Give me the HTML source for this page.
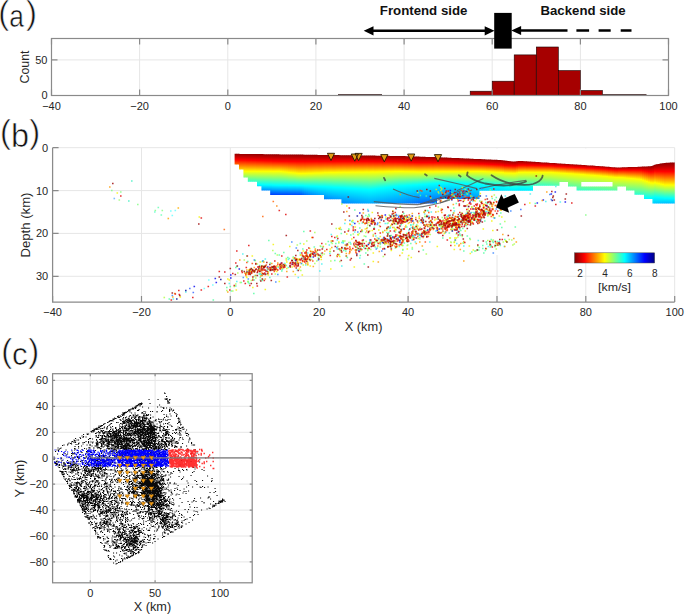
<!DOCTYPE html><html><head><meta charset="utf-8"><title>Figure</title><style>html,body{margin:0;padding:0;background:#fff;width:685px;height:614px;overflow:hidden}svg{display:block}</style></head><body><svg width="685" height="614" viewBox="0 0 685 614" font-family='"Liberation Sans", sans-serif'><defs><clipPath id="vm"><path d="M234.6 153.8L236.6 153.8L238.6 153.8L240.6 153.9L242.6 153.9L244.6 153.9L246.6 153.9L248.6 154.0L250.6 154.0L252.6 154.0L254.6 154.0L256.6 154.1L258.6 154.1L260.6 154.1L262.6 154.1L264.6 154.2L266.6 154.2L268.6 154.2L270.6 154.2L272.6 154.3L274.6 154.3L276.6 154.3L278.6 154.3L280.6 154.4L282.6 154.4L284.6 154.4L286.6 154.4L288.6 154.5L290.6 154.5L292.6 154.5L294.6 154.5L296.6 154.6L298.6 154.6L300.6 154.6L302.6 154.6L304.6 154.7L306.6 154.7L308.6 154.7L310.6 154.7L312.6 154.8L314.6 154.8L316.6 154.8L318.6 154.9L320.6 154.9L322.6 154.9L324.6 154.9L326.6 155.0L328.6 155.0L330.6 155.0L332.6 155.1L334.6 155.1L336.6 155.1L338.6 155.1L340.6 155.2L342.6 155.2L344.6 155.2L346.6 155.3L348.6 155.3L350.6 155.3L352.6 155.3L354.6 155.4L356.6 155.4L358.6 155.4L360.6 155.4L362.6 155.5L364.6 155.5L366.6 155.5L368.6 155.6L370.6 155.6L372.6 155.6L374.6 155.6L376.6 155.7L378.6 155.7L380.6 155.7L382.6 155.8L384.6 155.8L386.6 155.8L388.6 155.8L390.6 155.9L392.6 155.9L394.6 155.9L396.6 156.0L398.6 156.0L400.6 156.0L402.6 156.1L404.6 156.1L406.6 156.2L408.6 156.3L410.6 156.3L412.6 156.4L414.6 156.5L416.6 156.5L418.6 156.6L420.6 156.7L422.6 156.7L424.6 156.8L426.6 156.9L428.6 156.9L430.6 157.0L432.6 157.1L434.6 157.1L436.6 157.2L438.6 157.3L440.6 157.3L442.6 157.4L444.6 157.5L446.6 157.6L448.6 157.7L450.6 157.8L452.6 157.9L454.6 158.0L456.6 158.0L458.6 158.1L460.6 158.2L462.6 158.3L464.6 158.4L466.6 158.5L468.6 158.6L470.6 158.7L472.6 158.8L474.6 158.9L476.6 158.9L478.6 159.0L480.6 159.1L482.6 159.2L484.6 159.3L486.6 159.4L488.6 159.5L490.6 159.6L492.6 159.7L494.6 159.8L496.6 159.8L498.6 159.9L500.6 160.1L502.6 160.3L504.6 160.5L506.6 160.7L508.6 160.9L510.6 161.2L512.6 161.4L514.6 161.6L516.6 161.3L518.6 161.1L520.6 160.9L522.6 161.1L524.6 161.2L526.6 161.3L528.6 161.5L530.6 161.6L532.6 161.7L534.6 161.8L536.6 162.0L538.6 162.1L540.6 162.2L542.6 162.4L544.6 162.5L546.6 162.6L548.6 162.8L550.6 162.9L552.6 163.0L554.6 163.1L556.6 163.3L558.6 163.4L560.6 163.5L562.6 163.7L564.6 163.8L566.6 163.9L568.6 164.1L570.6 164.2L572.6 164.3L574.6 164.4L576.6 164.6L578.6 164.7L580.6 164.8L582.6 165.0L584.6 165.1L586.6 165.2L588.6 165.4L590.6 165.5L592.6 165.6L594.6 165.7L596.6 165.9L598.6 166.0L600.6 166.2L602.6 166.3L604.6 166.5L606.6 166.7L608.6 166.8L610.6 167.0L612.6 167.2L614.6 167.3L616.6 167.5L618.6 167.4L620.6 167.4L622.6 167.3L624.6 167.3L626.6 167.2L628.6 167.1L630.6 167.1L632.6 167.0L634.6 167.0L636.6 166.9L638.6 166.8L640.6 166.8L642.6 166.6L644.6 166.5L646.6 166.4L648.6 166.3L650.6 166.2L652.6 165.8L654.6 164.7L656.6 164.2L658.6 163.9L660.6 163.5L662.6 163.2L664.6 162.9L666.6 162.8L668.6 162.7L670.6 162.6L672.6 162.6L674.6 162.5L674.7 162.5L674.7 203.5L652.5 203.5L652.5 199.1L644.0 199.1L644.0 194.7L634.5 194.7L634.5 190.5L626.0 190.5L626.0 186.4L617.4 186.4L617.4 190.5L576.6 190.5L576.6 186.4L568.0 186.4L568.0 182.0L559.5 182.0L559.5 185.8L533.0 185.8L533.0 190.7L479.5 190.7L479.5 199.0L437.0 199.0L437.0 203.5L341.4 203.5L341.4 199.3L324.0 199.3L324.0 194.9L270.2 194.9L270.2 190.5L261.4 190.5L261.4 186.2L257.0 186.2L257.0 181.8L247.8 181.8L247.8 177.4L243.4 177.4L243.4 169.5L239.0 169.5L239.0 164.6L234.6 164.6ZM581.3 182H612.6V186.4H581.3Z" clip-rule="evenodd"/></clipPath><linearGradient id="v0" x2="0" y2="1"><stop offset="0.000" stop-color="#800000"/><stop offset="0.143" stop-color="#ff0000"/><stop offset="0.377" stop-color="#ffff00"/><stop offset="0.633" stop-color="#00ffff"/><stop offset="0.878" stop-color="#0000ff"/><stop offset="1.000" stop-color="#0000a0"/></linearGradient><linearGradient id="v1" x2="0" y2="1"><stop offset="0.000" stop-color="#800000"/><stop offset="0.144" stop-color="#ff0000"/><stop offset="0.376" stop-color="#ffff00"/><stop offset="0.632" stop-color="#00ffff"/><stop offset="0.878" stop-color="#0000ff"/><stop offset="1.000" stop-color="#0000a0"/></linearGradient><linearGradient id="v2" x2="0" y2="1"><stop offset="0.000" stop-color="#800000"/><stop offset="0.144" stop-color="#ff0000"/><stop offset="0.375" stop-color="#ffff00"/><stop offset="0.632" stop-color="#00ffff"/><stop offset="0.878" stop-color="#0000ff"/><stop offset="1.000" stop-color="#0000a0"/></linearGradient><linearGradient id="v3" x2="0" y2="1"><stop offset="0.000" stop-color="#800000"/><stop offset="0.145" stop-color="#ff0000"/><stop offset="0.374" stop-color="#ffff00"/><stop offset="0.632" stop-color="#00ffff"/><stop offset="0.878" stop-color="#0000ff"/><stop offset="1.000" stop-color="#0000a0"/></linearGradient><linearGradient id="v4" x2="0" y2="1"><stop offset="0.000" stop-color="#800000"/><stop offset="0.146" stop-color="#ff0000"/><stop offset="0.373" stop-color="#ffff00"/><stop offset="0.632" stop-color="#00ffff"/><stop offset="0.879" stop-color="#0000ff"/><stop offset="1.000" stop-color="#0000a0"/></linearGradient><linearGradient id="v5" x2="0" y2="1"><stop offset="0.000" stop-color="#800000"/><stop offset="0.146" stop-color="#ff0000"/><stop offset="0.371" stop-color="#ffff00"/><stop offset="0.631" stop-color="#00ffff"/><stop offset="0.879" stop-color="#0000ff"/><stop offset="1.000" stop-color="#0000a0"/></linearGradient><linearGradient id="v6" x2="0" y2="1"><stop offset="0.000" stop-color="#800000"/><stop offset="0.147" stop-color="#ff0000"/><stop offset="0.370" stop-color="#ffff00"/><stop offset="0.631" stop-color="#00ffff"/><stop offset="0.879" stop-color="#0000ff"/><stop offset="1.000" stop-color="#0000a0"/></linearGradient><linearGradient id="v7" x2="0" y2="1"><stop offset="0.000" stop-color="#800000"/><stop offset="0.148" stop-color="#ff0000"/><stop offset="0.369" stop-color="#ffff00"/><stop offset="0.631" stop-color="#00ffff"/><stop offset="0.879" stop-color="#0000ff"/><stop offset="1.000" stop-color="#0000a0"/></linearGradient><linearGradient id="v8" x2="0" y2="1"><stop offset="0.000" stop-color="#800000"/><stop offset="0.148" stop-color="#ff0000"/><stop offset="0.368" stop-color="#ffff00"/><stop offset="0.631" stop-color="#00ffff"/><stop offset="0.879" stop-color="#0000ff"/><stop offset="1.000" stop-color="#0000a0"/></linearGradient><linearGradient id="v9" x2="0" y2="1"><stop offset="0.000" stop-color="#800000"/><stop offset="0.149" stop-color="#ff0000"/><stop offset="0.367" stop-color="#ffff00"/><stop offset="0.630" stop-color="#00ffff"/><stop offset="0.880" stop-color="#0000ff"/><stop offset="1.000" stop-color="#0000a0"/></linearGradient><linearGradient id="v10" x2="0" y2="1"><stop offset="0.000" stop-color="#800000"/><stop offset="0.149" stop-color="#ff0000"/><stop offset="0.366" stop-color="#ffff00"/><stop offset="0.630" stop-color="#00ffff"/><stop offset="0.880" stop-color="#0000ff"/><stop offset="1.000" stop-color="#0000a0"/></linearGradient><linearGradient id="v11" x2="0" y2="1"><stop offset="0.000" stop-color="#800000"/><stop offset="0.150" stop-color="#ff0000"/><stop offset="0.365" stop-color="#ffff00"/><stop offset="0.630" stop-color="#00ffff"/><stop offset="0.880" stop-color="#0000ff"/><stop offset="1.000" stop-color="#0000a0"/></linearGradient><linearGradient id="v12" x2="0" y2="1"><stop offset="0.000" stop-color="#800000"/><stop offset="0.151" stop-color="#ff0000"/><stop offset="0.364" stop-color="#ffff00"/><stop offset="0.630" stop-color="#00ffff"/><stop offset="0.880" stop-color="#0000ff"/><stop offset="1.000" stop-color="#0000a0"/></linearGradient><linearGradient id="v13" x2="0" y2="1"><stop offset="0.000" stop-color="#800000"/><stop offset="0.151" stop-color="#ff0000"/><stop offset="0.363" stop-color="#ffff00"/><stop offset="0.630" stop-color="#00ffff"/><stop offset="0.880" stop-color="#0000ff"/><stop offset="1.000" stop-color="#0000a0"/></linearGradient><linearGradient id="v14" x2="0" y2="1"><stop offset="0.000" stop-color="#800000"/><stop offset="0.152" stop-color="#ff0000"/><stop offset="0.362" stop-color="#ffff00"/><stop offset="0.629" stop-color="#00ffff"/><stop offset="0.881" stop-color="#0000ff"/><stop offset="1.000" stop-color="#0000a0"/></linearGradient><linearGradient id="v15" x2="0" y2="1"><stop offset="0.000" stop-color="#800000"/><stop offset="0.152" stop-color="#ff0000"/><stop offset="0.361" stop-color="#ffff00"/><stop offset="0.629" stop-color="#00ffff"/><stop offset="0.881" stop-color="#0000ff"/><stop offset="1.000" stop-color="#0000a0"/></linearGradient><linearGradient id="v16" x2="0" y2="1"><stop offset="0.000" stop-color="#800000"/><stop offset="0.153" stop-color="#ff0000"/><stop offset="0.360" stop-color="#ffff00"/><stop offset="0.629" stop-color="#00ffff"/><stop offset="0.881" stop-color="#0000ff"/><stop offset="1.000" stop-color="#0000a0"/></linearGradient><linearGradient id="v17" x2="0" y2="1"><stop offset="0.000" stop-color="#800000"/><stop offset="0.154" stop-color="#ff0000"/><stop offset="0.359" stop-color="#ffff00"/><stop offset="0.629" stop-color="#00ffff"/><stop offset="0.881" stop-color="#0000ff"/><stop offset="1.000" stop-color="#0000a0"/></linearGradient><linearGradient id="v18" x2="0" y2="1"><stop offset="0.000" stop-color="#800000"/><stop offset="0.154" stop-color="#ff0000"/><stop offset="0.358" stop-color="#ffff00"/><stop offset="0.628" stop-color="#00ffff"/><stop offset="0.881" stop-color="#0000ff"/><stop offset="1.000" stop-color="#0000a0"/></linearGradient><linearGradient id="v19" x2="0" y2="1"><stop offset="0.000" stop-color="#800000"/><stop offset="0.155" stop-color="#ff0000"/><stop offset="0.357" stop-color="#ffff00"/><stop offset="0.628" stop-color="#00ffff"/><stop offset="0.882" stop-color="#0000ff"/><stop offset="1.000" stop-color="#0000a0"/></linearGradient><linearGradient id="v20" x2="0" y2="1"><stop offset="0.000" stop-color="#800000"/><stop offset="0.155" stop-color="#ff0000"/><stop offset="0.356" stop-color="#ffff00"/><stop offset="0.628" stop-color="#00ffff"/><stop offset="0.882" stop-color="#0000ff"/><stop offset="1.000" stop-color="#0000a0"/></linearGradient><linearGradient id="v21" x2="0" y2="1"><stop offset="0.000" stop-color="#800000"/><stop offset="0.156" stop-color="#ff0000"/><stop offset="0.354" stop-color="#ffff00"/><stop offset="0.628" stop-color="#00ffff"/><stop offset="0.882" stop-color="#0000ff"/><stop offset="1.000" stop-color="#0000a0"/></linearGradient><linearGradient id="v22" x2="0" y2="1"><stop offset="0.000" stop-color="#800000"/><stop offset="0.157" stop-color="#ff0000"/><stop offset="0.353" stop-color="#ffff00"/><stop offset="0.628" stop-color="#00ffff"/><stop offset="0.882" stop-color="#0000ff"/><stop offset="1.000" stop-color="#0000a0"/></linearGradient><linearGradient id="v23" x2="0" y2="1"><stop offset="0.000" stop-color="#800000"/><stop offset="0.157" stop-color="#ff0000"/><stop offset="0.355" stop-color="#ffff00"/><stop offset="0.627" stop-color="#00ffff"/><stop offset="0.882" stop-color="#0000ff"/><stop offset="1.000" stop-color="#0000a0"/></linearGradient><linearGradient id="v24" x2="0" y2="1"><stop offset="0.000" stop-color="#800000"/><stop offset="0.157" stop-color="#ff0000"/><stop offset="0.359" stop-color="#ffff00"/><stop offset="0.627" stop-color="#00ffff"/><stop offset="0.882" stop-color="#0000ff"/><stop offset="1.000" stop-color="#0000a0"/></linearGradient><linearGradient id="v25" x2="0" y2="1"><stop offset="0.000" stop-color="#800000"/><stop offset="0.157" stop-color="#ff0000"/><stop offset="0.363" stop-color="#ffff00"/><stop offset="0.627" stop-color="#00ffff"/><stop offset="0.882" stop-color="#0000ff"/><stop offset="1.000" stop-color="#0000a0"/></linearGradient><linearGradient id="v26" x2="0" y2="1"><stop offset="0.000" stop-color="#800000"/><stop offset="0.157" stop-color="#ff0000"/><stop offset="0.367" stop-color="#ffff00"/><stop offset="0.627" stop-color="#00ffff"/><stop offset="0.882" stop-color="#0000ff"/><stop offset="1.000" stop-color="#0000a0"/></linearGradient><linearGradient id="v27" x2="0" y2="1"><stop offset="0.000" stop-color="#800000"/><stop offset="0.157" stop-color="#ff0000"/><stop offset="0.371" stop-color="#ffff00"/><stop offset="0.627" stop-color="#00ffff"/><stop offset="0.882" stop-color="#0000ff"/><stop offset="1.000" stop-color="#0000a0"/></linearGradient><linearGradient id="v28" x2="0" y2="1"><stop offset="0.000" stop-color="#800000"/><stop offset="0.157" stop-color="#ff0000"/><stop offset="0.375" stop-color="#ffff00"/><stop offset="0.627" stop-color="#00ffff"/><stop offset="0.882" stop-color="#0000ff"/><stop offset="1.000" stop-color="#0000a0"/></linearGradient><linearGradient id="v29" x2="0" y2="1"><stop offset="0.000" stop-color="#800000"/><stop offset="0.157" stop-color="#ff0000"/><stop offset="0.378" stop-color="#ffff00"/><stop offset="0.627" stop-color="#00ffff"/><stop offset="0.882" stop-color="#0000ff"/><stop offset="1.000" stop-color="#0000a0"/></linearGradient><linearGradient id="v30" x2="0" y2="1"><stop offset="0.000" stop-color="#800000"/><stop offset="0.157" stop-color="#ff0000"/><stop offset="0.382" stop-color="#ffff00"/><stop offset="0.627" stop-color="#00ffff"/><stop offset="0.882" stop-color="#0000ff"/><stop offset="1.000" stop-color="#0000a0"/></linearGradient><linearGradient id="v31" x2="0" y2="1"><stop offset="0.000" stop-color="#800000"/><stop offset="0.157" stop-color="#ff0000"/><stop offset="0.386" stop-color="#ffff00"/><stop offset="0.627" stop-color="#00ffff"/><stop offset="0.882" stop-color="#0000ff"/><stop offset="1.000" stop-color="#0000a0"/></linearGradient><linearGradient id="v32" x2="0" y2="1"><stop offset="0.000" stop-color="#800000"/><stop offset="0.157" stop-color="#ff0000"/><stop offset="0.390" stop-color="#ffff00"/><stop offset="0.627" stop-color="#00ffff"/><stop offset="0.882" stop-color="#0000ff"/><stop offset="1.000" stop-color="#0000a0"/></linearGradient><linearGradient id="v33" x2="0" y2="1"><stop offset="0.000" stop-color="#800000"/><stop offset="0.155" stop-color="#ff0000"/><stop offset="0.387" stop-color="#ffff00"/><stop offset="0.622" stop-color="#00ffff"/><stop offset="0.884" stop-color="#0000ff"/><stop offset="1.000" stop-color="#0000a0"/></linearGradient><linearGradient id="v34" x2="0" y2="1"><stop offset="0.000" stop-color="#800000"/><stop offset="0.151" stop-color="#ff0000"/><stop offset="0.377" stop-color="#ffff00"/><stop offset="0.610" stop-color="#00ffff"/><stop offset="0.886" stop-color="#0000ff"/><stop offset="1.000" stop-color="#0000a0"/></linearGradient><linearGradient id="v35" x2="0" y2="1"><stop offset="0.000" stop-color="#800000"/><stop offset="0.148" stop-color="#ff0000"/><stop offset="0.368" stop-color="#ffff00"/><stop offset="0.599" stop-color="#00ffff"/><stop offset="0.888" stop-color="#0000ff"/><stop offset="1.000" stop-color="#0000a0"/></linearGradient><linearGradient id="v36" x2="0" y2="1"><stop offset="0.000" stop-color="#800000"/><stop offset="0.144" stop-color="#ff0000"/><stop offset="0.359" stop-color="#ffff00"/><stop offset="0.589" stop-color="#00ffff"/><stop offset="0.890" stop-color="#0000ff"/><stop offset="1.000" stop-color="#0000a0"/></linearGradient><linearGradient id="v37" x2="0" y2="1"><stop offset="0.000" stop-color="#800000"/><stop offset="0.141" stop-color="#ff0000"/><stop offset="0.350" stop-color="#ffff00"/><stop offset="0.579" stop-color="#00ffff"/><stop offset="0.892" stop-color="#0000ff"/><stop offset="1.000" stop-color="#0000a0"/></linearGradient><linearGradient id="v38" x2="0" y2="1"><stop offset="0.000" stop-color="#800000"/><stop offset="0.137" stop-color="#ff0000"/><stop offset="0.342" stop-color="#ffff00"/><stop offset="0.569" stop-color="#00ffff"/><stop offset="0.894" stop-color="#0000ff"/><stop offset="1.000" stop-color="#0000a0"/></linearGradient><linearGradient id="v39" x2="0" y2="1"><stop offset="0.000" stop-color="#800000"/><stop offset="0.134" stop-color="#ff0000"/><stop offset="0.334" stop-color="#ffff00"/><stop offset="0.560" stop-color="#00ffff"/><stop offset="0.896" stop-color="#0000ff"/><stop offset="1.000" stop-color="#0000a0"/></linearGradient><linearGradient id="v40" x2="0" y2="1"><stop offset="0.000" stop-color="#800000"/><stop offset="0.131" stop-color="#ff0000"/><stop offset="0.326" stop-color="#ffff00"/><stop offset="0.551" stop-color="#00ffff"/><stop offset="0.898" stop-color="#0000ff"/><stop offset="1.000" stop-color="#0000a0"/></linearGradient><linearGradient id="v41" x2="0" y2="1"><stop offset="0.000" stop-color="#800000"/><stop offset="0.128" stop-color="#ff0000"/><stop offset="0.319" stop-color="#ffff00"/><stop offset="0.542" stop-color="#00ffff"/><stop offset="0.900" stop-color="#0000ff"/><stop offset="1.000" stop-color="#0000a0"/></linearGradient><linearGradient id="v42" x2="0" y2="1"><stop offset="0.000" stop-color="#800000"/><stop offset="0.126" stop-color="#ff0000"/><stop offset="0.312" stop-color="#ffff00"/><stop offset="0.534" stop-color="#00ffff"/><stop offset="0.902" stop-color="#0000ff"/><stop offset="1.000" stop-color="#0000a0"/></linearGradient><linearGradient id="v43" x2="0" y2="1"><stop offset="0.000" stop-color="#800000"/><stop offset="0.123" stop-color="#ff0000"/><stop offset="0.305" stop-color="#ffff00"/><stop offset="0.526" stop-color="#00ffff"/><stop offset="0.904" stop-color="#0000ff"/><stop offset="1.000" stop-color="#0000a0"/></linearGradient><linearGradient id="v44" x2="0" y2="1"><stop offset="0.000" stop-color="#800000"/><stop offset="0.120" stop-color="#ff0000"/><stop offset="0.298" stop-color="#ffff00"/><stop offset="0.518" stop-color="#00ffff"/><stop offset="0.905" stop-color="#0000ff"/><stop offset="1.000" stop-color="#0000a0"/></linearGradient><linearGradient id="v45" x2="0" y2="1"><stop offset="0.000" stop-color="#800000"/><stop offset="0.118" stop-color="#ff0000"/><stop offset="0.291" stop-color="#ffff00"/><stop offset="0.510" stop-color="#00ffff"/><stop offset="0.907" stop-color="#0000ff"/><stop offset="1.000" stop-color="#0000a0"/></linearGradient><linearGradient id="v46" x2="0" y2="1"><stop offset="0.000" stop-color="#800000"/><stop offset="0.115" stop-color="#ff0000"/><stop offset="0.285" stop-color="#ffff00"/><stop offset="0.503" stop-color="#00ffff"/><stop offset="0.908" stop-color="#0000ff"/><stop offset="1.000" stop-color="#0000a0"/></linearGradient><linearGradient id="v47" x2="0" y2="1"><stop offset="0.000" stop-color="#800000"/><stop offset="0.113" stop-color="#ff0000"/><stop offset="0.279" stop-color="#ffff00"/><stop offset="0.496" stop-color="#00ffff"/><stop offset="0.910" stop-color="#0000ff"/><stop offset="1.000" stop-color="#0000a0"/></linearGradient><linearGradient id="v48" x2="0" y2="1"><stop offset="0.000" stop-color="#800000"/><stop offset="0.111" stop-color="#ff0000"/><stop offset="0.274" stop-color="#ffff00"/><stop offset="0.491" stop-color="#00ffff"/><stop offset="0.911" stop-color="#0000ff"/><stop offset="1.000" stop-color="#0000a0"/></linearGradient><linearGradient id="v49" x2="0" y2="1"><stop offset="0.000" stop-color="#800000"/><stop offset="0.110" stop-color="#ff0000"/><stop offset="0.270" stop-color="#ffff00"/><stop offset="0.487" stop-color="#00ffff"/><stop offset="0.912" stop-color="#0000ff"/><stop offset="1.000" stop-color="#0000a0"/></linearGradient><linearGradient id="v50" x2="0" y2="1"><stop offset="0.000" stop-color="#800000"/><stop offset="0.108" stop-color="#ff0000"/><stop offset="0.267" stop-color="#ffff00"/><stop offset="0.483" stop-color="#00ffff"/><stop offset="0.913" stop-color="#0000ff"/><stop offset="1.000" stop-color="#0000a0"/></linearGradient><linearGradient id="v51" x2="0" y2="1"><stop offset="0.000" stop-color="#800000"/><stop offset="0.106" stop-color="#ff0000"/><stop offset="0.263" stop-color="#ffff00"/><stop offset="0.479" stop-color="#00ffff"/><stop offset="0.914" stop-color="#0000ff"/><stop offset="1.000" stop-color="#0000a0"/></linearGradient><linearGradient id="v52" x2="0" y2="1"><stop offset="0.000" stop-color="#800000"/><stop offset="0.105" stop-color="#ff0000"/><stop offset="0.259" stop-color="#ffff00"/><stop offset="0.475" stop-color="#00ffff"/><stop offset="0.915" stop-color="#0000ff"/><stop offset="1.000" stop-color="#0000a0"/></linearGradient><linearGradient id="v53" x2="0" y2="1"><stop offset="0.000" stop-color="#800000"/><stop offset="0.104" stop-color="#ff0000"/><stop offset="0.256" stop-color="#ffff00"/><stop offset="0.472" stop-color="#00ffff"/><stop offset="0.916" stop-color="#0000ff"/><stop offset="1.000" stop-color="#0000a0"/></linearGradient><linearGradient id="v54" x2="0" y2="1"><stop offset="0.000" stop-color="#800000"/><stop offset="0.102" stop-color="#ff0000"/><stop offset="0.252" stop-color="#ffff00"/><stop offset="0.468" stop-color="#00ffff"/><stop offset="0.917" stop-color="#0000ff"/><stop offset="1.000" stop-color="#0000a0"/></linearGradient><linearGradient id="v55" x2="0" y2="1"><stop offset="0.000" stop-color="#800000"/><stop offset="0.101" stop-color="#ff0000"/><stop offset="0.249" stop-color="#ffff00"/><stop offset="0.465" stop-color="#00ffff"/><stop offset="0.917" stop-color="#0000ff"/><stop offset="1.000" stop-color="#0000a0"/></linearGradient><linearGradient id="v56" x2="0" y2="1"><stop offset="0.000" stop-color="#800000"/><stop offset="0.099" stop-color="#ff0000"/><stop offset="0.246" stop-color="#ffff00"/><stop offset="0.461" stop-color="#00ffff"/><stop offset="0.918" stop-color="#0000ff"/><stop offset="1.000" stop-color="#0000a0"/></linearGradient><linearGradient id="v57" x2="0" y2="1"><stop offset="0.000" stop-color="#800000"/><stop offset="0.098" stop-color="#ff0000"/><stop offset="0.243" stop-color="#ffff00"/><stop offset="0.458" stop-color="#00ffff"/><stop offset="0.919" stop-color="#0000ff"/><stop offset="1.000" stop-color="#0000a0"/></linearGradient><linearGradient id="v58" x2="0" y2="1"><stop offset="0.000" stop-color="#800000"/><stop offset="0.097" stop-color="#ff0000"/><stop offset="0.239" stop-color="#ffff00"/><stop offset="0.455" stop-color="#00ffff"/><stop offset="0.920" stop-color="#0000ff"/><stop offset="1.000" stop-color="#0000a0"/></linearGradient><linearGradient id="v59" x2="0" y2="1"><stop offset="0.000" stop-color="#800000"/><stop offset="0.095" stop-color="#ff0000"/><stop offset="0.236" stop-color="#ffff00"/><stop offset="0.452" stop-color="#00ffff"/><stop offset="0.921" stop-color="#0000ff"/><stop offset="1.000" stop-color="#0000a0"/></linearGradient><linearGradient id="v60" x2="0" y2="1"><stop offset="0.000" stop-color="#800000"/><stop offset="0.094" stop-color="#ff0000"/><stop offset="0.233" stop-color="#ffff00"/><stop offset="0.448" stop-color="#00ffff"/><stop offset="0.921" stop-color="#0000ff"/><stop offset="1.000" stop-color="#0000a0"/></linearGradient><linearGradient id="v61" x2="0" y2="1"><stop offset="0.000" stop-color="#800000"/><stop offset="0.093" stop-color="#ff0000"/><stop offset="0.230" stop-color="#ffff00"/><stop offset="0.445" stop-color="#00ffff"/><stop offset="0.922" stop-color="#0000ff"/><stop offset="1.000" stop-color="#0000a0"/></linearGradient><linearGradient id="v62" x2="0" y2="1"><stop offset="0.000" stop-color="#800000"/><stop offset="0.092" stop-color="#ff0000"/><stop offset="0.227" stop-color="#ffff00"/><stop offset="0.442" stop-color="#00ffff"/><stop offset="0.923" stop-color="#0000ff"/><stop offset="1.000" stop-color="#0000a0"/></linearGradient><linearGradient id="v63" x2="0" y2="1"><stop offset="0.000" stop-color="#800000"/><stop offset="0.090" stop-color="#ff0000"/><stop offset="0.224" stop-color="#ffff00"/><stop offset="0.439" stop-color="#00ffff"/><stop offset="0.924" stop-color="#0000ff"/><stop offset="1.000" stop-color="#0000a0"/></linearGradient><linearGradient id="v64" x2="0" y2="1"><stop offset="0.000" stop-color="#800000"/><stop offset="0.089" stop-color="#ff0000"/><stop offset="0.222" stop-color="#ffff00"/><stop offset="0.437" stop-color="#00ffff"/><stop offset="0.924" stop-color="#0000ff"/><stop offset="1.000" stop-color="#0000a0"/></linearGradient><linearGradient id="v65" x2="0" y2="1"><stop offset="0.000" stop-color="#800000"/><stop offset="0.088" stop-color="#ff0000"/><stop offset="0.219" stop-color="#ffff00"/><stop offset="0.434" stop-color="#00ffff"/><stop offset="0.925" stop-color="#0000ff"/><stop offset="1.000" stop-color="#0000a0"/></linearGradient><linearGradient id="v66" x2="0" y2="1"><stop offset="0.000" stop-color="#800000"/><stop offset="0.087" stop-color="#ff0000"/><stop offset="0.216" stop-color="#ffff00"/><stop offset="0.431" stop-color="#00ffff"/><stop offset="0.926" stop-color="#0000ff"/><stop offset="1.000" stop-color="#0000a0"/></linearGradient><linearGradient id="v67" x2="0" y2="1"><stop offset="0.000" stop-color="#800000"/><stop offset="0.086" stop-color="#ff0000"/><stop offset="0.214" stop-color="#ffff00"/><stop offset="0.428" stop-color="#00ffff"/><stop offset="0.926" stop-color="#0000ff"/><stop offset="1.000" stop-color="#0000a0"/></linearGradient><linearGradient id="v68" x2="0" y2="1"><stop offset="0.000" stop-color="#800000"/><stop offset="0.086" stop-color="#ff0000"/><stop offset="0.212" stop-color="#ffff00"/><stop offset="0.426" stop-color="#00ffff"/><stop offset="0.927" stop-color="#0000ff"/><stop offset="1.000" stop-color="#0000a0"/></linearGradient><linearGradient id="v69" x2="0" y2="1"><stop offset="0.000" stop-color="#800000"/><stop offset="0.086" stop-color="#ff0000"/><stop offset="0.212" stop-color="#ffff00"/><stop offset="0.425" stop-color="#00ffff"/><stop offset="0.926" stop-color="#0000ff"/><stop offset="1.000" stop-color="#0000a0"/></linearGradient><linearGradient id="v70" x2="0" y2="1"><stop offset="0.000" stop-color="#800000"/><stop offset="0.086" stop-color="#ff0000"/><stop offset="0.213" stop-color="#ffff00"/><stop offset="0.423" stop-color="#00ffff"/><stop offset="0.926" stop-color="#0000ff"/><stop offset="1.000" stop-color="#0000a0"/></linearGradient><linearGradient id="v71" x2="0" y2="1"><stop offset="0.000" stop-color="#800000"/><stop offset="0.087" stop-color="#ff0000"/><stop offset="0.213" stop-color="#ffff00"/><stop offset="0.421" stop-color="#00ffff"/><stop offset="0.926" stop-color="#0000ff"/><stop offset="1.000" stop-color="#0000a0"/></linearGradient><linearGradient id="v72" x2="0" y2="1"><stop offset="0.000" stop-color="#800000"/><stop offset="0.087" stop-color="#ff0000"/><stop offset="0.213" stop-color="#ffff00"/><stop offset="0.420" stop-color="#00ffff"/><stop offset="0.925" stop-color="#0000ff"/><stop offset="1.000" stop-color="#0000a0"/></linearGradient><linearGradient id="v73" x2="0" y2="1"><stop offset="0.000" stop-color="#800000"/><stop offset="0.087" stop-color="#ff0000"/><stop offset="0.213" stop-color="#ffff00"/><stop offset="0.418" stop-color="#00ffff"/><stop offset="0.925" stop-color="#0000ff"/><stop offset="1.000" stop-color="#0000a0"/></linearGradient><linearGradient id="v74" x2="0" y2="1"><stop offset="0.000" stop-color="#800000"/><stop offset="0.088" stop-color="#ff0000"/><stop offset="0.213" stop-color="#ffff00"/><stop offset="0.417" stop-color="#00ffff"/><stop offset="0.925" stop-color="#0000ff"/><stop offset="1.000" stop-color="#0000a0"/></linearGradient><linearGradient id="v75" x2="0" y2="1"><stop offset="0.000" stop-color="#800000"/><stop offset="0.088" stop-color="#ff0000"/><stop offset="0.213" stop-color="#ffff00"/><stop offset="0.415" stop-color="#00ffff"/><stop offset="0.925" stop-color="#0000ff"/><stop offset="1.000" stop-color="#0000a0"/></linearGradient><linearGradient id="v76" x2="0" y2="1"><stop offset="0.000" stop-color="#800000"/><stop offset="0.088" stop-color="#ff0000"/><stop offset="0.213" stop-color="#ffff00"/><stop offset="0.413" stop-color="#00ffff"/><stop offset="0.924" stop-color="#0000ff"/><stop offset="1.000" stop-color="#0000a0"/></linearGradient><linearGradient id="v77" x2="0" y2="1"><stop offset="0.000" stop-color="#800000"/><stop offset="0.089" stop-color="#ff0000"/><stop offset="0.213" stop-color="#ffff00"/><stop offset="0.412" stop-color="#00ffff"/><stop offset="0.924" stop-color="#0000ff"/><stop offset="1.000" stop-color="#0000a0"/></linearGradient><linearGradient id="v78" x2="0" y2="1"><stop offset="0.000" stop-color="#800000"/><stop offset="0.089" stop-color="#ff0000"/><stop offset="0.214" stop-color="#ffff00"/><stop offset="0.410" stop-color="#00ffff"/><stop offset="0.924" stop-color="#0000ff"/><stop offset="1.000" stop-color="#0000a0"/></linearGradient><linearGradient id="v79" x2="0" y2="1"><stop offset="0.000" stop-color="#800000"/><stop offset="0.090" stop-color="#ff0000"/><stop offset="0.214" stop-color="#ffff00"/><stop offset="0.409" stop-color="#00ffff"/><stop offset="0.923" stop-color="#0000ff"/><stop offset="1.000" stop-color="#0000a0"/></linearGradient><linearGradient id="v80" x2="0" y2="1"><stop offset="0.000" stop-color="#800000"/><stop offset="0.090" stop-color="#ff0000"/><stop offset="0.214" stop-color="#ffff00"/><stop offset="0.407" stop-color="#00ffff"/><stop offset="0.923" stop-color="#0000ff"/><stop offset="1.000" stop-color="#0000a0"/></linearGradient><linearGradient id="v81" x2="0" y2="1"><stop offset="0.000" stop-color="#800000"/><stop offset="0.090" stop-color="#ff0000"/><stop offset="0.214" stop-color="#ffff00"/><stop offset="0.405" stop-color="#00ffff"/><stop offset="0.923" stop-color="#0000ff"/><stop offset="1.000" stop-color="#0000a0"/></linearGradient><linearGradient id="v82" x2="0" y2="1"><stop offset="0.000" stop-color="#800000"/><stop offset="0.091" stop-color="#ff0000"/><stop offset="0.214" stop-color="#ffff00"/><stop offset="0.403" stop-color="#00ffff"/><stop offset="0.922" stop-color="#0000ff"/><stop offset="1.000" stop-color="#0000a0"/></linearGradient><linearGradient id="v83" x2="0" y2="1"><stop offset="0.000" stop-color="#800000"/><stop offset="0.092" stop-color="#ff0000"/><stop offset="0.216" stop-color="#ffff00"/><stop offset="0.404" stop-color="#00ffff"/><stop offset="0.922" stop-color="#0000ff"/><stop offset="1.000" stop-color="#0000a0"/></linearGradient><linearGradient id="v84" x2="0" y2="1"><stop offset="0.000" stop-color="#800000"/><stop offset="0.093" stop-color="#ff0000"/><stop offset="0.218" stop-color="#ffff00"/><stop offset="0.407" stop-color="#00ffff"/><stop offset="0.921" stop-color="#0000ff"/><stop offset="1.000" stop-color="#0000a0"/></linearGradient><linearGradient id="v85" x2="0" y2="1"><stop offset="0.000" stop-color="#800000"/><stop offset="0.094" stop-color="#ff0000"/><stop offset="0.221" stop-color="#ffff00"/><stop offset="0.409" stop-color="#00ffff"/><stop offset="0.919" stop-color="#0000ff"/><stop offset="1.000" stop-color="#0000a0"/></linearGradient><linearGradient id="v86" x2="0" y2="1"><stop offset="0.000" stop-color="#800000"/><stop offset="0.095" stop-color="#ff0000"/><stop offset="0.224" stop-color="#ffff00"/><stop offset="0.412" stop-color="#00ffff"/><stop offset="0.918" stop-color="#0000ff"/><stop offset="1.000" stop-color="#0000a0"/></linearGradient><linearGradient id="v87" x2="0" y2="1"><stop offset="0.000" stop-color="#800000"/><stop offset="0.097" stop-color="#ff0000"/><stop offset="0.226" stop-color="#ffff00"/><stop offset="0.415" stop-color="#00ffff"/><stop offset="0.917" stop-color="#0000ff"/><stop offset="1.000" stop-color="#0000a0"/></linearGradient><linearGradient id="v88" x2="0" y2="1"><stop offset="0.000" stop-color="#800000"/><stop offset="0.098" stop-color="#ff0000"/><stop offset="0.229" stop-color="#ffff00"/><stop offset="0.418" stop-color="#00ffff"/><stop offset="0.916" stop-color="#0000ff"/><stop offset="1.000" stop-color="#0000a0"/></linearGradient><linearGradient id="v89" x2="0" y2="1"><stop offset="0.000" stop-color="#800000"/><stop offset="0.099" stop-color="#ff0000"/><stop offset="0.232" stop-color="#ffff00"/><stop offset="0.421" stop-color="#00ffff"/><stop offset="0.915" stop-color="#0000ff"/><stop offset="1.000" stop-color="#0000a0"/></linearGradient><linearGradient id="v90" x2="0" y2="1"><stop offset="0.000" stop-color="#800000"/><stop offset="0.101" stop-color="#ff0000"/><stop offset="0.235" stop-color="#ffff00"/><stop offset="0.424" stop-color="#00ffff"/><stop offset="0.914" stop-color="#0000ff"/><stop offset="1.000" stop-color="#0000a0"/></linearGradient><linearGradient id="v91" x2="0" y2="1"><stop offset="0.000" stop-color="#800000"/><stop offset="0.102" stop-color="#ff0000"/><stop offset="0.238" stop-color="#ffff00"/><stop offset="0.428" stop-color="#00ffff"/><stop offset="0.912" stop-color="#0000ff"/><stop offset="1.000" stop-color="#0000a0"/></linearGradient><linearGradient id="v92" x2="0" y2="1"><stop offset="0.000" stop-color="#800000"/><stop offset="0.104" stop-color="#ff0000"/><stop offset="0.242" stop-color="#ffff00"/><stop offset="0.431" stop-color="#00ffff"/><stop offset="0.911" stop-color="#0000ff"/><stop offset="1.000" stop-color="#0000a0"/></linearGradient><linearGradient id="v93" x2="0" y2="1"><stop offset="0.000" stop-color="#800000"/><stop offset="0.104" stop-color="#ff0000"/><stop offset="0.243" stop-color="#ffff00"/><stop offset="0.432" stop-color="#00ffff"/><stop offset="0.910" stop-color="#0000ff"/><stop offset="1.000" stop-color="#0000a0"/></linearGradient><linearGradient id="v94" x2="0" y2="1"><stop offset="0.000" stop-color="#800000"/><stop offset="0.104" stop-color="#ff0000"/><stop offset="0.243" stop-color="#ffff00"/><stop offset="0.431" stop-color="#00ffff"/><stop offset="0.910" stop-color="#0000ff"/><stop offset="1.000" stop-color="#0000a0"/></linearGradient><linearGradient id="v95" x2="0" y2="1"><stop offset="0.000" stop-color="#800000"/><stop offset="0.103" stop-color="#ff0000"/><stop offset="0.242" stop-color="#ffff00"/><stop offset="0.430" stop-color="#00ffff"/><stop offset="0.910" stop-color="#0000ff"/><stop offset="1.000" stop-color="#0000a0"/></linearGradient><linearGradient id="v96" x2="0" y2="1"><stop offset="0.000" stop-color="#800000"/><stop offset="0.102" stop-color="#ff0000"/><stop offset="0.242" stop-color="#ffff00"/><stop offset="0.428" stop-color="#00ffff"/><stop offset="0.909" stop-color="#0000ff"/><stop offset="1.000" stop-color="#0000a0"/></linearGradient><linearGradient id="v97" x2="0" y2="1"><stop offset="0.000" stop-color="#800000"/><stop offset="0.102" stop-color="#ff0000"/><stop offset="0.242" stop-color="#ffff00"/><stop offset="0.427" stop-color="#00ffff"/><stop offset="0.909" stop-color="#0000ff"/><stop offset="1.000" stop-color="#0000a0"/></linearGradient><linearGradient id="v98" x2="0" y2="1"><stop offset="0.000" stop-color="#800000"/><stop offset="0.101" stop-color="#ff0000"/><stop offset="0.241" stop-color="#ffff00"/><stop offset="0.426" stop-color="#00ffff"/><stop offset="0.908" stop-color="#0000ff"/><stop offset="1.000" stop-color="#0000a0"/></linearGradient><linearGradient id="v99" x2="0" y2="1"><stop offset="0.000" stop-color="#800000"/><stop offset="0.101" stop-color="#ff0000"/><stop offset="0.241" stop-color="#ffff00"/><stop offset="0.424" stop-color="#00ffff"/><stop offset="0.908" stop-color="#0000ff"/><stop offset="1.000" stop-color="#0000a0"/></linearGradient><linearGradient id="v100" x2="0" y2="1"><stop offset="0.000" stop-color="#800000"/><stop offset="0.100" stop-color="#ff0000"/><stop offset="0.241" stop-color="#ffff00"/><stop offset="0.423" stop-color="#00ffff"/><stop offset="0.908" stop-color="#0000ff"/><stop offset="1.000" stop-color="#0000a0"/></linearGradient><linearGradient id="v101" x2="0" y2="1"><stop offset="0.000" stop-color="#800000"/><stop offset="0.099" stop-color="#ff0000"/><stop offset="0.240" stop-color="#ffff00"/><stop offset="0.422" stop-color="#00ffff"/><stop offset="0.907" stop-color="#0000ff"/><stop offset="1.000" stop-color="#0000a0"/></linearGradient><linearGradient id="v102" x2="0" y2="1"><stop offset="0.000" stop-color="#800000"/><stop offset="0.099" stop-color="#ff0000"/><stop offset="0.240" stop-color="#ffff00"/><stop offset="0.420" stop-color="#00ffff"/><stop offset="0.907" stop-color="#0000ff"/><stop offset="1.000" stop-color="#0000a0"/></linearGradient><linearGradient id="v103" x2="0" y2="1"><stop offset="0.000" stop-color="#800000"/><stop offset="0.098" stop-color="#ff0000"/><stop offset="0.240" stop-color="#ffff00"/><stop offset="0.419" stop-color="#00ffff"/><stop offset="0.907" stop-color="#0000ff"/><stop offset="1.000" stop-color="#0000a0"/></linearGradient><linearGradient id="v104" x2="0" y2="1"><stop offset="0.000" stop-color="#800000"/><stop offset="0.097" stop-color="#ff0000"/><stop offset="0.239" stop-color="#ffff00"/><stop offset="0.418" stop-color="#00ffff"/><stop offset="0.906" stop-color="#0000ff"/><stop offset="1.000" stop-color="#0000a0"/></linearGradient><linearGradient id="v105" x2="0" y2="1"><stop offset="0.000" stop-color="#800000"/><stop offset="0.097" stop-color="#ff0000"/><stop offset="0.239" stop-color="#ffff00"/><stop offset="0.416" stop-color="#00ffff"/><stop offset="0.906" stop-color="#0000ff"/><stop offset="1.000" stop-color="#0000a0"/></linearGradient><linearGradient id="v106" x2="0" y2="1"><stop offset="0.000" stop-color="#800000"/><stop offset="0.096" stop-color="#ff0000"/><stop offset="0.239" stop-color="#ffff00"/><stop offset="0.415" stop-color="#00ffff"/><stop offset="0.905" stop-color="#0000ff"/><stop offset="1.000" stop-color="#0000a0"/></linearGradient><linearGradient id="v107" x2="0" y2="1"><stop offset="0.000" stop-color="#800000"/><stop offset="0.096" stop-color="#ff0000"/><stop offset="0.238" stop-color="#ffff00"/><stop offset="0.413" stop-color="#00ffff"/><stop offset="0.905" stop-color="#0000ff"/><stop offset="1.000" stop-color="#0000a0"/></linearGradient><linearGradient id="v108" x2="0" y2="1"><stop offset="0.000" stop-color="#800000"/><stop offset="0.095" stop-color="#ff0000"/><stop offset="0.237" stop-color="#ffff00"/><stop offset="0.412" stop-color="#00ffff"/><stop offset="0.905" stop-color="#0000ff"/><stop offset="1.000" stop-color="#0000a0"/></linearGradient><linearGradient id="v109" x2="0" y2="1"><stop offset="0.000" stop-color="#800000"/><stop offset="0.094" stop-color="#ff0000"/><stop offset="0.234" stop-color="#ffff00"/><stop offset="0.411" stop-color="#00ffff"/><stop offset="0.905" stop-color="#0000ff"/><stop offset="1.000" stop-color="#0000a0"/></linearGradient><linearGradient id="v110" x2="0" y2="1"><stop offset="0.000" stop-color="#800000"/><stop offset="0.094" stop-color="#ff0000"/><stop offset="0.231" stop-color="#ffff00"/><stop offset="0.410" stop-color="#00ffff"/><stop offset="0.906" stop-color="#0000ff"/><stop offset="1.000" stop-color="#0000a0"/></linearGradient><linearGradient id="v111" x2="0" y2="1"><stop offset="0.000" stop-color="#800000"/><stop offset="0.093" stop-color="#ff0000"/><stop offset="0.228" stop-color="#ffff00"/><stop offset="0.408" stop-color="#00ffff"/><stop offset="0.906" stop-color="#0000ff"/><stop offset="1.000" stop-color="#0000a0"/></linearGradient><linearGradient id="v112" x2="0" y2="1"><stop offset="0.000" stop-color="#800000"/><stop offset="0.093" stop-color="#ff0000"/><stop offset="0.226" stop-color="#ffff00"/><stop offset="0.407" stop-color="#00ffff"/><stop offset="0.907" stop-color="#0000ff"/><stop offset="1.000" stop-color="#0000a0"/></linearGradient><linearGradient id="v113" x2="0" y2="1"><stop offset="0.000" stop-color="#800000"/><stop offset="0.092" stop-color="#ff0000"/><stop offset="0.223" stop-color="#ffff00"/><stop offset="0.406" stop-color="#00ffff"/><stop offset="0.907" stop-color="#0000ff"/><stop offset="1.000" stop-color="#0000a0"/></linearGradient><linearGradient id="v114" x2="0" y2="1"><stop offset="0.000" stop-color="#800000"/><stop offset="0.091" stop-color="#ff0000"/><stop offset="0.220" stop-color="#ffff00"/><stop offset="0.405" stop-color="#00ffff"/><stop offset="0.907" stop-color="#0000ff"/><stop offset="1.000" stop-color="#0000a0"/></linearGradient><linearGradient id="v115" x2="0" y2="1"><stop offset="0.000" stop-color="#800000"/><stop offset="0.091" stop-color="#ff0000"/><stop offset="0.218" stop-color="#ffff00"/><stop offset="0.404" stop-color="#00ffff"/><stop offset="0.908" stop-color="#0000ff"/><stop offset="1.000" stop-color="#0000a0"/></linearGradient><linearGradient id="v116" x2="0" y2="1"><stop offset="0.000" stop-color="#800000"/><stop offset="0.090" stop-color="#ff0000"/><stop offset="0.215" stop-color="#ffff00"/><stop offset="0.403" stop-color="#00ffff"/><stop offset="0.908" stop-color="#0000ff"/><stop offset="1.000" stop-color="#0000a0"/></linearGradient><linearGradient id="v117" x2="0" y2="1"><stop offset="0.000" stop-color="#800000"/><stop offset="0.090" stop-color="#ff0000"/><stop offset="0.212" stop-color="#ffff00"/><stop offset="0.402" stop-color="#00ffff"/><stop offset="0.908" stop-color="#0000ff"/><stop offset="1.000" stop-color="#0000a0"/></linearGradient><linearGradient id="v118" x2="0" y2="1"><stop offset="0.000" stop-color="#800000"/><stop offset="0.089" stop-color="#ff0000"/><stop offset="0.210" stop-color="#ffff00"/><stop offset="0.400" stop-color="#00ffff"/><stop offset="0.909" stop-color="#0000ff"/><stop offset="1.000" stop-color="#0000a0"/></linearGradient><linearGradient id="v119" x2="0" y2="1"><stop offset="0.000" stop-color="#800000"/><stop offset="0.088" stop-color="#ff0000"/><stop offset="0.207" stop-color="#ffff00"/><stop offset="0.399" stop-color="#00ffff"/><stop offset="0.909" stop-color="#0000ff"/><stop offset="1.000" stop-color="#0000a0"/></linearGradient><linearGradient id="v120" x2="0" y2="1"><stop offset="0.000" stop-color="#800000"/><stop offset="0.088" stop-color="#ff0000"/><stop offset="0.205" stop-color="#ffff00"/><stop offset="0.398" stop-color="#00ffff"/><stop offset="0.910" stop-color="#0000ff"/><stop offset="1.000" stop-color="#0000a0"/></linearGradient><linearGradient id="v121" x2="0" y2="1"><stop offset="0.000" stop-color="#800000"/><stop offset="0.087" stop-color="#ff0000"/><stop offset="0.202" stop-color="#ffff00"/><stop offset="0.397" stop-color="#00ffff"/><stop offset="0.910" stop-color="#0000ff"/><stop offset="1.000" stop-color="#0000a0"/></linearGradient><linearGradient id="v122" x2="0" y2="1"><stop offset="0.000" stop-color="#800000"/><stop offset="0.087" stop-color="#ff0000"/><stop offset="0.200" stop-color="#ffff00"/><stop offset="0.396" stop-color="#00ffff"/><stop offset="0.910" stop-color="#0000ff"/><stop offset="1.000" stop-color="#0000a0"/></linearGradient><linearGradient id="v123" x2="0" y2="1"><stop offset="0.000" stop-color="#800000"/><stop offset="0.087" stop-color="#ff0000"/><stop offset="0.198" stop-color="#ffff00"/><stop offset="0.396" stop-color="#00ffff"/><stop offset="0.911" stop-color="#0000ff"/><stop offset="1.000" stop-color="#0000a0"/></linearGradient><linearGradient id="v124" x2="0" y2="1"><stop offset="0.000" stop-color="#800000"/><stop offset="0.086" stop-color="#ff0000"/><stop offset="0.198" stop-color="#ffff00"/><stop offset="0.396" stop-color="#00ffff"/><stop offset="0.911" stop-color="#0000ff"/><stop offset="1.000" stop-color="#0000a0"/></linearGradient><linearGradient id="v125" x2="0" y2="1"><stop offset="0.000" stop-color="#800000"/><stop offset="0.086" stop-color="#ff0000"/><stop offset="0.197" stop-color="#ffff00"/><stop offset="0.396" stop-color="#00ffff"/><stop offset="0.911" stop-color="#0000ff"/><stop offset="1.000" stop-color="#0000a0"/></linearGradient><linearGradient id="v126" x2="0" y2="1"><stop offset="0.000" stop-color="#800000"/><stop offset="0.086" stop-color="#ff0000"/><stop offset="0.197" stop-color="#ffff00"/><stop offset="0.396" stop-color="#00ffff"/><stop offset="0.911" stop-color="#0000ff"/><stop offset="1.000" stop-color="#0000a0"/></linearGradient><linearGradient id="v127" x2="0" y2="1"><stop offset="0.000" stop-color="#800000"/><stop offset="0.086" stop-color="#ff0000"/><stop offset="0.196" stop-color="#ffff00"/><stop offset="0.397" stop-color="#00ffff"/><stop offset="0.911" stop-color="#0000ff"/><stop offset="1.000" stop-color="#0000a0"/></linearGradient><linearGradient id="v128" x2="0" y2="1"><stop offset="0.000" stop-color="#800000"/><stop offset="0.086" stop-color="#ff0000"/><stop offset="0.196" stop-color="#ffff00"/><stop offset="0.397" stop-color="#00ffff"/><stop offset="0.912" stop-color="#0000ff"/><stop offset="1.000" stop-color="#0000a0"/></linearGradient><linearGradient id="v129" x2="0" y2="1"><stop offset="0.000" stop-color="#800000"/><stop offset="0.086" stop-color="#ff0000"/><stop offset="0.195" stop-color="#ffff00"/><stop offset="0.397" stop-color="#00ffff"/><stop offset="0.912" stop-color="#0000ff"/><stop offset="1.000" stop-color="#0000a0"/></linearGradient><linearGradient id="v130" x2="0" y2="1"><stop offset="0.000" stop-color="#800000"/><stop offset="0.086" stop-color="#ff0000"/><stop offset="0.195" stop-color="#ffff00"/><stop offset="0.397" stop-color="#00ffff"/><stop offset="0.912" stop-color="#0000ff"/><stop offset="1.000" stop-color="#0000a0"/></linearGradient><linearGradient id="v131" x2="0" y2="1"><stop offset="0.000" stop-color="#800000"/><stop offset="0.086" stop-color="#ff0000"/><stop offset="0.195" stop-color="#ffff00"/><stop offset="0.398" stop-color="#00ffff"/><stop offset="0.912" stop-color="#0000ff"/><stop offset="1.000" stop-color="#0000a0"/></linearGradient><linearGradient id="v132" x2="0" y2="1"><stop offset="0.000" stop-color="#800000"/><stop offset="0.086" stop-color="#ff0000"/><stop offset="0.194" stop-color="#ffff00"/><stop offset="0.398" stop-color="#00ffff"/><stop offset="0.912" stop-color="#0000ff"/><stop offset="1.000" stop-color="#0000a0"/></linearGradient><linearGradient id="v133" x2="0" y2="1"><stop offset="0.000" stop-color="#800000"/><stop offset="0.086" stop-color="#ff0000"/><stop offset="0.194" stop-color="#ffff00"/><stop offset="0.398" stop-color="#00ffff"/><stop offset="0.913" stop-color="#0000ff"/><stop offset="1.000" stop-color="#0000a0"/></linearGradient><linearGradient id="v134" x2="0" y2="1"><stop offset="0.000" stop-color="#800000"/><stop offset="0.086" stop-color="#ff0000"/><stop offset="0.193" stop-color="#ffff00"/><stop offset="0.398" stop-color="#00ffff"/><stop offset="0.913" stop-color="#0000ff"/><stop offset="1.000" stop-color="#0000a0"/></linearGradient><linearGradient id="v135" x2="0" y2="1"><stop offset="0.000" stop-color="#800000"/><stop offset="0.086" stop-color="#ff0000"/><stop offset="0.193" stop-color="#ffff00"/><stop offset="0.399" stop-color="#00ffff"/><stop offset="0.913" stop-color="#0000ff"/><stop offset="1.000" stop-color="#0000a0"/></linearGradient><linearGradient id="v136" x2="0" y2="1"><stop offset="0.000" stop-color="#800000"/><stop offset="0.084" stop-color="#ff0000"/><stop offset="0.191" stop-color="#ffff00"/><stop offset="0.398" stop-color="#00ffff"/><stop offset="0.913" stop-color="#0000ff"/><stop offset="1.000" stop-color="#0000a0"/></linearGradient><linearGradient id="v137" x2="0" y2="1"><stop offset="0.000" stop-color="#800000"/><stop offset="0.083" stop-color="#ff0000"/><stop offset="0.188" stop-color="#ffff00"/><stop offset="0.398" stop-color="#00ffff"/><stop offset="0.913" stop-color="#0000ff"/><stop offset="1.000" stop-color="#0000a0"/></linearGradient><linearGradient id="v138" x2="0" y2="1"><stop offset="0.000" stop-color="#800000"/><stop offset="0.081" stop-color="#ff0000"/><stop offset="0.186" stop-color="#ffff00"/><stop offset="0.397" stop-color="#00ffff"/><stop offset="0.914" stop-color="#0000ff"/><stop offset="1.000" stop-color="#0000a0"/></linearGradient><linearGradient id="v139" x2="0" y2="1"><stop offset="0.000" stop-color="#800000"/><stop offset="0.080" stop-color="#ff0000"/><stop offset="0.184" stop-color="#ffff00"/><stop offset="0.397" stop-color="#00ffff"/><stop offset="0.914" stop-color="#0000ff"/><stop offset="1.000" stop-color="#0000a0"/></linearGradient><linearGradient id="v140" x2="0" y2="1"><stop offset="0.000" stop-color="#800000"/><stop offset="0.079" stop-color="#ff0000"/><stop offset="0.182" stop-color="#ffff00"/><stop offset="0.396" stop-color="#00ffff"/><stop offset="0.914" stop-color="#0000ff"/><stop offset="1.000" stop-color="#0000a0"/></linearGradient><linearGradient id="v141" x2="0" y2="1"><stop offset="0.000" stop-color="#800000"/><stop offset="0.077" stop-color="#ff0000"/><stop offset="0.180" stop-color="#ffff00"/><stop offset="0.396" stop-color="#00ffff"/><stop offset="0.914" stop-color="#0000ff"/><stop offset="1.000" stop-color="#0000a0"/></linearGradient><linearGradient id="v142" x2="0" y2="1"><stop offset="0.000" stop-color="#800000"/><stop offset="0.076" stop-color="#ff0000"/><stop offset="0.178" stop-color="#ffff00"/><stop offset="0.395" stop-color="#00ffff"/><stop offset="0.914" stop-color="#0000ff"/><stop offset="1.000" stop-color="#0000a0"/></linearGradient><linearGradient id="v143" x2="0" y2="1"><stop offset="0.000" stop-color="#800000"/><stop offset="0.075" stop-color="#ff0000"/><stop offset="0.176" stop-color="#ffff00"/><stop offset="0.395" stop-color="#00ffff"/><stop offset="0.914" stop-color="#0000ff"/><stop offset="1.000" stop-color="#0000a0"/></linearGradient><linearGradient id="v144" x2="0" y2="1"><stop offset="0.000" stop-color="#800000"/><stop offset="0.073" stop-color="#ff0000"/><stop offset="0.174" stop-color="#ffff00"/><stop offset="0.395" stop-color="#00ffff"/><stop offset="0.915" stop-color="#0000ff"/><stop offset="1.000" stop-color="#0000a0"/></linearGradient><linearGradient id="v145" x2="0" y2="1"><stop offset="0.000" stop-color="#800000"/><stop offset="0.072" stop-color="#ff0000"/><stop offset="0.171" stop-color="#ffff00"/><stop offset="0.394" stop-color="#00ffff"/><stop offset="0.915" stop-color="#0000ff"/><stop offset="1.000" stop-color="#0000a0"/></linearGradient><linearGradient id="v146" x2="0" y2="1"><stop offset="0.000" stop-color="#800000"/><stop offset="0.071" stop-color="#ff0000"/><stop offset="0.169" stop-color="#ffff00"/><stop offset="0.394" stop-color="#00ffff"/><stop offset="0.915" stop-color="#0000ff"/><stop offset="1.000" stop-color="#0000a0"/></linearGradient><linearGradient id="v147" x2="0" y2="1"><stop offset="0.000" stop-color="#800000"/><stop offset="0.069" stop-color="#ff0000"/><stop offset="0.167" stop-color="#ffff00"/><stop offset="0.393" stop-color="#00ffff"/><stop offset="0.915" stop-color="#0000ff"/><stop offset="1.000" stop-color="#0000a0"/></linearGradient><linearGradient id="v148" x2="0" y2="1"><stop offset="0.000" stop-color="#800000"/><stop offset="0.068" stop-color="#ff0000"/><stop offset="0.165" stop-color="#ffff00"/><stop offset="0.393" stop-color="#00ffff"/><stop offset="0.915" stop-color="#0000ff"/><stop offset="1.000" stop-color="#0000a0"/></linearGradient><linearGradient id="v149" x2="0" y2="1"><stop offset="0.000" stop-color="#800000"/><stop offset="0.067" stop-color="#ff0000"/><stop offset="0.163" stop-color="#ffff00"/><stop offset="0.392" stop-color="#00ffff"/><stop offset="0.915" stop-color="#0000ff"/><stop offset="1.000" stop-color="#0000a0"/></linearGradient><linearGradient id="v150" x2="0" y2="1"><stop offset="0.000" stop-color="#800000"/><stop offset="0.065" stop-color="#ff0000"/><stop offset="0.161" stop-color="#ffff00"/><stop offset="0.392" stop-color="#00ffff"/><stop offset="0.915" stop-color="#0000ff"/><stop offset="1.000" stop-color="#0000a0"/></linearGradient><linearGradient id="v151" x2="0" y2="1"><stop offset="0.000" stop-color="#800000"/><stop offset="0.064" stop-color="#ff0000"/><stop offset="0.159" stop-color="#ffff00"/><stop offset="0.392" stop-color="#00ffff"/><stop offset="0.916" stop-color="#0000ff"/><stop offset="1.000" stop-color="#0000a0"/></linearGradient><linearGradient id="v152" x2="0" y2="1"><stop offset="0.000" stop-color="#800000"/><stop offset="0.063" stop-color="#ff0000"/><stop offset="0.157" stop-color="#ffff00"/><stop offset="0.391" stop-color="#00ffff"/><stop offset="0.916" stop-color="#0000ff"/><stop offset="1.000" stop-color="#0000a0"/></linearGradient><linearGradient id="v153" x2="0" y2="1"><stop offset="0.000" stop-color="#800000"/><stop offset="0.061" stop-color="#ff0000"/><stop offset="0.155" stop-color="#ffff00"/><stop offset="0.391" stop-color="#00ffff"/><stop offset="0.916" stop-color="#0000ff"/><stop offset="1.000" stop-color="#0000a0"/></linearGradient><linearGradient id="v154" x2="0" y2="1"><stop offset="0.000" stop-color="#800000"/><stop offset="0.060" stop-color="#ff0000"/><stop offset="0.153" stop-color="#ffff00"/><stop offset="0.390" stop-color="#00ffff"/><stop offset="0.916" stop-color="#0000ff"/><stop offset="1.000" stop-color="#0000a0"/></linearGradient><linearGradient id="v155" x2="0" y2="1"><stop offset="0.000" stop-color="#800000"/><stop offset="0.059" stop-color="#ff0000"/><stop offset="0.151" stop-color="#ffff00"/><stop offset="0.390" stop-color="#00ffff"/><stop offset="0.916" stop-color="#0000ff"/><stop offset="1.000" stop-color="#0000a0"/></linearGradient><linearGradient id="v156" x2="0" y2="1"><stop offset="0.000" stop-color="#800000"/><stop offset="0.057" stop-color="#ff0000"/><stop offset="0.149" stop-color="#ffff00"/><stop offset="0.390" stop-color="#00ffff"/><stop offset="0.916" stop-color="#0000ff"/><stop offset="1.000" stop-color="#0000a0"/></linearGradient><linearGradient id="v157" x2="0" y2="1"><stop offset="0.000" stop-color="#800000"/><stop offset="0.056" stop-color="#ff0000"/><stop offset="0.147" stop-color="#ffff00"/><stop offset="0.389" stop-color="#00ffff"/><stop offset="0.917" stop-color="#0000ff"/><stop offset="1.000" stop-color="#0000a0"/></linearGradient><linearGradient id="v158" x2="0" y2="1"><stop offset="0.000" stop-color="#800000"/><stop offset="0.055" stop-color="#ff0000"/><stop offset="0.146" stop-color="#ffff00"/><stop offset="0.390" stop-color="#00ffff"/><stop offset="0.917" stop-color="#0000ff"/><stop offset="1.000" stop-color="#0000a0"/></linearGradient><linearGradient id="v159" x2="0" y2="1"><stop offset="0.000" stop-color="#800000"/><stop offset="0.055" stop-color="#ff0000"/><stop offset="0.146" stop-color="#ffff00"/><stop offset="0.393" stop-color="#00ffff"/><stop offset="0.917" stop-color="#0000ff"/><stop offset="1.000" stop-color="#0000a0"/></linearGradient><linearGradient id="v160" x2="0" y2="1"><stop offset="0.000" stop-color="#800000"/><stop offset="0.055" stop-color="#ff0000"/><stop offset="0.145" stop-color="#ffff00"/><stop offset="0.395" stop-color="#00ffff"/><stop offset="0.917" stop-color="#0000ff"/><stop offset="1.000" stop-color="#0000a0"/></linearGradient><linearGradient id="v161" x2="0" y2="1"><stop offset="0.000" stop-color="#800000"/><stop offset="0.055" stop-color="#ff0000"/><stop offset="0.145" stop-color="#ffff00"/><stop offset="0.397" stop-color="#00ffff"/><stop offset="0.917" stop-color="#0000ff"/><stop offset="1.000" stop-color="#0000a0"/></linearGradient><linearGradient id="v162" x2="0" y2="1"><stop offset="0.000" stop-color="#800000"/><stop offset="0.054" stop-color="#ff0000"/><stop offset="0.145" stop-color="#ffff00"/><stop offset="0.400" stop-color="#00ffff"/><stop offset="0.917" stop-color="#0000ff"/><stop offset="1.000" stop-color="#0000a0"/></linearGradient><linearGradient id="v163" x2="0" y2="1"><stop offset="0.000" stop-color="#800000"/><stop offset="0.054" stop-color="#ff0000"/><stop offset="0.145" stop-color="#ffff00"/><stop offset="0.402" stop-color="#00ffff"/><stop offset="0.917" stop-color="#0000ff"/><stop offset="1.000" stop-color="#0000a0"/></linearGradient><linearGradient id="v164" x2="0" y2="1"><stop offset="0.000" stop-color="#800000"/><stop offset="0.054" stop-color="#ff0000"/><stop offset="0.145" stop-color="#ffff00"/><stop offset="0.405" stop-color="#00ffff"/><stop offset="0.917" stop-color="#0000ff"/><stop offset="1.000" stop-color="#0000a0"/></linearGradient><linearGradient id="v165" x2="0" y2="1"><stop offset="0.000" stop-color="#800000"/><stop offset="0.054" stop-color="#ff0000"/><stop offset="0.145" stop-color="#ffff00"/><stop offset="0.407" stop-color="#00ffff"/><stop offset="0.917" stop-color="#0000ff"/><stop offset="1.000" stop-color="#0000a0"/></linearGradient><linearGradient id="v166" x2="0" y2="1"><stop offset="0.000" stop-color="#800000"/><stop offset="0.054" stop-color="#ff0000"/><stop offset="0.145" stop-color="#ffff00"/><stop offset="0.409" stop-color="#00ffff"/><stop offset="0.917" stop-color="#0000ff"/><stop offset="1.000" stop-color="#0000a0"/></linearGradient><linearGradient id="v167" x2="0" y2="1"><stop offset="0.000" stop-color="#800000"/><stop offset="0.053" stop-color="#ff0000"/><stop offset="0.145" stop-color="#ffff00"/><stop offset="0.412" stop-color="#00ffff"/><stop offset="0.917" stop-color="#0000ff"/><stop offset="1.000" stop-color="#0000a0"/></linearGradient><linearGradient id="v168" x2="0" y2="1"><stop offset="0.000" stop-color="#800000"/><stop offset="0.053" stop-color="#ff0000"/><stop offset="0.144" stop-color="#ffff00"/><stop offset="0.414" stop-color="#00ffff"/><stop offset="0.917" stop-color="#0000ff"/><stop offset="1.000" stop-color="#0000a0"/></linearGradient><linearGradient id="v169" x2="0" y2="1"><stop offset="0.000" stop-color="#800000"/><stop offset="0.053" stop-color="#ff0000"/><stop offset="0.144" stop-color="#ffff00"/><stop offset="0.416" stop-color="#00ffff"/><stop offset="0.918" stop-color="#0000ff"/><stop offset="1.000" stop-color="#0000a0"/></linearGradient><linearGradient id="v170" x2="0" y2="1"><stop offset="0.000" stop-color="#800000"/><stop offset="0.053" stop-color="#ff0000"/><stop offset="0.144" stop-color="#ffff00"/><stop offset="0.419" stop-color="#00ffff"/><stop offset="0.918" stop-color="#0000ff"/><stop offset="1.000" stop-color="#0000a0"/></linearGradient><linearGradient id="v171" x2="0" y2="1"><stop offset="0.000" stop-color="#800000"/><stop offset="0.052" stop-color="#ff0000"/><stop offset="0.144" stop-color="#ffff00"/><stop offset="0.421" stop-color="#00ffff"/><stop offset="0.918" stop-color="#0000ff"/><stop offset="1.000" stop-color="#0000a0"/></linearGradient><linearGradient id="v172" x2="0" y2="1"><stop offset="0.000" stop-color="#800000"/><stop offset="0.052" stop-color="#ff0000"/><stop offset="0.144" stop-color="#ffff00"/><stop offset="0.423" stop-color="#00ffff"/><stop offset="0.918" stop-color="#0000ff"/><stop offset="1.000" stop-color="#0000a0"/></linearGradient><linearGradient id="v173" x2="0" y2="1"><stop offset="0.000" stop-color="#800000"/><stop offset="0.052" stop-color="#ff0000"/><stop offset="0.144" stop-color="#ffff00"/><stop offset="0.425" stop-color="#00ffff"/><stop offset="0.918" stop-color="#0000ff"/><stop offset="1.000" stop-color="#0000a0"/></linearGradient><linearGradient id="v174" x2="0" y2="1"><stop offset="0.000" stop-color="#800000"/><stop offset="0.052" stop-color="#ff0000"/><stop offset="0.144" stop-color="#ffff00"/><stop offset="0.425" stop-color="#00ffff"/><stop offset="0.918" stop-color="#0000ff"/><stop offset="1.000" stop-color="#0000a0"/></linearGradient><linearGradient id="v175" x2="0" y2="1"><stop offset="0.000" stop-color="#800000"/><stop offset="0.052" stop-color="#ff0000"/><stop offset="0.145" stop-color="#ffff00"/><stop offset="0.425" stop-color="#00ffff"/><stop offset="0.918" stop-color="#0000ff"/><stop offset="1.000" stop-color="#0000a0"/></linearGradient><linearGradient id="v176" x2="0" y2="1"><stop offset="0.000" stop-color="#800000"/><stop offset="0.052" stop-color="#ff0000"/><stop offset="0.145" stop-color="#ffff00"/><stop offset="0.425" stop-color="#00ffff"/><stop offset="0.918" stop-color="#0000ff"/><stop offset="1.000" stop-color="#0000a0"/></linearGradient><linearGradient id="v177" x2="0" y2="1"><stop offset="0.000" stop-color="#800000"/><stop offset="0.051" stop-color="#ff0000"/><stop offset="0.145" stop-color="#ffff00"/><stop offset="0.425" stop-color="#00ffff"/><stop offset="0.918" stop-color="#0000ff"/><stop offset="1.000" stop-color="#0000a0"/></linearGradient><linearGradient id="v178" x2="0" y2="1"><stop offset="0.000" stop-color="#800000"/><stop offset="0.051" stop-color="#ff0000"/><stop offset="0.146" stop-color="#ffff00"/><stop offset="0.425" stop-color="#00ffff"/><stop offset="0.918" stop-color="#0000ff"/><stop offset="1.000" stop-color="#0000a0"/></linearGradient><linearGradient id="v179" x2="0" y2="1"><stop offset="0.000" stop-color="#800000"/><stop offset="0.051" stop-color="#ff0000"/><stop offset="0.146" stop-color="#ffff00"/><stop offset="0.425" stop-color="#00ffff"/><stop offset="0.918" stop-color="#0000ff"/><stop offset="1.000" stop-color="#0000a0"/></linearGradient><linearGradient id="v180" x2="0" y2="1"><stop offset="0.000" stop-color="#800000"/><stop offset="0.051" stop-color="#ff0000"/><stop offset="0.146" stop-color="#ffff00"/><stop offset="0.425" stop-color="#00ffff"/><stop offset="0.918" stop-color="#0000ff"/><stop offset="1.000" stop-color="#0000a0"/></linearGradient><linearGradient id="v181" x2="0" y2="1"><stop offset="0.000" stop-color="#800000"/><stop offset="0.051" stop-color="#ff0000"/><stop offset="0.147" stop-color="#ffff00"/><stop offset="0.425" stop-color="#00ffff"/><stop offset="0.918" stop-color="#0000ff"/><stop offset="1.000" stop-color="#0000a0"/></linearGradient><linearGradient id="v182" x2="0" y2="1"><stop offset="0.000" stop-color="#800000"/><stop offset="0.051" stop-color="#ff0000"/><stop offset="0.147" stop-color="#ffff00"/><stop offset="0.425" stop-color="#00ffff"/><stop offset="0.918" stop-color="#0000ff"/><stop offset="1.000" stop-color="#0000a0"/></linearGradient><linearGradient id="v183" x2="0" y2="1"><stop offset="0.000" stop-color="#800000"/><stop offset="0.051" stop-color="#ff0000"/><stop offset="0.147" stop-color="#ffff00"/><stop offset="0.425" stop-color="#00ffff"/><stop offset="0.918" stop-color="#0000ff"/><stop offset="1.000" stop-color="#0000a0"/></linearGradient><linearGradient id="v184" x2="0" y2="1"><stop offset="0.000" stop-color="#800000"/><stop offset="0.050" stop-color="#ff0000"/><stop offset="0.148" stop-color="#ffff00"/><stop offset="0.425" stop-color="#00ffff"/><stop offset="0.918" stop-color="#0000ff"/><stop offset="1.000" stop-color="#0000a0"/></linearGradient><linearGradient id="v185" x2="0" y2="1"><stop offset="0.000" stop-color="#800000"/><stop offset="0.050" stop-color="#ff0000"/><stop offset="0.148" stop-color="#ffff00"/><stop offset="0.425" stop-color="#00ffff"/><stop offset="0.918" stop-color="#0000ff"/><stop offset="1.000" stop-color="#0000a0"/></linearGradient><linearGradient id="v186" x2="0" y2="1"><stop offset="0.000" stop-color="#800000"/><stop offset="0.050" stop-color="#ff0000"/><stop offset="0.148" stop-color="#ffff00"/><stop offset="0.425" stop-color="#00ffff"/><stop offset="0.918" stop-color="#0000ff"/><stop offset="1.000" stop-color="#0000a0"/></linearGradient><linearGradient id="v187" x2="0" y2="1"><stop offset="0.000" stop-color="#800000"/><stop offset="0.050" stop-color="#ff0000"/><stop offset="0.149" stop-color="#ffff00"/><stop offset="0.425" stop-color="#00ffff"/><stop offset="0.918" stop-color="#0000ff"/><stop offset="1.000" stop-color="#0000a0"/></linearGradient><linearGradient id="v188" x2="0" y2="1"><stop offset="0.000" stop-color="#800000"/><stop offset="0.050" stop-color="#ff0000"/><stop offset="0.149" stop-color="#ffff00"/><stop offset="0.425" stop-color="#00ffff"/><stop offset="0.918" stop-color="#0000ff"/><stop offset="1.000" stop-color="#0000a0"/></linearGradient><linearGradient id="v189" x2="0" y2="1"><stop offset="0.000" stop-color="#800000"/><stop offset="0.050" stop-color="#ff0000"/><stop offset="0.149" stop-color="#ffff00"/><stop offset="0.425" stop-color="#00ffff"/><stop offset="0.918" stop-color="#0000ff"/><stop offset="1.000" stop-color="#0000a0"/></linearGradient><linearGradient id="v190" x2="0" y2="1"><stop offset="0.000" stop-color="#800000"/><stop offset="0.050" stop-color="#ff0000"/><stop offset="0.150" stop-color="#ffff00"/><stop offset="0.425" stop-color="#00ffff"/><stop offset="0.918" stop-color="#0000ff"/><stop offset="1.000" stop-color="#0000a0"/></linearGradient><linearGradient id="v191" x2="0" y2="1"><stop offset="0.000" stop-color="#800000"/><stop offset="0.050" stop-color="#ff0000"/><stop offset="0.150" stop-color="#ffff00"/><stop offset="0.425" stop-color="#00ffff"/><stop offset="0.918" stop-color="#0000ff"/><stop offset="1.000" stop-color="#0000a0"/></linearGradient><linearGradient id="v192" x2="0" y2="1"><stop offset="0.000" stop-color="#800000"/><stop offset="0.049" stop-color="#ff0000"/><stop offset="0.151" stop-color="#ffff00"/><stop offset="0.425" stop-color="#00ffff"/><stop offset="0.918" stop-color="#0000ff"/><stop offset="1.000" stop-color="#0000a0"/></linearGradient><linearGradient id="v193" x2="0" y2="1"><stop offset="0.000" stop-color="#800000"/><stop offset="0.050" stop-color="#ff0000"/><stop offset="0.153" stop-color="#ffff00"/><stop offset="0.426" stop-color="#00ffff"/><stop offset="0.918" stop-color="#0000ff"/><stop offset="1.000" stop-color="#0000a0"/></linearGradient><linearGradient id="v194" x2="0" y2="1"><stop offset="0.000" stop-color="#800000"/><stop offset="0.051" stop-color="#ff0000"/><stop offset="0.156" stop-color="#ffff00"/><stop offset="0.428" stop-color="#00ffff"/><stop offset="0.917" stop-color="#0000ff"/><stop offset="1.000" stop-color="#0000a0"/></linearGradient><linearGradient id="v195" x2="0" y2="1"><stop offset="0.000" stop-color="#800000"/><stop offset="0.053" stop-color="#ff0000"/><stop offset="0.160" stop-color="#ffff00"/><stop offset="0.431" stop-color="#00ffff"/><stop offset="0.917" stop-color="#0000ff"/><stop offset="1.000" stop-color="#0000a0"/></linearGradient><linearGradient id="v196" x2="0" y2="1"><stop offset="0.000" stop-color="#800000"/><stop offset="0.054" stop-color="#ff0000"/><stop offset="0.164" stop-color="#ffff00"/><stop offset="0.434" stop-color="#00ffff"/><stop offset="0.917" stop-color="#0000ff"/><stop offset="1.000" stop-color="#0000a0"/></linearGradient><linearGradient id="v197" x2="0" y2="1"><stop offset="0.000" stop-color="#800000"/><stop offset="0.056" stop-color="#ff0000"/><stop offset="0.168" stop-color="#ffff00"/><stop offset="0.436" stop-color="#00ffff"/><stop offset="0.917" stop-color="#0000ff"/><stop offset="1.000" stop-color="#0000a0"/></linearGradient><linearGradient id="v198" x2="0" y2="1"><stop offset="0.000" stop-color="#800000"/><stop offset="0.057" stop-color="#ff0000"/><stop offset="0.172" stop-color="#ffff00"/><stop offset="0.439" stop-color="#00ffff"/><stop offset="0.917" stop-color="#0000ff"/><stop offset="1.000" stop-color="#0000a0"/></linearGradient><linearGradient id="v199" x2="0" y2="1"><stop offset="0.000" stop-color="#800000"/><stop offset="0.058" stop-color="#ff0000"/><stop offset="0.176" stop-color="#ffff00"/><stop offset="0.441" stop-color="#00ffff"/><stop offset="0.916" stop-color="#0000ff"/><stop offset="1.000" stop-color="#0000a0"/></linearGradient><linearGradient id="v200" x2="0" y2="1"><stop offset="0.000" stop-color="#800000"/><stop offset="0.060" stop-color="#ff0000"/><stop offset="0.180" stop-color="#ffff00"/><stop offset="0.444" stop-color="#00ffff"/><stop offset="0.916" stop-color="#0000ff"/><stop offset="1.000" stop-color="#0000a0"/></linearGradient><linearGradient id="v201" x2="0" y2="1"><stop offset="0.000" stop-color="#800000"/><stop offset="0.061" stop-color="#ff0000"/><stop offset="0.184" stop-color="#ffff00"/><stop offset="0.447" stop-color="#00ffff"/><stop offset="0.916" stop-color="#0000ff"/><stop offset="1.000" stop-color="#0000a0"/></linearGradient><linearGradient id="v202" x2="0" y2="1"><stop offset="0.000" stop-color="#800000"/><stop offset="0.063" stop-color="#ff0000"/><stop offset="0.188" stop-color="#ffff00"/><stop offset="0.449" stop-color="#00ffff"/><stop offset="0.916" stop-color="#0000ff"/><stop offset="1.000" stop-color="#0000a0"/></linearGradient><linearGradient id="v203" x2="0" y2="1"><stop offset="0.000" stop-color="#800000"/><stop offset="0.066" stop-color="#ff0000"/><stop offset="0.196" stop-color="#ffff00"/><stop offset="0.453" stop-color="#00ffff"/><stop offset="0.915" stop-color="#0000ff"/><stop offset="1.000" stop-color="#0000a0"/></linearGradient><linearGradient id="v204" x2="0" y2="1"><stop offset="0.000" stop-color="#800000"/><stop offset="0.073" stop-color="#ff0000"/><stop offset="0.207" stop-color="#ffff00"/><stop offset="0.457" stop-color="#00ffff"/><stop offset="0.915" stop-color="#0000ff"/><stop offset="1.000" stop-color="#0000a0"/></linearGradient><linearGradient id="v205" x2="0" y2="1"><stop offset="0.000" stop-color="#800000"/><stop offset="0.079" stop-color="#ff0000"/><stop offset="0.219" stop-color="#ffff00"/><stop offset="0.462" stop-color="#00ffff"/><stop offset="0.914" stop-color="#0000ff"/><stop offset="1.000" stop-color="#0000a0"/></linearGradient><linearGradient id="v206" x2="0" y2="1"><stop offset="0.000" stop-color="#800000"/><stop offset="0.085" stop-color="#ff0000"/><stop offset="0.231" stop-color="#ffff00"/><stop offset="0.467" stop-color="#00ffff"/><stop offset="0.914" stop-color="#0000ff"/><stop offset="1.000" stop-color="#0000a0"/></linearGradient><linearGradient id="v207" x2="0" y2="1"><stop offset="0.000" stop-color="#800000"/><stop offset="0.092" stop-color="#ff0000"/><stop offset="0.243" stop-color="#ffff00"/><stop offset="0.471" stop-color="#00ffff"/><stop offset="0.914" stop-color="#0000ff"/><stop offset="1.000" stop-color="#0000a0"/></linearGradient><linearGradient id="v208" x2="0" y2="1"><stop offset="0.000" stop-color="#800000"/><stop offset="0.098" stop-color="#ff0000"/><stop offset="0.255" stop-color="#ffff00"/><stop offset="0.476" stop-color="#00ffff"/><stop offset="0.913" stop-color="#0000ff"/><stop offset="1.000" stop-color="#0000a0"/></linearGradient><linearGradient id="v209" x2="0" y2="1"><stop offset="0.000" stop-color="#800000"/><stop offset="0.105" stop-color="#ff0000"/><stop offset="0.269" stop-color="#ffff00"/><stop offset="0.486" stop-color="#00ffff"/><stop offset="0.912" stop-color="#0000ff"/><stop offset="1.000" stop-color="#0000a0"/></linearGradient><linearGradient id="v210" x2="0" y2="1"><stop offset="0.000" stop-color="#800000"/><stop offset="0.113" stop-color="#ff0000"/><stop offset="0.285" stop-color="#ffff00"/><stop offset="0.502" stop-color="#00ffff"/><stop offset="0.911" stop-color="#0000ff"/><stop offset="1.000" stop-color="#0000a0"/></linearGradient><linearGradient id="v211" x2="0" y2="1"><stop offset="0.000" stop-color="#800000"/><stop offset="0.122" stop-color="#ff0000"/><stop offset="0.302" stop-color="#ffff00"/><stop offset="0.518" stop-color="#00ffff"/><stop offset="0.910" stop-color="#0000ff"/><stop offset="1.000" stop-color="#0000a0"/></linearGradient><linearGradient id="v212" x2="0" y2="1"><stop offset="0.000" stop-color="#800000"/><stop offset="0.130" stop-color="#ff0000"/><stop offset="0.319" stop-color="#ffff00"/><stop offset="0.535" stop-color="#00ffff"/><stop offset="0.908" stop-color="#0000ff"/><stop offset="1.000" stop-color="#0000a0"/></linearGradient><linearGradient id="v213" x2="0" y2="1"><stop offset="0.000" stop-color="#800000"/><stop offset="0.139" stop-color="#ff0000"/><stop offset="0.337" stop-color="#ffff00"/><stop offset="0.552" stop-color="#00ffff"/><stop offset="0.906" stop-color="#0000ff"/><stop offset="1.000" stop-color="#0000a0"/></linearGradient><linearGradient id="v214" x2="0" y2="1"><stop offset="0.000" stop-color="#800000"/><stop offset="0.149" stop-color="#ff0000"/><stop offset="0.355" stop-color="#ffff00"/><stop offset="0.570" stop-color="#00ffff"/><stop offset="0.905" stop-color="#0000ff"/><stop offset="1.000" stop-color="#0000a0"/></linearGradient><linearGradient id="v215" x2="0" y2="1"><stop offset="0.000" stop-color="#800000"/><stop offset="0.158" stop-color="#ff0000"/><stop offset="0.374" stop-color="#ffff00"/><stop offset="0.589" stop-color="#00ffff"/><stop offset="0.903" stop-color="#0000ff"/><stop offset="1.000" stop-color="#0000a0"/></linearGradient><linearGradient id="v216" x2="0" y2="1"><stop offset="0.000" stop-color="#800000"/><stop offset="0.159" stop-color="#ff0000"/><stop offset="0.375" stop-color="#ffff00"/><stop offset="0.590" stop-color="#00ffff"/><stop offset="0.903" stop-color="#0000ff"/><stop offset="1.000" stop-color="#0000a0"/></linearGradient><linearGradient id="v217" x2="0" y2="1"><stop offset="0.000" stop-color="#800000"/><stop offset="0.159" stop-color="#ff0000"/><stop offset="0.376" stop-color="#ffff00"/><stop offset="0.592" stop-color="#00ffff"/><stop offset="0.903" stop-color="#0000ff"/><stop offset="1.000" stop-color="#0000a0"/></linearGradient><linearGradient id="v218" x2="0" y2="1"><stop offset="0.000" stop-color="#800000"/><stop offset="0.160" stop-color="#ff0000"/><stop offset="0.377" stop-color="#ffff00"/><stop offset="0.594" stop-color="#00ffff"/><stop offset="0.903" stop-color="#0000ff"/><stop offset="1.000" stop-color="#0000a0"/></linearGradient><linearGradient id="v219" x2="0" y2="1"><stop offset="0.000" stop-color="#800000"/><stop offset="0.161" stop-color="#ff0000"/><stop offset="0.378" stop-color="#ffff00"/><stop offset="0.595" stop-color="#00ffff"/><stop offset="0.903" stop-color="#0000ff"/><stop offset="1.000" stop-color="#0000a0"/></linearGradient><linearGradient id="v220" x2="0" y2="1"><stop offset="0.000" stop-color="#800000"/><stop offset="0.161" stop-color="#ff0000"/><stop offset="0.379" stop-color="#ffff00"/><stop offset="0.597" stop-color="#00ffff"/><stop offset="0.903" stop-color="#0000ff"/><stop offset="1.000" stop-color="#0000a0"/></linearGradient><linearGradient id="jeth" x1="0" y1="0" x2="1" y2="0"><stop offset="0" stop-color="#800000"/><stop offset="0.125" stop-color="#ff0000"/><stop offset="0.375" stop-color="#ffff00"/><stop offset="0.625" stop-color="#00ffff"/><stop offset="0.875" stop-color="#0000ff"/><stop offset="1" stop-color="#000080"/></linearGradient></defs><rect width="100%" height="100%" fill="#fff"/><path d="M139.6 38.5V95.5M227.8 38.5V95.5M315.9 38.5V95.5M404.1 38.5V95.5M492.2 38.5V95.5M580.4 38.5V95.5M51.5 59.9H668.5" stroke="#e6e6e6" stroke-width="1" fill="none"/>
<rect x="470.2" y="91.2" width="22" height="4.3" fill="#a60000" stroke="#1a0000" stroke-width="0.6"/>
<rect x="492.2" y="81.2" width="22" height="14.2" fill="#a60000" stroke="#1a0000" stroke-width="0.6"/>
<rect x="514.2" y="54.9" width="22" height="40.6" fill="#a60000" stroke="#1a0000" stroke-width="0.6"/>
<rect x="536.3" y="47" width="22" height="48.5" fill="#a60000" stroke="#1a0000" stroke-width="0.6"/>
<rect x="558.3" y="70.6" width="22" height="24.9" fill="#a60000" stroke="#1a0000" stroke-width="0.6"/>
<rect x="580.4" y="90.5" width="22" height="5" fill="#a60000" stroke="#1a0000" stroke-width="0.6"/>
<path d="M338 95.0H382M602.4 95.0H646.5" stroke="#2a0c0c" stroke-width="1.4"/>
<rect x="51.5" y="38.5" width="617.0" height="57.0" fill="none" stroke="#8a8a8a" stroke-width="1.2"/>
<path d="M51.5 95.5v-6M51.5 38.5v6M139.6 95.5v-6M139.6 38.5v6M227.8 95.5v-6M227.8 38.5v6M315.9 95.5v-6M315.9 38.5v6M404.1 95.5v-6M404.1 38.5v6M492.2 95.5v-6M492.2 38.5v6M580.4 95.5v-6M580.4 38.5v6M668.5 95.5v-6M668.5 38.5v6M51.5 95.5h6M668.5 95.5h-6M51.5 59.9h6M668.5 59.9h-6" stroke="#8a8a8a" stroke-width="1.2" fill="none"/>
<text x="51.5" y="110" font-size="11" text-anchor="middle" font-weight="normal" fill="#262626" >&#8722;40</text>
<text x="139.6" y="110" font-size="11" text-anchor="middle" font-weight="normal" fill="#262626" >&#8722;20</text>
<text x="227.8" y="110" font-size="11" text-anchor="middle" font-weight="normal" fill="#262626" >0</text>
<text x="315.9" y="110" font-size="11" text-anchor="middle" font-weight="normal" fill="#262626" >20</text>
<text x="404.1" y="110" font-size="11" text-anchor="middle" font-weight="normal" fill="#262626" >40</text>
<text x="492.2" y="110" font-size="11" text-anchor="middle" font-weight="normal" fill="#262626" >60</text>
<text x="580.4" y="110" font-size="11" text-anchor="middle" font-weight="normal" fill="#262626" >80</text>
<text x="668.5" y="110" font-size="11" text-anchor="middle" font-weight="normal" fill="#262626" >100</text>
<text x="47.5" y="63.8" font-size="11" text-anchor="end" font-weight="normal" fill="#262626" >50</text>
<text x="47.5" y="99.4" font-size="11" text-anchor="end" font-weight="normal" fill="#262626" >0</text>
<text transform="translate(29.3,67) rotate(-90)" font-size="12" text-anchor="middle" fill="#262626" textLength="33" lengthAdjust="spacingAndGlyphs">Count</text>
<rect x="494.2" y="12.9" width="17.5" height="35.7" fill="#000"/>
<path d="M372 30.8H486" stroke="#000" stroke-width="2.6"/>
<path d="M363.7 30.8L373.5 26.2L373.5 35.4Z M494.5 30.8L484.7 26.2L484.7 35.4Z" fill="#000"/>
<path d="M520 30.5H567.5" stroke="#000" stroke-width="2.6"/>
<path d="M511.3 30.5L521.1 25.9L521.1 35.1Z" fill="#000"/>
<path d="M576.4 30.5H589.1M598.6 30.5H610.7M620.7 30.5H631.5" stroke="#000" stroke-width="2.6"/>
<text x="379.8" y="15.4" font-size="13.3" font-weight="bold" fill="#111" textLength="87.6" lengthAdjust="spacingAndGlyphs">Frontend side</text>
<text x="540.5" y="15.1" font-size="13.3" font-weight="bold" fill="#111" textLength="85.1" lengthAdjust="spacingAndGlyphs">Backend side</text>
<g fill="#141414" stroke="#fff" stroke-width="0.55"><text x="-1.87" y="23.6" font-size="32.8">(</text><text x="26.1" y="23.6" font-size="32.8">)</text><text transform="translate(9.2 26.8) scale(0.83 1)" font-size="31.7">a</text></g>
<g fill="#141414" stroke="#fff" stroke-width="0.55"><text x="-0.03" y="143.4" font-size="32.8">(</text><text x="29.2" y="143.4" font-size="32.8">)</text><text transform="translate(11.1 146.6) scale(1.0 1)" font-size="32.4">b</text></g>
<g fill="#141414" stroke="#fff" stroke-width="0.55"><text x="1.37" y="362.2" font-size="32.8">(</text><text x="28.2" y="362.2" font-size="32.8">)</text><text transform="translate(12.0 365.4) scale(1.0 1)" font-size="31.2">c</text></g>
<path d="M141.5 147.7V302.0M230.3 147.7V302.0M319.2 147.7V302.0M408.1 147.7V302.0M497 147.7V302.0M585.8 147.7V302.0M674.7 147.7V302.0M52.6 147.7H674.7M52.6 190.6H674.7M52.6 233.4H674.7M52.6 276.3H674.7" stroke="#e6e6e6" stroke-width="1" fill="none"/>
<rect x="231" y="148.5" width="443" height="106.5" fill="#fff"/>
<g clip-path="url(#vm)"><rect x="234.0" y="152.8" width="2.3" height="49.0" fill="url(#v0)"/><rect x="236.0" y="152.8" width="2.3" height="49.1" fill="url(#v1)"/><rect x="238.0" y="152.9" width="2.3" height="49.2" fill="url(#v2)"/><rect x="240.0" y="152.9" width="2.3" height="49.3" fill="url(#v3)"/><rect x="242.0" y="152.9" width="2.3" height="49.4" fill="url(#v4)"/><rect x="244.0" y="152.9" width="2.3" height="49.5" fill="url(#v5)"/><rect x="246.0" y="153.0" width="2.3" height="49.6" fill="url(#v6)"/><rect x="248.0" y="153.0" width="2.3" height="49.7" fill="url(#v7)"/><rect x="250.0" y="153.0" width="2.3" height="49.7" fill="url(#v8)"/><rect x="252.0" y="153.0" width="2.3" height="49.8" fill="url(#v9)"/><rect x="254.0" y="153.0" width="2.3" height="49.9" fill="url(#v10)"/><rect x="256.0" y="153.1" width="2.3" height="50.0" fill="url(#v11)"/><rect x="258.0" y="153.1" width="2.3" height="50.1" fill="url(#v12)"/><rect x="260.0" y="153.1" width="2.3" height="50.2" fill="url(#v13)"/><rect x="262.0" y="153.1" width="2.3" height="50.3" fill="url(#v14)"/><rect x="264.0" y="153.2" width="2.3" height="50.3" fill="url(#v15)"/><rect x="266.0" y="153.2" width="2.3" height="50.4" fill="url(#v16)"/><rect x="268.0" y="153.2" width="2.3" height="50.5" fill="url(#v17)"/><rect x="270.0" y="153.2" width="2.3" height="50.6" fill="url(#v18)"/><rect x="272.0" y="153.3" width="2.3" height="50.7" fill="url(#v19)"/><rect x="274.0" y="153.3" width="2.3" height="50.8" fill="url(#v20)"/><rect x="276.0" y="153.3" width="2.3" height="50.9" fill="url(#v21)"/><rect x="278.0" y="153.3" width="2.3" height="51.0" fill="url(#v22)"/><rect x="280.0" y="153.4" width="2.3" height="51.0" fill="url(#v23)"/><rect x="282.0" y="153.4" width="2.3" height="51.0" fill="url(#v24)"/><rect x="284.0" y="153.4" width="2.3" height="51.0" fill="url(#v25)"/><rect x="286.0" y="153.4" width="2.3" height="51.0" fill="url(#v26)"/><rect x="288.0" y="153.5" width="2.3" height="51.0" fill="url(#v27)"/><rect x="290.0" y="153.5" width="2.3" height="51.0" fill="url(#v28)"/><rect x="292.0" y="153.5" width="2.3" height="51.0" fill="url(#v29)"/><rect x="294.0" y="153.5" width="2.3" height="51.0" fill="url(#v30)"/><rect x="296.0" y="153.6" width="2.3" height="51.0" fill="url(#v31)"/><rect x="298.0" y="153.6" width="2.3" height="51.0" fill="url(#v32)"/><rect x="300.0" y="153.6" width="2.3" height="51.5" fill="url(#v33)"/><rect x="302.0" y="153.6" width="2.3" height="52.6" fill="url(#v34)"/><rect x="304.0" y="153.7" width="2.3" height="53.7" fill="url(#v35)"/><rect x="306.0" y="153.7" width="2.3" height="54.7" fill="url(#v36)"/><rect x="308.0" y="153.7" width="2.3" height="55.8" fill="url(#v37)"/><rect x="310.0" y="153.8" width="2.3" height="56.9" fill="url(#v38)"/><rect x="312.0" y="153.8" width="2.3" height="57.9" fill="url(#v39)"/><rect x="314.0" y="153.8" width="2.3" height="59.0" fill="url(#v40)"/><rect x="316.0" y="153.8" width="2.3" height="60.1" fill="url(#v41)"/><rect x="318.0" y="153.9" width="2.3" height="61.1" fill="url(#v42)"/><rect x="320.0" y="153.9" width="2.3" height="62.2" fill="url(#v43)"/><rect x="322.0" y="153.9" width="2.3" height="63.3" fill="url(#v44)"/><rect x="324.0" y="153.9" width="2.3" height="64.3" fill="url(#v45)"/><rect x="326.0" y="154.0" width="2.3" height="65.4" fill="url(#v46)"/><rect x="328.0" y="154.0" width="2.3" height="66.5" fill="url(#v47)"/><rect x="330.0" y="154.0" width="2.3" height="67.4" fill="url(#v48)"/><rect x="332.0" y="154.1" width="2.3" height="68.1" fill="url(#v49)"/><rect x="334.0" y="154.1" width="2.3" height="68.9" fill="url(#v50)"/><rect x="336.0" y="154.1" width="2.3" height="69.6" fill="url(#v51)"/><rect x="338.0" y="154.1" width="2.3" height="70.4" fill="url(#v52)"/><rect x="340.0" y="154.2" width="2.3" height="71.1" fill="url(#v53)"/><rect x="342.0" y="154.2" width="2.3" height="71.9" fill="url(#v54)"/><rect x="344.0" y="154.2" width="2.3" height="72.6" fill="url(#v55)"/><rect x="346.0" y="154.3" width="2.3" height="73.4" fill="url(#v56)"/><rect x="348.0" y="154.3" width="2.3" height="74.1" fill="url(#v57)"/><rect x="350.0" y="154.3" width="2.3" height="74.9" fill="url(#v58)"/><rect x="352.0" y="154.3" width="2.3" height="75.6" fill="url(#v59)"/><rect x="354.0" y="154.4" width="2.3" height="76.4" fill="url(#v60)"/><rect x="356.0" y="154.4" width="2.3" height="77.1" fill="url(#v61)"/><rect x="358.0" y="154.4" width="2.3" height="77.9" fill="url(#v62)"/><rect x="360.0" y="154.5" width="2.3" height="78.6" fill="url(#v63)"/><rect x="362.0" y="154.5" width="2.3" height="79.4" fill="url(#v64)"/><rect x="364.0" y="154.5" width="2.3" height="80.1" fill="url(#v65)"/><rect x="366.0" y="154.5" width="2.3" height="80.9" fill="url(#v66)"/><rect x="368.0" y="154.6" width="2.3" height="81.6" fill="url(#v67)"/><rect x="370.0" y="154.6" width="2.3" height="81.8" fill="url(#v68)"/><rect x="372.0" y="154.6" width="2.3" height="81.5" fill="url(#v69)"/><rect x="374.0" y="154.7" width="2.3" height="81.2" fill="url(#v70)"/><rect x="376.0" y="154.7" width="2.3" height="80.8" fill="url(#v71)"/><rect x="378.0" y="154.7" width="2.3" height="80.5" fill="url(#v72)"/><rect x="380.0" y="154.7" width="2.3" height="80.2" fill="url(#v73)"/><rect x="382.0" y="154.8" width="2.3" height="79.8" fill="url(#v74)"/><rect x="384.0" y="154.8" width="2.3" height="79.5" fill="url(#v75)"/><rect x="386.0" y="154.8" width="2.3" height="79.2" fill="url(#v76)"/><rect x="388.0" y="154.8" width="2.3" height="78.8" fill="url(#v77)"/><rect x="390.0" y="154.9" width="2.3" height="78.5" fill="url(#v78)"/><rect x="392.0" y="154.9" width="2.3" height="78.2" fill="url(#v79)"/><rect x="394.0" y="154.9" width="2.3" height="77.8" fill="url(#v80)"/><rect x="396.0" y="155.0" width="2.3" height="77.5" fill="url(#v81)"/><rect x="398.0" y="155.0" width="2.3" height="77.2" fill="url(#v82)"/><rect x="400.0" y="155.0" width="2.3" height="76.5" fill="url(#v83)"/><rect x="402.0" y="155.1" width="2.3" height="75.5" fill="url(#v84)"/><rect x="404.0" y="155.2" width="2.3" height="74.5" fill="url(#v85)"/><rect x="406.0" y="155.2" width="2.3" height="73.5" fill="url(#v86)"/><rect x="408.0" y="155.3" width="2.3" height="72.5" fill="url(#v87)"/><rect x="410.0" y="155.4" width="2.3" height="71.5" fill="url(#v88)"/><rect x="412.0" y="155.4" width="2.3" height="70.5" fill="url(#v89)"/><rect x="414.0" y="155.5" width="2.3" height="69.5" fill="url(#v90)"/><rect x="416.0" y="155.6" width="2.3" height="68.5" fill="url(#v91)"/><rect x="418.0" y="155.6" width="2.3" height="67.5" fill="url(#v92)"/><rect x="420.0" y="155.7" width="2.3" height="66.9" fill="url(#v93)"/><rect x="422.0" y="155.7" width="2.3" height="66.6" fill="url(#v94)"/><rect x="424.0" y="155.8" width="2.3" height="66.3" fill="url(#v95)"/><rect x="426.0" y="155.9" width="2.3" height="66.1" fill="url(#v96)"/><rect x="428.0" y="155.9" width="2.3" height="65.8" fill="url(#v97)"/><rect x="430.0" y="156.0" width="2.3" height="65.5" fill="url(#v98)"/><rect x="432.0" y="156.1" width="2.3" height="65.3" fill="url(#v99)"/><rect x="434.0" y="156.1" width="2.3" height="65.0" fill="url(#v100)"/><rect x="436.0" y="156.2" width="2.3" height="64.7" fill="url(#v101)"/><rect x="438.0" y="156.3" width="2.3" height="64.5" fill="url(#v102)"/><rect x="440.0" y="156.3" width="2.3" height="64.2" fill="url(#v103)"/><rect x="442.0" y="156.4" width="2.3" height="63.9" fill="url(#v104)"/><rect x="444.0" y="156.5" width="2.3" height="63.7" fill="url(#v105)"/><rect x="446.0" y="156.6" width="2.3" height="63.4" fill="url(#v106)"/><rect x="448.0" y="156.7" width="2.3" height="63.1" fill="url(#v107)"/><rect x="450.0" y="156.8" width="2.3" height="63.1" fill="url(#v108)"/><rect x="452.0" y="156.9" width="2.3" height="63.4" fill="url(#v109)"/><rect x="454.0" y="157.0" width="2.3" height="63.7" fill="url(#v110)"/><rect x="456.0" y="157.1" width="2.3" height="63.9" fill="url(#v111)"/><rect x="458.0" y="157.2" width="2.3" height="64.2" fill="url(#v112)"/><rect x="460.0" y="157.2" width="2.3" height="64.5" fill="url(#v113)"/><rect x="462.0" y="157.3" width="2.3" height="64.7" fill="url(#v114)"/><rect x="464.0" y="157.4" width="2.3" height="65.0" fill="url(#v115)"/><rect x="466.0" y="157.5" width="2.3" height="65.3" fill="url(#v116)"/><rect x="468.0" y="157.6" width="2.3" height="65.5" fill="url(#v117)"/><rect x="470.0" y="157.7" width="2.3" height="65.8" fill="url(#v118)"/><rect x="472.0" y="157.8" width="2.3" height="66.1" fill="url(#v119)"/><rect x="474.0" y="157.9" width="2.3" height="66.3" fill="url(#v120)"/><rect x="476.0" y="158.0" width="2.3" height="66.6" fill="url(#v121)"/><rect x="478.0" y="158.1" width="2.3" height="66.9" fill="url(#v122)"/><rect x="480.0" y="158.1" width="2.3" height="67.1" fill="url(#v123)"/><rect x="482.0" y="158.2" width="2.3" height="67.2" fill="url(#v124)"/><rect x="484.0" y="158.3" width="2.3" height="67.4" fill="url(#v125)"/><rect x="486.0" y="158.4" width="2.3" height="67.6" fill="url(#v126)"/><rect x="488.0" y="158.5" width="2.3" height="67.7" fill="url(#v127)"/><rect x="490.0" y="158.6" width="2.3" height="67.9" fill="url(#v128)"/><rect x="492.0" y="158.7" width="2.3" height="68.0" fill="url(#v129)"/><rect x="494.0" y="158.8" width="2.3" height="68.2" fill="url(#v130)"/><rect x="496.0" y="158.9" width="2.3" height="68.4" fill="url(#v131)"/><rect x="498.0" y="159.0" width="2.3" height="68.5" fill="url(#v132)"/><rect x="500.0" y="159.1" width="2.3" height="68.7" fill="url(#v133)"/><rect x="502.0" y="159.3" width="2.3" height="68.8" fill="url(#v134)"/><rect x="504.0" y="159.6" width="2.3" height="69.0" fill="url(#v135)"/><rect x="506.0" y="159.8" width="2.3" height="69.1" fill="url(#v136)"/><rect x="508.0" y="160.0" width="2.3" height="69.3" fill="url(#v137)"/><rect x="510.0" y="160.2" width="2.3" height="69.4" fill="url(#v138)"/><rect x="512.0" y="160.4" width="2.3" height="69.5" fill="url(#v139)"/><rect x="514.0" y="160.5" width="2.3" height="69.7" fill="url(#v140)"/><rect x="516.0" y="160.3" width="2.3" height="69.8" fill="url(#v141)"/><rect x="518.0" y="160.0" width="2.3" height="69.9" fill="url(#v142)"/><rect x="520.0" y="160.0" width="2.3" height="70.1" fill="url(#v143)"/><rect x="522.0" y="160.1" width="2.3" height="70.2" fill="url(#v144)"/><rect x="524.0" y="160.2" width="2.3" height="70.3" fill="url(#v145)"/><rect x="526.0" y="160.4" width="2.3" height="70.5" fill="url(#v146)"/><rect x="528.0" y="160.5" width="2.3" height="70.6" fill="url(#v147)"/><rect x="530.0" y="160.6" width="2.3" height="70.7" fill="url(#v148)"/><rect x="532.0" y="160.7" width="2.3" height="70.9" fill="url(#v149)"/><rect x="534.0" y="160.9" width="2.3" height="71.0" fill="url(#v150)"/><rect x="536.0" y="161.0" width="2.3" height="71.1" fill="url(#v151)"/><rect x="538.0" y="161.1" width="2.3" height="71.3" fill="url(#v152)"/><rect x="540.0" y="161.3" width="2.3" height="71.4" fill="url(#v153)"/><rect x="542.0" y="161.4" width="2.3" height="71.5" fill="url(#v154)"/><rect x="544.0" y="161.5" width="2.3" height="71.7" fill="url(#v155)"/><rect x="546.0" y="161.7" width="2.3" height="71.8" fill="url(#v156)"/><rect x="548.0" y="161.8" width="2.3" height="71.9" fill="url(#v157)"/><rect x="550.0" y="161.9" width="2.3" height="72.0" fill="url(#v158)"/><rect x="552.0" y="162.0" width="2.3" height="72.1" fill="url(#v159)"/><rect x="554.0" y="162.2" width="2.3" height="72.2" fill="url(#v160)"/><rect x="556.0" y="162.3" width="2.3" height="72.2" fill="url(#v161)"/><rect x="558.0" y="162.4" width="2.3" height="72.3" fill="url(#v162)"/><rect x="560.0" y="162.6" width="2.3" height="72.4" fill="url(#v163)"/><rect x="562.0" y="162.7" width="2.3" height="72.4" fill="url(#v164)"/><rect x="564.0" y="162.8" width="2.3" height="72.5" fill="url(#v165)"/><rect x="566.0" y="163.0" width="2.3" height="72.6" fill="url(#v166)"/><rect x="568.0" y="163.1" width="2.3" height="72.6" fill="url(#v167)"/><rect x="570.0" y="163.2" width="2.3" height="72.7" fill="url(#v168)"/><rect x="572.0" y="163.3" width="2.3" height="72.8" fill="url(#v169)"/><rect x="574.0" y="163.5" width="2.3" height="72.8" fill="url(#v170)"/><rect x="576.0" y="163.6" width="2.3" height="72.9" fill="url(#v171)"/><rect x="578.0" y="163.7" width="2.3" height="73.0" fill="url(#v172)"/><rect x="580.0" y="163.9" width="2.3" height="73.0" fill="url(#v173)"/><rect x="582.0" y="164.0" width="2.3" height="73.0" fill="url(#v174)"/><rect x="584.0" y="164.1" width="2.3" height="73.0" fill="url(#v175)"/><rect x="586.0" y="164.3" width="2.3" height="73.0" fill="url(#v176)"/><rect x="588.0" y="164.4" width="2.3" height="73.0" fill="url(#v177)"/><rect x="590.0" y="164.5" width="2.3" height="73.0" fill="url(#v178)"/><rect x="592.0" y="164.6" width="2.3" height="73.0" fill="url(#v179)"/><rect x="594.0" y="164.8" width="2.3" height="73.0" fill="url(#v180)"/><rect x="596.0" y="164.9" width="2.3" height="73.0" fill="url(#v181)"/><rect x="598.0" y="165.0" width="2.3" height="73.0" fill="url(#v182)"/><rect x="600.0" y="165.2" width="2.3" height="73.0" fill="url(#v183)"/><rect x="602.0" y="165.4" width="2.3" height="73.0" fill="url(#v184)"/><rect x="604.0" y="165.5" width="2.3" height="73.0" fill="url(#v185)"/><rect x="606.0" y="165.7" width="2.3" height="73.0" fill="url(#v186)"/><rect x="608.0" y="165.9" width="2.3" height="73.0" fill="url(#v187)"/><rect x="610.0" y="166.0" width="2.3" height="73.0" fill="url(#v188)"/><rect x="612.0" y="166.2" width="2.3" height="73.0" fill="url(#v189)"/><rect x="614.0" y="166.4" width="2.3" height="73.0" fill="url(#v190)"/><rect x="616.0" y="166.5" width="2.3" height="73.0" fill="url(#v191)"/><rect x="618.0" y="166.4" width="2.3" height="73.0" fill="url(#v192)"/><rect x="620.0" y="166.4" width="2.3" height="72.9" fill="url(#v193)"/><rect x="622.0" y="166.3" width="2.3" height="72.7" fill="url(#v194)"/><rect x="624.0" y="166.2" width="2.3" height="72.5" fill="url(#v195)"/><rect x="626.0" y="166.2" width="2.3" height="72.3" fill="url(#v196)"/><rect x="628.0" y="166.1" width="2.3" height="72.1" fill="url(#v197)"/><rect x="630.0" y="166.1" width="2.3" height="71.9" fill="url(#v198)"/><rect x="632.0" y="166.0" width="2.3" height="71.7" fill="url(#v199)"/><rect x="634.0" y="165.9" width="2.3" height="71.5" fill="url(#v200)"/><rect x="636.0" y="165.9" width="2.3" height="71.3" fill="url(#v201)"/><rect x="638.0" y="165.8" width="2.3" height="71.1" fill="url(#v202)"/><rect x="640.0" y="165.7" width="2.3" height="70.8" fill="url(#v203)"/><rect x="642.0" y="165.6" width="2.3" height="70.5" fill="url(#v204)"/><rect x="644.0" y="165.5" width="2.3" height="70.2" fill="url(#v205)"/><rect x="646.0" y="165.4" width="2.3" height="69.8" fill="url(#v206)"/><rect x="648.0" y="165.3" width="2.3" height="69.5" fill="url(#v207)"/><rect x="650.0" y="165.2" width="2.3" height="69.2" fill="url(#v208)"/><rect x="652.0" y="164.6" width="2.3" height="68.5" fill="url(#v209)"/><rect x="654.0" y="163.5" width="2.3" height="67.4" fill="url(#v210)"/><rect x="656.0" y="163.2" width="2.3" height="66.3" fill="url(#v211)"/><rect x="658.0" y="162.8" width="2.3" height="65.2" fill="url(#v212)"/><rect x="660.0" y="162.5" width="2.3" height="64.2" fill="url(#v213)"/><rect x="662.0" y="162.1" width="2.3" height="63.1" fill="url(#v214)"/><rect x="664.0" y="161.8" width="2.3" height="62.0" fill="url(#v215)"/><rect x="666.0" y="161.7" width="2.3" height="62.0" fill="url(#v216)"/><rect x="668.0" y="161.7" width="2.3" height="62.0" fill="url(#v217)"/><rect x="670.0" y="161.6" width="2.3" height="62.0" fill="url(#v218)"/><rect x="672.0" y="161.6" width="2.3" height="62.0" fill="url(#v219)"/><rect x="674.0" y="161.5" width="2.3" height="62.0" fill="url(#v220)"/></g>
<g fill="none" stroke="#555" stroke-width="1.1" stroke-opacity="0.8"><path d="M434.3 178.4Q450 182 461 184.5L477 188.6"/><path d="M483.4 178.4Q470 185 456.8 190.7"/><path d="M479.3 188.6Q505 183 526.3 180.4"/><path d="M420 204Q440 198 461 190.7"/><path d="M393 189Q404 194 413 196.2L419.4 197.6"/><path d="M373.8 201.6Q400 204.6 417.6 204.6Q435 202 450 195.5"/><path d="M375.5 205.7Q400 208 414 207.8Q432 206 450 200"/><path d="M440 203Q455 197 472 190"/></g>
<g fill="none" stroke="#3a3a3a" stroke-width="1.8" stroke-opacity="0.75" stroke-linecap="round"><path d="M467.6 172.3l-0.6 3Q472 180 485 183.5Q500 186.5 512 185Q522 183.5 526 181.5"/><path d="M491.5 175.3Q500 181 510 183.5Q525 186 533 184Q540 182 542.2 177.4l0.4 -1.8"/><path d="M425 174.3l1.8 1.2M458.8 175.3l1.8 1.2M384 177.9l1.2 2.4"/></g>
<g><path d="M131 180.5h1.6m-4.6 20h1.6" stroke="#40f0c0" stroke-width="1.6" fill="none" stroke-opacity="0.8" transform="translate(0 0.5)"/><path d="M111 190h1.6m7.4 1.5h1.6m15.4 12.5h1.6m15.9 6h1.6m5.4 0h1.6m421.9 4.5h1.6" stroke="#80ff80" stroke-width="1.6" fill="none" stroke-opacity="0.8" transform="translate(0 0.5)"/><path d="M113.5 198h1.6" stroke="#60b0ff" stroke-width="1.6" fill="none" stroke-opacity="0.8" transform="translate(0 0.5)"/><path d="M118.5 199.5h1.6" stroke="#a0ff80" stroke-width="1.6" fill="none" stroke-opacity="0.8" transform="translate(0 0.5)"/><path d="M157.5 207h1.6m1.4 7.5h1.6" stroke="#60ffb0" stroke-width="1.6" fill="none" stroke-opacity="0.8" transform="translate(0 0.5)"/><path d="M154 211.5h1.6" stroke="#60ffd0" stroke-width="1.6" fill="none" stroke-opacity="0.8" transform="translate(0 0.5)"/><path d="M174.5 210h1.6m-6.1 0.5h1.6m-0.1 4.5h1.6m34.9 64.5h1.6m2.4 5h1.6m-10.1 3.5h1.6" stroke="#60ffff" stroke-width="1.6" fill="none" stroke-opacity="0.8" transform="translate(0 0.5)"/><path d="M177.5 207.5h1.6" stroke="#ffb000" stroke-width="1.6" fill="none" stroke-opacity="0.8" transform="translate(0 0.5)"/><path d="M167.5 218h1.6" stroke="#ffa000" stroke-width="1.6" fill="none" stroke-opacity="0.8" transform="translate(0 0.5)"/><path d="M272.5 201h1.6m-12.1 15h1.6m-40.1 13h1.6" stroke="#ff6000" stroke-width="1.6" fill="none" stroke-opacity="0.8" transform="translate(0 0.5)"/><path d="M163.5 297h1.6" stroke="#b0ff40" stroke-width="1.6" fill="none" stroke-opacity="0.8" transform="translate(0 0.5)"/><path d="M520 209h1.6m-332.6 79h1.6m1.9 4h1.6" stroke="#3060ff" stroke-width="1.6" fill="none" stroke-opacity="0.8" transform="translate(0 0.5)"/><path d="M276 205.5h1.6" stroke="#ff8000" stroke-width="1.6" fill="none" stroke-opacity="0.8" transform="translate(0 0.5)"/><path d="M451 192h1.6m7.4 0h1.6m3.9 0h1.6m-29.1 0.5h1.6m-1.6 0.5h1.6m-20.1 2h1.6m4.4 0.5h1.6m25.9 0h1.6m16.9 0.5h1.6m22.4 1h1.6m-53.1 0.5h1.6m45.9 0.5h1.6m-45.1 1h1.6m44.4 0.5h1.6m-16.6 1h1.6m4.4 1.5h1.6m-52.1 0.5h1.6m19.4 0.5h1.6m29.4 0h1.6m46.4 0h1.6m-38.6 2.5h1.6m-28.1 1h1.6m14.4 0h1.6m0.4 0.5h1.6m-37.6 0.5h1.6m17.9 0.5h1.6m10.9 1h1.6m-132.6 0.5h1.6m70.9 0.5h1.6m60.4 1.5h1.6m-19.1 0.5h1.6m3.4 0h1.6m4.4 0h1.6m-31.1 0.5h1.6m45.9 0h1.6m-98.6 0.5h1.6m60.9 0h1.6m8.9 0h1.6m-4.1 0.5h1.6m1.4 0h1.6m-1.1 0h1.6m8.4 0h1.6m-120.6 0.5h1.6m108.4 0h1.6m-31.6 0.5h1.6m19.4 0h1.6m3.4 0h1.6m-110.6 0.5h1.6m27.9 0h1.6m-1.1 0h1.6m-1.1 0h1.6m79.4 0h1.6m-109.6 0.5h1.6m48.4 0h1.6m38.9 0h1.6m1.4 0h1.6m12.9 0h1.6m8.9 0h1.6m-64.1 0.5h1.6m52.9 0h1.6m-118.1 0.5h1.6m14.9 0h1.6m22.9 0h1.6m59.9 0h1.6m1.4 0h1.6m4.9 0h1.6m-72.1 0.5h1.6m2.4 0h1.6m18.9 0h1.6m33.4 0h1.6m-0.6 0h1.6m7.4 0h1.6m-3.1 0.5h1.6m20.4 0h1.6m-31.1 0.5h1.6m-0.1 0.5h1.6m-11.1 0.5h1.6m-51.1 0.5h1.6m36.9 0h1.6m-55.6 0.5h1.6m1.9 0h1.6m64.9 0h1.6m6.9 0h1.6m12.4 0.5h1.6m-61.1 0.5h1.6m-54.6 0.5h1.6m66.9 0h1.6m3.9 0h1.6m15.4 0h1.6m-21.1 0.5h1.6m15.4 0h1.6m-16.6 0.5h1.6m11.4 0h1.6m4.9 0h1.6m0.9 0h1.6m-39.1 0.5h1.6m19.9 0h1.6m-56.6 0.5h1.6m45.9 0h1.6m7.4 0h1.6m45.4 0h1.6m-100.6 0.5h1.6m10.4 0h1.6m33.4 0h1.6m-39.1 0.5h1.6m4.4 0h1.6m33.9 0h1.6m3.9 0h1.6m-0.1 0h1.6m-22.1 0.5h1.6m15.9 0h1.6m8.4 0h1.6m-98.1 0.5h1.6m55.9 0h1.6m18.9 0h1.6m3.9 0h1.6m-13.6 0.5h1.6m-52.6 0.5h1.6m14.9 0h1.6m106.9 0h1.6m-142.6 0.5h1.6m38.9 0h1.6m29.9 0h1.6m53.9 0h1.6m-143.6 0.5h1.6m79.9 0h1.6m-53.6 0.5h1.6m71.9 0h1.6m-115.6 0.5h1.6m63.9 0h1.6m1.9 0h1.6m21.9 0h1.6m2.9 0h1.6m12.4 0h1.6m-120.1 0.5h1.6m108.9 0h1.6m-27.1 1h1.6m32.9 0h1.6m-158.6 1h1.6m56.9 0h1.6m79.4 0h1.6m-49.6 0.5h1.6m1.9 0h1.6m23.4 0h1.6m-38.6 0.5h1.6m0.4 0h1.6m68.4 0h1.6m-36.6 0.5h1.6m23.9 0h1.6m-109.6 0.5h1.6m44.9 0h1.6m17.4 0h1.6m11.4 0.5h1.6m38.4 0h1.6m-110.6 1h1.6m35.4 0h1.6m29.4 0h1.6m-29.1 0.5h1.6m67.4 0h1.6m-63.1 0.5h1.6m66.9 0h1.6m-103.1 0.5h1.6m45.9 0h1.6m-78.1 0.5h1.6m61.9 0h1.6m-1.1 0h1.6m6.4 0h1.6m-0.6 0h1.6m0.9 0h1.6m-30.1 1h1.6m7.4 0h1.6m48.4 0h1.6m25.4 0.5h1.6m-87.1 1h1.6m-1.1 0h1.6m16.4 0h1.6m86.9 0h1.6m11.9 0h1.6m-125.1 0.5h1.6m1.9 0h1.6m-117.6 0.5h1.6m115.9 0h1.6m14.9 0h1.6m-61.6 0.5h1.6m36.9 0h1.6m122.9 0h1.6m-179.1 0.5h1.6m39.9 0h1.6m4.9 0h1.6m119.4 0h1.6m-155.6 0.5h1.6m25.9 0h1.6m34.9 0h1.6m77.4 0h1.6m-156.6 0.5h1.6m24.4 0h1.6m23.4 0h1.6m1.9 0h1.6m105.9 0h1.6m-156.1 0.5h1.6m59.9 0h1.6m2.4 0h1.6m57.4 0h1.6m-164.6 0.5h1.6m33.9 0h1.6m22.9 0h1.6m34.4 0h1.6m12.9 0h1.6m77.4 0h1.6m-140.6 0.5h1.6m134.4 0h1.6m-108.1 0.5h1.6m114.9 0.5h1.6m-152.6 0.5h1.6m10.4 0h1.6m43.4 0h1.6m78.4 0h1.6m6.4 0h1.6m7.9 0h1.6m-137.6 0.5h1.6m125.4 0h1.6m-172.1 0.5h1.6m76.9 0h1.6m-86.6 0.5h1.6m59.4 0h1.6m113.4 0h1.6m-169.1 0.5h1.6m32.9 0h1.6m4.9 0h1.6m113.9 0h1.6m-103.6 0.5h1.6m12.4 0h1.6m2.4 0h1.6m-35.6 0.5h1.6m119.9 0h1.6m-181.6 0.5h1.6m33.9 0h1.6m19.9 0h1.6m6.4 0h1.6m42.9 0h1.6m-54.6 0.5h1.6m-3.6 0.5h1.6m43.9 0h1.6m18.9 0h1.6m52.4 0h1.6m-0.1 0h1.6m-136.6 0.5h1.6m139.9 0h1.6m-141.1 0.5h1.6m116.4 0h1.6m9.4 0h1.6m-146.1 0.5h1.6m139.9 0.5h1.6m-189.6 0.5h1.6m80.4 0.5h1.6m116.4 0h1.6m-210.1 0.5h1.6m35.4 0h1.6m0.4 0h1.6m5.4 0h1.6m-43.6 1.5h1.6m38.4 0.5h1.6m39.4 0h1.6m-115.1 0.5h1.6m97.9 0h1.6m-54.6 1h1.6m7.4 0h1.6m6.9 0h1.6m-24.6 0.5h1.6m57.9 0h1.6m-30.6 0.5h1.6m-30.6 0.5h1.6m12.9 0.5h1.6m-6.6 0.5h1.6m5.9 0h1.6m1.4 0h1.6m-16.1 0.5h1.6m-41.1 0.5h1.6m34.9 0h1.6m41.4 0h1.6m-73.1 0.5h1.6m-17.1 0.5h1.6m12.9 0h1.6m6.4 1.5h1.6m92.4 1h1.6m-106.1 1.5h1.6m24.9 0h1.6m-51.1 1h1.6m35.4 0.5h1.6m-39.6 0.5h1.6m38.4 0h1.6m10.9 0h1.6m-17.1 0.5h1.6m-0.6 0.5h1.6m-23.6 0.5h1.6m14.4 0h1.6m-27.1 1.5h1.6m37.9 0.5h1.6m-31.6 1h1.6m-7.6 1h1.6m12.9 0.5h1.6m-2.6 0.5h1.6m0.9 1h1.6m-7.6 0.5h1.6m-3.6 1h1.6m4.9 1h1.6m7.9 0h1.6m-8.6 2h1.6m-10.1 0.5h1.6m4.4 0h1.6m0.4 0.5h1.6m-15.6 1h1.6m-8.6 1h1.6m5.4 0h1.6m-0.6 1h1.6m-15.1 2.5h1.6m-7.1 0.5h1.6m-5.1 1h1.6m2.9 3.5h1.6m20.9 2.5h1.6m-86.1 5.5h1.6m42.4 1h1.6" stroke="#50ffa0" stroke-width="1.6" fill="none" stroke-opacity="0.8" transform="translate(0 0.5)"/><path d="M555 186h1.6m-27.1 7.5h1.6m-26.6 2h1.6m-40.1 1.5h1.6m4.4 3.5h1.6m71.4 0.5h1.6m12.9 0.5h1.6m-97.1 4.5h1.6m-70.1 2.5h1.6m-30.1 0.5h1.6m130.4 0.5h1.6m-73.1 1h1.6m24.4 0h1.6m26.4 0.5h1.6m1.4 0h1.6m-0.1 0h1.6m-57.1 0.5h1.6m40.9 0.5h1.6m-50.6 1.5h1.6m-34.1 0.5h1.6m83.9 0h1.6m-29.1 0.5h1.6m13.4 0h1.6m-68.1 0.5h1.6m77.9 0h1.6m-51.1 0.5h1.6m-49.1 0.5h1.6m63.9 0.5h1.6m-19.6 0.5h1.6m22.9 0h1.6m-51.1 0.5h1.6m74.9 0h1.6m-96.1 1h1.6m12.9 0h1.6m20.9 0h1.6m13.9 0h1.6m41.4 0h1.6m-92.6 1h1.6m18.4 0h1.6m45.4 0h1.6m2.4 0h1.6m-62.6 0.5h1.6m19.4 0h1.6m35.9 0h1.6m7.4 0h1.6m6.4 0h1.6m-125.6 1h1.6m113.4 0h1.6m-37.1 0.5h1.6m-79.6 0.5h1.6m19.9 0h1.6m103.4 0h1.6m-119.1 0.5h1.6m-19.1 0.5h1.6m38.9 0h1.6m0.4 0h1.6m21.9 1.5h1.6m12.9 0h1.6m13.9 0h1.6m-90.6 0.5h1.6m77.9 0h1.6m11.4 1.5h1.6m-34.6 0.5h1.6m-22.6 0.5h1.6m-4.6 0.5h1.6m13.4 0.5h1.6m4.9 1h1.6m46.9 0.5h1.6m-23.1 0.5h1.6m-82.6 1h1.6m88.9 1h1.6m-8.1 0.5h1.6m-109.1 1h1.6m42.9 1.5h1.6m36.4 0h1.6m-8.6 0.5h1.6m4.9 0.5h1.6m4.9 0.5h1.6m-24.1 1.5h1.6m-61.6 1h1.6m60.9 0h1.6m76.9 0.5h1.6m12.9 1h1.6m4.9 0h1.6m-111.6 0.5h1.6m24.4 0h1.6m12.9 0h1.6m-89.6 0.5h1.6m6.9 0h1.6m-8.6 0.5h1.6m25.4 0h1.6m84.9 0.5h1.6m40.9 0h1.6m-1.1 1h1.6m-172.1 0.5h1.6m159.4 0h1.6m-28.1 1h1.6m-77.6 0.5h1.6m98.9 0h1.6m4.9 0h1.6m7.9 0h1.6m-163.1 2h1.6m22.4 0h1.6m-31.1 0.5h1.6m21.4 1.5h1.6m-61.6 2.5h1.6m5.9 0h1.6m1.4 0.5h1.6m17.4 0h1.6m-88.6 0.5h1.6m71.9 0.5h1.6m21.4 0h1.6m-31.1 0.5h1.6m48.4 3h1.6m-96.1 1h1.6m26.9 0h1.6m-7.1 0.5h1.6m6.4 2.5h1.6m-3.6 1h1.6m-11.1 0.5h1.6m10.9 0h1.6m22.9 0.5h1.6m-17.6 1h1.6m-27.1 0.5h1.6m59.9 0.5h1.6m-81.1 0.5h1.6m14.4 1h1.6m-12.6 0.5h1.6m1.4 0.5h1.6m10.4 1h1.6m-16.6 0.5h1.6m28.4 0h1.6m-37.6 0.5h1.6m8.4 0h1.6m-6.6 0.5h1.6m51.9 0h1.6m-73.6 0.5h1.6m-1.1 2h1.6m10.4 1h1.6m36.4 3h1.6m-63.1 4h1.6m-9.1 2h1.6m-45.1 8.5h1.6m-14.1 7h1.6" stroke="#40f0f0" stroke-width="1.6" fill="none" stroke-opacity="0.8" transform="translate(0 0.5)"/><path d="M464.5 189h1.6m23.4 0.5h1.6m-23.1 1.5h1.6m-52.6 1h1.6m47.9 1.5h1.6m-7.1 0.5h1.6m30.9 0.5h1.6m-19.6 4h1.6m21.9 0.5h1.6m-159.6 4.5h1.6m146.4 0.5h1.6m-91.1 2h1.6m81.9 0h1.6m-47.1 0.5h1.6m35.4 2h1.6m2.9 0.5h1.6m6.4 0h1.6m-9.6 0.5h1.6m7.9 1h1.6m-23.6 0.5h1.6m-45.1 0.5h1.6m36.4 1h1.6m15.4 0.5h1.6m8.9 0h1.6m-16.1 0.5h1.6m14.4 0.5h1.6m-103.1 0.5h1.6m11.4 0h1.6m60.4 0.5h1.6m-65.6 0.5h1.6m97.4 0h1.6m-133.1 0.5h1.6m21.4 0h1.6m32.4 0h1.6m56.9 0h1.6m-80.6 0.5h1.6m40.9 0h1.6m8.9 0h1.6m6.4 0h1.6m2.9 0h1.6m-29.1 0.5h1.6m7.9 0h1.6m8.4 0h1.6m11.4 0h1.6m-1.1 0h1.6m6.9 0h1.6m-12.6 0.5h1.6m-0.1 0.5h1.6m-72.6 0.5h1.6m7.4 0h1.6m-14.6 0.5h1.6m42.4 0h1.6m6.9 0h1.6m13.4 0h1.6m-61.6 0.5h1.6m68.4 0h1.6m-79.6 0.5h1.6m3.9 0h1.6m-0.6 0h1.6m39.9 0h1.6m31.4 0h1.6m-62.1 0.5h1.6m37.9 0h1.6m5.4 0h1.6m-115.6 0.5h1.6m43.9 0h1.6m50.4 0h1.6m17.4 0h1.6m1.9 0h1.6m31.4 0h1.6m-67.6 0.5h1.6m12.9 0h1.6m-7.6 0.5h1.6m5.4 0h1.6m2.4 0h1.6m-71.6 0.5h1.6m-30.6 0.5h1.6m94.4 0h1.6m-61.6 0.5h1.6m68.4 0h1.6m3.9 0.5h1.6m-104.6 0.5h1.6m60.9 0h1.6m10.4 0h1.6m-64.6 0.5h1.6m59.4 0h1.6m-7.6 0.5h1.6m3.9 0h1.6m12.9 0h1.6m-0.1 0h1.6m-57.6 0.5h1.6m27.9 0h1.6m0.4 0.5h1.6m-65.6 0.5h1.6m25.4 0h1.6m24.4 0h1.6m9.4 0h1.6m18.9 0.5h1.6m-117.1 0.5h1.6m98.9 0h1.6m-25.6 0.5h1.6m38.4 0h1.6m2.4 0h1.6m-62.6 0.5h1.6m59.4 0h1.6m-109.6 0.5h1.6m101.9 0h1.6m-91.6 0.5h1.6m18.9 1h1.6m30.4 0h1.6m-101.6 1h1.6m49.4 0h1.6m57.4 0h1.6m-67.1 1h1.6m-7.6 0.5h1.6m67.9 0h1.6m31.9 0h1.6m-84.6 0.5h1.6m43.4 0h1.6m0.9 0h1.6m7.9 0h1.6m-73.6 0.5h1.6m45.4 0h1.6m13.9 0.5h1.6m-58.1 0.5h1.6m24.4 0h1.6m-1.6 0.5h1.6m8.4 0h1.6m10.9 0h1.6m47.9 0h1.6m-6.1 0.5h1.6m-82.1 1h1.6m33.4 0h1.6m36.4 0h1.6m-50.6 0.5h1.6m3.4 0h1.6m10.4 0h1.6m-0.1 0.5h1.6m-42.6 0.5h1.6m23.9 0h1.6m64.4 0h1.6m37.4 0h1.6m-103.1 0.5h1.6m83.9 0h1.6m16.9 0h1.6m-58.1 0.5h1.6m30.9 0h1.6m-182.6 0.5h1.6m23.9 0h1.6m9.4 0h1.6m-0.1 0h1.6m48.9 0h1.6m95.4 0h1.6m11.9 0h1.6m-141.1 0.5h1.6m-5.1 0.5h1.6m10.4 0h1.6m14.9 0h1.6m0.9 0h1.6m55.4 0h1.6m1.9 0h1.6m47.4 0h1.6m2.4 0h1.6m-160.1 0.5h1.6m27.4 0h1.6m71.9 0h1.6m-67.6 0.5h1.6m76.4 0h1.6m-132.6 0.5h1.6m25.4 0h1.6m13.4 0h1.6m-50.1 0.5h1.6m186.9 0h1.6m-147.1 0.5h1.6m14.4 0h1.6m-89.1 0.5h1.6m57.4 0h1.6m3.9 0h1.6m28.4 0h1.6m14.4 0h1.6m89.4 0h1.6m12.4 0h1.6m-112.1 0.5h1.6m3.4 0h1.6m87.4 0h1.6m-177.6 0.5h1.6m74.9 0h1.6m79.4 0h1.6m-141.6 0.5h1.6m15.4 0h1.6m138.4 0h1.6m-116.1 0.5h1.6m-24.6 0.5h1.6m53.4 0h1.6m72.4 1.5h1.6m8.4 0h1.6m-127.1 0.5h1.6m30.4 0h1.6m-48.6 0.5h1.6m-84.6 0.5h1.6m65.4 0h1.6m19.4 0h1.6m5.4 0h1.6m106.4 0.5h1.6m-172.1 1h1.6m9.9 0h1.6m22.9 0h1.6m-36.6 0.5h1.6m16.4 1.5h1.6m100.4 0h1.6m-150.6 1h1.6m21.4 0h1.6m20.4 0h1.6m-16.6 0.5h1.6m27.9 0h1.6m44.9 1h1.6m-64.1 0.5h1.6m-36.1 1.5h1.6m119.9 0.5h1.6m-97.6 0.5h1.6m-69.1 0.5h1.6m8.9 0.5h1.6m60.4 0.5h1.6m12.4 0h1.6m7.4 0.5h1.6m-39.6 2h1.6m11.4 0h1.6m-59.1 0.5h1.6m25.9 0.5h1.6m-5.1 0.5h1.6m20.4 0h1.6m-41.6 1h1.6m0.4 0h1.6m6.9 0.5h1.6m2.9 0h1.6m-18.6 0.5h1.6m21.4 0h1.6m-14.6 1h1.6m9.9 0.5h1.6m-33.1 0.5h1.6m6.9 0h1.6m-3.6 1h1.6m2.9 0h1.6m-13.6 0.5h1.6m48.9 0h1.6m-34.1 1h1.6m-21.1 1h1.6m-12.6 0.5h1.6m10.4 0h1.6m15.9 1h1.6m6.4 0h1.6m-15.1 1h1.6m-7.6 3h1.6m-4.6 0.5h1.6m-3.1 2h1.6m-5.1 1h1.6m-9.1 1h1.6m-6.1 1.5h1.6m-3.1 2.5h1.6m-9.1 4h1.6m4.4 0.5h1.6" stroke="#aaff50" stroke-width="1.6" fill="none" stroke-opacity="0.8" transform="translate(0 0.5)"/><path d="M440 187h1.6m19.9 0h1.6m-22.1 1.5h1.6m-7.1 0.5h1.6m2.9 1h1.6m-4.1 1.5h1.6m-322.6 1h1.6m361.4 0.5h1.6m-30.1 1.5h1.6m17.4 1h1.6m-18.1 0.5h1.6m-25.1 1.5h1.6m23.4 0h1.6m6.9 2.5h1.6m9.4 0.5h1.6m4.4 1h1.6m10.4 1h1.6m34.9 0h1.6m-64.1 2h1.6m14.4 0.5h1.6m-138.1 0.5h1.6m123.4 1h1.6m6.4 0h1.6m-5.6 1h1.6m0.4 0h1.6m13.9 0.5h1.6m-53.6 0.5h1.6m25.4 0h1.6m8.9 0h1.6m-4.6 1h1.6m6.9 0h1.6m14.9 0h1.6m-109.6 1h1.6m30.9 0h1.6m11.4 0.5h1.6m50.9 0h1.6m-9.6 0.5h1.6m-112.1 0.5h1.6m101.9 0h1.6m5.4 0h1.6m-90.6 1h1.6m72.4 0h1.6m4.9 0h1.6m0.9 0h1.6m3.4 0.5h1.6m-20.1 1h1.6m10.9 0h1.6m10.4 0h1.6m-25.1 0.5h1.6m12.4 0h1.6m-100.1 0.5h1.6m11.9 0h1.6m70.4 0h1.6m0.9 0h1.6m-68.1 0.5h1.6m2.9 0h1.6m2.9 0h1.6m43.9 0h1.6m8.4 0h1.6m-268.1 0.5h1.6m184.9 0h1.6m6.4 0h1.6m23.9 0h1.6m72.4 0h1.6m6.9 0h1.6m-55.6 1h1.6m-42.6 0.5h1.6m42.4 0h1.6m19.9 0h1.6m-62.6 0.5h1.6m23.4 0h1.6m15.4 0h1.6m3.9 0h1.6m10.4 0h1.6m-0.6 0h1.6m-1.1 0h1.6m-72.1 0.5h1.6m44.9 0h1.6m17.4 0h1.6m1.4 0h1.6m-100.6 0.5h1.6m26.9 0h1.6m3.4 0h1.6m28.4 0h1.6m-83.6 0.5h1.6m5.9 0h1.6m68.4 0h1.6m32.4 0h1.6m12.4 0h1.6m-48.6 0.5h1.6m20.4 0h1.6m36.9 0h1.6m-87.1 0.5h1.6m13.9 0h1.6m22.4 0h1.6m11.4 0h1.6m-67.6 0.5h1.6m63.4 0h1.6m11.4 0h1.6m-109.1 0.5h1.6m3.9 0h1.6m1.9 0h1.6m49.4 0h1.6m14.9 0h1.6m3.9 0h1.6m-3.1 0.5h1.6m7.9 0h1.6m-46.6 0.5h1.6m48.9 0h1.6m-110.6 0.5h1.6m80.9 0h1.6m14.4 0h1.6m2.4 0h1.6m2.9 0h1.6m7.9 0h1.6m-24.1 1h1.6m6.9 0h1.6m-63.1 0.5h1.6m13.4 0h1.6m17.9 0h1.6m32.9 0h1.6m-43.6 0.5h1.6m13.4 0h1.6m25.4 0h1.6m-45.6 0.5h1.6m24.4 0h1.6m-0.1 0h1.6m-89.6 0.5h1.6m-16.6 0.5h1.6m56.9 0h1.6m35.9 0h1.6m-99.1 1h1.6m24.9 0.5h1.6m27.9 0h1.6m58.9 0h1.6m26.4 0h1.6m-46.6 0.5h1.6m-61.1 0.5h1.6m6.4 0h1.6m7.4 0h1.6m-25.1 0.5h1.6m118.9 0h1.6m-124.6 0.5h1.6m93.9 0h1.6m-54.1 0.5h1.6m-1.1 0h1.6m23.9 0h1.6m-40.1 1h1.6m9.9 1h1.6m3.9 0h1.6m25.4 0h1.6m-99.1 0.5h1.6m9.4 0.5h1.6m44.9 0h1.6m-7.6 1h1.6m-62.6 0.5h1.6m84.9 0h1.6m-45.1 0.5h1.6m28.9 0.5h1.6m-21.6 0.5h1.6m14.9 0.5h1.6m40.9 0h1.6m3.4 0h1.6m-0.1 0h1.6m-106.1 1h1.6m22.4 1h1.6m77.9 0h1.6m-74.1 1h1.6m17.9 0h1.6m2.9 0h1.6m97.4 0h1.6m-127.1 0.5h1.6m-43.1 0.5h1.6m43.4 0.5h1.6m6.9 0h1.6m60.4 0h1.6m-70.1 0.5h1.6m-83.6 1h1.6m82.9 0h1.6m-116.6 0.5h1.6m72.9 0.5h1.6m52.4 0h1.6m51.4 0.5h1.6m12.9 0.5h1.6m-181.1 0.5h1.6m145.9 0h1.6m-51.1 0.5h1.6m6.9 0.5h1.6m-52.1 0.5h1.6m-37.6 0.5h1.6m55.9 0h1.6m-38.6 0.5h1.6m8.9 0h1.6m2.9 0h1.6m60.4 0h1.6m45.4 0.5h1.6m17.4 0.5h1.6m-157.6 0.5h1.6m72.4 0h1.6m-89.6 0.5h1.6m5.4 0h1.6m0.4 0.5h1.6m15.9 0h1.6m41.9 1.5h1.6m27.4 0h1.6m66.4 0.5h1.6m-160.6 0.5h1.6m-2.1 0.5h1.6m-11.6 0.5h1.6m7.4 0h1.6m27.4 0h1.6m-22.6 0.5h1.6m89.4 0h1.6m-158.1 0.5h1.6m52.4 0.5h1.6m31.9 0h1.6m-20.6 0.5h1.6m-13.6 0.5h1.6m100.9 0h1.6m-119.6 0.5h1.6m1.4 0.5h1.6m1.4 0.5h1.6m-5.6 0.5h1.6m24.4 0h1.6m-36.6 0.5h1.6m10.4 0h1.6m6.4 0h1.6m65.4 1.5h1.6m-114.6 0.5h1.6m24.9 0h1.6m9.4 0.5h1.6m8.4 0h1.6m-19.6 0.5h1.6m16.4 2h1.6m-27.6 0.5h1.6m-2.1 0.5h1.6m27.4 0h1.6m-19.6 1h1.6m60.4 0h1.6m-74.6 1.5h1.6m3.9 0h1.6m10.9 0.5h1.6m29.9 0h1.6m-73.1 0.5h1.6m-12.1 0.5h1.6m9.4 0h1.6m-8.1 0.5h1.6m-1.1 1h1.6m21.4 0h1.6m-27.1 0.5h1.6m15.4 0.5h1.6m-23.1 0.5h1.6m2.4 0.5h1.6m10.4 0.5h1.6m1.4 0.5h1.6m27.9 0h1.6m-28.6 0.5h1.6m32.4 0h1.6m-57.6 1.5h1.6m-1.1 1h1.6m-20.6 1.5h1.6m-0.1 1h1.6m48.4 1.5h1.6m-28.1 6h1.6m10.9 2h1.6m-30.6 0.5h1.6m-57.6 7h1.6" stroke="#f2f200" stroke-width="1.6" fill="none" stroke-opacity="0.8" transform="translate(0 0.5)"/><path d="M481 188h1.6m-18.1 2.5h1.6m82.9 3.5h1.6m-132.6 1.5h1.6m65.9 0h1.6m-15.1 3h1.6m76.9 0.5h1.6m-101.1 0.5h1.6m45.4 1h1.6m-30.1 1h1.6m-3.6 4.5h1.6m3.9 2.5h1.6m20.9 0h1.6m-129.6 2h1.6m140.9 0h1.6m-41.6 2h1.6m2.9 0h1.6m2.9 0h1.6m-14.1 0.5h1.6m-72.6 1h1.6m-1.1 1h1.6m-7.1 0.5h1.6m55.4 0h1.6m34.4 1.5h1.6m8.4 0.5h1.6m-31.6 1h1.6m-116.1 1.5h1.6m117.4 0h1.6m-47.1 0.5h1.6m55.9 0h1.6m-75.6 0.5h1.6m12.9 1h1.6m-45.1 0.5h1.6m-8.1 1h1.6m84.9 0h1.6m-82.1 0.5h1.6m21.4 1.5h1.6m-44.1 6h1.6m86.4 0h1.6m-30.1 2.5h1.6m0.9 0.5h1.6m-8.6 0.5h1.6m-30.6 2h1.6m12.9 0h1.6m14.9 0h1.6m-37.6 1h1.6m2.9 0h1.6m2.4 0.5h1.6m0.4 0.5h1.6m-21.1 0.5h1.6m40.9 0h1.6m41.4 0h1.6m-62.6 1h1.6m-104.1 1h1.6m86.9 1h1.6m-35.6 1.5h1.6m-11.1 3h1.6m-42.1 0.5h1.6m78.4 1h1.6m6.9 0h1.6m-4.6 2h1.6m109.9 2h1.6m-180.1 0.5h1.6m-62.1 6.5h1.6m62.4 0h1.6m-57.1 1h1.6m16.9 2h1.6m18.4 0.5h1.6m-20.1 3h1.6m-20.1 1h1.6m4.4 1.5h1.6m-21.6 4h1.6m13.9 1h1.6m10.4 0.5h1.6m-17.6 0.5h1.6m-20.1 2.5h1.6m3.4 1.5h1.6m25.9 3h1.6m-105.1 13.5h1.6" stroke="#3080ff" stroke-width="1.6" fill="none" stroke-opacity="0.8" transform="translate(0 0.5)"/><path d="M449.5 190h1.6m103.4 1.5h1.6m-106.6 1h1.6m99.4 1h1.6m-9.6 6h1.6m-85.6 0.5h1.6m104.4 1.5h1.6m-76.6 0.5h1.6m10.4 0.5h1.6m33.4 0h1.6m-52.1 3h1.6m-128.6 7h1.6m23.9 2h1.6m40.4 1.5h1.6m36.4 0h1.6m-68.1 0.5h1.6m-20.1 0.5h1.6m89.9 0.5h1.6m-62.6 0.5h1.6m-38.1 2h1.6m93.4 0h1.6m-75.1 0.5h1.6m-42.6 2.5h1.6m73.4 5h1.6m7.9 0.5h1.6m14.9 1h1.6m-20.1 0.5h1.6m-23.1 1h1.6m40.9 0.5h1.6m-38.1 2h1.6m-0.6 2.5h1.6m-1.1 0h1.6m-32.1 0.5h1.6m5.4 5h1.6m-18.6 0.5h1.6m-16.1 2h1.6m-11.1 6.5h1.6m-47.1 6h1.6m-19.1 3.5h1.6m-5.1 3.5h1.6m-0.6 0h1.6m-27.1 3h1.6m-30.1 2h1.6m29.9 1h1.6m-0.6 0h1.6m-42.6 5h1.6m-1.6 3h1.6m-17.1 0.5h1.6m-0.6 4h1.6m-23.6 4h1.6" stroke="#0000f0" stroke-width="1.6" fill="none" stroke-opacity="0.8" transform="translate(0 0.5)"/><path d="M479.5 195.5h1.6m-36.6 1.5h1.6m105.4 3h1.6m-65.1 12h1.6m-6.1 1h1.6m-9.6 2h1.6m-120.6 0.5h1.6m34.9 0h1.6m16.9 0h1.6m61.9 0h1.6m-70.1 1h1.6m-6.6 1.5h1.6m-35.6 1h1.6m29.4 0h1.6m-19.6 0.5h1.6m85.4 0.5h1.6m-57.1 0.5h1.6m44.4 6.5h1.6m-32.6 2.5h1.6m22.9 1h1.6m-37.1 2.5h1.6m6.4 0h1.6m-1.1 0.5h1.6m-37.1 2h1.6m-0.6 2.5h1.6m7.4 2h1.6m-42.6 4h1.6m-47.6 9.5h1.6m42.4 0h1.6m-85.6 13h1.6m-15.6 1.5h1.6m-39.6 11h1.6m-36.6 11h1.6m-10.6 8.5h1.6" stroke="#000090" stroke-width="1.6" fill="none" stroke-opacity="0.8" transform="translate(0 0.5)"/><path d="M109 186.5h1.6m336.9 4.5h1.6m96.9 0.5h1.6m-106.6 0.5h1.6m1.9 0.5h1.6m-4.6 0.5h1.6m0.9 0.5h1.6m6.4 0h1.6m-54.1 0.5h1.6m58.4 2h1.6m3.4 0h1.6m11.9 0h1.6m11.4 0h1.6m-21.6 2h1.6m-15.6 1h1.6m51.4 1h1.6m29.9 0h1.6m-102.6 0.5h1.6m38.9 0.5h1.6m12.9 0h1.6m-7.1 1.5h1.6m-39.1 1.5h1.6m28.9 0h1.6m-0.6 0h1.6m6.4 0h1.6m1.9 1h1.6m-6.1 0.5h1.6m6.4 0h1.6m-9.1 0.5h1.6m-5.1 1h1.6m-14.6 0.5h1.6m6.4 0.5h1.6m-6.6 0.5h1.6m20.9 1h1.6m-21.1 0.5h1.6m4.9 0h1.6m-143.1 1h1.6m87.4 0.5h1.6m-13.1 0.5h1.6m15.9 0h1.6m25.4 0h1.6m19.9 0h1.6m-128.6 0.5h1.6m88.9 0h1.6m-43.1 0.5h1.6m64.9 0h1.6m3.9 0h1.6m3.4 1h1.6m-24.1 0.5h1.6m9.9 0h1.6m0.4 0h1.6m11.4 0h1.6m-113.1 0.5h1.6m43.4 0h1.6m38.9 0h1.6m1.9 0h1.6m-5.6 0.5h1.6m1.4 0.5h1.6m4.9 0h1.6m1.9 0h1.6m-12.6 0.5h1.6m-54.6 0.5h1.6m20.4 0h1.6m10.4 0h1.6m12.4 0h1.6m2.9 0h1.6m-88.6 0.5h1.6m25.9 0h1.6m44.4 0h1.6m11.4 0h1.6m11.9 0h1.6m-111.6 0.5h1.6m19.4 0h1.6m9.9 0h1.6m13.9 0h1.6m-20.1 0.5h1.6m9.4 0h1.6m51.9 0h1.6m-1.1 0h1.6m8.4 0h1.6m-116.1 0.5h1.6m3.4 0h1.6m36.4 0h1.6m0.4 0h1.6m37.9 0h1.6m26.4 0h1.6m-130.1 0.5h1.6m16.9 0h1.6m90.9 0h1.6m-88.6 0.5h1.6m22.4 0h1.6m1.4 0h1.6m3.9 0h1.6m36.4 0h1.6m2.9 0h1.6m16.4 0h1.6m-11.6 0.5h1.6m4.9 0h1.6m-0.1 0h1.6m-68.1 0.5h1.6m59.9 0h1.6m-53.1 0.5h1.6m49.9 0h1.6m13.4 0h1.6m-98.6 0.5h1.6m4.9 0h1.6m12.4 0h1.6m13.9 0h1.6m6.9 0h1.6m12.9 0h1.6m3.9 0h1.6m4.9 0h1.6m3.4 0h1.6m7.9 0h1.6m3.4 0h1.6m6.9 0h1.6m-108.1 0.5h1.6m35.4 0h1.6m9.4 0h1.6m22.9 0h1.6m6.9 0h1.6m5.4 0h1.6m23.9 0h1.6m-116.1 0.5h1.6m77.4 0h1.6m-0.1 0h1.6m3.4 0h1.6m-60.1 0.5h1.6m-43.1 0.5h1.6m76.9 0h1.6m12.9 0h1.6m-20.1 0.5h1.6m0.4 0h1.6m29.9 0h1.6m-15.1 0.5h1.6m1.9 0h1.6m6.4 0h1.6m-13.6 0.5h1.6m6.4 0h1.6m5.4 0h1.6m-48.1 0.5h1.6m35.4 0h1.6m-46.1 0.5h1.6m49.9 0h1.6m-71.1 0.5h1.6m3.9 0h1.6m22.9 0.5h1.6m11.4 0h1.6m-65.1 0.5h1.6m-28.6 0.5h1.6m89.9 0h1.6m23.9 0h1.6m-57.6 0.5h1.6m13.4 0h1.6m0.9 0h1.6m13.4 0h1.6m15.9 0h1.6m-90.6 0.5h1.6m21.4 0.5h1.6m37.4 0h1.6m4.4 0h1.6m-64.6 0.5h1.6m32.9 0.5h1.6m19.4 0.5h1.6m1.9 0h1.6m17.9 0h1.6m-64.1 0.5h1.6m56.9 0h1.6m-1.1 0h1.6m-19.1 0.5h1.6m-18.1 0.5h1.6m1.9 0h1.6m2.9 0h1.6m8.9 0.5h1.6m-0.6 0h1.6m-0.1 0h1.6m-16.1 0.5h1.6m86.9 0h1.6m-131.1 1.5h1.6m12.9 0h1.6m10.4 0h1.6m-6.1 0.5h1.6m10.4 0.5h1.6m-97.1 0.5h1.6m89.4 0h1.6m18.9 0h1.6m-23.6 0.5h1.6m3.9 0h1.6m5.4 0h1.6m-13.6 0.5h1.6m110.4 0h1.6m-130.6 0.5h1.6m-4.6 0.5h1.6m-1.1 0h1.6m29.4 0h1.6m-24.1 0.5h1.6m-16.6 0.5h1.6m5.9 0h1.6m3.9 0h1.6m-59.1 0.5h1.6m56.4 0h1.6m3.9 0h1.6m6.9 0h1.6m58.9 0.5h1.6m24.4 0h1.6m-132.1 0.5h1.6m58.9 0h1.6m94.9 0h1.6m-163.6 0.5h1.6m23.9 0.5h1.6m114.4 0h1.6m-136.6 0.5h1.6m23.9 0h1.6m28.4 0h1.6m42.9 0h1.6m34.9 0h1.6m-127.1 0.5h1.6m-0.6 0h1.6m16.4 0.5h1.6m0.4 0h1.6m-49.1 0.5h1.6m112.4 0h1.6m28.9 0h1.6m-128.6 1h1.6m2.4 0h1.6m9.4 0h1.6m10.9 0h1.6m2.9 0h1.6m25.9 0h1.6m34.9 0h1.6m-137.1 0.5h1.6m34.9 0h1.6m143.4 0h1.6m-174.6 1h1.6m16.9 1h1.6m-36.6 0.5h1.6m143.4 0.5h1.6m-110.6 0.5h1.6m2.4 0h1.6m-32.1 1h1.6m52.9 0.5h1.6m-31.1 1h1.6m-45.6 0.5h1.6m38.9 0.5h1.6m1.4 0h1.6m-34.6 0.5h1.6m-7.1 1.5h1.6m87.4 0h1.6m-97.6 0.5h1.6m-0.1 0.5h1.6m0.9 0.5h1.6m11.9 0h1.6m-25.6 2h1.6m8.9 0.5h1.6m-69.6 0.5h1.6m61.9 1h1.6m158.9 0h1.6m-168.1 0.5h1.6m-35.1 0.5h1.6m112.9 0h1.6m-82.1 0.5h1.6m0.9 0h1.6m-24.1 0.5h1.6m17.9 0h1.6m-27.1 0.5h1.6m20.4 0h1.6m2.9 0h1.6m5.9 0h1.6m0.4 0.5h1.6m-24.6 1h1.6m7.9 0h1.6m-10.6 0.5h1.6m-10.1 0.5h1.6m-16.1 0.5h1.6m7.9 0h1.6m9.4 0h1.6m28.9 0h1.6m-14.6 0.5h1.6m-47.6 0.5h1.6m7.4 0h1.6m-5.6 0.5h1.6m9.9 0.5h1.6m-22.6 1h1.6m24.4 0h1.6m-0.6 0h1.6m-31.6 0.5h1.6m23.4 0h1.6m1.4 0.5h1.6m-26.1 1h1.6m2.9 0h1.6m30.4 0h1.6m4.9 0h1.6m-50.1 1.5h1.6m15.4 0h1.6m-17.6 1h1.6m0.9 0.5h1.6m5.4 1h1.6m5.4 0h1.6m-3.1 0.5h1.6m2.9 3h1.6m-39.1 13h1.6m-54.6 1.5h1.6m-3.6 3.5h1.6" stroke="#ff9a00" stroke-width="1.6" fill="none" stroke-opacity="0.8" transform="translate(0 0.5)"/><path d="M419.5 190h1.6m39.9 0h1.6m5.9 0h1.6m-49.1 0.5h1.6m28.9 6.5h1.6m22.9 0.5h1.6m-29.6 0.5h1.6m34.9 1h1.6m-13.1 1h1.6m14.4 1h1.6m-11.6 3.5h1.6m17.9 0h1.6m-21.1 0.5h1.6m13.9 0h1.6m-13.6 2h1.6m-9.1 0.5h1.6m-2.1 1h1.6m3.9 1h1.6m-41.1 0.5h1.6m34.4 0.5h1.6m16.4 0h1.6m-16.1 0.5h1.6m1.4 0h1.6m-56.6 1h1.6m51.4 0.5h1.6m7.4 0h1.6m-12.1 0.5h1.6m2.4 0h1.6m-5.6 0.5h1.6m-5.6 0.5h1.6m0.9 0h1.6m1.9 0h1.6m8.9 0h1.6m-85.1 0.5h1.6m56.9 0h1.6m15.9 0h1.6m-91.6 0.5h1.6m9.9 0h1.6m41.4 0h1.6m-51.6 0.5h1.6m-0.6 0h1.6m67.9 0h1.6m-16.6 0.5h1.6m10.9 0h1.6m4.4 0h1.6m5.4 0h1.6m8.9 0h1.6m-91.6 0.5h1.6m54.4 0h1.6m5.4 0h1.6m12.4 0h1.6m-14.1 0.5h1.6m-72.1 0.5h1.6m-2.6 0.5h1.6m8.4 0h1.6m22.9 0h1.6m17.9 0h1.6m1.4 0h1.6m11.9 0h1.6m-103.6 0.5h1.6m90.4 0h1.6m7.4 0h1.6m0.9 0h1.6m-58.1 0.5h1.6m41.9 0h1.6m14.4 0h1.6m6.9 0h1.6m-110.1 0.5h1.6m75.4 0h1.6m16.9 0h1.6m3.9 0h1.6m-71.6 0.5h1.6m38.4 0h1.6m-1.1 0.5h1.6m7.4 0h1.6m-93.6 0.5h1.6m14.4 0h1.6m27.4 0h1.6m17.9 0h1.6m-23.1 0.5h1.6m8.9 0h1.6m51.4 0h1.6m-68.1 0.5h1.6m38.9 0h1.6m39.4 0h1.6m-8.1 0.5h1.6m-109.1 0.5h1.6m86.9 0h1.6m-83.1 0.5h1.6m23.9 0h1.6m27.4 0.5h1.6m27.9 0h1.6m-27.6 0.5h1.6m7.9 0h1.6m13.9 0h1.6m0.4 0h1.6m-0.6 0h1.6m-12.6 0.5h1.6m-49.1 0.5h1.6m26.4 0.5h1.6m18.9 0h1.6m-0.1 0h1.6m-4.1 0.5h1.6m8.4 0.5h1.6m-34.1 1h1.6m14.9 0h1.6m-89.6 0.5h1.6m49.4 0h1.6m36.9 0h1.6m0.9 0h1.6m0.4 0h1.6m5.4 0.5h1.6m-25.6 0.5h1.6m14.4 0.5h1.6m-0.6 0h1.6m-6.1 0.5h1.6m-28.6 1h1.6m6.9 0.5h1.6m-7.6 1h1.6m4.9 1h1.6m-8.6 2h1.6m8.9 0h1.6m-26.1 0.5h1.6m1.9 1h1.6m-22.1 1.5h1.6m19.9 0h1.6m-47.6 1h1.6m23.9 0h1.6m-33.1 0.5h1.6m23.9 0h1.6m19.4 1h1.6m20.9 0h1.6m-68.1 1.5h1.6m-0.6 0h1.6m34.9 0.5h1.6m-1.1 0.5h1.6m0.9 0.5h1.6m-54.1 0.5h1.6m5.9 0h1.6m40.9 1h1.6m-48.6 0.5h1.6m-9.6 1h1.6m6.4 1.5h1.6m10.4 0h1.6m-48.1 1h1.6m-6.1 1h1.6m37.4 0h1.6m-35.6 0.5h1.6m38.4 0h1.6m-1.1 1h1.6m-51.6 0.5h1.6m-1.1 1h1.6m-6.1 0.5h1.6m5.9 0h1.6m-5.6 0.5h1.6m6.4 0.5h1.6m30.9 0h1.6m-10.6 0.5h1.6m-31.1 1.5h1.6m-9.6 1.5h1.6m-4.6 0.5h1.6m7.9 0h1.6m2.4 0.5h1.6m-7.1 0.5h1.6m6.4 0h1.6m-11.6 0.5h1.6m-57.6 1h1.6m44.9 0h1.6m-42.6 1h1.6m1.9 0h1.6m20.4 1h1.6m0.4 0h1.6m-15.1 0.5h1.6m13.9 0.5h1.6m-9.1 0.5h1.6m3.9 0h1.6m12.9 0h1.6m-1.1 0.5h1.6m-32.1 1h1.6m1.4 0h1.6m12.9 0h1.6m-3.6 0.5h1.6m-13.1 1h1.6m0.4 0h1.6m4.4 0h1.6m-14.1 1h1.6m-3.1 0.5h1.6m-4.1 0.5h1.6m-0.6 0h1.6m11.9 0.5h1.6m-27.6 1h1.6m1.9 0.5h1.6m-7.6 1h1.6m1.4 0h1.6m-4.6 1h1.6" stroke="#ff4000" stroke-width="1.6" fill="none" stroke-opacity="0.8" transform="translate(0 0.5)"/><path d="M438.5 185h1.6m3.9 3h1.6m47.4 0.5h1.6m-49.1 2h1.6m0.4 0h1.6m13.9 0h1.6m-2.6 1h1.6m-18.6 0.5h1.6m7.4 0h1.6m3.4 0.5h1.6m8.9 0.5h1.6m-14.1 1h1.6m-3.6 1h1.6m5.4 0h1.6m-343.6 0.5h1.6m328.4 0h1.6m4.9 0.5h1.6m1.4 0h1.6m-21.1 1h1.6m10.9 0h1.6m11.4 0h1.6m-0.1 0h1.6m-0.1 0h1.6m-22.6 0.5h1.6m13.4 0.5h1.6m-13.1 1h1.6m14.9 0.5h1.6m-9.1 0.5h1.6m-4.1 0.5h1.6m36.9 1h1.6m-28.6 0.5h1.6m16.4 0h1.6m4.4 0h1.6m76.4 0.5h1.6m-104.1 0.5h1.6m10.9 0h1.6m-1.1 0h1.6m-24.6 0.5h1.6m9.9 0h1.6m4.9 0h1.6m-3.1 0.5h1.6m47.4 0h1.6m29.4 0h1.6m-98.1 1h1.6m15.9 0h1.6m7.9 0h1.6m-1.1 0h1.6m-52.6 0.5h1.6m26.4 0h1.6m0.4 0h1.6m6.9 0h1.6m59.4 0h1.6m-107.1 1.5h1.6m16.9 0h1.6m33.9 0h1.6m-136.1 0.5h1.6m44.9 0.5h1.6m80.9 0h1.6m6.4 0h1.6m-17.1 0.5h1.6m0.4 0h1.6m12.4 0h1.6m1.4 0h1.6m0.9 0h1.6m6.9 0h1.6m-60.1 0.5h1.6m22.9 0h1.6m11.4 0h1.6m0.4 0h1.6m6.4 0h1.6m0.9 0h1.6m-1.1 0h1.6m-215.1 1h1.6m169.9 0h1.6m29.9 0h1.6m5.9 0h1.6m-7.6 0.5h1.6m5.4 0h1.6m-1.1 0h1.6m4.9 0h1.6m-22.6 1h1.6m-83.1 0.5h1.6m62.9 0h1.6m15.4 0h1.6m7.4 0.5h1.6m-94.1 0.5h1.6m23.9 0h1.6m41.9 0h1.6m25.9 0h1.6m-99.1 0.5h1.6m76.4 0h1.6m13.4 0h1.6m-201.1 0.5h1.6m181.9 0h1.6m5.9 0h1.6m-33.1 0.5h1.6m18.9 0h1.6m7.9 0h1.6m2.9 0h1.6m11.4 0h1.6m-116.1 0.5h1.6m64.4 0h1.6m20.4 0h1.6m0.4 0h1.6m3.9 0h1.6m7.4 0h1.6m-102.1 0.5h1.6m6.4 0h1.6m9.4 0h1.6m60.4 0h1.6m-0.1 0h1.6m1.4 0h1.6m-66.6 0.5h1.6m56.9 0h1.6m3.9 0h1.6m4.4 0h1.6m1.9 0h1.6m0.9 0h1.6m-1.1 0h1.6m-118.6 0.5h1.6m67.9 0h1.6m-0.6 0h1.6m29.4 0h1.6m2.4 0h1.6m10.4 0h1.6m2.4 0h1.6m-84.6 0.5h1.6m0.9 0h1.6m24.4 0h1.6m3.9 0h1.6m15.9 0h1.6m7.9 0h1.6m5.4 0h1.6m0.9 0h1.6m-0.1 0h1.6m7.4 0h1.6m0.9 0h1.6m-284.6 0.5h1.6m159.4 0h1.6m25.4 0h1.6m53.9 0h1.6m3.4 0h1.6m11.4 0h1.6m4.9 0h1.6m-103.6 0.5h1.6m42.9 0h1.6m60.9 0h1.6m-88.6 0.5h1.6m7.4 0h1.6m0.9 0h1.6m46.9 0h1.6m5.4 0h1.6m3.4 0h1.6m3.4 0h1.6m-101.6 0.5h1.6m27.9 0h1.6m68.4 0h1.6m12.4 0h1.6m0.9 0h1.6m-110.1 0.5h1.6m14.4 0h1.6m11.4 0h1.6m-1.1 0h1.6m4.9 0h1.6m-1.1 0h1.6m11.4 0h1.6m31.4 0h1.6m1.9 0h1.6m6.9 0h1.6m6.4 0h1.6m2.9 0h1.6m-119.6 0.5h1.6m4.4 0h1.6m26.9 0h1.6m4.9 0h1.6m7.9 0h1.6m44.9 0h1.6m10.9 0h1.6m-105.1 0.5h1.6m20.9 0h1.6m10.9 0h1.6m3.9 0h1.6m21.9 0h1.6m8.4 0h1.6m0.4 0h1.6m6.4 0h1.6m1.4 0h1.6m12.9 0h1.6m8.4 0h1.6m-108.6 0.5h1.6m23.4 0h1.6m3.9 0h1.6m-0.1 0h1.6m20.9 0h1.6m11.9 0h1.6m7.9 0h1.6m10.9 0h1.6m4.4 0h1.6m0.9 0h1.6m-108.1 0.5h1.6m39.9 0h1.6m-1.1 0h1.6m34.4 0h1.6m4.9 0h1.6m18.9 0h1.6m-38.1 0.5h1.6m4.4 0h1.6m-0.6 0h1.6m6.4 0h1.6m-0.1 0h1.6m-75.1 0.5h1.6m46.4 0h1.6m12.9 0h1.6m8.9 0h1.6m5.4 0h1.6m-0.1 0h1.6m7.9 0h1.6m-96.1 0.5h1.6m2.4 0h1.6m23.4 0h1.6m42.4 0h1.6m0.4 0h1.6m2.4 0h1.6m3.4 0h1.6m-10.1 0.5h1.6m6.4 0h1.6m16.9 0h1.6m-25.6 0.5h1.6m2.9 0h1.6m-0.6 0h1.6m0.4 0h1.6m0.4 0h1.6m-0.6 0h1.6m0.9 0h1.6m3.9 0h1.6m-35.6 0.5h1.6m17.9 0h1.6m-0.6 0h1.6m8.9 0h1.6m-30.1 0.5h1.6m7.4 0h1.6m8.4 0h1.6m-8.6 0.5h1.6m-69.6 0.5h1.6m43.4 0h1.6m34.9 0h1.6m-110.1 0.5h1.6m90.4 0h1.6m0.9 0h1.6m-0.6 0h1.6m-52.6 0.5h1.6m37.9 0h1.6m16.9 0h1.6m-12.6 0.5h1.6m-0.1 0h1.6m-48.6 0.5h1.6m-26.6 0.5h1.6m27.9 0h1.6m14.4 0h1.6m15.9 0h1.6m6.4 0h1.6m10.4 0h1.6m-44.6 0.5h1.6m4.9 0h1.6m7.4 0h1.6m-12.6 0.5h1.6m34.4 0h1.6m0.4 0h1.6m-105.1 0.5h1.6m-44.6 0.5h1.6m36.4 0h1.6m40.4 0h1.6m2.4 0h1.6m16.9 0h1.6m9.4 0h1.6m-25.1 0.5h1.6m13.9 0h1.6m10.9 0h1.6m28.9 0h1.6m-48.6 0.5h1.6m15.9 0h1.6m-62.6 0.5h1.6m56.9 0h1.6m-0.1 0h1.6m8.9 0h1.6m-60.1 0.5h1.6m30.9 0h1.6m8.4 0h1.6m1.9 0h1.6m11.4 0h1.6m-0.1 0h1.6m14.4 0h1.6m-83.1 0.5h1.6m23.4 0h1.6m6.9 0h1.6m11.4 0h1.6m-35.6 0.5h1.6m13.9 0.5h1.6m6.9 0h1.6m-17.6 0.5h1.6m-0.6 0h1.6m8.4 0h1.6m0.9 0h1.6m4.4 0h1.6m41.4 0h1.6m-50.6 0.5h1.6m10.4 0h1.6m-12.6 0.5h1.6m-0.6 0h1.6m-81.1 0.5h1.6m67.4 0h1.6m19.4 0h1.6m-29.1 0.5h1.6m3.9 0h1.6m25.4 0h1.6m-115.6 0.5h1.6m20.4 0h1.6m17.4 0h1.6m28.9 0h1.6m20.4 0h1.6m-17.1 0.5h1.6m17.9 0h1.6m-74.1 0.5h1.6m61.4 0h1.6m-27.6 0.5h1.6m8.9 0h1.6m10.4 0h1.6m-1.1 0h1.6m1.9 0h1.6m-11.6 0.5h1.6m5.4 0h1.6m7.4 0h1.6m4.9 0h1.6m86.9 0h1.6m-122.6 0.5h1.6m-1.1 0h1.6m4.4 0h1.6m13.4 0h1.6m42.9 0h1.6m-71.6 0.5h1.6m14.9 0h1.6m2.9 0h1.6m-67.1 0.5h1.6m50.4 0h1.6m0.9 0h1.6m4.4 0h1.6m2.4 0h1.6m7.9 0h1.6m0.4 0h1.6m-20.1 0.5h1.6m-0.1 0h1.6m-37.1 0.5h1.6m27.9 0h1.6m-28.6 0.5h1.6m-1.1 0h1.6m11.4 0h1.6m-0.1 0h1.6m12.9 0h1.6m11.9 0h1.6m61.4 0h1.6m-97.1 0.5h1.6m30.9 0h1.6m94.9 0h1.6m-178.1 0.5h1.6m36.9 0h1.6m2.4 0h1.6m12.4 0h1.6m-24.1 0.5h1.6m38.9 0h1.6m-40.6 0.5h1.6m41.9 0h1.6m87.9 0h1.6m-133.6 0.5h1.6m137.9 0h1.6m-250.6 0.5h1.6m141.9 0h1.6m56.9 0h1.6m-90.1 0.5h1.6m2.9 0h1.6m3.9 0h1.6m-0.1 0h1.6m-15.6 0.5h1.6m29.4 0h1.6m-36.6 0.5h1.6m30.4 0h1.6m6.4 0h1.6m94.9 0h1.6m-185.1 1h1.6m58.4 0h1.6m-22.6 0.5h1.6m3.4 0h1.6m14.9 0h1.6m114.9 0h1.6m-148.1 0.5h1.6m4.4 0h1.6m-0.6 0h1.6m12.4 0h1.6m20.9 0h1.6m6.9 0h1.6m-66.1 0.5h1.6m-21.6 0.5h1.6m11.4 0h1.6m34.9 0h1.6m-121.1 1h1.6m120.9 0.5h1.6m-54.6 0.5h1.6m5.4 0h1.6m26.9 0h1.6m-29.1 0.5h1.6m-14.1 0.5h1.6m1.4 0h1.6m15.9 0h1.6m-11.6 0.5h1.6m3.9 0.5h1.6m-9.1 0.5h1.6m1.4 0h1.6m22.9 0h1.6m-24.1 0.5h1.6m3.4 0.5h1.6m8.4 0h1.6m-84.6 0.5h1.6m32.9 0h1.6m19.4 0h1.6m5.4 0h1.6m-3.6 0.5h1.6m-4.1 1h1.6m-12.1 0.5h1.6m9.4 1h1.6m-0.1 0h1.6m-12.6 0.5h1.6m2.4 0.5h1.6m48.4 0h1.6m-60.1 0.5h1.6m8.9 0h1.6m-29.1 0.5h1.6m28.4 1h1.6m-15.6 0.5h1.6m2.9 0h1.6m-61.1 0.5h1.6m44.4 0h1.6m-2.1 0.5h1.6m7.4 0h1.6m2.9 0h1.6m-4.1 1h1.6m1.9 0.5h1.6m-0.6 1h1.6m-0.6 0h1.6m-35.1 0.5h1.6m9.4 0h1.6m7.4 0h1.6m-28.1 0.5h1.6m-0.6 0h1.6m0.9 0h1.6m11.4 0h1.6m8.9 0h1.6m-40.1 0.5h1.6m21.9 0h1.6m-0.6 0h1.6m11.4 0h1.6m-24.1 0.5h1.6m10.9 0h1.6m-0.6 0h1.6m-0.6 0h1.6m-21.1 1h1.6m16.4 0h1.6m4.4 0h1.6m-20.6 0.5h1.6m9.4 0h1.6m-21.1 0.5h1.6m3.9 0h1.6m4.9 0h1.6m-1.1 0h1.6m10.9 0h1.6m-9.1 0.5h1.6m-30.1 0.5h1.6m22.4 0h1.6m-48.1 0.5h1.6m30.9 0h1.6m4.4 0h1.6m7.9 0h1.6m-44.1 0.5h1.6m15.9 0.5h1.6m5.4 0h1.6m0.4 0.5h1.6m11.9 0h1.6m-33.6 0.5h1.6m28.4 0h1.6m3.4 0h1.6m-20.1 0.5h1.6m20.9 0h1.6m-8.1 0.5h1.6m-14.1 2.5h1.6m32.9 0h1.6m-36.1 3h1.6m9.9 0.5h1.6m-22.1 0.5h1.6m-0.1 2.5h1.6m-12.6 2h1.6m13.9 0h1.6m5.9 0.5h1.6m-50.6 0.5h1.6m-8.6 3.5h1.6m26.9 0h1.6m-52.6 0.5h1.6m-5.1 3.5h1.6m2.4 0.5h1.6m11.9 3h1.6m-23.1 2.5h1.6" stroke="#e00000" stroke-width="1.6" fill="none" stroke-opacity="0.8" transform="translate(0 0.5)"/><path d="M535.5 175.5h1.6m-425.1 7.5h1.6m353.9 5.5h1.6m-43.1 0.5h1.6m26.9 0h1.6m19.9 0h1.6m-61.1 1.5h1.6m11.4 0h1.6m34.4 0.5h1.6m83.9 0h1.6m-95.6 2.5h1.6m106.9 0h1.6m-125.1 0.5h1.6m108.9 1.5h1.6m-124.6 0.5h1.6m16.9 0h1.6m8.9 0h1.6m-112.6 0.5h1.6m99.4 0h1.6m22.4 0.5h1.6m-1.1 0h1.6m77.4 0h1.6m-106.6 0.5h1.6m15.4 0.5h1.6m2.4 0h1.6m16.9 0.5h1.6m76.4 0h1.6m-93.6 0.5h1.6m-3.6 0.5h1.6m81.4 0h1.6m-115.6 1h1.6m21.4 0.5h1.6m23.4 0.5h1.6m-8.6 0.5h1.6m7.9 0h1.6m-1.1 1.5h1.6m-7.1 1.5h1.6m-22.6 0.5h1.6m2.4 0.5h1.6m9.4 0h1.6m-33.6 0.5h1.6m38.9 0h1.6m-11.1 1h1.6m-2.1 0.5h1.6m-1.1 0.5h1.6m-117.1 0.5h1.6m111.4 0h1.6m3.9 0h1.6m-58.1 1h1.6m42.4 0.5h1.6m12.4 0h1.6m-92.1 0.5h1.6m89.4 0h1.6m-141.6 0.5h1.6m57.4 0h1.6m71.4 0h1.6m-99.6 1h1.6m88.4 0h1.6m14.4 0h1.6m-1.1 0h1.6m2.4 0h1.6m-12.1 0.5h1.6m-1.1 0h1.6m16.9 0h1.6m-29.1 0.5h1.6m4.9 0h1.6m-19.1 0.5h1.6m0.9 0h1.6m-1.1 0h1.6m20.4 0h1.6m-32.1 0.5h1.6m18.4 0h1.6m4.4 0h1.6m4.4 0h1.6m-124.6 0.5h1.6m38.4 0h1.6m41.4 0h1.6m-97.1 0.5h1.6m53.9 0h1.6m54.9 0h1.6m1.4 0h1.6m55.4 0h1.6m-122.1 0.5h1.6m24.4 0h1.6m-48.6 0.5h1.6m9.4 0h1.6m45.4 0h1.6m18.9 0h1.6m5.4 0h1.6m8.9 0h1.6m-95.1 0.5h1.6m3.9 0.5h1.6m32.9 0h1.6m38.9 0h1.6m-0.6 0h1.6m2.4 0h1.6m-1.1 0h1.6m-101.6 0.5h1.6m4.9 0h1.6m2.4 0h1.6m14.9 0h1.6m0.4 0h1.6m4.9 0h1.6m-10.1 0.5h1.6m3.4 0h1.6m1.9 0h1.6m26.9 0h1.6m4.4 0h1.6m14.9 0h1.6m2.4 0h1.6m-1.1 0h1.6m1.9 0h1.6m7.4 0h1.6m-112.1 0.5h1.6m3.4 0h1.6m47.9 0h1.6m48.4 0h1.6m-98.6 0.5h1.6m50.9 0h1.6m0.4 0h1.6m14.9 0h1.6m10.9 0h1.6m8.4 0h1.6m2.4 0h1.6m6.4 0h1.6m-109.1 0.5h1.6m4.9 0h1.6m15.9 0h1.6m14.9 0h1.6m42.9 0h1.6m-0.1 0h1.6m-1.1 0h1.6m7.9 0h1.6m-81.1 0.5h1.6m7.9 0h1.6m0.4 0h1.6m2.4 0h1.6m16.4 0h1.6m29.4 0h1.6m-0.1 0h1.6m28.9 0h1.6m-109.6 0.5h1.6m22.4 0h1.6m5.4 0h1.6m42.4 0h1.6m-50.1 0.5h1.6m-1.1 0h1.6m28.4 0h1.6m29.9 0h1.6m6.4 0h1.6m-0.6 0h1.6m5.4 0h1.6m3.9 0h1.6m-60.6 0.5h1.6m-58.1 0.5h1.6m29.4 0h1.6m-1.1 0h1.6m1.9 0h1.6m38.4 0h1.6m0.4 0h1.6m0.9 0h1.6m8.4 0h1.6m4.4 0h1.6m-69.6 0.5h1.6m56.9 0h1.6m16.4 0h1.6m5.4 0h1.6m-280.6 0.5h1.6m131.4 0h1.6m102.9 0h1.6m2.9 0h1.6m-1.1 0h1.6m12.4 0h1.6m-82.1 0.5h1.6m15.9 0h1.6m45.4 0h1.6m0.9 0h1.6m5.9 0h1.6m5.4 0h1.6m-34.1 0.5h1.6m5.4 0h1.6m2.4 0h1.6m7.4 0h1.6m-0.1 0h1.6m2.9 0h1.6m0.9 0h1.6m-0.1 0h1.6m14.9 0h1.6m-102.1 0.5h1.6m79.9 0h1.6m-36.6 1h1.6m30.4 0h1.6m2.4 0h1.6m4.9 0h1.6m3.9 0h1.6m-77.6 0.5h1.6m52.9 0h1.6m2.9 0h1.6m2.9 0h1.6m-56.1 0.5h1.6m33.4 0h1.6m25.9 0h1.6m-48.6 0.5h1.6m9.9 0h1.6m6.9 0h1.6m-47.6 0.5h1.6m45.4 0h1.6m31.9 0h1.6m-95.1 0.5h1.6m34.4 0h1.6m10.4 0h1.6m-68.1 1h1.6m44.4 0h1.6m94.4 0h1.6m-138.1 1.5h1.6m6.4 0h1.6m54.4 0h1.6m-81.6 0.5h1.6m52.9 0.5h1.6m7.9 0h1.6m13.9 0h1.6m11.9 0h1.6m-35.6 2.5h1.6m-0.1 0h1.6m55.4 0h1.6m-177.6 0.5h1.6m117.9 0h1.6m35.4 0h1.6m63.9 0h1.6m-122.6 0.5h1.6m11.4 0h1.6m-6.1 0.5h1.6m4.4 0h1.6m-0.6 0h1.6m4.9 0h1.6m15.9 0h1.6m-21.6 1h1.6m1.4 0h1.6m-21.1 0.5h1.6m2.4 0h1.6m20.4 0h1.6m-32.6 0.5h1.6m18.9 0h1.6m-11.1 0.5h1.6m65.4 0h1.6m-80.6 0.5h1.6m113.9 0h1.6m-138.1 0.5h1.6m5.9 0h1.6m10.9 0h1.6m-29.1 0.5h1.6m19.4 0h1.6m10.4 0h1.6m-1.1 0.5h1.6m92.4 0h1.6m-94.1 0.5h1.6m0.4 0h1.6m13.4 0h1.6m80.4 0h1.6m3.9 0h1.6m9.9 0.5h1.6m-150.6 0.5h1.6m31.4 0h1.6m-8.6 0.5h1.6m8.4 0h1.6m103.9 0h1.6m-139.1 0.5h1.6m26.9 0h1.6m3.4 0h1.6m-49.6 0.5h1.6m4.9 0h1.6m3.9 0h1.6m-1.1 0h1.6m0.9 0h1.6m7.9 0h1.6m126.4 0h1.6m-111.1 0.5h1.6m-17.6 0.5h1.6m101.9 0h1.6m-113.1 0.5h1.6m5.4 0h1.6m120.4 0h1.6m-161.6 1h1.6m34.4 0h1.6m15.4 0h1.6m0.4 0h1.6m-50.1 1h1.6m1.4 0.5h1.6m11.9 0.5h1.6m5.4 0h1.6m17.4 0h1.6m-63.6 0.5h1.6m-6.1 1h1.6m157.9 0h1.6m-181.1 0.5h1.6m41.9 0h1.6m-9.1 0.5h1.6m83.4 0.5h1.6m-35.6 3h1.6m-67.6 0.5h1.6m47.4 0h1.6m-73.6 0.5h1.6m59.4 0h1.6m-51.6 0.5h1.6m6.9 0h1.6m-6.6 0.5h1.6m-8.1 0.5h1.6m-3.6 1.5h1.6m47.9 0h1.6m-51.6 0.5h1.6m1.4 0h1.6m12.9 0h1.6m-24.1 0.5h1.6m7.4 0h1.6m2.9 0h1.6m-19.1 1h1.6m47.4 0h1.6m-36.1 1h1.6m-41.6 1h1.6m24.4 0h1.6m-38.6 1.5h1.6m38.4 0h1.6m0.9 0h1.6m-30.1 0.5h1.6m8.9 0h1.6m1.4 0h1.6m13.4 0.5h1.6m-15.6 0.5h1.6m4.4 0h1.6m6.4 0h1.6m-62.6 0.5h1.6m22.9 0h1.6m1.9 0h1.6m22.9 0h1.6m-32.1 0.5h1.6m4.4 0h1.6m6.9 0h1.6m-11.6 0.5h1.6m-1.1 0h1.6m6.4 0h1.6m6.9 0h1.6m7.9 0h1.6m76.4 0h1.6m-106.1 0.5h1.6m30.9 0.5h1.6m-67.6 0.5h1.6m19.4 0h1.6m9.9 0.5h1.6m-14.1 0.5h1.6m3.9 0h1.6m17.4 0h1.6m-1.1 0h1.6m-24.6 0.5h1.6m16.4 0h1.6m1.4 0h1.6m-20.1 0.5h1.6m41.9 0h1.6m-50.6 0.5h1.6m2.4 0h1.6m-10.6 0.5h1.6m13.9 0h1.6m-14.6 0.5h1.6m5.9 0h1.6m1.4 0.5h1.6m4.9 1.5h1.6m-30.1 0.5h1.6m13.4 0h1.6m5.4 1h1.6m-39.6 1.5h1.6m41.4 2h1.6m7.4 1.5h1.6m-12.1 0.5h1.6m-37.6 2.5h1.6m24.9 0h1.6m3.9 0h1.6m-86.1 9.5h1.6m5.9 2.5h1.6" stroke="#9a0000" stroke-width="1.6" fill="none" stroke-opacity="0.8" transform="translate(0 0.5)"/></g>
<path d="M327.4 153.3h7.2l-3.6 7.2zM351.2 154.0h7.2l-3.6 7.2zM355.0 153.4h7.2l-3.6 7.2zM380.7 154.6h7.2l-3.6 7.2zM407.6 154.0h7.2l-3.6 7.2zM434.4 154.6h7.2l-3.6 7.2z" fill="#e39b14" stroke="#2a1a00" stroke-width="0.9" stroke-linejoin="round"/>
<path d="M496 207.5L501.3 194.3L503.6 198.8L514.7 193.9L518.9 202.6L507.6 207.8L509.2 212.7Z" fill="#000"/>
<rect x="574.5" y="252.8" width="80.2" height="10.2" fill="url(#jeth)" stroke="#555" stroke-width="0.5"/>
<text x="580" y="276.6" font-size="10" text-anchor="middle" font-weight="normal" fill="#262626" >2</text>
<text x="605" y="276.6" font-size="10" text-anchor="middle" font-weight="normal" fill="#262626" >4</text>
<text x="629.9" y="276.6" font-size="10" text-anchor="middle" font-weight="normal" fill="#262626" >6</text>
<text x="654.7" y="276.6" font-size="10" text-anchor="middle" font-weight="normal" fill="#262626" >8</text>
<text x="614.5" y="290.5" font-size="10.5" text-anchor="middle" fill="#262626" textLength="33" lengthAdjust="spacingAndGlyphs">[km/s]</text>
<path d="M52.6 147.7V302.0H674.7" stroke="#8a8a8a" stroke-width="1.25" fill="none"/>
<path d="M52.6 302.0v-6M141.5 302.0v-6M230.3 302.0v-6M319.2 302.0v-6M408.1 302.0v-6M497 302.0v-6M585.8 302.0v-6M674.7 302.0v-6M52.6 147.7h6M52.6 190.6h6M52.6 233.4h6M52.6 276.3h6" stroke="#8a8a8a" stroke-width="1.2" fill="none"/>
<text x="52.6" y="316.3" font-size="11" text-anchor="middle" font-weight="normal" fill="#262626" >&#8722;40</text>
<text x="141.5" y="316.3" font-size="11" text-anchor="middle" font-weight="normal" fill="#262626" >&#8722;20</text>
<text x="230.3" y="316.3" font-size="11" text-anchor="middle" font-weight="normal" fill="#262626" >0</text>
<text x="319.2" y="316.3" font-size="11" text-anchor="middle" font-weight="normal" fill="#262626" >20</text>
<text x="408.1" y="316.3" font-size="11" text-anchor="middle" font-weight="normal" fill="#262626" >40</text>
<text x="497" y="316.3" font-size="11" text-anchor="middle" font-weight="normal" fill="#262626" >60</text>
<text x="585.8" y="316.3" font-size="11" text-anchor="middle" font-weight="normal" fill="#262626" >80</text>
<text x="674.7" y="316.3" font-size="11" text-anchor="middle" font-weight="normal" fill="#262626" >100</text>
<text x="48.2" y="151.6" font-size="11" text-anchor="end" font-weight="normal" fill="#262626" >0</text>
<text x="48.2" y="194.5" font-size="11" text-anchor="end" font-weight="normal" fill="#262626" >10</text>
<text x="48.2" y="237.3" font-size="11" text-anchor="end" font-weight="normal" fill="#262626" >20</text>
<text x="48.2" y="280.2" font-size="11" text-anchor="end" font-weight="normal" fill="#262626" >30</text>
<text transform="translate(29.8,225) rotate(-90)" font-size="12" text-anchor="middle" fill="#262626" textLength="65" lengthAdjust="spacingAndGlyphs">Depth (km)</text>
<text x="363.6" y="330.6" font-size="12" text-anchor="middle" fill="#262626" textLength="37.7" lengthAdjust="spacingAndGlyphs">X (km)</text>
<path d="M90.3 373.7V582.8M155.1 373.7V582.8M220 373.7V582.8M52.6 561.9H252.2M52.6 536H252.2M52.6 510.1H252.2M52.6 484.1H252.2M52.6 458.2H252.2M52.6 432.3H252.2M52.6 406.3H252.2M52.6 380.4H252.2" stroke="#e6e6e6" stroke-width="1" fill="none"/>
<path d="M164 392.5h1.1m-0.6 0.5h1.1m0.4 3h1.1m-0.6 2h1.1m-3.1 0.5h1.1m-0.1 0h1.1m-18.1 0.5h1.1m7.9 0h1.1m6.9 0h1.1m-0.6 0h1.1m1.9 0h1.1m-0.6 0h1.1m-3.6 0.5h1.1m0.9 0h1.1m-2.6 1h1.1m-1.6 1h1.1m-0.1 0h1.1m-0.6 0.5h1.1m-28.6 0.5h1.1m26.9 0h1.1m-30.6 0.5h1.1m-0.6 0h1.1m-0.6 0h1.1m-0.1 0h1.1m6.9 0h1.1m16.9 0h1.1m-30.1 0.5h1.1m0.9 0h1.1m-3.6 0.5h1.1m0.4 0h1.1m0.4 0h1.1m-4.6 0.5h1.1m-0.6 0h1.1m0.4 0h1.1m18.4 0h1.1m-23.6 0.5h1.1m-0.6 0h1.1m-2.6 0.5h1.1m-0.1 0h1.1m1.9 0h1.1m-6.1 1h1.1m-0.6 0h1.1m-0.6 0h1.1m5.4 0h1.1m13.9 0h1.1m2.4 0h1.1m-27.1 0.5h1.1m-0.1 0h1.1m25.9 0h1.1m-31.6 0.5h1.1m0.4 0h1.1m13.4 0h1.1m14.4 0h1.1m1.4 0h1.1m2.4 0h1.1m-37.6 0.5h1.1m0.9 0h1.1m26.9 0h1.1m-33.6 0.5h1.1m-0.1 0h1.1m-0.1 0h1.1m-0.6 0h1.1m36.9 0h1.1m-43.6 0.5h1.1m8.9 0h1.1m29.4 0h1.1m-41.6 0.5h1.1m-0.6 0h1.1m-0.6 0h1.1m-0.6 0h1.1m39.4 0h1.1m1.4 0h1.1m-46.1 0.5h1.1m7.9 0h1.1m-0.1 0h1.1m22.9 0h1.1m5.9 0h1.1m2.9 0h1.1m-45.6 0.5h1.1m42.4 0h1.1m-46.1 0.5h1.1m15.4 0h1.1m5.4 0h1.1m0.9 0h1.1m3.4 0h1.1m3.4 0h1.1m6.9 0h1.1m-44.6 0.5h1.1m2.9 0h1.1m14.4 0h1.1m10.4 0h1.1m-35.1 0.5h1.1m0.4 0h1.1m-0.1 0h1.1m-0.1 0h1.1m14.9 0h1.1m30.9 0h1.1m-50.6 0.5h1.1m5.4 0h1.1m2.4 0h1.1m5.4 0h1.1m-19.6 0.5h1.1m-0.1 0h1.1m-0.6 0h1.1m17.4 0h1.1m0.9 0h1.1m29.9 0h1.1m-53.6 0.5h1.1m45.4 0h1.1m-49.1 0.5h1.1m0.9 0h1.1m21.4 0h1.1m0.9 0h1.1m14.4 0h1.1m11.9 0h1.1m-55.1 0.5h1.1m-0.1 0h1.1m7.9 0h1.1m-0.1 0h1.1m0.4 0h1.1m0.9 0h1.1m-0.6 0h1.1m4.4 0h1.1m-0.6 0h1.1m-0.6 0h1.1m1.4 0h1.1m2.4 0h1.1m14.9 0h1.1m-45.1 0.5h1.1m6.9 0h1.1m4.9 0h1.1m5.9 0h1.1m-0.6 0h1.1m0.9 0h1.1m-0.1 0h1.1m-0.1 0h1.1m27.4 0h1.1m-59.1 0.5h1.1m0.4 0h1.1m-0.6 0h1.1m7.9 0h1.1m2.9 0h1.1m2.4 0h1.1m32.9 0h1.1m-54.6 0.5h1.1m2.4 0h1.1m12.9 0h1.1m3.4 0h1.1m3.4 0h1.1m21.4 0h1.1m8.9 0h1.1m-60.1 0.5h1.1m-0.6 0h1.1m7.4 0h1.1m1.4 0h1.1m1.9 0h1.1m2.4 0h1.1m-0.6 0h1.1m1.4 0h1.1m-0.1 0h1.1m-0.6 0h1.1m-0.6 0h1.1m0.4 0h1.1m-0.1 0h1.1m1.9 0h1.1m5.9 0h1.1m13.9 0h1.1m-50.6 0.5h1.1m-0.1 0h1.1m2.9 0h1.1m0.9 0h1.1m5.4 0h1.1m0.9 0h1.1m3.4 0h1.1m2.4 0h1.1m0.9 0h1.1m0.9 0h1.1m3.4 0h1.1m12.9 0h1.1m-51.1 0.5h1.1m15.9 0h1.1m2.9 0h1.1m2.4 0h1.1m2.4 0h1.1m0.4 0h1.1m-0.6 0h1.1m1.4 0h1.1m30.4 0h1.1m-64.6 0.5h1.1m-0.6 0h1.1m-0.6 0h1.1m11.4 0h1.1m1.9 0h1.1m1.9 0h1.1m8.9 0h1.1m-0.6 0h1.1m-0.1 0h1.1m-0.1 0h1.1m2.4 0h1.1m26.4 0h1.1m-0.6 0h1.1m-66.6 0.5h1.1m-0.6 0h1.1m7.9 0h1.1m-0.1 0h1.1m0.9 0h1.1m1.4 0h1.1m0.4 0h1.1m7.9 0h1.1m0.4 0h1.1m1.4 0h1.1m-0.6 0h1.1m2.4 0h1.1m1.4 0h1.1m8.4 0h1.1m3.9 0h1.1m14.9 0h1.1m-67.6 0.5h1.1m-0.1 0h1.1m4.9 0h1.1m5.4 0h1.1m-0.6 0h1.1m0.9 0h1.1m-0.6 0h1.1m2.4 0h1.1m1.4 0h1.1m-0.6 0h1.1m-0.6 0h1.1m-0.6 0h1.1m4.4 0h1.1m12.4 0h1.1m1.9 0h1.1m0.9 0h1.1m5.9 0h1.1m0.9 0h1.1m-50.6 0.5h1.1m4.9 0h1.1m-0.6 0h1.1m2.4 0h1.1m4.9 0h1.1m0.9 0h1.1m-0.1 0h1.1m3.4 0h1.1m-0.6 0h1.1m-0.6 0h1.1m-0.1 0h1.1m1.4 0h1.1m13.4 0h1.1m1.4 0h1.1m11.9 0h1.1m-69.1 0.5h1.1m-0.6 0h1.1m-0.1 0h1.1m7.9 0h1.1m3.4 0h1.1m1.4 0h1.1m-0.6 0h1.1m-0.6 0h1.1m-0.1 0h1.1m-0.6 0h1.1m0.4 0h1.1m-0.1 0h1.1m4.4 0h1.1m0.9 0h1.1m-0.6 0h1.1m-0.1 0h1.1m-0.1 0h1.1m-0.6 0h1.1m-0.1 0h1.1m3.9 0h1.1m4.9 0h1.1m10.4 0h1.1m-58.6 0.5h1.1m0.4 0h1.1m0.9 0h1.1m9.4 0h1.1m-0.1 0h1.1m-0.1 0h1.1m0.9 0h1.1m-0.6 0h1.1m0.4 0h1.1m-0.1 0h1.1m-0.6 0h1.1m-0.6 0h1.1m0.9 0h1.1m-0.6 0h1.1m-0.6 0h1.1m0.9 0h1.1m3.9 0h1.1m2.9 0h1.1m2.9 0h1.1m-0.6 0h1.1m2.9 0h1.1m0.9 0h1.1m22.9 0h1.1m-71.6 0.5h1.1m11.9 0h1.1m2.9 0h1.1m1.9 0h1.1m-0.1 0h1.1m-0.6 0h1.1m-0.6 0h1.1m6.4 0h1.1m0.4 0h1.1m-0.1 0h1.1m-0.1 0h1.1m1.4 0h1.1m2.9 0h1.1m0.9 0h1.1m6.9 0h1.1m1.4 0h1.1m16.4 0h1.1m-71.6 0.5h1.1m13.4 0h1.1m-0.6 0h1.1m-0.1 0h1.1m1.4 0h1.1m0.4 0h1.1m1.9 0h1.1m1.9 0h1.1m-0.6 0h1.1m-0.6 0h1.1m-0.1 0h1.1m-0.6 0h1.1m4.4 0h1.1m-0.6 0h1.1m-0.1 0h1.1m-0.1 0h1.1m0.9 0h1.1m-0.6 0h1.1m-0.1 0h1.1m-0.1 0h1.1m1.9 0h1.1m5.9 0h1.1m0.4 0h1.1m17.4 0h1.1m-73.1 0.5h1.1m7.9 0h1.1m0.4 0h1.1m3.9 0h1.1m-0.1 0h1.1m-0.1 0h1.1m0.9 0h1.1m-0.6 0h1.1m0.4 0h1.1m0.9 0h1.1m3.9 0h1.1m-0.6 0h1.1m-0.1 0h1.1m-0.1 0h1.1m-0.6 0h1.1m0.4 0h1.1m1.4 0h1.1m6.9 0h1.1m16.9 0h1.1m8.4 0h1.1m-0.6 0h1.1m-54.6 0.5h1.1m1.4 0h1.1m-0.1 0h1.1m0.4 0h1.1m-0.1 0h1.1m-0.1 0h1.1m0.9 0h1.1m-0.6 0h1.1m-0.1 0h1.1m-0.6 0h1.1m0.4 0h1.1m-0.6 0h1.1m0.4 0h1.1m0.9 0h1.1m-0.6 0h1.1m3.4 0h1.1m1.4 0h1.1m-0.1 0h1.1m-0.1 0h1.1m-0.6 0h1.1m0.4 0h1.1m5.4 0h1.1m19.4 0h1.1m-76.6 0.5h1.1m4.9 0h1.1m-0.6 0h1.1m7.9 0h1.1m0.4 0h1.1m0.4 0h1.1m-0.1 0h1.1m3.4 0h1.1m3.9 0h1.1m-0.6 0h1.1m-0.6 0h1.1m-0.6 0h1.1m0.4 0h1.1m-0.6 0h1.1m0.4 0h1.1m-0.6 0h1.1m2.4 0h1.1m-0.6 0h1.1m2.4 0h1.1m-0.1 0h1.1m-0.1 0h1.1m0.4 0h1.1m13.9 0h1.1m0.9 0h1.1m8.9 0h1.1m-74.6 0.5h1.1m16.9 0h1.1m3.4 0h1.1m1.9 0h1.1m-0.1 0h1.1m-0.6 0h1.1m0.4 0h1.1m-0.1 0h1.1m0.9 0h1.1m-0.1 0h1.1m0.4 0h1.1m0.9 0h1.1m-0.6 0h1.1m-0.1 0h1.1m-0.6 0h1.1m0.4 0h1.1m-0.1 0h1.1m2.4 0h1.1m-0.6 0h1.1m7.4 0h1.1m5.4 0h1.1m3.4 0h1.1m-65.6 0.5h1.1m5.4 0h1.1m17.9 0h1.1m1.4 0h1.1m1.9 0h1.1m0.9 0h1.1m-0.6 0h1.1m-0.1 0h1.1m0.9 0h1.1m0.9 0h1.1m0.4 0h1.1m-0.6 0h1.1m0.9 0h1.1m0.4 0h1.1m-0.1 0h1.1m0.9 0h1.1m-0.6 0h1.1m28.9 0h1.1m-62.6 0.5h1.1m1.9 0h1.1m2.4 0h1.1m0.9 0h1.1m4.9 0h1.1m-0.6 0h1.1m0.4 0h1.1m-0.6 0h1.1m-0.1 0h1.1m0.9 0h1.1m-0.1 0h1.1m3.4 0h1.1m2.9 0h1.1m-0.6 0h1.1m-0.1 0h1.1m-0.6 0h1.1m-0.6 0h1.1m0.4 0h1.1m-0.6 0h1.1m-0.6 0h1.1m5.4 0h1.1m8.4 0h1.1m9.4 0h1.1m-80.6 0.5h1.1m-0.1 0h1.1m-0.6 0h1.1m5.4 0h1.1m16.4 0h1.1m1.4 0h1.1m-0.6 0h1.1m0.9 0h1.1m-0.6 0h1.1m-0.1 0h1.1m-0.6 0h1.1m-0.6 0h1.1m-0.1 0h1.1m-0.6 0h1.1m-0.6 0h1.1m-0.6 0h1.1m-0.1 0h1.1m0.9 0h1.1m-0.1 0h1.1m0.4 0h1.1m0.9 0h1.1m4.9 0h1.1m0.4 0h1.1m1.4 0h1.1m-56.1 0.5h1.1m0.9 0h1.1m-0.6 0h1.1m21.9 0h1.1m-0.1 0h1.1m3.4 0h1.1m1.9 0h1.1m-0.6 0h1.1m-0.1 0h1.1m1.4 0h1.1m-0.6 0h1.1m-0.6 0h1.1m-0.6 0h1.1m2.4 0h1.1m-0.6 0h1.1m0.9 0h1.1m3.4 0h1.1m-0.6 0h1.1m-0.6 0h1.1m-0.1 0h1.1m2.9 0h1.1m3.9 0h1.1m10.4 0h1.1m-72.1 0.5h1.1m5.9 0h1.1m3.9 0h1.1m6.4 0h1.1m0.9 0h1.1m-0.1 0h1.1m1.4 0h1.1m1.4 0h1.1m-0.6 0h1.1m-0.1 0h1.1m0.4 0h1.1m0.9 0h1.1m-0.6 0h1.1m-0.1 0h1.1m-0.6 0h1.1m-0.6 0h1.1m-0.6 0h1.1m0.9 0h1.1m-0.1 0h1.1m-0.6 0h1.1m-0.6 0h1.1m-0.1 0h1.1m1.4 0h1.1m-0.1 0h1.1m-0.6 0h1.1m-0.1 0h1.1m-0.6 0h1.1m-0.6 0h1.1m1.4 0h1.1m-0.6 0h1.1m-0.6 0h1.1m-0.6 0h1.1m-0.1 0h1.1m-0.6 0h1.1m0.4 0h1.1m-0.1 0h1.1m-0.1 0h1.1m3.9 0h1.1m-0.6 0h1.1m1.9 0h1.1m1.9 0h1.1m3.4 0h1.1m-74.1 0.5h1.1m4.4 0h1.1m4.9 0h1.1m13.9 0h1.1m2.9 0h1.1m0.4 0h1.1m-0.1 0h1.1m-0.1 0h1.1m-0.6 0h1.1m0.4 0h1.1m-0.6 0h1.1m-0.1 0h1.1m-0.1 0h1.1m5.4 0h1.1m1.9 0h1.1m-0.1 0h1.1m-0.6 0h1.1m-0.1 0h1.1m-0.1 0h1.1m0.9 0h1.1m-0.6 0h1.1m3.4 0h1.1m4.4 0h1.1m13.9 0h1.1m3.9 0h1.1m-85.6 0.5h1.1m-0.6 0h1.1m-0.6 0h1.1m6.4 0h1.1m7.4 0h1.1m4.9 0h1.1m-0.6 0h1.1m1.4 0h1.1m3.9 0h1.1m-0.1 0h1.1m1.9 0h1.1m0.4 0h1.1m-0.6 0h1.1m3.9 0h1.1m-0.1 0h1.1m0.4 0h1.1m3.4 0h1.1m-0.6 0h1.1m1.9 0h1.1m-0.6 0h1.1m-0.6 0h1.1m-0.6 0h1.1m-0.6 0h1.1m-0.1 0h1.1m3.9 0h1.1m-0.1 0h1.1m6.4 0h1.1m10.9 0h1.1m1.4 0h1.1m-0.1 0h1.1m-87.1 0.5h1.1m5.9 0h1.1m5.9 0h1.1m3.9 0h1.1m2.4 0h1.1m2.4 0h1.1m1.9 0h1.1m-0.1 0h1.1m0.4 0h1.1m0.9 0h1.1m1.4 0h1.1m1.4 0h1.1m-0.6 0h1.1m4.9 0h1.1m-0.6 0h1.1m0.4 0h1.1m-0.6 0h1.1m2.4 0h1.1m-0.6 0h1.1m0.9 0h1.1m-0.6 0h1.1m-0.6 0h1.1m-0.6 0h1.1m0.4 0h1.1m1.9 0h1.1m-0.6 0h1.1m5.4 0h1.1m17.4 0h1.1m-87.1 0.5h1.1m-0.6 0h1.1m-0.6 0h1.1m2.9 0h1.1m0.4 0h1.1m3.4 0h1.1m7.4 0h1.1m3.4 0h1.1m-0.6 0h1.1m0.9 0h1.1m0.9 0h1.1m-0.6 0h1.1m0.4 0h1.1m0.9 0h1.1m-0.1 0h1.1m0.4 0h1.1m-0.1 0h1.1m-0.6 0h1.1m-0.6 0h1.1m3.4 0h1.1m1.4 0h1.1m1.9 0h1.1m1.9 0h1.1m0.4 0h1.1m-0.1 0h1.1m-0.1 0h1.1m-0.6 0h1.1m0.4 0h1.1m-0.6 0h1.1m-0.6 0h1.1m-0.6 0h1.1m-0.1 0h1.1m-0.6 0h1.1m4.4 0h1.1m2.4 0h1.1m-0.6 0h1.1m13.9 0h1.1m0.4 0h1.1m-87.6 0.5h1.1m0.4 0h1.1m0.9 0h1.1m-0.6 0h1.1m0.9 0h1.1m5.4 0h1.1m-0.6 0h1.1m4.9 0h1.1m5.4 0h1.1m4.4 0h1.1m-0.6 0h1.1m0.4 0h1.1m-0.1 0h1.1m2.4 0h1.1m2.4 0h1.1m1.4 0h1.1m-0.6 0h1.1m-0.1 0h1.1m1.9 0h1.1m0.4 0h1.1m-0.1 0h1.1m-0.1 0h1.1m-0.1 0h1.1m-0.6 0h1.1m-0.6 0h1.1m-0.1 0h1.1m0.4 0h1.1m-0.6 0h1.1m1.4 0h1.1m0.4 0h1.1m-0.6 0h1.1m-0.6 0h1.1m20.4 0h1.1m5.9 0h1.1m-90.1 0.5h1.1m0.4 0h1.1m0.4 0h1.1m11.4 0h1.1m4.9 0h1.1m0.9 0h1.1m6.9 0h1.1m1.4 0h1.1m3.9 0h1.1m0.4 0h1.1m0.4 0h1.1m-0.6 0h1.1m0.4 0h1.1m-0.6 0h1.1m-0.6 0h1.1m-0.1 0h1.1m-0.1 0h1.1m-0.1 0h1.1m-0.1 0h1.1m-0.6 0h1.1m1.9 0h1.1m-0.1 0h1.1m-0.1 0h1.1m-0.6 0h1.1m-0.1 0h1.1m-0.1 0h1.1m-0.1 0h1.1m-0.1 0h1.1m-0.1 0h1.1m-0.6 0h1.1m-0.1 0h1.1m7.4 0h1.1m0.4 0h1.1m1.4 0h1.1m5.4 0h1.1m-0.1 0h1.1m5.4 0h1.1m-90.1 0.5h1.1m17.4 0h1.1m3.4 0h1.1m2.4 0h1.1m0.9 0h1.1m-0.1 0h1.1m1.9 0h1.1m0.4 0h1.1m6.4 0h1.1m0.4 0h1.1m-0.6 0h1.1m-0.1 0h1.1m-0.6 0h1.1m-0.1 0h1.1m1.4 0h1.1m-0.1 0h1.1m0.9 0h1.1m1.9 0h1.1m-0.6 0h1.1m2.4 0h1.1m-0.6 0h1.1m0.4 0h1.1m-0.6 0h1.1m0.4 0h1.1m1.9 0h1.1m-0.6 0h1.1m-0.6 0h1.1m0.9 0h1.1m-0.1 0h1.1m0.9 0h1.1m-0.6 0h1.1m0.4 0h1.1m10.4 0h1.1m6.4 0h1.1m-95.1 0.5h1.1m-0.6 0h1.1m7.4 0h1.1m0.9 0h1.1m4.9 0h1.1m2.4 0h1.1m1.9 0h1.1m-0.6 0h1.1m0.4 0h1.1m0.9 0h1.1m-0.1 0h1.1m1.4 0h1.1m-0.6 0h1.1m0.4 0h1.1m0.4 0h1.1m2.4 0h1.1m-0.6 0h1.1m-0.1 0h1.1m-0.6 0h1.1m1.9 0h1.1m0.4 0h1.1m0.4 0h1.1m-0.6 0h1.1m-0.6 0h1.1m-0.1 0h1.1m-0.6 0h1.1m0.4 0h1.1m0.9 0h1.1m0.4 0h1.1m-0.1 0h1.1m-0.6 0h1.1m-0.6 0h1.1m-0.6 0h1.1m0.4 0h1.1m-0.1 0h1.1m-0.6 0h1.1m0.4 0h1.1m-0.6 0h1.1m-0.1 0h1.1m4.9 0h1.1m1.4 0h1.1m-0.1 0h1.1m-0.1 0h1.1m-0.6 0h1.1m6.4 0h1.1m1.9 0h1.1m2.9 0h1.1m-89.1 0.5h1.1m0.4 0h1.1m-0.6 0h1.1m-0.6 0h1.1m4.9 0h1.1m-0.1 0h1.1m-0.1 0h1.1m14.9 0h1.1m-0.6 0h1.1m-0.1 0h1.1m-0.6 0h1.1m3.4 0h1.1m0.4 0h1.1m0.4 0h1.1m-0.1 0h1.1m-0.1 0h1.1m2.4 0h1.1m-0.6 0h1.1m0.4 0h1.1m0.4 0h1.1m-0.6 0h1.1m-0.1 0h1.1m0.9 0h1.1m0.4 0h1.1m-0.1 0h1.1m1.9 0h1.1m0.9 0h1.1m1.9 0h1.1m0.4 0h1.1m-0.1 0h1.1m-0.6 0h1.1m4.9 0h1.1m19.9 0h1.1m-91.1 0.5h1.1m6.4 0h1.1m2.4 0h1.1m-0.6 0h1.1m1.4 0h1.1m0.9 0h1.1m0.4 0h1.1m-0.1 0h1.1m-0.1 0h1.1m-0.6 0h1.1m-0.6 0h1.1m0.9 0h1.1m-0.1 0h1.1m-0.1 0h1.1m-0.1 0h1.1m1.4 0h1.1m-0.1 0h1.1m-0.6 0h1.1m1.9 0h1.1m0.4 0h1.1m3.9 0h1.1m0.9 0h1.1m1.9 0h1.1m-0.1 0h1.1m-0.6 0h1.1m-0.6 0h1.1m0.4 0h1.1m-0.6 0h1.1m0.4 0h1.1m-0.6 0h1.1m-0.1 0h1.1m-0.6 0h1.1m1.9 0h1.1m-0.6 0h1.1m-0.6 0h1.1m-0.1 0h1.1m1.4 0h1.1m-0.6 0h1.1m-0.6 0h1.1m-0.6 0h1.1m-0.6 0h1.1m-0.6 0h1.1m12.9 0h1.1m-0.1 0h1.1m-0.6 0h1.1m-77.6 0.5h1.1m0.4 0h1.1m11.9 0h1.1m-0.1 0h1.1m0.9 0h1.1m-0.6 0h1.1m2.4 0h1.1m-0.6 0h1.1m1.9 0h1.1m0.4 0h1.1m-0.6 0h1.1m-0.1 0h1.1m-0.1 0h1.1m3.9 0h1.1m5.9 0h1.1m0.9 0h1.1m1.4 0h1.1m-0.1 0h1.1m-0.1 0h1.1m1.9 0h1.1m-0.1 0h1.1m-0.6 0h1.1m-0.1 0h1.1m-0.1 0h1.1m-0.6 0h1.1m-0.1 0h1.1m-0.6 0h1.1m0.4 0h1.1m-0.6 0h1.1m-0.6 0h1.1m-0.6 0h1.1m-0.1 0h1.1m-0.6 0h1.1m-0.6 0h1.1m0.9 0h1.1m5.9 0h1.1m2.9 0h1.1m0.4 0h1.1m11.4 0h1.1m4.9 0h1.1m-89.6 0.5h1.1m0.9 0h1.1m-0.6 0h1.1m-0.6 0h1.1m1.9 0h1.1m0.4 0h1.1m6.9 0h1.1m-0.6 0h1.1m-0.1 0h1.1m-0.1 0h1.1m0.9 0h1.1m0.4 0h1.1m1.4 0h1.1m-0.1 0h1.1m0.4 0h1.1m0.9 0h1.1m-0.1 0h1.1m4.4 0h1.1m0.9 0h1.1m-0.1 0h1.1m-0.6 0h1.1m1.4 0h1.1m-0.6 0h1.1m-0.1 0h1.1m-0.6 0h1.1m-0.1 0h1.1m-0.1 0h1.1m-0.1 0h1.1m0.4 0h1.1m-0.6 0h1.1m1.9 0h1.1m-0.6 0h1.1m-0.6 0h1.1m-0.6 0h1.1m-0.6 0h1.1m-0.1 0h1.1m-0.6 0h1.1m-0.6 0h1.1m-0.6 0h1.1m-0.6 0h1.1m-0.6 0h1.1m-0.6 0h1.1m-0.6 0h1.1m-0.1 0h1.1m8.9 0h1.1m-0.1 0h1.1m1.4 0h1.1m4.4 0h1.1m0.9 0h1.1m1.9 0h1.1m-81.6 0.5h1.1m-0.1 0h1.1m1.4 0h1.1m-0.6 0h1.1m-0.6 0h1.1m0.4 0h1.1m1.9 0h1.1m-0.6 0h1.1m-0.6 0h1.1m2.4 0h1.1m0.4 0h1.1m-0.6 0h1.1m-0.6 0h1.1m3.4 0h1.1m2.9 0h1.1m3.9 0h1.1m-0.6 0h1.1m-0.1 0h1.1m-0.6 0h1.1m1.9 0h1.1m-0.1 0h1.1m0.9 0h1.1m-0.6 0h1.1m-0.1 0h1.1m-0.1 0h1.1m-0.1 0h1.1m1.4 0h1.1m0.4 0h1.1m-0.6 0h1.1m-0.6 0h1.1m-0.6 0h1.1m0.4 0h1.1m-0.1 0h1.1m-0.6 0h1.1m-0.6 0h1.1m-0.1 0h1.1m-0.1 0h1.1m-0.1 0h1.1m0.4 0h1.1m-0.6 0h1.1m-0.1 0h1.1m0.4 0h1.1m0.9 0h1.1m5.9 0h1.1m0.9 0h1.1m-73.1 0.5h1.1m-0.6 0h1.1m6.9 0h1.1m4.4 0h1.1m-0.1 0h1.1m0.4 0h1.1m2.9 0h1.1m-0.6 0h1.1m-0.6 0h1.1m0.4 0h1.1m3.4 0h1.1m-0.6 0h1.1m0.9 0h1.1m0.4 0h1.1m-0.6 0h1.1m-0.6 0h1.1m1.9 0h1.1m-0.1 0h1.1m0.4 0h1.1m-0.6 0h1.1m-0.6 0h1.1m-0.6 0h1.1m-0.1 0h1.1m-0.6 0h1.1m0.4 0h1.1m-0.6 0h1.1m-0.1 0h1.1m1.4 0h1.1m0.4 0h1.1m2.4 0h1.1m-0.6 0h1.1m-0.6 0h1.1m-0.1 0h1.1m-0.6 0h1.1m-0.6 0h1.1m-0.1 0h1.1m0.9 0h1.1m3.4 0h1.1m-0.1 0h1.1m3.9 0h1.1m1.4 0h1.1m-0.1 0h1.1m4.4 0h1.1m1.9 0h1.1m3.4 0h1.1m4.9 0h1.1m-0.6 0h1.1m-0.1 0h1.1m-101.6 0.5h1.1m-0.6 0h1.1m-0.1 0h1.1m13.9 0h1.1m1.9 0h1.1m-0.1 0h1.1m-0.6 0h1.1m4.4 0h1.1m-0.1 0h1.1m-0.1 0h1.1m-0.6 0h1.1m-0.1 0h1.1m-0.6 0h1.1m-0.1 0h1.1m0.9 0h1.1m6.9 0h1.1m-0.1 0h1.1m1.4 0h1.1m0.4 0h1.1m0.4 0h1.1m0.4 0h1.1m0.9 0h1.1m-0.6 0h1.1m-0.6 0h1.1m-0.6 0h1.1m-0.6 0h1.1m1.4 0h1.1m0.9 0h1.1m-0.6 0h1.1m-0.6 0h1.1m-0.6 0h1.1m0.4 0h1.1m-0.1 0h1.1m-0.1 0h1.1m0.4 0h1.1m0.9 0h1.1m-0.6 0h1.1m-0.6 0h1.1m12.4 0h1.1m-0.6 0h1.1m8.4 0h1.1m-95.6 0.5h1.1m2.9 0h1.1m18.9 0h1.1m1.4 0h1.1m-0.6 0h1.1m-0.6 0h1.1m1.4 0h1.1m-0.6 0h1.1m0.4 0h1.1m-0.1 0h1.1m0.9 0h1.1m3.9 0h1.1m-0.1 0h1.1m-0.6 0h1.1m0.9 0h1.1m-0.1 0h1.1m1.4 0h1.1m5.9 0h1.1m-0.6 0h1.1m1.9 0h1.1m-0.6 0h1.1m-0.1 0h1.1m0.9 0h1.1m-0.6 0h1.1m-0.1 0h1.1m-0.6 0h1.1m-0.1 0h1.1m-0.6 0h1.1m1.9 0h1.1m0.4 0h1.1m11.4 0h1.1m-0.1 0h1.1m-0.6 0h1.1m1.4 0h1.1m18.4 0h1.1m-90.6 0.5h1.1m10.4 0h1.1m-0.6 0h1.1m0.4 0h1.1m-0.1 0h1.1m-0.6 0h1.1m1.9 0h1.1m2.4 0h1.1m3.9 0h1.1m0.9 0h1.1m0.9 0h1.1m-0.1 0h1.1m-0.6 0h1.1m0.4 0h1.1m0.4 0h1.1m-0.6 0h1.1m1.4 0h1.1m1.9 0h1.1m-0.1 0h1.1m-0.6 0h1.1m-0.6 0h1.1m-0.1 0h1.1m1.4 0h1.1m-0.6 0h1.1m1.4 0h1.1m0.9 0h1.1m0.9 0h1.1m-0.1 0h1.1m-0.6 0h1.1m-0.6 0h1.1m-0.6 0h1.1m-0.1 0h1.1m-0.6 0h1.1m5.9 0h1.1m1.9 0h1.1m0.9 0h1.1m9.9 0h1.1m-0.1 0h1.1m-0.6 0h1.1m-86.1 0.5h1.1m1.4 0h1.1m0.9 0h1.1m-0.6 0h1.1m0.4 0h1.1m0.4 0h1.1m-0.6 0h1.1m1.9 0h1.1m-0.6 0h1.1m-0.6 0h1.1m1.4 0h1.1m0.4 0h1.1m-0.1 0h1.1m0.4 0h1.1m-0.1 0h1.1m-0.6 0h1.1m-0.1 0h1.1m-0.1 0h1.1m-0.6 0h1.1m-0.1 0h1.1m-0.1 0h1.1m0.9 0h1.1m1.4 0h1.1m-0.1 0h1.1m0.9 0h1.1m-0.6 0h1.1m1.4 0h1.1m2.9 0h1.1m1.4 0h1.1m-0.6 0h1.1m0.9 0h1.1m-0.1 0h1.1m-0.6 0h1.1m0.9 0h1.1m0.4 0h1.1m1.9 0h1.1m0.4 0h1.1m0.9 0h1.1m2.9 0h1.1m1.4 0h1.1m-0.6 0h1.1m2.4 0h1.1m1.9 0h1.1m1.9 0h1.1m0.9 0h1.1m14.9 0h1.1m-105.6 0.5h1.1m13.4 0h1.1m4.9 0h1.1m0.9 0h1.1m0.9 0h1.1m0.4 0h1.1m1.4 0h1.1m0.4 0h1.1m0.9 0h1.1m-0.1 0h1.1m1.9 0h1.1m-0.6 0h1.1m-0.1 0h1.1m0.4 0h1.1m1.4 0h1.1m-0.1 0h1.1m-0.6 0h1.1m1.9 0h1.1m1.4 0h1.1m-0.1 0h1.1m1.4 0h1.1m0.4 0h1.1m2.4 0h1.1m0.4 0h1.1m-0.6 0h1.1m1.4 0h1.1m-0.1 0h1.1m-0.1 0h1.1m-0.6 0h1.1m1.4 0h1.1m-0.6 0h1.1m-0.6 0h1.1m-0.1 0h1.1m-0.6 0h1.1m-0.6 0h1.1m-0.6 0h1.1m1.9 0h1.1m8.4 0h1.1m22.4 0h1.1m-105.6 0.5h1.1m17.4 0h1.1m1.4 0h1.1m-0.1 0h1.1m1.4 0h1.1m-0.1 0h1.1m-0.1 0h1.1m0.4 0h1.1m1.4 0h1.1m-0.6 0h1.1m-0.1 0h1.1m-0.1 0h1.1m3.4 0h1.1m-0.6 0h1.1m0.9 0h1.1m-0.6 0h1.1m13.4 0h1.1m-0.6 0h1.1m-0.6 0h1.1m-0.1 0h1.1m2.4 0h1.1m1.4 0h1.1m-0.1 0h1.1m-0.6 0h1.1m-0.6 0h1.1m-0.6 0h1.1m-0.6 0h1.1m-0.6 0h1.1m-0.6 0h1.1m0.9 0h1.1m-0.1 0h1.1m-0.1 0h1.1m3.4 0h1.1m2.9 0h1.1m7.4 0h1.1m-86.6 0.5h1.1m8.9 0h1.1m1.4 0h1.1m2.9 0h1.1m2.4 0h1.1m0.9 0h1.1m-0.6 0h1.1m0.9 0h1.1m-0.1 0h1.1m-0.6 0h1.1m-0.1 0h1.1m-0.6 0h1.1m-0.6 0h1.1m-0.1 0h1.1m-0.6 0h1.1m-0.1 0h1.1m-0.6 0h1.1m-0.6 0h1.1m0.4 0h1.1m3.9 0h1.1m1.4 0h1.1m9.9 0h1.1m-0.6 0h1.1m1.4 0h1.1m0.4 0h1.1m0.4 0h1.1m2.4 0h1.1m1.9 0h1.1m-0.6 0h1.1m0.9 0h1.1m-0.6 0h1.1m-0.6 0h1.1m1.9 0h1.1m0.4 0h1.1m0.9 0h1.1m-81.1 0.5h1.1m1.9 0h1.1m13.4 0h1.1m-0.1 0h1.1m2.4 0h1.1m4.9 0h1.1m0.9 0h1.1m3.4 0h1.1m-0.1 0h1.1m-0.6 0h1.1m-0.6 0h1.1m-0.1 0h1.1m0.9 0h1.1m-0.6 0h1.1m-0.6 0h1.1m0.4 0h1.1m1.9 0h1.1m0.4 0h1.1m2.4 0h1.1m-0.6 0h1.1m1.9 0h1.1m2.4 0h1.1m0.4 0h1.1m0.4 0h1.1m3.9 0h1.1m-0.6 0h1.1m-0.6 0h1.1m0.9 0h1.1m-0.6 0h1.1m0.4 0h1.1m0.4 0h1.1m-0.1 0h1.1m-0.6 0h1.1m0.4 0h1.1m-0.1 0h1.1m-0.6 0h1.1m-0.6 0h1.1m2.9 0h1.1m-0.1 0h1.1m2.9 0h1.1m-0.1 0h1.1m4.9 0h1.1m6.9 0h1.1m-79.1 0.5h1.1m2.4 0h1.1m4.9 0h1.1m0.9 0h1.1m-0.6 0h1.1m-0.6 0h1.1m-0.6 0h1.1m0.9 0h1.1m0.4 0h1.1m0.4 0h1.1m-0.1 0h1.1m-0.6 0h1.1m0.4 0h1.1m-0.1 0h1.1m-0.1 0h1.1m0.4 0h1.1m-0.1 0h1.1m-0.6 0h1.1m3.4 0h1.1m1.4 0h1.1m3.4 0h1.1m-0.6 0h1.1m-0.6 0h1.1m-0.1 0h1.1m0.4 0h1.1m0.9 0h1.1m-0.6 0h1.1m1.9 0h1.1m-0.6 0h1.1m-0.6 0h1.1m-0.6 0h1.1m0.9 0h1.1m1.4 0h1.1m-0.1 0h1.1m0.4 0h1.1m4.9 0h1.1m3.4 0h1.1m-0.6 0h1.1m-0.1 0h1.1m8.9 0h1.1m1.9 0h1.1m5.9 0h1.1m-115.1 0.5h1.1m3.9 0h1.1m7.9 0h1.1m-0.1 0h1.1m9.4 0h1.1m-0.6 0h1.1m-0.6 0h1.1m0.9 0h1.1m-0.6 0h1.1m6.9 0h1.1m-0.6 0h1.1m2.4 0h1.1m1.9 0h1.1m-0.6 0h1.1m-0.6 0h1.1m-0.1 0h1.1m0.9 0h1.1m-0.6 0h1.1m-0.6 0h1.1m0.4 0h1.1m-0.6 0h1.1m-0.6 0h1.1m-0.1 0h1.1m0.4 0h1.1m0.4 0h1.1m-0.6 0h1.1m1.9 0h1.1m3.4 0h1.1m-0.6 0h1.1m-0.6 0h1.1m-0.1 0h1.1m0.4 0h1.1m-0.6 0h1.1m0.4 0h1.1m-0.6 0h1.1m-0.1 0h1.1m0.4 0h1.1m0.4 0h1.1m-0.1 0h1.1m1.9 0h1.1m-0.1 0h1.1m10.9 0h1.1m5.4 0h1.1m0.9 0h1.1m-83.1 0.5h1.1m7.9 0h1.1m0.4 0h1.1m0.9 0h1.1m-0.6 0h1.1m0.4 0h1.1m0.4 0h1.1m0.9 0h1.1m-0.1 0h1.1m1.9 0h1.1m0.9 0h1.1m0.9 0h1.1m-0.6 0h1.1m-0.6 0h1.1m1.4 0h1.1m-0.6 0h1.1m0.9 0h1.1m-0.6 0h1.1m-0.6 0h1.1m-0.6 0h1.1m-0.1 0h1.1m0.9 0h1.1m0.4 0h1.1m-0.1 0h1.1m5.9 0h1.1m-0.6 0h1.1m-0.6 0h1.1m-0.1 0h1.1m1.9 0h1.1m0.4 0h1.1m1.4 0h1.1m0.9 0h1.1m-0.6 0h1.1m-0.6 0h1.1m-0.6 0h1.1m0.4 0h1.1m0.4 0h1.1m0.4 0h1.1m5.4 0h1.1m2.9 0h1.1m4.9 0h1.1m16.9 0h1.1m-102.6 0.5h1.1m6.9 0h1.1m1.9 0h1.1m-0.1 0h1.1m-0.1 0h1.1m0.4 0h1.1m2.9 0h1.1m0.4 0h1.1m3.4 0h1.1m3.4 0h1.1m-0.6 0h1.1m0.4 0h1.1m-0.6 0h1.1m0.9 0h1.1m-0.6 0h1.1m-0.1 0h1.1m-0.6 0h1.1m-0.1 0h1.1m0.4 0h1.1m-0.6 0h1.1m-0.1 0h1.1m-0.6 0h1.1m-0.6 0h1.1m2.4 0h1.1m-0.6 0h1.1m-0.1 0h1.1m0.4 0h1.1m-0.6 0h1.1m3.9 0h1.1m5.9 0h1.1m-0.6 0h1.1m-0.1 0h1.1m0.9 0h1.1m-0.6 0h1.1m2.9 0h1.1m1.9 0h1.1m2.9 0h1.1m1.4 0h1.1m4.4 0h1.1m1.9 0h1.1m7.9 0h1.1m-110.1 0.5h1.1m1.9 0h1.1m0.4 0h1.1m16.9 0h1.1m2.9 0h1.1m-0.1 0h1.1m2.4 0h1.1m-0.1 0h1.1m0.9 0h1.1m-0.1 0h1.1m0.9 0h1.1m-0.1 0h1.1m2.4 0h1.1m-0.1 0h1.1m0.9 0h1.1m0.4 0h1.1m-0.6 0h1.1m1.4 0h1.1m-0.1 0h1.1m0.9 0h1.1m2.4 0h1.1m0.9 0h1.1m-0.6 0h1.1m4.9 0h1.1m0.4 0h1.1m-0.6 0h1.1m3.9 0h1.1m-0.6 0h1.1m-0.1 0h1.1m-0.6 0h1.1m-0.1 0h1.1m0.4 0h1.1m0.9 0h1.1m-0.6 0h1.1m-0.6 0h1.1m1.9 0h1.1m4.9 0h1.1m-0.6 0h1.1m15.9 0h1.1m8.9 0h1.1m-115.6 0.5h1.1m26.4 0h1.1m1.9 0h1.1m0.9 0h1.1m2.4 0h1.1m0.4 0h1.1m-0.6 0h1.1m-0.1 0h1.1m-0.6 0h1.1m0.9 0h1.1m-0.1 0h1.1m-0.1 0h1.1m-0.6 0h1.1m-0.1 0h1.1m-0.6 0h1.1m-0.6 0h1.1m-0.1 0h1.1m0.4 0h1.1m0.4 0h1.1m1.4 0h1.1m-0.1 0h1.1m-0.6 0h1.1m-0.1 0h1.1m-0.1 0h1.1m0.9 0h1.1m-0.6 0h1.1m-0.6 0h1.1m-0.1 0h1.1m2.4 0h1.1m-0.6 0h1.1m-0.6 0h1.1m0.4 0h1.1m1.9 0h1.1m-0.1 0h1.1m-0.6 0h1.1m1.9 0h1.1m-0.1 0h1.1m0.4 0h1.1m-0.6 0h1.1m-0.6 0h1.1m0.9 0h1.1m-0.6 0h1.1m-0.6 0h1.1m-0.6 0h1.1m-0.6 0h1.1m1.4 0h1.1m2.4 0h1.1m-0.6 0h1.1m-0.6 0h1.1m2.9 0h1.1m-0.6 0h1.1m2.9 0h1.1m0.9 0h1.1m-99.1 0.5h1.1m-0.6 0h1.1m20.4 0h1.1m4.9 0h1.1m-0.6 0h1.1m0.4 0h1.1m0.4 0h1.1m0.9 0h1.1m1.4 0h1.1m-0.1 0h1.1m0.9 0h1.1m1.4 0h1.1m-0.6 0h1.1m-0.1 0h1.1m-0.1 0h1.1m-0.1 0h1.1m-0.1 0h1.1m-0.6 0h1.1m1.4 0h1.1m-0.6 0h1.1m-0.6 0h1.1m-0.6 0h1.1m-0.6 0h1.1m0.9 0h1.1m0.9 0h1.1m-0.1 0h1.1m-0.1 0h1.1m3.4 0h1.1m1.9 0h1.1m0.9 0h1.1m0.4 0h1.1m1.4 0h1.1m0.4 0h1.1m0.9 0h1.1m1.9 0h1.1m1.4 0h1.1m-0.6 0h1.1m-0.6 0h1.1m-0.6 0h1.1m0.9 0h1.1m2.4 0h1.1m-0.1 0h1.1m-0.6 0h1.1m3.9 0h1.1m0.4 0h1.1m0.9 0h1.1m-0.1 0h1.1m0.4 0h1.1m-102.6 0.5h1.1m12.4 0h1.1m1.4 0h1.1m7.9 0h1.1m2.4 0h1.1m1.4 0h1.1m1.4 0h1.1m-0.1 0h1.1m1.4 0h1.1m1.4 0h1.1m1.4 0h1.1m0.4 0h1.1m-0.6 0h1.1m1.4 0h1.1m0.4 0h1.1m-0.6 0h1.1m-0.6 0h1.1m-0.1 0h1.1m-0.6 0h1.1m-0.1 0h1.1m-0.1 0h1.1m0.9 0h1.1m0.9 0h1.1m0.4 0h1.1m5.4 0h1.1m2.4 0h1.1m-0.6 0h1.1m1.4 0h1.1m-0.1 0h1.1m0.4 0h1.1m-0.6 0h1.1m0.9 0h1.1m-0.1 0h1.1m0.9 0h1.1m-0.6 0h1.1m0.4 0h1.1m0.9 0h1.1m2.9 0h1.1m1.9 0h1.1m0.4 0h1.1m-0.6 0h1.1m0.9 0h1.1m-0.6 0h1.1m0.4 0h1.1m0.9 0h1.1m-0.1 0h1.1m3.9 0h1.1m-0.6 0h1.1m-106.6 0.5h1.1m1.4 0h1.1m13.4 0h1.1m1.4 0h1.1m0.9 0h1.1m5.9 0h1.1m0.9 0h1.1m-0.6 0h1.1m0.4 0h1.1m1.9 0h1.1m-0.1 0h1.1m-0.1 0h1.1m-0.1 0h1.1m0.9 0h1.1m-0.1 0h1.1m0.4 0h1.1m-0.6 0h1.1m-0.6 0h1.1m0.4 0h1.1m-0.1 0h1.1m-0.1 0h1.1m0.4 0h1.1m0.4 0h1.1m1.4 0h1.1m0.9 0h1.1m1.9 0h1.1m1.9 0h1.1m-0.6 0h1.1m-0.6 0h1.1m-0.6 0h1.1m2.9 0h1.1m1.4 0h1.1m0.4 0h1.1m-0.1 0h1.1m0.4 0h1.1m0.4 0h1.1m-0.1 0h1.1m1.9 0h1.1m-0.6 0h1.1m-0.1 0h1.1m-0.6 0h1.1m1.4 0h1.1m-0.1 0h1.1m2.4 0h1.1m0.9 0h1.1m0.9 0h1.1m0.4 0h1.1m-0.6 0h1.1m-0.6 0h1.1m1.4 0h1.1m0.9 0h1.1m0.4 0h1.1m2.9 0h1.1m-0.6 0h1.1m11.4 0h1.1m-115.6 0.5h1.1m0.4 0h1.1m6.4 0h1.1m0.4 0h1.1m11.4 0h1.1m0.9 0h1.1m-0.6 0h1.1m2.4 0h1.1m0.4 0h1.1m2.4 0h1.1m-0.1 0h1.1m-0.6 0h1.1m0.4 0h1.1m0.9 0h1.1m0.9 0h1.1m0.9 0h1.1m-0.6 0h1.1m-0.6 0h1.1m-0.6 0h1.1m0.4 0h1.1m-0.6 0h1.1m-0.6 0h1.1m8.4 0h1.1m1.4 0h1.1m0.4 0h1.1m0.4 0h1.1m-0.6 0h1.1m0.9 0h1.1m-0.6 0h1.1m1.4 0h1.1m0.4 0h1.1m0.4 0h1.1m-0.6 0h1.1m-0.1 0h1.1m-0.6 0h1.1m0.4 0h1.1m-0.1 0h1.1m-0.1 0h1.1m-0.6 0h1.1m-0.6 0h1.1m2.4 0h1.1m2.9 0h1.1m4.9 0h1.1m-0.1 0h1.1m2.4 0h1.1m5.9 0h1.1m0.9 0h1.1m12.4 0h1.1m-123.6 0.5h1.1m8.9 0h1.1m8.4 0h1.1m2.9 0h1.1m2.4 0h1.1m-0.1 0h1.1m-0.6 0h1.1m1.9 0h1.1m1.4 0h1.1m-0.1 0h1.1m9.4 0h1.1m-0.1 0h1.1m1.4 0h1.1m2.9 0h1.1m0.4 0h1.1m0.4 0h1.1m0.4 0h1.1m-0.1 0h1.1m-0.1 0h1.1m-0.6 0h1.1m0.9 0h1.1m0.4 0h1.1m0.9 0h1.1m0.9 0h1.1m-0.6 0h1.1m-0.6 0h1.1m0.4 0h1.1m1.4 0h1.1m0.4 0h1.1m-0.6 0h1.1m1.4 0h1.1m-0.1 0h1.1m0.9 0h1.1m-0.6 0h1.1m1.4 0h1.1m-0.6 0h1.1m4.9 0h1.1m4.9 0h1.1m6.4 0h1.1m0.9 0h1.1m-104.6 0.5h1.1m-0.6 0h1.1m6.4 0h1.1m17.9 0h1.1m2.9 0h1.1m0.4 0h1.1m3.4 0h1.1m-0.6 0h1.1m-0.1 0h1.1m5.4 0h1.1m0.4 0h1.1m0.9 0h1.1m-0.6 0h1.1m0.4 0h1.1m-0.1 0h1.1m1.9 0h1.1m1.4 0h1.1m-0.6 0h1.1m-0.6 0h1.1m-0.6 0h1.1m3.4 0h1.1m-0.1 0h1.1m2.9 0h1.1m2.4 0h1.1m-0.6 0h1.1m-0.6 0h1.1m-0.6 0h1.1m-0.1 0h1.1m2.4 0h1.1m-0.6 0h1.1m-0.6 0h1.1m0.4 0h1.1m-0.1 0h1.1m-0.1 0h1.1m-0.6 0h1.1m0.4 0h1.1m0.4 0h1.1m-0.6 0h1.1m0.4 0h1.1m2.4 0h1.1m2.4 0h1.1m-0.1 0h1.1m1.9 0h1.1m-0.6 0h1.1m5.4 0h1.1m0.4 0h1.1m-0.6 0h1.1m3.4 0h1.1m7.9 0h1.1m-124.6 0.5h1.1m2.4 0h1.1m10.4 0h1.1m12.4 0h1.1m-0.1 0h1.1m-0.1 0h1.1m3.9 0h1.1m1.9 0h1.1m1.4 0h1.1m-0.1 0h1.1m0.4 0h1.1m1.9 0h1.1m-0.1 0h1.1m-0.1 0h1.1m-0.1 0h1.1m2.4 0h1.1m-0.6 0h1.1m-0.1 0h1.1m2.4 0h1.1m-0.1 0h1.1m6.4 0h1.1m-0.6 0h1.1m1.4 0h1.1m0.4 0h1.1m1.9 0h1.1m0.4 0h1.1m1.4 0h1.1m-0.6 0h1.1m-0.6 0h1.1m-0.1 0h1.1m-0.6 0h1.1m-0.1 0h1.1m2.4 0h1.1m-0.6 0h1.1m-0.1 0h1.1m-0.6 0h1.1m2.4 0h1.1m-0.6 0h1.1m-0.6 0h1.1m-0.1 0h1.1m-0.1 0h1.1m-0.1 0h1.1m1.4 0h1.1m-0.6 0h1.1m-0.6 0h1.1m-0.6 0h1.1m1.4 0h1.1m1.9 0h1.1m-97.1 0.5h1.1m0.9 0h1.1m10.9 0h1.1m10.4 0h1.1m0.4 0h1.1m0.9 0h1.1m2.4 0h1.1m-0.6 0h1.1m-0.6 0h1.1m-0.6 0h1.1m0.4 0h1.1m0.4 0h1.1m1.9 0h1.1m0.4 0h1.1m-0.6 0h1.1m-0.1 0h1.1m-0.6 0h1.1m-0.6 0h1.1m-0.6 0h1.1m0.4 0h1.1m-0.6 0h1.1m1.4 0h1.1m-0.6 0h1.1m0.4 0h1.1m-0.6 0h1.1m-0.1 0h1.1m-0.6 0h1.1m2.4 0h1.1m2.9 0h1.1m4.9 0h1.1m-0.1 0h1.1m-0.6 0h1.1m-0.1 0h1.1m0.4 0h1.1m1.4 0h1.1m0.4 0h1.1m1.4 0h1.1m-0.1 0h1.1m-0.1 0h1.1m-0.6 0h1.1m0.9 0h1.1m-0.6 0h1.1m0.9 0h1.1m0.9 0h1.1m0.4 0h1.1m1.9 0h1.1m0.9 0h1.1m1.9 0h1.1m-108.6 0.5h1.1m2.4 0h1.1m18.4 0h1.1m8.4 0h1.1m-0.1 0h1.1m2.9 0h1.1m4.9 0h1.1m-0.1 0h1.1m2.9 0h1.1m-0.1 0h1.1m2.9 0h1.1m1.9 0h1.1m-0.6 0h1.1m-0.6 0h1.1m-0.6 0h1.1m1.4 0h1.1m1.4 0h1.1m-0.1 0h1.1m0.9 0h1.1m0.9 0h1.1m3.4 0h1.1m-0.6 0h1.1m0.9 0h1.1m-0.1 0h1.1m1.4 0h1.1m-0.6 0h1.1m-0.1 0h1.1m-0.6 0h1.1m0.9 0h1.1m-0.6 0h1.1m0.4 0h1.1m-0.6 0h1.1m3.4 0h1.1m-0.1 0h1.1m-0.6 0h1.1m-0.6 0h1.1m7.4 0h1.1m0.4 0h1.1m-0.6 0h1.1m1.4 0h1.1m-0.6 0h1.1m1.4 0h1.1m19.4 0h1.1m0.4 0h1.1m-0.1 0h1.1m-133.1 0.5h1.1m26.4 0h1.1m10.9 0h1.1m2.9 0h1.1m4.9 0h1.1m0.4 0h1.1m-0.6 0h1.1m2.4 0h1.1m-0.6 0h1.1m-0.6 0h1.1m2.4 0h1.1m0.4 0h1.1m0.4 0h1.1m-0.6 0h1.1m-0.1 0h1.1m0.4 0h1.1m-0.1 0h1.1m-0.1 0h1.1m0.4 0h1.1m1.4 0h1.1m-0.1 0h1.1m-0.1 0h1.1m3.9 0h1.1m1.9 0h1.1m-0.1 0h1.1m-0.6 0h1.1m1.4 0h1.1m-0.6 0h1.1m-0.1 0h1.1m-0.1 0h1.1m-0.6 0h1.1m-0.6 0h1.1m-0.6 0h1.1m1.9 0h1.1m3.4 0h1.1m0.9 0h1.1m3.9 0h1.1m1.4 0h1.1m2.4 0h1.1m1.4 0h1.1m-94.6 0.5h1.1m9.4 0h1.1m1.9 0h1.1m-0.1 0h1.1m0.9 0h1.1m2.4 0h1.1m-0.6 0h1.1m1.4 0h1.1m0.9 0h1.1m-0.1 0h1.1m0.4 0h1.1m1.4 0h1.1m-0.6 0h1.1m-0.1 0h1.1m1.4 0h1.1m-0.6 0h1.1m-0.6 0h1.1m5.4 0h1.1m-0.1 0h1.1m0.4 0h1.1m0.9 0h1.1m1.4 0h1.1m-0.6 0h1.1m0.4 0h1.1m2.4 0h1.1m1.9 0h1.1m1.4 0h1.1m1.4 0h1.1m-0.1 0h1.1m1.4 0h1.1m-0.6 0h1.1m0.9 0h1.1m1.9 0h1.1m-0.6 0h1.1m0.4 0h1.1m1.4 0h1.1m0.4 0h1.1m1.4 0h1.1m-0.1 0h1.1m1.4 0h1.1m9.4 0h1.1m10.4 0h1.1m-112.6 0.5h1.1m2.4 0h1.1m21.4 0h1.1m-0.6 0h1.1m4.9 0h1.1m-0.6 0h1.1m-0.1 0h1.1m4.9 0h1.1m-0.6 0h1.1m-0.6 0h1.1m-0.1 0h1.1m0.4 0h1.1m-0.6 0h1.1m0.4 0h1.1m-0.6 0h1.1m-0.6 0h1.1m-0.6 0h1.1m1.4 0h1.1m0.4 0h1.1m-0.6 0h1.1m0.4 0h1.1m0.4 0h1.1m-0.1 0h1.1m0.9 0h1.1m-0.1 0h1.1m0.4 0h1.1m1.4 0h1.1m1.9 0h1.1m0.4 0h1.1m0.9 0h1.1m-0.6 0h1.1m-0.6 0h1.1m-0.1 0h1.1m-0.6 0h1.1m-0.6 0h1.1m1.4 0h1.1m-0.6 0h1.1m2.4 0h1.1m-0.6 0h1.1m0.4 0h1.1m-0.1 0h1.1m-0.6 0h1.1m1.9 0h1.1m2.9 0h1.1m1.4 0h1.1m-0.6 0h1.1m3.9 0h1.1m1.9 0h1.1m-0.6 0h1.1m-0.1 0h1.1m3.4 0h1.1m-85.1 0.5h1.1m3.9 0h1.1m0.4 0h1.1m2.9 0h1.1m5.4 0h1.1m0.4 0h1.1m-0.1 0h1.1m-0.6 0h1.1m-0.1 0h1.1m-0.6 0h1.1m0.9 0h1.1m-0.6 0h1.1m1.4 0h1.1m-0.6 0h1.1m0.4 0h1.1m-0.6 0h1.1m0.9 0h1.1m10.4 0h1.1m1.4 0h1.1m2.9 0h1.1m-0.1 0h1.1m1.4 0h1.1m-0.6 0h1.1m-0.6 0h1.1m0.9 0h1.1m-0.1 0h1.1m-0.6 0h1.1m0.4 0h1.1m-0.6 0h1.1m-0.6 0h1.1m0.9 0h1.1m2.9 0h1.1m1.4 0h1.1m1.4 0h1.1m6.4 0h1.1m0.4 0h1.1m-0.6 0h1.1m-89.1 0.5h1.1m8.4 0h1.1m-0.1 0h1.1m14.9 0h1.1m4.9 0h1.1m-0.6 0h1.1m-0.6 0h1.1m0.4 0h1.1m0.4 0h1.1m-0.6 0h1.1m-0.6 0h1.1m4.9 0h1.1m5.9 0h1.1m0.4 0h1.1m5.4 0h1.1m-0.6 0h1.1m0.4 0h1.1m0.9 0h1.1m3.4 0h1.1m-0.6 0h1.1m0.4 0h1.1m-0.1 0h1.1m0.9 0h1.1m0.4 0h1.1m1.4 0h1.1m8.4 0h1.1m5.4 0h1.1m-124.1 0.5h1.1m1.9 0h1.1m16.4 0h1.1m10.4 0h1.1m2.4 0h1.1m-0.6 0h1.1m2.4 0h1.1m-0.6 0h1.1m8.9 0h1.1m0.9 0h1.1m-0.6 0h1.1m-0.1 0h1.1m-0.1 0h1.1m0.4 0h1.1m2.4 0h1.1m-0.6 0h1.1m-0.6 0h1.1m2.4 0h1.1m0.4 0h1.1m-0.1 0h1.1m1.4 0h1.1m-0.6 0h1.1m-0.1 0h1.1m-0.6 0h1.1m-0.6 0h1.1m-0.1 0h1.1m-0.6 0h1.1m0.4 0h1.1m3.9 0h1.1m0.9 0h1.1m4.4 0h1.1m-0.6 0h1.1m-0.1 0h1.1m0.9 0h1.1m0.9 0h1.1m2.4 0h1.1m-0.1 0h1.1m-0.6 0h1.1m-0.6 0h1.1m2.9 0h1.1m3.9 0h1.1m-106.1 0.5h1.1m13.4 0h1.1m8.9 0h1.1m14.4 0h1.1m-0.1 0h1.1m4.9 0h1.1m0.9 0h1.1m1.4 0h1.1m3.4 0h1.1m2.9 0h1.1m-0.1 0h1.1m-0.6 0h1.1m-0.6 0h1.1m0.9 0h1.1m-0.6 0h1.1m-0.6 0h1.1m-0.6 0h1.1m-0.1 0h1.1m0.9 0h1.1m0.9 0h1.1m3.9 0h1.1m-0.6 0h1.1m-0.1 0h1.1m4.9 0h1.1m1.4 0h1.1m-0.6 0h1.1m-0.1 0h1.1m3.4 0h1.1m0.9 0h1.1m-0.1 0h1.1m0.9 0h1.1m0.4 0h1.1m-0.6 0h1.1m-0.1 0h1.1m3.9 0h1.1m3.4 0h1.1m-94.6 0.5h1.1m9.9 0h1.1m1.4 0h1.1m18.4 0h1.1m-0.6 0h1.1m-0.6 0h1.1m2.4 0h1.1m0.4 0h1.1m2.4 0h1.1m3.9 0h1.1m1.4 0h1.1m1.4 0h1.1m-0.1 0h1.1m-0.1 0h1.1m-0.1 0h1.1m1.4 0h1.1m0.9 0h1.1m5.4 0h1.1m1.4 0h1.1m0.4 0h1.1m1.4 0h1.1m2.4 0h1.1m-0.1 0h1.1m1.4 0h1.1m1.9 0h1.1m1.4 0h1.1m-0.6 0h1.1m17.4 0h1.1m6.4 0h1.1m-129.6 0.5h1.1m21.9 0h1.1m29.9 0h1.1m1.9 0h1.1m6.9 0h1.1m-0.1 0h1.1m0.4 0h1.1m0.4 0h1.1m2.4 0h1.1m4.4 0h1.1m-0.6 0h1.1m0.9 0h1.1m1.9 0h1.1m-0.6 0h1.1m-0.6 0h1.1m1.9 0h1.1m6.4 0h1.1m-0.6 0h1.1m1.4 0h1.1m3.4 0h1.1m0.4 0h1.1m1.4 0h1.1m-0.1 0h1.1m27.4 0h1.1m-139.1 0.5h1.1m7.9 0h1.1m7.4 0h1.1m24.9 0h1.1m2.4 0h1.1m-0.1 0h1.1m4.9 0h1.1m1.9 0h1.1m-0.6 0h1.1m-0.6 0h1.1m3.9 0h1.1m4.4 0h1.1m-0.1 0h1.1m-0.1 0h1.1m4.4 0h1.1m2.9 0h1.1m4.9 0h1.1m0.9 0h1.1m2.4 0h1.1m-0.1 0h1.1m-0.6 0h1.1m7.4 0h1.1m4.4 0h1.1m-0.6 0h1.1m22.9 0h1.1m-131.1 0.5h1.1m28.4 0h1.1m6.4 0h1.1m5.9 0h1.1m9.4 0h1.1m-0.6 0h1.1m1.9 0h1.1m9.4 0h1.1m0.4 0h1.1m1.4 0h1.1m-0.1 0h1.1m10.4 0h1.1m-0.6 0h1.1m3.9 0h1.1m0.9 0h1.1m1.9 0h1.1m4.9 0h1.1m-89.1 0.5h1.1m20.9 0h1.1m17.4 0h1.1m-0.1 0h1.1m1.9 0h1.1m5.9 0h1.1m0.4 0h1.1m-0.6 0h1.1m-0.1 0h1.1m2.4 0h1.1m8.9 0h1.1m3.9 0h1.1m-0.6 0h1.1m1.4 0h1.1m0.4 0h1.1m5.4 0h1.1m-0.6 0h1.1m0.9 0h1.1m26.9 0h1.1m-132.1 0.5h1.1m29.9 0h1.1m16.4 0h1.1m6.4 0h1.1m-0.1 0h1.1m4.4 0h1.1m8.4 0h1.1m6.9 0h1.1m2.4 0h1.1m3.9 0h1.1m3.9 0h1.1m1.4 0h1.1m0.4 0h1.1m3.9 0h1.1m16.9 0h1.1m-96.1 0.5h1.1m12.4 0h1.1m6.4 0h1.1m6.4 0h1.1m3.9 0h1.1m3.4 0h1.1m7.4 0h1.1m0.4 0h1.1m2.4 0h1.1m0.9 0h1.1m1.4 0h1.1m-0.1 0h1.1m3.4 0h1.1m0.9 0h1.1m3.4 0h1.1m0.4 0h1.1m3.4 0h1.1m2.9 0h1.1m1.9 0h1.1m-85.6 0.5h1.1m3.4 0h1.1m3.9 0h1.1m3.4 0h1.1m23.9 0h1.1m0.4 0h1.1m-0.6 0h1.1m-0.1 0h1.1m0.9 0h1.1m-0.1 0h1.1m-0.6 0h1.1m0.4 0h1.1m0.4 0h1.1m0.4 0h1.1m2.4 0h1.1m9.9 0h1.1m0.4 0h1.1m2.9 0h1.1m1.9 0h1.1m2.4 0h1.1m3.9 0h1.1m-85.6 0.5h1.1m31.4 0h1.1m3.9 0h1.1m0.9 0h1.1m15.9 0h1.1m8.9 0h1.1m2.4 0h1.1m-0.6 0h1.1m-0.6 0h1.1m1.9 0h1.1m0.9 0h1.1m0.9 0h1.1m3.4 0h1.1m0.9 0h1.1m5.4 0h1.1m30.4 0h1.1m-133.1 0.5h1.1m5.4 0h1.1m0.4 0h1.1m27.4 0h1.1m16.9 0h1.1m4.9 0h1.1m-0.1 0h1.1m-0.6 0h1.1m3.9 0h1.1m1.9 0h1.1m0.4 0h1.1m5.9 0h1.1m2.9 0h1.1m1.4 0h1.1m8.4 0h1.1m4.4 0h1.1m24.9 0h1.1m-134.6 0.5h1.1m8.9 0h1.1m3.9 0h1.1m0.4 0h1.1m33.9 0h1.1m-0.1 0h1.1m7.9 0h1.1m1.9 0h1.1m-0.1 0h1.1m0.4 0h1.1m0.9 0h1.1m12.4 0h1.1m-0.1 0h1.1m4.4 0h1.1m0.4 0h1.1m-0.1 0h1.1m-0.1 0h1.1m0.4 0h1.1m1.9 0h1.1m-93.1 0.5h1.1m21.9 0h1.1m6.9 0h1.1m2.4 0h1.1m26.4 0h1.1m5.9 0h1.1m1.4 0h1.1m4.4 0h1.1m4.4 0h1.1m12.4 0h1.1m0.9 0h1.1m-0.6 0h1.1m-96.1 0.5h1.1m15.9 0h1.1m28.9 0h1.1m0.4 0h1.1m1.9 0h1.1m1.4 0h1.1m-0.1 0h1.1m-0.1 0h1.1m13.4 0h1.1m3.9 0h1.1m2.9 0h1.1m0.4 0h1.1m2.4 0h1.1m1.4 0h1.1m0.4 0h1.1m39.4 0h1.1m-124.6 0.5h1.1m19.4 0h1.1m5.4 0h1.1m0.4 0h1.1m1.9 0h1.1m-0.1 0h1.1m15.9 0h1.1m0.4 0h1.1m1.9 0h1.1m16.4 0h1.1m1.4 0h1.1m0.9 0h1.1m-0.6 0h1.1m2.4 0h1.1m8.4 0h1.1m-76.1 0.5h1.1m2.9 0h1.1m0.9 0h1.1m12.9 0h1.1m7.4 0h1.1m0.4 0h1.1m-0.6 0h1.1m-0.6 0h1.1m4.4 0h1.1m1.4 0h1.1m1.4 0h1.1m1.9 0h1.1m4.4 0h1.1m3.4 0h1.1m-0.1 0h1.1m1.9 0h1.1m4.4 0h1.1m27.4 0h1.1m-102.1 0.5h1.1m2.4 0h1.1m17.4 0h1.1m2.9 0h1.1m-0.1 0h1.1m3.9 0h1.1m9.4 0h1.1m0.9 0h1.1m5.9 0h1.1m3.9 0h1.1m12.9 0h1.1m-0.1 0h1.1m-0.1 0h1.1m7.4 0h1.1m5.9 0h1.1m-112.6 0.5h1.1m19.4 0h1.1m2.4 0h1.1m7.4 0h1.1m2.4 0h1.1m9.4 0h1.1m1.4 0h1.1m4.9 0h1.1m16.9 0h1.1m6.4 0h1.1m-0.1 0h1.1m2.4 0h1.1m2.4 0h1.1m4.9 0h1.1m1.4 0h1.1m-79.1 0.5h1.1m3.4 0h1.1m-0.6 0h1.1m4.9 0h1.1m9.9 0h1.1m10.4 0h1.1m-0.1 0h1.1m11.4 0h1.1m-0.1 0h1.1m1.9 0h1.1m3.4 0h1.1m0.4 0h1.1m-0.6 0h1.1m1.9 0h1.1m1.9 0h1.1m2.9 0h1.1m5.4 0h1.1m-0.6 0h1.1m3.4 0h1.1m0.4 0h1.1m15.9 0h1.1m3.4 0h1.1m-114.6 0.5h1.1m22.9 0h1.1m4.4 0h1.1m0.4 0h1.1m3.9 0h1.1m13.9 0h1.1m0.4 0h1.1m-0.6 0h1.1m7.4 0h1.1m1.9 0h1.1m0.9 0h1.1m1.9 0h1.1m9.9 0h1.1m2.4 0h1.1m0.4 0h1.1m1.4 0h1.1m11.9 0h1.1m-109.1 0.5h1.1m17.4 0h1.1m4.9 0h1.1m4.4 0h1.1m2.4 0h1.1m6.9 0h1.1m1.9 0h1.1m-0.6 0h1.1m31.4 0h1.1m1.9 0h1.1m-0.1 0h1.1m6.4 0h1.1m-0.1 0h1.1m5.4 0h1.1m-98.1 0.5h1.1m5.9 0h1.1m16.4 0h1.1m10.4 0h1.1m2.9 0h1.1m0.9 0h1.1m0.9 0h1.1m0.4 0h1.1m5.9 0h1.1m1.4 0h1.1m12.4 0h1.1m2.9 0h1.1m12.4 0h1.1m-0.6 0h1.1m5.9 0h1.1m-0.6 0h1.1m-0.6 0h1.1m-0.6 0h1.1m-0.6 0h1.1m1.4 0h1.1m-0.6 0h1.1m7.9 0h1.1m8.4 0h1.1m-118.1 0.5h1.1m42.9 0h1.1m1.9 0h1.1m8.9 0h1.1m-0.6 0h1.1m9.9 0h1.1m3.4 0h1.1m12.4 0h1.1m-0.6 0h1.1m-0.6 0h1.1m1.4 0h1.1m0.9 0h1.1m0.4 0h1.1m2.4 0h1.1m2.4 0h1.1m0.4 0h1.1m-0.1 0h1.1m3.9 0h1.1m-65.1 0.5h1.1m7.9 0h1.1m5.9 0h1.1m-0.6 0h1.1m19.9 0h1.1m-0.1 0h1.1m-0.6 0h1.1m1.4 0h1.1m0.9 0h1.1m-0.6 0h1.1m1.9 0h1.1m2.9 0h1.1m3.4 0h1.1m-0.6 0h1.1m6.9 0h1.1m-101.1 0.5h1.1m4.4 0h1.1m13.4 0h1.1m-0.6 0h1.1m-0.6 0h1.1m7.4 0h1.1m-0.1 0h1.1m0.4 0h1.1m0.9 0h1.1m-0.6 0h1.1m-0.6 0h1.1m-0.6 0h1.1m1.9 0h1.1m-0.1 0h1.1m3.4 0h1.1m1.4 0h1.1m8.4 0h1.1m-0.6 0h1.1m13.9 0h1.1m4.4 0h1.1m4.9 0h1.1m-0.1 0h1.1m0.4 0h1.1m0.4 0h1.1m-0.1 0h1.1m12.9 0h1.1m16.4 0h1.1m-125.6 0.5h1.1m23.9 0h1.1m5.9 0h1.1m5.9 0h1.1m4.4 0h1.1m-0.1 0h1.1m24.9 0h1.1m1.4 0h1.1m0.9 0h1.1m-0.1 0h1.1m1.9 0h1.1m1.9 0h1.1m1.9 0h1.1m0.4 0h1.1m0.4 0h1.1m1.4 0h1.1m-0.6 0h1.1m0.9 0h1.1m-0.1 0h1.1m3.4 0h1.1m0.4 0h1.1m27.9 0h1.1m-131.6 0.5h1.1m15.9 0h1.1m1.9 0h1.1m0.4 0h1.1m1.4 0h1.1m13.9 0h1.1m1.9 0h1.1m4.9 0h1.1m-0.1 0h1.1m33.4 0h1.1m3.4 0h1.1m3.9 0h1.1m0.9 0h1.1m3.9 0h1.1m-0.1 0h1.1m32.4 0h1.1m-137.1 0.5h1.1m0.9 0h1.1m0.4 0h1.1m1.9 0h1.1m6.4 0h1.1m0.4 0h1.1m2.9 0h1.1m10.9 0h1.1m19.4 0h1.1m13.9 0h1.1m-0.1 0h1.1m16.9 0h1.1m5.9 0h1.1m-0.6 0h1.1m-0.1 0h1.1m5.4 0h1.1m0.4 0h1.1m1.9 0h1.1m37.9 0h1.1m-145.1 0.5h1.1m7.4 0h1.1m2.9 0h1.1m3.9 0h1.1m8.4 0h1.1m-0.6 0h1.1m2.9 0h1.1m12.4 0h1.1m0.4 0h1.1m1.4 0h1.1m6.9 0h1.1m20.9 0h1.1m3.9 0h1.1m-0.6 0h1.1m-0.6 0h1.1m-0.6 0h1.1m-0.6 0h1.1m-0.1 0h1.1m5.4 0h1.1m1.4 0h1.1m0.4 0h1.1m1.9 0h1.1m-102.6 0.5h1.1m7.9 0h1.1m3.9 0h1.1m24.9 0h1.1m-0.6 0h1.1m1.9 0h1.1m0.9 0h1.1m7.4 0h1.1m5.4 0h1.1m-0.1 0h1.1m4.4 0h1.1m-0.1 0h1.1m2.9 0h1.1m1.4 0h1.1m5.9 0h1.1m7.4 0h1.1m1.4 0h1.1m-0.1 0h1.1m-0.1 0h1.1m-0.6 0h1.1m1.9 0h1.1m2.9 0h1.1m1.9 0h1.1m5.9 0h1.1m-112.1 0.5h1.1m-0.1 0h1.1m-0.6 0h1.1m5.9 0h1.1m2.4 0h1.1m-0.6 0h1.1m-0.6 0h1.1m-0.6 0h1.1m0.4 0h1.1m3.4 0h1.1m9.4 0h1.1m8.4 0h1.1m11.9 0h1.1m1.9 0h1.1m18.4 0h1.1m9.4 0h1.1m1.4 0h1.1m-0.1 0h1.1m0.9 0h1.1m0.9 0h1.1m6.4 0h1.1m1.4 0h1.1m-98.1 0.5h1.1m1.9 0h1.1m-0.1 0h1.1m5.4 0h1.1m0.4 0h1.1m2.4 0h1.1m8.9 0h1.1m-0.1 0h1.1m4.9 0h1.1m-0.6 0h1.1m0.9 0h1.1m2.9 0h1.1m6.9 0h1.1m-0.6 0h1.1m24.4 0h1.1m-0.1 0h1.1m6.9 0h1.1m-0.1 0h1.1m-0.1 0h1.1m2.9 0h1.1m-0.6 0h1.1m0.4 0h1.1m-96.1 0.5h1.1m-0.1 0h1.1m0.9 0h1.1m10.4 0h1.1m2.4 0h1.1m11.9 0h1.1m-0.6 0h1.1m-0.6 0h1.1m0.4 0h1.1m0.4 0h1.1m3.9 0h1.1m0.4 0h1.1m-0.6 0h1.1m2.9 0h1.1m1.9 0h1.1m2.9 0h1.1m0.4 0h1.1m33.9 0h1.1m0.9 0h1.1m12.4 0h1.1m0.4 0h1.1m-108.1 0.5h1.1m1.9 0h1.1m3.4 0h1.1m0.4 0h1.1m4.4 0h1.1m0.9 0h1.1m-0.1 0h1.1m0.9 0h1.1m-0.1 0h1.1m12.4 0h1.1m4.9 0h1.1m-0.6 0h1.1m0.9 0h1.1m-0.1 0h1.1m-0.6 0h1.1m-0.6 0h1.1m-0.6 0h1.1m0.4 0h1.1m6.4 0h1.1m1.9 0h1.1m4.9 0h1.1m-0.6 0h1.1m-0.1 0h1.1m8.9 0h1.1m7.4 0h1.1m-0.6 0h1.1m0.4 0h1.1m-0.1 0h1.1m5.4 0h1.1m2.9 0h1.1m6.9 0h1.1m5.4 0h1.1m11.9 0h1.1m-121.6 0.5h1.1m1.4 0h1.1m1.9 0h1.1m2.9 0h1.1m0.9 0h1.1m0.4 0h1.1m3.9 0h1.1m-0.6 0h1.1m5.4 0h1.1m9.9 0h1.1m1.9 0h1.1m0.4 0h1.1m-0.1 0h1.1m12.9 0h1.1m19.4 0h1.1m3.4 0h1.1m-0.6 0h1.1m2.4 0h1.1m0.9 0h1.1m-0.1 0h1.1m-0.1 0h1.1m0.9 0h1.1m-0.6 0h1.1m-0.6 0h1.1m2.4 0h1.1m-0.1 0h1.1m1.4 0h1.1m-101.1 0.5h1.1m7.9 0h1.1m0.4 0h1.1m1.4 0h1.1m0.9 0h1.1m0.9 0h1.1m13.4 0h1.1m5.9 0h1.1m2.4 0h1.1m5.4 0h1.1m35.4 0h1.1m-0.1 0h1.1m-0.6 0h1.1m-0.1 0h1.1m-0.1 0h1.1m8.9 0h1.1m-94.6 0.5h1.1m-0.6 0h1.1m0.4 0h1.1m2.9 0h1.1m5.9 0h1.1m4.4 0h1.1m1.9 0h1.1m0.9 0h1.1m-0.1 0h1.1m4.9 0h1.1m9.4 0h1.1m-0.1 0h1.1m10.9 0h1.1m2.4 0h1.1m5.4 0h1.1m-0.1 0h1.1m1.9 0h1.1m-0.6 0h1.1m1.9 0h1.1m18.9 0h1.1m-0.1 0h1.1m-85.1 0.5h1.1m5.4 0h1.1m4.4 0h1.1m1.4 0h1.1m6.9 0h1.1m-0.1 0h1.1m4.9 0h1.1m0.9 0h1.1m3.9 0h1.1m10.9 0h1.1m16.4 0h1.1m0.9 0h1.1m0.4 0h1.1m9.9 0h1.1m-0.1 0h1.1m2.4 0h1.1m34.9 0h1.1m1.4 0h1.1m-137.1 0.5h1.1m-0.6 0h1.1m7.9 0h1.1m0.4 0h1.1m0.9 0h1.1m2.4 0h1.1m1.9 0h1.1m7.4 0h1.1m4.4 0h1.1m0.9 0h1.1m-0.1 0h1.1m1.4 0h1.1m-0.6 0h1.1m0.9 0h1.1m0.9 0h1.1m13.9 0h1.1m19.9 0h1.1m2.9 0h1.1m-0.1 0h1.1m-0.6 0h1.1m4.9 0h1.1m3.9 0h1.1m0.4 0h1.1m-0.6 0h1.1m2.4 0h1.1m4.4 0h1.1m26.4 0h1.1m-132.1 0.5h1.1m4.4 0h1.1m1.9 0h1.1m1.4 0h1.1m-0.6 0h1.1m8.4 0h1.1m0.9 0h1.1m4.9 0h1.1m4.4 0h1.1m1.4 0h1.1m4.9 0h1.1m7.9 0h1.1m10.4 0h1.1m5.9 0h1.1m9.9 0h1.1m-0.1 0h1.1m0.9 0h1.1m-0.6 0h1.1m0.9 0h1.1m-0.6 0h1.1m-0.6 0h1.1m1.4 0h1.1m-89.1 0.5h1.1m10.4 0h1.1m0.4 0h1.1m8.9 0h1.1m6.4 0h1.1m-0.6 0h1.1m0.9 0h1.1m-0.1 0h1.1m-0.1 0h1.1m-0.1 0h1.1m-0.6 0h1.1m14.4 0h1.1m2.9 0h1.1m13.4 0h1.1m-0.1 0h1.1m-0.1 0h1.1m5.4 0h1.1m1.4 0h1.1m1.9 0h1.1m-0.1 0h1.1m1.9 0h1.1m6.9 0h1.1m2.4 0h1.1m8.9 0h1.1m-111.6 0.5h1.1m0.4 0h1.1m0.9 0h1.1m-0.6 0h1.1m4.4 0h1.1m1.4 0h1.1m0.9 0h1.1m2.4 0h1.1m1.4 0h1.1m0.4 0h1.1m-0.1 0h1.1m0.9 0h1.1m2.4 0h1.1m-0.6 0h1.1m0.4 0h1.1m1.4 0h1.1m0.4 0h1.1m2.4 0h1.1m2.4 0h1.1m19.4 0h1.1m6.4 0h1.1m6.9 0h1.1m-0.6 0h1.1m4.4 0h1.1m0.9 0h1.1m-0.6 0h1.1m1.9 0h1.1m-0.6 0h1.1m5.9 0h1.1m1.9 0h1.1m13.9 0h1.1m15.4 0h1.1m-132.6 0.5h1.1m0.9 0h1.1m3.9 0h1.1m0.4 0h1.1m-0.6 0h1.1m-0.6 0h1.1m-0.1 0h1.1m4.9 0h1.1m10.9 0h1.1m0.4 0h1.1m-0.6 0h1.1m-0.1 0h1.1m4.4 0h1.1m1.9 0h1.1m-0.6 0h1.1m1.4 0h1.1m3.4 0h1.1m31.9 0h1.1m3.4 0h1.1m-0.6 0h1.1m6.9 0h1.1m3.9 0h1.1m19.4 0h1.1m2.9 0h1.1m14.4 0h1.1m-128.6 0.5h1.1m0.4 0h1.1m0.9 0h1.1m-0.1 0h1.1m4.4 0h1.1m0.4 0h1.1m1.4 0h1.1m0.4 0h1.1m-0.1 0h1.1m1.4 0h1.1m0.4 0h1.1m-0.6 0h1.1m-0.1 0h1.1m-0.6 0h1.1m0.4 0h1.1m1.9 0h1.1m1.4 0h1.1m-0.1 0h1.1m1.9 0h1.1m0.9 0h1.1m-0.1 0h1.1m-0.1 0h1.1m0.9 0h1.1m-0.1 0h1.1m5.4 0h1.1m0.4 0h1.1m3.4 0h1.1m5.9 0h1.1m-0.6 0h1.1m3.9 0h1.1m3.9 0h1.1m-0.6 0h1.1m-0.1 0h1.1m6.4 0h1.1m31.9 0h1.1m-116.1 0.5h1.1m-0.1 0h1.1m-0.1 0h1.1m-0.6 0h1.1m1.4 0h1.1m5.9 0h1.1m-0.6 0h1.1m-0.1 0h1.1m-0.1 0h1.1m0.9 0h1.1m1.9 0h1.1m0.9 0h1.1m7.4 0h1.1m1.9 0h1.1m11.4 0h1.1m2.4 0h1.1m0.4 0h1.1m2.9 0h1.1m6.9 0h1.1m3.4 0h1.1m4.9 0h1.1m0.9 0h1.1m-0.6 0h1.1m0.4 0h1.1m-0.1 0h1.1m1.4 0h1.1m4.4 0h1.1m19.4 0h1.1m-0.1 0h1.1m2.9 0h1.1m19.4 0h1.1m-145.1 0.5h1.1m9.9 0h1.1m3.4 0h1.1m5.9 0h1.1m3.4 0h1.1m0.9 0h1.1m-0.1 0h1.1m0.9 0h1.1m4.9 0h1.1m-0.1 0h1.1m15.4 0h1.1m2.9 0h1.1m1.4 0h1.1m3.4 0h1.1m12.4 0h1.1m4.4 0h1.1m-0.6 0h1.1m4.9 0h1.1m0.9 0h1.1m1.4 0h1.1m0.4 0h1.1m-0.6 0h1.1m2.4 0h1.1m-103.1 0.5h1.1m-0.1 0h1.1m-0.1 0h1.1m-0.1 0h1.1m0.9 0h1.1m-0.1 0h1.1m4.9 0h1.1m12.9 0h1.1m-0.1 0h1.1m-0.1 0h1.1m1.4 0h1.1m-0.6 0h1.1m1.4 0h1.1m-0.6 0h1.1m2.4 0h1.1m2.4 0h1.1m18.4 0h1.1m17.4 0h1.1m5.9 0h1.1m-0.1 0h1.1m0.4 0h1.1m-0.6 0h1.1m0.9 0h1.1m-0.6 0h1.1m-0.1 0h1.1m0.9 0h1.1m1.4 0h1.1m-0.6 0h1.1m0.9 0h1.1m2.9 0h1.1m-0.6 0h1.1m2.4 0h1.1m4.9 0h1.1m19.4 0h1.1m-133.6 0.5h1.1m-0.6 0h1.1m5.9 0h1.1m2.9 0h1.1m-0.6 0h1.1m2.9 0h1.1m5.9 0h1.1m-0.1 0h1.1m1.4 0h1.1m0.4 0h1.1m6.9 0h1.1m1.4 0h1.1m1.4 0h1.1m0.4 0h1.1m9.9 0h1.1m0.4 0h1.1m3.9 0h1.1m8.4 0h1.1m11.9 0h1.1m-0.1 0h1.1m0.4 0h1.1m-0.6 0h1.1m-0.6 0h1.1m0.9 0h1.1m-0.6 0h1.1m-0.1 0h1.1m-0.1 0h1.1m5.4 0h1.1m4.4 0h1.1m14.9 0h1.1m-118.6 0.5h1.1m-0.6 0h1.1m6.4 0h1.1m6.4 0h1.1m-0.6 0h1.1m9.4 0h1.1m-0.1 0h1.1m13.4 0h1.1m23.9 0h1.1m5.4 0h1.1m0.4 0h1.1m6.9 0h1.1m-0.1 0h1.1m0.4 0h1.1m-0.6 0h1.1m0.4 0h1.1m0.9 0h1.1m3.9 0h1.1m9.9 0h1.1m1.9 0h1.1m20.4 0h1.1m-131.6 0.5h1.1m3.4 0h1.1m3.9 0h1.1m-0.6 0h1.1m7.9 0h1.1m2.9 0h1.1m3.4 0h1.1m2.9 0h1.1m4.9 0h1.1m3.9 0h1.1m-0.1 0h1.1m14.4 0h1.1m1.4 0h1.1m1.9 0h1.1m4.4 0h1.1m3.4 0h1.1m2.9 0h1.1m0.4 0h1.1m0.4 0h1.1m4.4 0h1.1m0.4 0h1.1m-0.6 0h1.1m4.9 0h1.1m-0.6 0h1.1m-0.6 0h1.1m1.4 0h1.1m-97.6 0.5h1.1m20.4 0h1.1m0.9 0h1.1m3.4 0h1.1m13.4 0h1.1m5.4 0h1.1m4.9 0h1.1m20.9 0h1.1m0.9 0h1.1m6.4 0h1.1m-0.6 0h1.1m-0.1 0h1.1m0.4 0h1.1m-0.1 0h1.1m0.9 0h1.1m14.4 0h1.1m-111.1 0.5h1.1m12.4 0h1.1m0.4 0h1.1m-0.1 0h1.1m2.4 0h1.1m5.9 0h1.1m0.9 0h1.1m0.4 0h1.1m-0.6 0h1.1m-0.1 0h1.1m0.9 0h1.1m3.9 0h1.1m0.4 0h1.1m0.9 0h1.1m-0.1 0h1.1m0.4 0h1.1m-0.1 0h1.1m1.9 0h1.1m7.4 0h1.1m14.4 0h1.1m1.9 0h1.1m2.9 0h1.1m-0.1 0h1.1m0.4 0h1.1m-0.1 0h1.1m0.4 0h1.1m-0.1 0h1.1m-0.1 0h1.1m-0.6 0h1.1m-0.6 0h1.1m-0.6 0h1.1m0.4 0h1.1m0.4 0h1.1m-0.6 0h1.1m-0.1 0h1.1m-0.6 0h1.1m14.4 0h1.1m-109.1 0.5h1.1m-0.1 0h1.1m-0.6 0h1.1m2.4 0h1.1m14.9 0h1.1m2.4 0h1.1m0.9 0h1.1m1.4 0h1.1m2.9 0h1.1m18.9 0h1.1m5.4 0h1.1m8.9 0h1.1m8.4 0h1.1m0.4 0h1.1m-0.6 0h1.1m0.4 0h1.1m-0.6 0h1.1m-0.1 0h1.1m0.9 0h1.1m-0.6 0h1.1m5.4 0h1.1m0.4 0h1.1m-0.1 0h1.1m2.9 0h1.1m-100.1 0.5h1.1m20.4 0h1.1m0.9 0h1.1m1.4 0h1.1m6.9 0h1.1m0.4 0h1.1m2.9 0h1.1m11.4 0h1.1m3.4 0h1.1m13.4 0h1.1m4.9 0h1.1m0.9 0h1.1m-0.6 0h1.1m-0.1 0h1.1m0.4 0h1.1m-0.1 0h1.1m0.4 0h1.1m0.4 0h1.1m0.9 0h1.1m-0.1 0h1.1m-0.6 0h1.1m-0.6 0h1.1m0.4 0h1.1m1.9 0h1.1m-0.6 0h1.1m-0.1 0h1.1m1.4 0h1.1m2.9 0h1.1m-0.6 0h1.1m1.9 0h1.1m-96.1 0.5h1.1m3.4 0h1.1m3.9 0h1.1m0.4 0h1.1m0.9 0h1.1m-0.6 0h1.1m1.4 0h1.1m0.4 0h1.1m0.4 0h1.1m7.9 0h1.1m0.9 0h1.1m14.4 0h1.1m0.9 0h1.1m3.9 0h1.1m2.4 0h1.1m2.4 0h1.1m-0.6 0h1.1m1.9 0h1.1m-0.6 0h1.1m-0.6 0h1.1m-0.1 0h1.1m0.4 0h1.1m-0.1 0h1.1m-0.1 0h1.1m-0.1 0h1.1m0.4 0h1.1m-0.1 0h1.1m-0.6 0h1.1m1.4 0h1.1m-0.6 0h1.1m1.9 0h1.1m-0.6 0h1.1m-0.6 0h1.1m-0.6 0h1.1m-0.6 0h1.1m-0.6 0h1.1m8.9 0h1.1m24.9 0h1.1m-123.1 0.5h1.1m14.9 0h1.1m9.4 0h1.1m-0.1 0h1.1m1.4 0h1.1m1.4 0h1.1m1.9 0h1.1m1.4 0h1.1m0.9 0h1.1m3.9 0h1.1m12.4 0h1.1m0.9 0h1.1m4.4 0h1.1m0.4 0h1.1m-0.1 0h1.1m3.9 0h1.1m-0.1 0h1.1m-0.6 0h1.1m-0.1 0h1.1m-0.6 0h1.1m4.9 0h1.1m2.4 0h1.1m-0.6 0h1.1m-0.6 0h1.1m-0.1 0h1.1m2.4 0h1.1m1.9 0h1.1m0.4 0h1.1m41.4 0h1.1m-145.1 0.5h1.1m-0.6 0h1.1m4.9 0h1.1m1.4 0h1.1m6.9 0h1.1m8.9 0h1.1m-0.1 0h1.1m1.4 0h1.1m1.9 0h1.1m-0.6 0h1.1m4.4 0h1.1m6.9 0h1.1m8.9 0h1.1m1.4 0h1.1m4.4 0h1.1m11.9 0h1.1m0.4 0h1.1m-0.6 0h1.1m-0.1 0h1.1m-0.1 0h1.1m-0.1 0h1.1m-0.6 0h1.1m1.9 0h1.1m-0.6 0h1.1m-0.6 0h1.1m-0.6 0h1.1m-0.6 0h1.1m1.9 0h1.1m5.4 0h1.1m-0.1 0h1.1m14.9 0h1.1m-97.1 0.5h1.1m0.9 0h1.1m12.4 0h1.1m7.4 0h1.1m5.4 0h1.1m9.9 0h1.1m9.4 0h1.1m-0.6 0h1.1m0.9 0h1.1m-0.1 0h1.1m2.4 0h1.1m-0.1 0h1.1m1.4 0h1.1m2.4 0h1.1m0.9 0h1.1m-0.6 0h1.1m-0.6 0h1.1m-0.1 0h1.1m0.4 0h1.1m2.9 0h1.1m1.4 0h1.1m-0.6 0h1.1m7.9 0h1.1m11.9 0h1.1m-110.6 0.5h1.1m4.9 0h1.1m1.4 0h1.1m1.4 0h1.1m-0.1 0h1.1m-0.6 0h1.1m-0.6 0h1.1m9.9 0h1.1m-0.1 0h1.1m-0.6 0h1.1m6.4 0h1.1m18.4 0h1.1m7.4 0h1.1m0.4 0h1.1m0.9 0h1.1m2.4 0h1.1m-0.1 0h1.1m-0.6 0h1.1m-0.6 0h1.1m-0.6 0h1.1m1.9 0h1.1m0.4 0h1.1m-0.6 0h1.1m0.4 0h1.1m-0.1 0h1.1m-0.6 0h1.1m-0.6 0h1.1m2.9 0h1.1m0.4 0h1.1m-0.1 0h1.1m1.4 0h1.1m-99.1 0.5h1.1m11.9 0h1.1m16.4 0h1.1m2.9 0h1.1m0.4 0h1.1m0.9 0h1.1m3.4 0h1.1m10.4 0h1.1m-0.1 0h1.1m5.4 0h1.1m2.9 0h1.1m1.9 0h1.1m-0.6 0h1.1m2.9 0h1.1m1.4 0h1.1m-0.1 0h1.1m3.4 0h1.1m0.9 0h1.1m-0.1 0h1.1m-0.1 0h1.1m-0.1 0h1.1m-0.6 0h1.1m-0.1 0h1.1m0.4 0h1.1m-0.6 0h1.1m-0.6 0h1.1m-0.6 0h1.1m0.9 0h1.1m1.9 0h1.1m-94.6 0.5h1.1m1.9 0h1.1m8.9 0h1.1m-0.6 0h1.1m-0.1 0h1.1m8.9 0h1.1m2.9 0h1.1m-0.1 0h1.1m22.4 0h1.1m9.4 0h1.1m3.9 0h1.1m-0.6 0h1.1m-0.6 0h1.1m-0.1 0h1.1m1.9 0h1.1m1.9 0h1.1m0.4 0h1.1m-0.1 0h1.1m-0.6 0h1.1m-0.1 0h1.1m-0.6 0h1.1m-0.1 0h1.1m-0.1 0h1.1m-0.1 0h1.1m-0.1 0h1.1m-0.1 0h1.1m-0.6 0h1.1m-0.6 0h1.1m1.9 0h1.1m0.4 0h1.1m2.9 0h1.1m0.9 0h1.1m17.9 0h1.1m28.4 0h1.1m-144.6 0.5h1.1m1.9 0h1.1m5.4 0h1.1m2.4 0h1.1m2.4 0h1.1m19.4 0h1.1m5.4 0h1.1m3.9 0h1.1m0.9 0h1.1m13.4 0h1.1m0.4 0h1.1m0.9 0h1.1m3.9 0h1.1m-0.6 0h1.1m-0.6 0h1.1m0.9 0h1.1m2.4 0h1.1m-0.6 0h1.1m-0.1 0h1.1m-0.1 0h1.1m-0.6 0h1.1m-0.6 0h1.1m-0.6 0h1.1m-0.6 0h1.1m-0.6 0h1.1m0.9 0h1.1m1.4 0h1.1m1.9 0h1.1m-0.1 0h1.1m-0.1 0h1.1m4.4 0h1.1m-104.6 0.5h1.1m1.9 0h1.1m3.9 0h1.1m0.4 0h1.1m-0.1 0h1.1m0.9 0h1.1m0.9 0h1.1m5.4 0h1.1m7.4 0h1.1m-0.6 0h1.1m13.4 0h1.1m3.9 0h1.1m0.9 0h1.1m6.4 0h1.1m-0.6 0h1.1m4.4 0h1.1m4.4 0h1.1m-0.1 0h1.1m4.4 0h1.1m-0.1 0h1.1m0.4 0h1.1m-0.1 0h1.1m0.4 0h1.1m-0.6 0h1.1m-0.6 0h1.1m-0.1 0h1.1m-0.6 0h1.1m-0.6 0h1.1m-0.6 0h1.1m-0.1 0h1.1m-0.1 0h1.1m-0.6 0h1.1m-0.6 0h1.1m-0.6 0h1.1m-0.1 0h1.1m6.4 0h1.1m-0.1 0h1.1m3.9 0h1.1m11.9 0h1.1m-117.1 0.5h1.1m2.9 0h1.1m16.4 0h1.1m6.9 0h1.1m9.9 0h1.1m3.9 0h1.1m-0.1 0h1.1m1.9 0h1.1m2.4 0h1.1m6.9 0h1.1m5.4 0h1.1m-0.1 0h1.1m0.9 0h1.1m3.9 0h1.1m-0.1 0h1.1m-0.6 0h1.1m0.4 0h1.1m-0.6 0h1.1m0.4 0h1.1m-0.6 0h1.1m-0.1 0h1.1m-0.6 0h1.1m-0.6 0h1.1m-0.6 0h1.1m-0.6 0h1.1m-0.1 0h1.1m-0.6 0h1.1m-0.6 0h1.1m-0.6 0h1.1m-0.6 0h1.1m-0.1 0h1.1m-0.6 0h1.1m-0.6 0h1.1m-0.6 0h1.1m0.9 0h1.1m1.9 0h1.1m-0.6 0h1.1m0.4 0h1.1m3.9 0h1.1m-98.1 0.5h1.1m11.9 0h1.1m-0.1 0h1.1m7.9 0h1.1m2.4 0h1.1m0.4 0h1.1m2.9 0h1.1m-0.1 0h1.1m7.4 0h1.1m4.9 0h1.1m8.4 0h1.1m5.4 0h1.1m6.9 0h1.1m1.4 0h1.1m0.4 0h1.1m-0.1 0h1.1m-0.6 0h1.1m1.4 0h1.1m-0.6 0h1.1m-0.6 0h1.1m0.9 0h1.1m-0.6 0h1.1m0.9 0h1.1m0.9 0h1.1m4.4 0h1.1m-0.1 0h1.1m3.4 0h1.1m25.9 0h1.1m6.4 0h1.1m8.4 0h1.1m-145.6 0.5h1.1m1.4 0h1.1m10.4 0h1.1m-0.1 0h1.1m0.4 0h1.1m6.9 0h1.1m3.9 0h1.1m6.4 0h1.1m9.9 0h1.1m11.9 0h1.1m1.9 0h1.1m1.9 0h1.1m-0.1 0h1.1m0.9 0h1.1m2.9 0h1.1m0.9 0h1.1m-0.6 0h1.1m-0.6 0h1.1m-0.6 0h1.1m0.4 0h1.1m-0.6 0h1.1m-0.6 0h1.1m-0.6 0h1.1m-0.1 0h1.1m-0.6 0h1.1m-0.6 0h1.1m-0.6 0h1.1m-0.6 0h1.1m-0.6 0h1.1m-0.6 0h1.1m3.4 0h1.1m0.9 0h1.1m0.4 0h1.1m-0.6 0h1.1m-0.6 0h1.1m-0.6 0h1.1m0.9 0h1.1m-0.6 0h1.1m21.9 0h1.1m-121.6 0.5h1.1m14.4 0h1.1m2.4 0h1.1m3.4 0h1.1m0.9 0h1.1m-0.6 0h1.1m-0.6 0h1.1m2.9 0h1.1m12.4 0h1.1m8.4 0h1.1m4.4 0h1.1m2.9 0h1.1m-0.1 0h1.1m-0.1 0h1.1m1.4 0h1.1m-0.1 0h1.1m2.9 0h1.1m0.9 0h1.1m0.4 0h1.1m-0.6 0h1.1m-0.6 0h1.1m1.4 0h1.1m-0.1 0h1.1m0.4 0h1.1m0.4 0h1.1m-0.1 0h1.1m-0.6 0h1.1m-0.1 0h1.1m-0.1 0h1.1m-0.6 0h1.1m2.9 0h1.1m0.4 0h1.1m35.9 0h1.1m13.9 0h1.1m-145.1 0.5h1.1m8.9 0h1.1m2.4 0h1.1m10.4 0h1.1m1.4 0h1.1m-0.1 0h1.1m0.4 0h1.1m-0.6 0h1.1m-0.6 0h1.1m5.9 0h1.1m5.9 0h1.1m-0.6 0h1.1m2.9 0h1.1m-0.1 0h1.1m14.9 0h1.1m6.4 0h1.1m-0.1 0h1.1m0.4 0h1.1m-0.1 0h1.1m-0.6 0h1.1m-0.6 0h1.1m-0.1 0h1.1m-0.6 0h1.1m0.9 0h1.1m-0.6 0h1.1m-0.6 0h1.1m-0.1 0h1.1m2.4 0h1.1m-0.6 0h1.1m0.4 0h1.1m-86.1 0.5h1.1m1.9 0h1.1m0.4 0h1.1m0.4 0h1.1m-0.1 0h1.1m2.9 0h1.1m2.9 0h1.1m1.4 0h1.1m4.9 0h1.1m15.4 0h1.1m3.9 0h1.1m5.4 0h1.1m4.9 0h1.1m1.9 0h1.1m3.4 0h1.1m1.4 0h1.1m-0.1 0h1.1m0.9 0h1.1m-0.6 0h1.1m0.9 0h1.1m-0.6 0h1.1m-0.6 0h1.1m-0.6 0h1.1m-0.1 0h1.1m-0.6 0h1.1m-0.6 0h1.1m0.4 0h1.1m-0.6 0h1.1m-0.1 0h1.1m-0.6 0h1.1m-0.6 0h1.1m-0.1 0h1.1m0.4 0h1.1m-0.1 0h1.1m0.9 0h1.1m-0.1 0h1.1m-0.1 0h1.1m8.9 0h1.1m-94.1 0.5h1.1m-0.6 0h1.1m-0.1 0h1.1m2.4 0h1.1m2.4 0h1.1m12.9 0h1.1m4.9 0h1.1m0.4 0h1.1m-0.6 0h1.1m1.9 0h1.1m9.9 0h1.1m3.4 0h1.1m1.4 0h1.1m2.9 0h1.1m2.4 0h1.1m1.9 0h1.1m-0.6 0h1.1m2.4 0h1.1m-0.1 0h1.1m-0.6 0h1.1m-0.6 0h1.1m-0.6 0h1.1m-0.6 0h1.1m-0.6 0h1.1m1.4 0h1.1m-0.6 0h1.1m-0.6 0h1.1m-0.6 0h1.1m-0.6 0h1.1m-0.6 0h1.1m3.4 0h1.1m-0.6 0h1.1m-0.1 0h1.1m3.9 0h1.1m0.4 0h1.1m2.4 0h1.1m5.9 0h1.1m12.4 0h1.1m-121.6 0.5h1.1m7.4 0h1.1m2.4 0h1.1m0.9 0h1.1m3.9 0h1.1m1.4 0h1.1m8.4 0h1.1m4.9 0h1.1m0.4 0h1.1m24.4 0h1.1m5.4 0h1.1m1.4 0h1.1m-0.1 0h1.1m-0.6 0h1.1m0.4 0h1.1m-0.6 0h1.1m1.4 0h1.1m-0.6 0h1.1m-0.6 0h1.1m-0.1 0h1.1m0.9 0h1.1m-0.1 0h1.1m-0.6 0h1.1m-0.1 0h1.1m-0.1 0h1.1m-0.6 0h1.1m-0.6 0h1.1m-0.1 0h1.1m-0.6 0h1.1m1.4 0h1.1m-0.1 0h1.1m-0.6 0h1.1m0.9 0h1.1m0.9 0h1.1m4.4 0h1.1m-101.1 0.5h1.1m-0.1 0h1.1m1.9 0h1.1m0.9 0h1.1m-0.1 0h1.1m1.9 0h1.1m7.9 0h1.1m4.4 0h1.1m9.9 0h1.1m-0.1 0h1.1m21.4 0h1.1m1.9 0h1.1m-0.1 0h1.1m4.9 0h1.1m-0.6 0h1.1m1.4 0h1.1m-0.6 0h1.1m-0.6 0h1.1m-0.6 0h1.1m-0.6 0h1.1m-0.1 0h1.1m-0.6 0h1.1m0.9 0h1.1m-0.6 0h1.1m-0.6 0h1.1m-0.6 0h1.1m-0.6 0h1.1m-0.6 0h1.1m0.4 0h1.1m0.4 0h1.1m-0.1 0h1.1m-0.6 0h1.1m-0.1 0h1.1m-0.1 0h1.1m-0.6 0h1.1m1.4 0h1.1m-0.1 0h1.1m-0.1 0h1.1m1.4 0h1.1m8.9 0h1.1m0.9 0h1.1m-103.1 0.5h1.1m5.9 0h1.1m4.9 0h1.1m-0.1 0h1.1m2.4 0h1.1m5.9 0h1.1m4.4 0h1.1m4.9 0h1.1m3.4 0h1.1m7.9 0h1.1m5.4 0h1.1m0.4 0h1.1m1.4 0h1.1m-0.6 0h1.1m5.4 0h1.1m-0.1 0h1.1m-0.1 0h1.1m-0.6 0h1.1m0.9 0h1.1m-0.1 0h1.1m-0.6 0h1.1m1.4 0h1.1m-0.1 0h1.1m-0.6 0h1.1m-0.6 0h1.1m-0.6 0h1.1m-0.1 0h1.1m-0.1 0h1.1m-0.6 0h1.1m1.4 0h1.1m3.4 0h1.1m0.4 0h1.1m1.4 0h1.1m30.4 0h1.1m-126.6 0.5h1.1m4.4 0h1.1m1.4 0h1.1m-0.6 0h1.1m4.9 0h1.1m3.4 0h1.1m3.9 0h1.1m0.4 0h1.1m3.4 0h1.1m1.9 0h1.1m2.4 0h1.1m1.4 0h1.1m17.4 0h1.1m5.4 0h1.1m-0.6 0h1.1m-0.6 0h1.1m3.9 0h1.1m0.4 0h1.1m-0.6 0h1.1m-0.6 0h1.1m-0.1 0h1.1m0.4 0h1.1m-0.1 0h1.1m-0.1 0h1.1m0.4 0h1.1m-0.1 0h1.1m-0.6 0h1.1m-0.1 0h1.1m-0.6 0h1.1m-0.6 0h1.1m-0.6 0h1.1m-0.1 0h1.1m-0.1 0h1.1m-0.6 0h1.1m-0.6 0h1.1m-0.6 0h1.1m1.4 0h1.1m-0.6 0h1.1m6.9 0h1.1m-100.6 0.5h1.1m-0.1 0h1.1m0.4 0h1.1m0.4 0h1.1m0.9 0h1.1m0.9 0h1.1m2.9 0h1.1m5.9 0h1.1m1.4 0h1.1m2.9 0h1.1m-0.6 0h1.1m36.4 0h1.1m3.9 0h1.1m1.4 0h1.1m-0.1 0h1.1m-0.1 0h1.1m-0.1 0h1.1m-0.1 0h1.1m0.9 0h1.1m1.4 0h1.1m-0.6 0h1.1m-0.6 0h1.1m-0.1 0h1.1m-0.6 0h1.1m-0.6 0h1.1m0.9 0h1.1m-0.1 0h1.1m-0.6 0h1.1m0.4 0h1.1m-0.6 0h1.1m-0.1 0h1.1m2.9 0h1.1m14.9 0h1.1m9.4 0h1.1m-113.1 0.5h1.1m2.9 0h1.1m12.9 0h1.1m-0.1 0h1.1m2.9 0h1.1m5.9 0h1.1m1.9 0h1.1m16.9 0h1.1m4.9 0h1.1m0.4 0h1.1m-0.1 0h1.1m-0.1 0h1.1m-0.6 0h1.1m0.4 0h1.1m1.4 0h1.1m4.4 0h1.1m-0.6 0h1.1m1.4 0h1.1m-0.6 0h1.1m-0.6 0h1.1m-0.6 0h1.1m-0.6 0h1.1m-0.6 0h1.1m-0.6 0h1.1m-0.6 0h1.1m-0.6 0h1.1m-0.1 0h1.1m-0.6 0h1.1m0.9 0h1.1m-89.1 0.5h1.1m-0.1 0h1.1m5.9 0h1.1m2.9 0h1.1m1.9 0h1.1m0.4 0h1.1m1.4 0h1.1m0.9 0h1.1m2.4 0h1.1m2.4 0h1.1m0.4 0h1.1m1.4 0h1.1m3.4 0h1.1m-0.1 0h1.1m-0.6 0h1.1m1.9 0h1.1m7.4 0h1.1m4.4 0h1.1m2.4 0h1.1m1.9 0h1.1m0.9 0h1.1m4.9 0h1.1m0.9 0h1.1m-0.6 0h1.1m-0.6 0h1.1m1.9 0h1.1m0.9 0h1.1m-0.1 0h1.1m-0.6 0h1.1m-0.6 0h1.1m-0.1 0h1.1m-0.6 0h1.1m-0.1 0h1.1m0.4 0h1.1m0.4 0h1.1m-0.1 0h1.1m-0.1 0h1.1m-0.6 0h1.1m-0.6 0h1.1m-0.1 0h1.1m1.9 0h1.1m0.9 0h1.1m37.9 0h1.1m-133.6 0.5h1.1m-0.1 0h1.1m3.9 0h1.1m6.9 0h1.1m4.4 0h1.1m-0.6 0h1.1m-0.6 0h1.1m1.4 0h1.1m10.9 0h1.1m5.4 0h1.1m2.4 0h1.1m10.9 0h1.1m-0.6 0h1.1m1.4 0h1.1m4.4 0h1.1m2.4 0h1.1m-0.1 0h1.1m4.4 0h1.1m0.4 0h1.1m-0.6 0h1.1m-0.6 0h1.1m0.4 0h1.1m-0.1 0h1.1m-0.6 0h1.1m-0.6 0h1.1m-0.1 0h1.1m-0.6 0h1.1m0.9 0h1.1m-0.1 0h1.1m-0.6 0h1.1m-0.6 0h1.1m-0.6 0h1.1m-0.1 0h1.1m-0.6 0h1.1m2.9 0h1.1m3.9 0h1.1m17.4 0h1.1m4.9 0h1.1m6.4 0h1.1m6.9 0h1.1m-137.6 0.5h1.1m1.9 0h1.1m0.9 0h1.1m0.9 0h1.1m6.9 0h1.1m4.9 0h1.1m10.4 0h1.1m21.9 0h1.1m1.9 0h1.1m1.4 0h1.1m1.9 0h1.1m0.4 0h1.1m-0.6 0h1.1m-0.1 0h1.1m-0.6 0h1.1m0.4 0h1.1m0.4 0h1.1m-0.1 0h1.1m2.4 0h1.1m-0.6 0h1.1m0.4 0h1.1m-0.6 0h1.1m-0.6 0h1.1m-0.1 0h1.1m1.9 0h1.1m-0.6 0h1.1m-0.1 0h1.1m-0.1 0h1.1m0.4 0h1.1m-0.6 0h1.1m-0.1 0h1.1m0.4 0h1.1m0.4 0h1.1m-0.1 0h1.1m36.9 0h1.1m2.4 0h1.1m-130.6 0.5h1.1m-0.6 0h1.1m1.9 0h1.1m-0.1 0h1.1m4.4 0h1.1m3.9 0h1.1m3.4 0h1.1m10.9 0h1.1m0.4 0h1.1m-0.1 0h1.1m8.9 0h1.1m0.9 0h1.1m6.9 0h1.1m4.4 0h1.1m3.9 0h1.1m-0.1 0h1.1m3.4 0h1.1m0.9 0h1.1m0.9 0h1.1m-0.6 0h1.1m-0.6 0h1.1m-0.6 0h1.1m-0.6 0h1.1m-0.1 0h1.1m-0.6 0h1.1m-0.1 0h1.1m-0.1 0h1.1m1.9 0h1.1m-0.6 0h1.1m-0.6 0h1.1m-0.1 0h1.1m-0.6 0h1.1m2.9 0h1.1m0.9 0h1.1m9.9 0h1.1m-108.6 0.5h1.1m5.9 0h1.1m5.9 0h1.1m-0.6 0h1.1m6.4 0h1.1m9.9 0h1.1m9.4 0h1.1m6.9 0h1.1m6.4 0h1.1m-0.6 0h1.1m1.9 0h1.1m0.4 0h1.1m-0.6 0h1.1m-0.6 0h1.1m-0.1 0h1.1m0.4 0h1.1m2.4 0h1.1m0.4 0h1.1m-0.6 0h1.1m-0.1 0h1.1m1.4 0h1.1m0.4 0h1.1m0.4 0h1.1m-0.6 0h1.1m-0.6 0h1.1m-0.6 0h1.1m-0.6 0h1.1m0.9 0h1.1m-0.1 0h1.1m-0.6 0h1.1m0.4 0h1.1m-0.1 0h1.1m-0.1 0h1.1m-0.6 0h1.1m0.4 0h1.1m-0.1 0h1.1m-0.1 0h1.1m11.9 0h1.1m38.9 0h1.1m-143.1 0.5h1.1m1.9 0h1.1m1.4 0h1.1m0.9 0h1.1m3.4 0h1.1m-0.6 0h1.1m-0.6 0h1.1m-0.1 0h1.1m-0.6 0h1.1m-0.6 0h1.1m4.9 0h1.1m3.9 0h1.1m5.9 0h1.1m-0.6 0h1.1m10.9 0h1.1m0.9 0h1.1m6.9 0h1.1m2.9 0h1.1m2.4 0h1.1m2.9 0h1.1m1.4 0h1.1m-0.6 0h1.1m-0.6 0h1.1m0.4 0h1.1m0.9 0h1.1m0.9 0h1.1m1.4 0h1.1m-0.6 0h1.1m-0.6 0h1.1m-0.6 0h1.1m0.4 0h1.1m-0.6 0h1.1m-0.1 0h1.1m-0.6 0h1.1m0.9 0h1.1m-0.1 0h1.1m0.9 0h1.1m3.9 0h1.1m16.4 0h1.1m-111.1 0.5h1.1m-0.6 0h1.1m1.9 0h1.1m12.9 0h1.1m-0.6 0h1.1m8.4 0h1.1m6.9 0h1.1m0.9 0h1.1m9.4 0h1.1m2.4 0h1.1m-0.1 0h1.1m1.9 0h1.1m1.4 0h1.1m-0.6 0h1.1m3.4 0h1.1m-0.1 0h1.1m4.4 0h1.1m-0.6 0h1.1m-0.6 0h1.1m-0.6 0h1.1m-0.6 0h1.1m-0.6 0h1.1m-0.6 0h1.1m-0.6 0h1.1m0.9 0h1.1m0.9 0h1.1m-0.6 0h1.1m-0.6 0h1.1m2.4 0h1.1m-0.6 0h1.1m0.9 0h1.1m-0.6 0h1.1m-0.1 0h1.1m1.4 0h1.1m1.9 0h1.1m1.9 0h1.1m8.4 0h1.1m-107.1 0.5h1.1m0.4 0h1.1m-0.1 0h1.1m-0.1 0h1.1m2.4 0h1.1m1.4 0h1.1m9.4 0h1.1m7.4 0h1.1m0.9 0h1.1m3.9 0h1.1m18.9 0h1.1m-0.6 0h1.1m4.4 0h1.1m-0.1 0h1.1m-0.1 0h1.1m6.4 0h1.1m-0.6 0h1.1m2.9 0h1.1m-0.6 0h1.1m0.4 0h1.1m0.4 0h1.1m-0.6 0h1.1m-0.1 0h1.1m-0.6 0h1.1m-0.1 0h1.1m-0.6 0h1.1m0.4 0h1.1m-0.6 0h1.1m-0.1 0h1.1m0.4 0h1.1m-0.6 0h1.1m-0.1 0h1.1m1.9 0h1.1m6.9 0h1.1m-100.1 0.5h1.1m0.9 0h1.1m-0.1 0h1.1m1.4 0h1.1m0.4 0h1.1m5.4 0h1.1m5.9 0h1.1m-0.1 0h1.1m-0.1 0h1.1m1.4 0h1.1m5.4 0h1.1m2.4 0h1.1m3.4 0h1.1m4.9 0h1.1m0.4 0h1.1m21.9 0h1.1m0.9 0h1.1m0.4 0h1.1m-0.6 0h1.1m-0.6 0h1.1m0.4 0h1.1m-0.6 0h1.1m-0.6 0h1.1m-0.1 0h1.1m1.4 0h1.1m0.9 0h1.1m0.4 0h1.1m-0.6 0h1.1m0.4 0h1.1m0.4 0h1.1m-0.1 0h1.1m-0.1 0h1.1m6.4 0h1.1m4.4 0h1.1m4.4 0h1.1m-105.6 0.5h1.1m-0.1 0h1.1m6.9 0h1.1m2.4 0h1.1m1.9 0h1.1m0.9 0h1.1m-0.6 0h1.1m9.4 0h1.1m1.9 0h1.1m2.9 0h1.1m1.4 0h1.1m0.4 0h1.1m-0.6 0h1.1m2.4 0h1.1m7.4 0h1.1m0.4 0h1.1m0.4 0h1.1m1.9 0h1.1m0.9 0h1.1m6.4 0h1.1m-0.6 0h1.1m0.9 0h1.1m-0.1 0h1.1m-0.6 0h1.1m-0.1 0h1.1m-0.6 0h1.1m0.4 0h1.1m-0.6 0h1.1m-0.6 0h1.1m-0.6 0h1.1m-0.6 0h1.1m-0.6 0h1.1m-0.1 0h1.1m-0.1 0h1.1m-0.6 0h1.1m-0.6 0h1.1m-0.6 0h1.1m0.4 0h1.1m1.9 0h1.1m7.4 0h1.1m18.4 0h1.1m-116.1 0.5h1.1m-0.6 0h1.1m1.4 0h1.1m-0.6 0h1.1m1.9 0h1.1m-0.1 0h1.1m-0.6 0h1.1m-0.6 0h1.1m0.4 0h1.1m2.9 0h1.1m-0.1 0h1.1m-0.1 0h1.1m2.9 0h1.1m-0.6 0h1.1m2.9 0h1.1m0.4 0h1.1m2.9 0h1.1m2.9 0h1.1m4.9 0h1.1m-0.1 0h1.1m14.9 0h1.1m0.9 0h1.1m-0.1 0h1.1m-0.1 0h1.1m-0.6 0h1.1m-0.6 0h1.1m-0.6 0h1.1m7.4 0h1.1m-0.6 0h1.1m-0.1 0h1.1m-0.1 0h1.1m0.9 0h1.1m-0.6 0h1.1m-0.6 0h1.1m1.4 0h1.1m0.4 0h1.1m-0.1 0h1.1m-0.1 0h1.1m-0.1 0h1.1m0.4 0h1.1m-0.1 0h1.1m-0.6 0h1.1m22.9 0h1.1m0.9 0h1.1m28.4 0h1.1m-142.6 0.5h1.1m1.9 0h1.1m0.4 0h1.1m0.4 0h1.1m-0.1 0h1.1m-0.6 0h1.1m4.9 0h1.1m-0.6 0h1.1m0.4 0h1.1m-0.6 0h1.1m-0.6 0h1.1m0.4 0h1.1m-0.1 0h1.1m-0.6 0h1.1m13.9 0h1.1m0.4 0h1.1m4.4 0h1.1m4.4 0h1.1m-0.1 0h1.1m6.4 0h1.1m0.9 0h1.1m3.4 0h1.1m-0.1 0h1.1m-0.1 0h1.1m2.9 0h1.1m-0.1 0h1.1m-0.6 0h1.1m-0.6 0h1.1m-0.6 0h1.1m-0.1 0h1.1m-0.1 0h1.1m0.4 0h1.1m-0.1 0h1.1m-0.6 0h1.1m0.4 0h1.1m0.4 0h1.1m-0.6 0h1.1m-0.6 0h1.1m-0.1 0h1.1m-0.6 0h1.1m-0.6 0h1.1m-0.6 0h1.1m-0.1 0h1.1m-0.6 0h1.1m-0.6 0h1.1m-0.6 0h1.1m0.4 0h1.1m-0.6 0h1.1m-0.1 0h1.1m8.4 0h1.1m-0.6 0h1.1m-95.6 0.5h1.1m0.4 0h1.1m0.4 0h1.1m2.9 0h1.1m2.4 0h1.1m-0.1 0h1.1m0.9 0h1.1m0.4 0h1.1m5.4 0h1.1m2.9 0h1.1m3.9 0h1.1m10.9 0h1.1m7.9 0h1.1m-0.6 0h1.1m2.4 0h1.1m-0.6 0h1.1m-0.6 0h1.1m-0.6 0h1.1m-0.6 0h1.1m4.4 0h1.1m-0.1 0h1.1m2.9 0h1.1m1.4 0h1.1m-0.6 0h1.1m-0.1 0h1.1m-0.6 0h1.1m-0.6 0h1.1m-0.6 0h1.1m-0.6 0h1.1m-0.6 0h1.1m1.4 0h1.1m-0.6 0h1.1m-0.1 0h1.1m1.9 0h1.1m0.9 0h1.1m2.4 0h1.1m44.9 0h1.1m2.9 0h1.1m-141.6 0.5h1.1m4.4 0h1.1m2.9 0h1.1m-0.1 0h1.1m1.4 0h1.1m3.9 0h1.1m2.4 0h1.1m-0.6 0h1.1m-0.1 0h1.1m0.4 0h1.1m1.4 0h1.1m1.9 0h1.1m11.4 0h1.1m2.9 0h1.1m1.9 0h1.1m3.9 0h1.1m2.4 0h1.1m4.4 0h1.1m3.4 0h1.1m0.4 0h1.1m-0.1 0h1.1m-0.6 0h1.1m1.4 0h1.1m0.9 0h1.1m-0.1 0h1.1m0.4 0h1.1m-0.6 0h1.1m-0.1 0h1.1m-0.6 0h1.1m-0.1 0h1.1m0.4 0h1.1m0.4 0h1.1m-0.6 0h1.1m-0.6 0h1.1m-0.6 0h1.1m0.9 0h1.1m0.9 0h1.1m0.9 0h1.1m-0.6 0h1.1m-0.6 0h1.1m4.4 0h1.1m10.4 0h1.1m-109.6 0.5h1.1m2.9 0h1.1m2.4 0h1.1m1.4 0h1.1m0.4 0h1.1m-0.1 0h1.1m0.9 0h1.1m13.4 0h1.1m3.4 0h1.1m2.9 0h1.1m1.4 0h1.1m3.4 0h1.1m2.4 0h1.1m5.9 0h1.1m2.4 0h1.1m-0.1 0h1.1m6.4 0h1.1m-0.1 0h1.1m0.4 0h1.1m-0.1 0h1.1m-0.1 0h1.1m0.4 0h1.1m-0.6 0h1.1m0.9 0h1.1m-0.6 0h1.1m0.9 0h1.1m-0.1 0h1.1m-0.1 0h1.1m-0.1 0h1.1m-0.6 0h1.1m-0.1 0h1.1m-0.6 0h1.1m-0.6 0h1.1m-0.6 0h1.1m0.9 0h1.1m24.4 0h1.1m-113.1 0.5h1.1m-0.6 0h1.1m0.9 0h1.1m-0.1 0h1.1m-0.1 0h1.1m4.4 0h1.1m1.9 0h1.1m1.9 0h1.1m0.4 0h1.1m1.9 0h1.1m-0.1 0h1.1m3.9 0h1.1m8.9 0h1.1m1.9 0h1.1m2.9 0h1.1m9.9 0h1.1m4.9 0h1.1m-0.6 0h1.1m-0.1 0h1.1m0.4 0h1.1m4.4 0h1.1m0.4 0h1.1m0.4 0h1.1m0.9 0h1.1m0.4 0h1.1m-0.1 0h1.1m-0.6 0h1.1m0.9 0h1.1m-0.1 0h1.1m-0.6 0h1.1m0.9 0h1.1m-0.6 0h1.1m-0.6 0h1.1m1.4 0h1.1m0.4 0h1.1m-0.6 0h1.1m9.4 0h1.1m3.4 0h1.1m-99.1 0.5h1.1m-0.6 0h1.1m0.4 0h1.1m0.4 0h1.1m-0.6 0h1.1m2.9 0h1.1m-0.1 0h1.1m-0.6 0h1.1m2.9 0h1.1m2.4 0h1.1m-0.1 0h1.1m-0.1 0h1.1m1.4 0h1.1m2.9 0h1.1m-0.1 0h1.1m6.9 0h1.1m21.4 0h1.1m-0.1 0h1.1m0.9 0h1.1m1.9 0h1.1m1.4 0h1.1m-0.6 0h1.1m0.4 0h1.1m-0.6 0h1.1m2.9 0h1.1m-0.6 0h1.1m1.4 0h1.1m-0.6 0h1.1m1.4 0h1.1m-0.6 0h1.1m-0.1 0h1.1m-0.6 0h1.1m4.9 0h1.1m12.9 0h1.1m-99.1 0.5h1.1m-0.1 0h1.1m-0.1 0h1.1m-0.6 0h1.1m-0.1 0h1.1m-0.1 0h1.1m0.9 0h1.1m-0.6 0h1.1m2.4 0h1.1m0.4 0h1.1m-0.6 0h1.1m1.9 0h1.1m1.4 0h1.1m0.9 0h1.1m4.4 0h1.1m0.9 0h1.1m0.9 0h1.1m1.9 0h1.1m-0.6 0h1.1m-0.6 0h1.1m3.4 0h1.1m-0.1 0h1.1m0.4 0h1.1m0.9 0h1.1m8.9 0h1.1m3.9 0h1.1m1.9 0h1.1m3.9 0h1.1m0.9 0h1.1m-0.6 0h1.1m2.9 0h1.1m-0.6 0h1.1m-0.6 0h1.1m-0.1 0h1.1m-0.1 0h1.1m-0.6 0h1.1m-0.1 0h1.1m-0.1 0h1.1m-0.6 0h1.1m-0.1 0h1.1m-0.6 0h1.1m9.4 0h1.1m3.9 0h1.1m-101.6 0.5h1.1m0.9 0h1.1m1.9 0h1.1m1.4 0h1.1m-0.6 0h1.1m1.9 0h1.1m3.9 0h1.1m-0.1 0h1.1m-0.6 0h1.1m1.9 0h1.1m-0.1 0h1.1m1.4 0h1.1m2.9 0h1.1m31.4 0h1.1m0.4 0h1.1m1.4 0h1.1m-0.6 0h1.1m3.4 0h1.1m-0.6 0h1.1m0.4 0h1.1m-0.1 0h1.1m1.9 0h1.1m-0.1 0h1.1m-0.6 0h1.1m0.4 0h1.1m-0.6 0h1.1m-0.1 0h1.1m-0.6 0h1.1m-0.1 0h1.1m-0.6 0h1.1m-0.6 0h1.1m-0.1 0h1.1m-0.6 0h1.1m0.9 0h1.1m-0.6 0h1.1m-0.1 0h1.1m-0.6 0h1.1m52.4 0h1.1m-143.1 0.5h1.1m-0.6 0h1.1m-0.6 0h1.1m2.4 0h1.1m0.9 0h1.1m-0.1 0h1.1m0.9 0h1.1m-0.1 0h1.1m0.4 0h1.1m1.9 0h1.1m2.4 0h1.1m-0.1 0h1.1m-0.6 0h1.1m0.4 0h1.1m0.9 0h1.1m1.9 0h1.1m1.4 0h1.1m-0.1 0h1.1m3.4 0h1.1m-0.6 0h1.1m3.9 0h1.1m0.9 0h1.1m4.9 0h1.1m9.9 0h1.1m-0.6 0h1.1m0.4 0h1.1m1.4 0h1.1m-0.6 0h1.1m3.9 0h1.1m-0.6 0h1.1m0.9 0h1.1m-0.1 0h1.1m-0.6 0h1.1m-0.1 0h1.1m1.4 0h1.1m-0.6 0h1.1m-0.6 0h1.1m-0.1 0h1.1m-0.1 0h1.1m-0.1 0h1.1m-0.6 0h1.1m-0.1 0h1.1m-0.6 0h1.1m-0.6 0h1.1m-0.6 0h1.1m0.4 0h1.1m-0.1 0h1.1m1.4 0h1.1m-0.6 0h1.1m-89.6 0.5h1.1m-0.1 0h1.1m-0.1 0h1.1m2.9 0h1.1m-0.6 0h1.1m-0.6 0h1.1m-0.6 0h1.1m-0.1 0h1.1m0.9 0h1.1m0.9 0h1.1m2.4 0h1.1m0.4 0h1.1m1.4 0h1.1m-0.6 0h1.1m2.9 0h1.1m0.4 0h1.1m6.9 0h1.1m1.9 0h1.1m12.4 0h1.1m-0.1 0h1.1m15.9 0h1.1m-0.1 0h1.1m-0.6 0h1.1m0.9 0h1.1m-0.1 0h1.1m1.4 0h1.1m-0.6 0h1.1m1.9 0h1.1m-0.6 0h1.1m-0.1 0h1.1m-0.6 0h1.1m0.4 0h1.1m-0.6 0h1.1m-0.1 0h1.1m-0.1 0h1.1m0.4 0h1.1m2.4 0h1.1m2.4 0h1.1m-95.1 0.5h1.1m-0.6 0h1.1m-0.6 0h1.1m-0.6 0h1.1m-0.1 0h1.1m0.9 0h1.1m1.4 0h1.1m-0.6 0h1.1m-0.6 0h1.1m2.9 0h1.1m-0.6 0h1.1m-0.6 0h1.1m2.9 0h1.1m-0.1 0h1.1m-0.1 0h1.1m0.4 0h1.1m-0.6 0h1.1m-0.1 0h1.1m-0.6 0h1.1m-0.6 0h1.1m1.4 0h1.1m-0.6 0h1.1m1.4 0h1.1m0.4 0h1.1m10.4 0h1.1m2.9 0h1.1m11.9 0h1.1m-0.6 0h1.1m1.4 0h1.1m8.9 0h1.1m-0.1 0h1.1m-0.6 0h1.1m-0.6 0h1.1m0.9 0h1.1m-0.1 0h1.1m-0.1 0h1.1m-0.6 0h1.1m-0.1 0h1.1m-0.6 0h1.1m-0.6 0h1.1m-0.6 0h1.1m1.4 0h1.1m9.4 0h1.1m38.9 0h1.1m-0.1 0h1.1m-134.1 0.5h1.1m5.4 0h1.1m-0.1 0h1.1m-0.1 0h1.1m-0.1 0h1.1m-0.1 0h1.1m2.4 0h1.1m-0.6 0h1.1m-0.1 0h1.1m0.4 0h1.1m-0.1 0h1.1m2.9 0h1.1m4.4 0h1.1m0.9 0h1.1m2.4 0h1.1m0.9 0h1.1m2.4 0h1.1m-0.6 0h1.1m28.4 0h1.1m0.4 0h1.1m1.4 0h1.1m1.9 0h1.1m-0.1 0h1.1m1.9 0h1.1m-0.6 0h1.1m1.9 0h1.1m-0.6 0h1.1m-0.1 0h1.1m-0.6 0h1.1m0.9 0h1.1m-0.6 0h1.1m-0.6 0h1.1m2.9 0h1.1m-90.6 0.5h1.1m-0.6 0h1.1m-0.6 0h1.1m-0.6 0h1.1m-0.1 0h1.1m3.9 0h1.1m-0.6 0h1.1m-0.1 0h1.1m-0.6 0h1.1m0.4 0h1.1m-0.6 0h1.1m0.4 0h1.1m3.4 0h1.1m-0.1 0h1.1m1.4 0h1.1m-0.6 0h1.1m6.9 0h1.1m2.4 0h1.1m-0.6 0h1.1m2.9 0h1.1m1.9 0h1.1m8.9 0h1.1m0.4 0h1.1m4.4 0h1.1m2.4 0h1.1m0.4 0h1.1m2.4 0h1.1m-0.1 0h1.1m-0.6 0h1.1m-0.1 0h1.1m4.4 0h1.1m-0.1 0h1.1m0.9 0h1.1m-0.6 0h1.1m-0.6 0h1.1m1.4 0h1.1m3.9 0h1.1m34.9 0h1.1m6.4 0h1.1m-129.1 0.5h1.1m-0.6 0h1.1m-0.6 0h1.1m-0.6 0h1.1m0.9 0h1.1m-0.1 0h1.1m2.4 0h1.1m0.9 0h1.1m0.4 0h1.1m-0.1 0h1.1m2.4 0h1.1m-0.6 0h1.1m-0.6 0h1.1m3.4 0h1.1m-0.6 0h1.1m0.4 0h1.1m2.4 0h1.1m0.4 0h1.1m-0.6 0h1.1m0.9 0h1.1m2.4 0h1.1m1.4 0h1.1m3.4 0h1.1m-0.1 0h1.1m-0.1 0h1.1m-0.1 0h1.1m6.4 0h1.1m13.4 0h1.1m-0.1 0h1.1m-0.6 0h1.1m-0.6 0h1.1m-0.1 0h1.1m1.9 0h1.1m-0.6 0h1.1m-0.6 0h1.1m-0.6 0h1.1m-0.1 0h1.1m-0.6 0h1.1m0.4 0h1.1m5.4 0h1.1m-0.6 0h1.1m-0.6 0h1.1m6.9 0h1.1m6.4 0h1.1m13.4 0h1.1m-117.1 0.5h1.1m0.4 0h1.1m2.4 0h1.1m1.4 0h1.1m-0.1 0h1.1m-0.6 0h1.1m0.9 0h1.1m-0.1 0h1.1m-0.6 0h1.1m3.4 0h1.1m1.4 0h1.1m1.4 0h1.1m2.4 0h1.1m1.4 0h1.1m0.9 0h1.1m-0.1 0h1.1m4.4 0h1.1m9.4 0h1.1m6.4 0h1.1m4.9 0h1.1m5.9 0h1.1m0.9 0h1.1m0.4 0h1.1m-0.1 0h1.1m-0.1 0h1.1m-0.1 0h1.1m-0.1 0h1.1m-0.6 0h1.1m-0.1 0h1.1m0.4 0h1.1m0.4 0h1.1m0.9 0h1.1m-0.6 0h1.1m-0.6 0h1.1m0.9 0h1.1m0.9 0h1.1m1.4 0h1.1m1.4 0h1.1m39.4 0h1.1m10.9 0h1.1m-146.1 0.5h1.1m-0.1 0h1.1m-0.1 0h1.1m-0.6 0h1.1m2.4 0h1.1m2.4 0h1.1m-0.6 0h1.1m2.9 0h1.1m2.4 0h1.1m-0.6 0h1.1m-0.6 0h1.1m-0.1 0h1.1m-0.1 0h1.1m0.4 0h1.1m1.9 0h1.1m2.9 0h1.1m21.9 0h1.1m11.4 0h1.1m0.9 0h1.1m-0.6 0h1.1m0.4 0h1.1m-0.6 0h1.1m-0.6 0h1.1m-0.6 0h1.1m-0.1 0h1.1m0.4 0h1.1m0.4 0h1.1m0.9 0h1.1m-0.6 0h1.1m1.4 0h1.1m-0.6 0h1.1m-0.6 0h1.1m1.9 0h1.1m0.4 0h1.1m-0.1 0h1.1m58.4 0h1.1m-145.6 0.5h1.1m-0.1 0h1.1m-0.6 0h1.1m0.4 0h1.1m4.4 0h1.1m0.4 0h1.1m-0.1 0h1.1m-0.1 0h1.1m0.4 0h1.1m-0.6 0h1.1m0.4 0h1.1m-0.1 0h1.1m-0.6 0h1.1m-0.6 0h1.1m0.9 0h1.1m1.4 0h1.1m3.9 0h1.1m10.9 0h1.1m1.4 0h1.1m1.9 0h1.1m1.9 0h1.1m11.9 0h1.1m4.9 0h1.1m0.4 0h1.1m-0.1 0h1.1m-0.1 0h1.1m-0.1 0h1.1m2.4 0h1.1m0.4 0h1.1m-0.1 0h1.1m1.4 0h1.1m-0.6 0h1.1m0.9 0h1.1m-0.6 0h1.1m-0.6 0h1.1m1.9 0h1.1m0.4 0h1.1m-0.1 0h1.1m1.9 0h1.1m2.9 0h1.1m47.9 0h1.1m-0.6 0h1.1m-0.1 0h1.1m-147.6 0.5h1.1m0.4 0h1.1m-0.1 0h1.1m2.4 0h1.1m-0.1 0h1.1m-0.1 0h1.1m-0.6 0h1.1m-0.1 0h1.1m-0.1 0h1.1m0.9 0h1.1m0.4 0h1.1m0.9 0h1.1m0.4 0h1.1m3.9 0h1.1m-0.6 0h1.1m0.9 0h1.1m-0.6 0h1.1m7.9 0h1.1m-0.1 0h1.1m0.4 0h1.1m4.9 0h1.1m23.9 0h1.1m-0.6 0h1.1m0.4 0h1.1m-0.1 0h1.1m-0.1 0h1.1m-0.6 0h1.1m1.4 0h1.1m-0.6 0h1.1m-0.1 0h1.1m0.9 0h1.1m1.9 0h1.1m-0.1 0h1.1m-0.1 0h1.1m-0.6 0h1.1m1.4 0h1.1m-0.6 0h1.1m1.9 0h1.1m25.4 0h1.1m25.9 0h1.1m0.4 0h1.1m0.4 0h1.1m-147.1 0.5h1.1m0.9 0h1.1m-0.1 0h1.1m-0.1 0h1.1m0.4 0h1.1m-0.6 0h1.1m-0.1 0h1.1m0.9 0h1.1m-0.6 0h1.1m4.9 0h1.1m0.9 0h1.1m-0.6 0h1.1m2.4 0h1.1m0.4 0h1.1m-0.6 0h1.1m0.9 0h1.1m3.4 0h1.1m6.4 0h1.1m-0.6 0h1.1m15.4 0h1.1m12.9 0h1.1m0.4 0h1.1m-0.6 0h1.1m-0.1 0h1.1m0.9 0h1.1m0.4 0h1.1m-0.1 0h1.1m9.4 0h1.1m-0.6 0h1.1m-0.1 0h1.1m26.4 0h1.1m24.4 0h1.1m1.9 0h1.1m-0.6 0h1.1m-144.1 0.5h1.1m0.4 0h1.1m0.4 0h1.1m0.4 0h1.1m0.4 0h1.1m0.9 0h1.1m0.9 0h1.1m3.4 0h1.1m0.4 0h1.1m-0.6 0h1.1m1.4 0h1.1m4.4 0h1.1m-0.1 0h1.1m0.4 0h1.1m-0.6 0h1.1m1.9 0h1.1m-0.6 0h1.1m-0.1 0h1.1m3.4 0h1.1m4.9 0h1.1m7.4 0h1.1m1.9 0h1.1m4.9 0h1.1m2.4 0h1.1m1.9 0h1.1m0.9 0h1.1m0.9 0h1.1m-0.6 0h1.1m-0.6 0h1.1m0.4 0h1.1m-0.6 0h1.1m-0.1 0h1.1m0.9 0h1.1m-0.6 0h1.1m1.4 0h1.1m1.4 0h1.1m-0.6 0h1.1m1.9 0h1.1m0.4 0h1.1m0.9 0h1.1m-0.6 0h1.1m17.9 0h1.1m6.9 0h1.1m4.9 0h1.1m10.4 0h1.1m5.4 0h1.1m-0.6 0h1.1m-0.1 0h1.1m-0.6 0h1.1m-0.6 0h1.1m1.4 0h1.1m-148.6 0.5h1.1m-0.1 0h1.1m2.9 0h1.1m3.9 0h1.1m1.4 0h1.1m0.9 0h1.1m-0.1 0h1.1m-0.6 0h1.1m2.9 0h1.1m0.9 0h1.1m2.9 0h1.1m10.4 0h1.1m0.4 0h1.1m0.4 0h1.1m7.9 0h1.1m11.9 0h1.1m5.9 0h1.1m1.9 0h1.1m0.9 0h1.1m1.9 0h1.1m3.4 0h1.1m1.4 0h1.1m-0.6 0h1.1m-0.1 0h1.1m-0.6 0h1.1m0.4 0h1.1m4.4 0h1.1m19.9 0h1.1m25.9 0h1.1m2.4 0h1.1m-144.1 0.5h1.1m4.4 0h1.1m-0.6 0h1.1m-0.6 0h1.1m-0.6 0h1.1m-0.1 0h1.1m-0.6 0h1.1m-0.1 0h1.1m-0.1 0h1.1m-0.6 0h1.1m3.9 0h1.1m-0.6 0h1.1m1.9 0h1.1m0.4 0h1.1m0.9 0h1.1m-0.6 0h1.1m7.4 0h1.1m-0.6 0h1.1m3.4 0h1.1m3.9 0h1.1m-0.6 0h1.1m3.4 0h1.1m3.9 0h1.1m-0.1 0h1.1m0.9 0h1.1m2.4 0h1.1m-0.6 0h1.1m4.4 0h1.1m1.9 0h1.1m0.4 0h1.1m-0.6 0h1.1m-0.1 0h1.1m-0.1 0h1.1m-0.6 0h1.1m0.9 0h1.1m-0.6 0h1.1m-0.1 0h1.1m1.4 0h1.1m0.4 0h1.1m-0.1 0h1.1m-0.6 0h1.1m0.4 0h1.1m6.4 0h1.1m2.4 0h1.1m7.9 0h1.1m20.9 0h1.1m13.9 0h1.1m0.4 0h1.1m-0.6 0h1.1m-142.6 0.5h1.1m0.4 0h1.1m-0.6 0h1.1m0.9 0h1.1m0.4 0h1.1m-0.6 0h1.1m4.9 0h1.1m6.9 0h1.1m8.4 0h1.1m0.9 0h1.1m5.4 0h1.1m0.4 0h1.1m2.9 0h1.1m1.9 0h1.1m4.4 0h1.1m-0.1 0h1.1m7.4 0h1.1m1.4 0h1.1m3.4 0h1.1m-0.1 0h1.1m-0.6 0h1.1m0.9 0h1.1m1.4 0h1.1m1.4 0h1.1m1.9 0h1.1m-0.1 0h1.1m-0.6 0h1.1m1.9 0h1.1m38.9 0h1.1m13.4 0h1.1m-137.6 0.5h1.1m2.4 0h1.1m1.4 0h1.1m-0.6 0h1.1m0.9 0h1.1m-0.1 0h1.1m-0.1 0h1.1m0.4 0h1.1m-0.1 0h1.1m1.4 0h1.1m-0.6 0h1.1m3.4 0h1.1m-0.1 0h1.1m3.4 0h1.1m1.9 0h1.1m2.9 0h1.1m2.9 0h1.1m6.9 0h1.1m10.9 0h1.1m4.4 0h1.1m4.9 0h1.1m2.4 0h1.1m-0.1 0h1.1m0.4 0h1.1m-0.1 0h1.1m-0.1 0h1.1m0.4 0h1.1m1.9 0h1.1m2.9 0h1.1m1.4 0h1.1m0.4 0h1.1m43.4 0h1.1m0.4 0h1.1m0.4 0h1.1m-0.6 0h1.1m-137.6 0.5h1.1m0.9 0h1.1m8.9 0h1.1m-0.1 0h1.1m1.9 0h1.1m2.4 0h1.1m-0.1 0h1.1m-0.6 0h1.1m-0.6 0h1.1m-0.1 0h1.1m8.4 0h1.1m5.9 0h1.1m2.9 0h1.1m4.9 0h1.1m8.4 0h1.1m-0.6 0h1.1m0.9 0h1.1m3.9 0h1.1m0.4 0h1.1m-0.6 0h1.1m-0.6 0h1.1m0.4 0h1.1m-0.6 0h1.1m-0.6 0h1.1m2.9 0h1.1m-0.6 0h1.1m0.9 0h1.1m-0.6 0h1.1m0.4 0h1.1m0.4 0h1.1m-0.6 0h1.1m8.9 0h1.1m35.4 0h1.1m-128.1 0.5h1.1m0.4 0h1.1m0.9 0h1.1m-0.6 0h1.1m5.9 0h1.1m0.4 0h1.1m-0.6 0h1.1m-0.6 0h1.1m12.9 0h1.1m0.4 0h1.1m0.9 0h1.1m2.4 0h1.1m10.9 0h1.1m6.4 0h1.1m1.4 0h1.1m1.9 0h1.1m4.9 0h1.1m-0.6 0h1.1m2.9 0h1.1m-0.6 0h1.1m-0.6 0h1.1m0.4 0h1.1m-0.6 0h1.1m-0.6 0h1.1m-0.6 0h1.1m-0.1 0h1.1m-0.1 0h1.1m-0.6 0h1.1m-0.6 0h1.1m-0.6 0h1.1m-0.1 0h1.1m-0.6 0h1.1m-0.6 0h1.1m-0.6 0h1.1m0.9 0h1.1m-0.1 0h1.1m4.4 0h1.1m-0.6 0h1.1m15.9 0h1.1m-110.6 0.5h1.1m-0.6 0h1.1m0.4 0h1.1m-0.6 0h1.1m-0.6 0h1.1m0.9 0h1.1m0.9 0h1.1m0.4 0h1.1m-0.6 0h1.1m-0.6 0h1.1m2.4 0h1.1m0.4 0h1.1m-0.6 0h1.1m0.9 0h1.1m-0.1 0h1.1m0.4 0h1.1m0.4 0h1.1m3.4 0h1.1m2.9 0h1.1m20.9 0h1.1m-0.1 0h1.1m-0.1 0h1.1m-0.6 0h1.1m1.4 0h1.1m-0.6 0h1.1m1.4 0h1.1m10.9 0h1.1m-0.1 0h1.1m-0.1 0h1.1m-0.6 0h1.1m1.9 0h1.1m0.4 0h1.1m0.9 0h1.1m0.4 0h1.1m-0.1 0h1.1m1.9 0h1.1m0.4 0h1.1m-0.1 0h1.1m3.9 0h1.1m38.4 0h1.1m0.9 0h1.1m-0.1 0h1.1m-135.1 0.5h1.1m4.4 0h1.1m2.9 0h1.1m-0.6 0h1.1m0.4 0h1.1m-0.6 0h1.1m-0.6 0h1.1m-0.1 0h1.1m0.9 0h1.1m-0.6 0h1.1m-0.1 0h1.1m3.4 0h1.1m1.9 0h1.1m-0.6 0h1.1m1.9 0h1.1m6.4 0h1.1m-0.6 0h1.1m11.9 0h1.1m1.9 0h1.1m3.4 0h1.1m-0.6 0h1.1m2.9 0h1.1m1.4 0h1.1m0.9 0h1.1m-0.1 0h1.1m1.4 0h1.1m0.9 0h1.1m-0.1 0h1.1m0.4 0h1.1m-0.6 0h1.1m0.4 0h1.1m-0.6 0h1.1m0.4 0h1.1m0.9 0h1.1m0.4 0h1.1m-0.1 0h1.1m-0.6 0h1.1m2.4 0h1.1m-0.1 0h1.1m44.4 0h1.1m-135.1 0.5h1.1m1.4 0h1.1m1.4 0h1.1m-0.6 0h1.1m5.9 0h1.1m0.9 0h1.1m-0.6 0h1.1m1.9 0h1.1m5.4 0h1.1m6.4 0h1.1m2.9 0h1.1m17.9 0h1.1m0.9 0h1.1m4.9 0h1.1m0.4 0h1.1m0.4 0h1.1m3.9 0h1.1m5.4 0h1.1m-0.1 0h1.1m1.4 0h1.1m2.4 0h1.1m-0.1 0h1.1m-0.1 0h1.1m-0.6 0h1.1m0.4 0h1.1m8.9 0h1.1m32.9 0h1.1m-0.1 0h1.1m-0.6 0h1.1m-133.6 0.5h1.1m-0.6 0h1.1m-0.1 0h1.1m0.4 0h1.1m-0.6 0h1.1m1.4 0h1.1m5.4 0h1.1m2.9 0h1.1m-0.1 0h1.1m1.9 0h1.1m3.4 0h1.1m0.4 0h1.1m2.4 0h1.1m3.9 0h1.1m2.9 0h1.1m4.9 0h1.1m9.9 0h1.1m-0.1 0h1.1m7.4 0h1.1m-0.1 0h1.1m-0.1 0h1.1m2.4 0h1.1m0.4 0h1.1m0.9 0h1.1m2.9 0h1.1m-0.1 0h1.1m51.4 0h1.1m-133.6 0.5h1.1m0.4 0h1.1m10.4 0h1.1m-0.6 0h1.1m1.4 0h1.1m9.4 0h1.1m-0.1 0h1.1m1.9 0h1.1m0.4 0h1.1m-0.1 0h1.1m-0.6 0h1.1m1.4 0h1.1m17.4 0h1.1m3.4 0h1.1m2.9 0h1.1m2.9 0h1.1m1.4 0h1.1m-0.1 0h1.1m0.4 0h1.1m-0.1 0h1.1m3.4 0h1.1m-0.6 0h1.1m2.4 0h1.1m2.4 0h1.1m1.4 0h1.1m19.9 0h1.1m21.4 0h1.1m-132.1 0.5h1.1m1.4 0h1.1m1.4 0h1.1m5.9 0h1.1m-0.1 0h1.1m2.9 0h1.1m-0.6 0h1.1m-0.6 0h1.1m-0.6 0h1.1m1.9 0h1.1m1.9 0h1.1m1.4 0h1.1m-0.6 0h1.1m9.4 0h1.1m15.4 0h1.1m3.4 0h1.1m0.9 0h1.1m6.4 0h1.1m0.4 0h1.1m-0.1 0h1.1m-0.1 0h1.1m-0.6 0h1.1m-0.6 0h1.1m-0.1 0h1.1m-0.6 0h1.1m1.4 0h1.1m-0.6 0h1.1m-0.1 0h1.1m33.4 0h1.1m1.4 0h1.1m-113.1 0.5h1.1m-0.1 0h1.1m0.9 0h1.1m-0.6 0h1.1m2.4 0h1.1m-0.1 0h1.1m8.9 0h1.1m6.4 0h1.1m5.4 0h1.1m-0.6 0h1.1m29.9 0h1.1m1.9 0h1.1m4.4 0h1.1m-0.6 0h1.1m0.9 0h1.1m-0.1 0h1.1m0.4 0h1.1m0.9 0h1.1m1.9 0h1.1m40.9 0h1.1m-127.6 0.5h1.1m0.4 0h1.1m0.9 0h1.1m-0.1 0h1.1m6.4 0h1.1m3.4 0h1.1m5.4 0h1.1m3.4 0h1.1m1.4 0h1.1m-0.6 0h1.1m1.4 0h1.1m-0.6 0h1.1m0.9 0h1.1m0.4 0h1.1m1.4 0h1.1m21.4 0h1.1m3.4 0h1.1m-0.6 0h1.1m4.9 0h1.1m-0.1 0h1.1m-0.6 0h1.1m1.4 0h1.1m-0.6 0h1.1m-0.6 0h1.1m-0.1 0h1.1m0.4 0h1.1m-0.1 0h1.1m6.4 0h1.1m37.4 0h1.1m-129.1 0.5h1.1m-0.1 0h1.1m1.9 0h1.1m-0.1 0h1.1m2.9 0h1.1m-0.6 0h1.1m5.4 0h1.1m6.9 0h1.1m1.9 0h1.1m-0.6 0h1.1m-0.6 0h1.1m-0.6 0h1.1m-0.6 0h1.1m1.9 0h1.1m4.9 0h1.1m3.4 0h1.1m0.9 0h1.1m8.9 0h1.1m10.4 0h1.1m0.4 0h1.1m4.9 0h1.1m-0.6 0h1.1m3.4 0h1.1m6.9 0h1.1m0.4 0h1.1m35.9 0h1.1m-124.1 0.5h1.1m-0.1 0h1.1m-0.1 0h1.1m-0.6 0h1.1m0.9 0h1.1m0.9 0h1.1m1.4 0h1.1m0.9 0h1.1m-0.6 0h1.1m3.9 0h1.1m-0.1 0h1.1m5.4 0h1.1m5.9 0h1.1m-0.6 0h1.1m9.4 0h1.1m1.9 0h1.1m1.4 0h1.1m3.9 0h1.1m3.9 0h1.1m1.4 0h1.1m3.4 0h1.1m1.4 0h1.1m-0.6 0h1.1m-0.1 0h1.1m2.9 0h1.1m3.4 0h1.1m-0.6 0h1.1m2.9 0h1.1m1.4 0h1.1m15.9 0h1.1m2.4 0h1.1m-107.1 0.5h1.1m11.9 0h1.1m1.9 0h1.1m3.9 0h1.1m1.9 0h1.1m0.4 0h1.1m-0.6 0h1.1m-0.6 0h1.1m0.9 0h1.1m3.4 0h1.1m0.4 0h1.1m17.4 0h1.1m0.9 0h1.1m-0.6 0h1.1m-0.6 0h1.1m10.4 0h1.1m1.4 0h1.1m3.9 0h1.1m0.9 0h1.1m2.4 0h1.1m5.9 0h1.1m30.4 0h1.1m-118.6 0.5h1.1m2.4 0h1.1m4.9 0h1.1m-0.6 0h1.1m-0.1 0h1.1m-0.6 0h1.1m0.9 0h1.1m6.4 0h1.1m0.4 0h1.1m0.4 0h1.1m0.9 0h1.1m-0.6 0h1.1m5.4 0h1.1m-0.1 0h1.1m14.9 0h1.1m13.4 0h1.1m8.9 0h1.1m-0.1 0h1.1m10.4 0h1.1m-89.1 0.5h1.1m-0.6 0h1.1m0.4 0h1.1m3.9 0h1.1m9.4 0h1.1m0.4 0h1.1m3.4 0h1.1m-0.1 0h1.1m0.4 0h1.1m3.4 0h1.1m0.9 0h1.1m2.4 0h1.1m-0.6 0h1.1m-0.1 0h1.1m0.4 0h1.1m3.9 0h1.1m8.4 0h1.1m10.4 0h1.1m0.4 0h1.1m1.4 0h1.1m3.4 0h1.1m-0.6 0h1.1m0.4 0h1.1m-0.1 0h1.1m-0.1 0h1.1m0.4 0h1.1m9.4 0h1.1m2.9 0h1.1m16.4 0h1.1m-110.6 0.5h1.1m-0.1 0h1.1m1.9 0h1.1m3.9 0h1.1m2.9 0h1.1m1.4 0h1.1m0.9 0h1.1m-0.1 0h1.1m1.4 0h1.1m-0.1 0h1.1m2.4 0h1.1m10.9 0h1.1m-0.1 0h1.1m3.4 0h1.1m4.4 0h1.1m0.9 0h1.1m4.4 0h1.1m-0.6 0h1.1m1.9 0h1.1m0.4 0h1.1m0.4 0h1.1m-0.1 0h1.1m3.9 0h1.1m-0.6 0h1.1m0.4 0h1.1m3.4 0h1.1m1.4 0h1.1m15.4 0h1.1m16.4 0h1.1m-111.1 0.5h1.1m3.9 0h1.1m-0.6 0h1.1m-0.6 0h1.1m4.4 0h1.1m3.4 0h1.1m0.4 0h1.1m-0.6 0h1.1m-0.1 0h1.1m0.9 0h1.1m0.4 0h1.1m4.9 0h1.1m2.4 0h1.1m6.9 0h1.1m12.9 0h1.1m1.4 0h1.1m2.4 0h1.1m9.9 0h1.1m0.4 0h1.1m-0.6 0h1.1m-0.1 0h1.1m0.4 0h1.1m-0.1 0h1.1m11.4 0h1.1m11.4 0h1.1m8.9 0h1.1m-116.1 0.5h1.1m1.9 0h1.1m14.4 0h1.1m0.4 0h1.1m0.9 0h1.1m0.9 0h1.1m0.4 0h1.1m1.4 0h1.1m-0.6 0h1.1m-0.1 0h1.1m-0.1 0h1.1m1.9 0h1.1m-0.6 0h1.1m4.9 0h1.1m0.9 0h1.1m0.4 0h1.1m13.4 0h1.1m1.4 0h1.1m2.9 0h1.1m0.9 0h1.1m0.4 0h1.1m0.4 0h1.1m8.4 0h1.1m1.9 0h1.1m4.4 0h1.1m-70.6 0.5h1.1m0.4 0h1.1m1.4 0h1.1m7.9 0h1.1m-0.6 0h1.1m-0.6 0h1.1m2.4 0h1.1m7.9 0h1.1m1.4 0h1.1m6.4 0h1.1m-0.1 0h1.1m-0.1 0h1.1m-0.6 0h1.1m-0.6 0h1.1m8.4 0h1.1m0.4 0h1.1m-0.6 0h1.1m0.9 0h1.1m0.4 0h1.1m1.4 0h1.1m-0.6 0h1.1m0.4 0h1.1m3.4 0h1.1m-0.1 0h1.1m0.4 0h1.1m4.4 0h1.1m-88.6 0.5h1.1m0.4 0h1.1m0.9 0h1.1m0.9 0h1.1m9.4 0h1.1m-0.1 0h1.1m1.4 0h1.1m1.4 0h1.1m22.4 0h1.1m6.4 0h1.1m7.4 0h1.1m1.4 0h1.1m0.4 0h1.1m1.9 0h1.1m0.4 0h1.1m0.4 0h1.1m-0.6 0h1.1m1.4 0h1.1m-0.6 0h1.1m-0.1 0h1.1m-0.1 0h1.1m4.9 0h1.1m-0.1 0h1.1m9.9 0h1.1m-96.1 0.5h1.1m0.4 0h1.1m11.4 0h1.1m-0.1 0h1.1m1.9 0h1.1m2.4 0h1.1m2.9 0h1.1m0.4 0h1.1m-0.6 0h1.1m2.4 0h1.1m-0.6 0h1.1m4.4 0h1.1m0.4 0h1.1m0.4 0h1.1m0.4 0h1.1m-0.1 0h1.1m17.4 0h1.1m1.9 0h1.1m1.4 0h1.1m-0.6 0h1.1m0.9 0h1.1m3.9 0h1.1m-0.1 0h1.1m0.4 0h1.1m2.9 0h1.1m-0.1 0h1.1m1.4 0h1.1m-0.1 0h1.1m1.9 0h1.1m0.4 0h1.1m-62.6 0.5h1.1m1.4 0h1.1m2.4 0h1.1m1.4 0h1.1m-0.1 0h1.1m-0.6 0h1.1m1.9 0h1.1m0.9 0h1.1m4.9 0h1.1m10.9 0h1.1m1.9 0h1.1m0.4 0h1.1m0.4 0h1.1m1.9 0h1.1m2.9 0h1.1m-0.6 0h1.1m-0.6 0h1.1m-0.6 0h1.1m-0.6 0h1.1m-0.6 0h1.1m0.9 0h1.1m3.9 0h1.1m-0.6 0h1.1m11.9 0h1.1m11.9 0h1.1m2.4 0h1.1m-106.1 0.5h1.1m5.4 0h1.1m-0.1 0h1.1m5.9 0h1.1m4.9 0h1.1m0.4 0h1.1m9.4 0h1.1m11.4 0h1.1m9.4 0h1.1m0.9 0h1.1m-0.6 0h1.1m5.9 0h1.1m4.4 0h1.1m-0.6 0h1.1m1.4 0h1.1m6.4 0h1.1m-0.6 0h1.1m-88.6 0.5h1.1m-0.1 0h1.1m14.9 0h1.1m1.4 0h1.1m-0.6 0h1.1m10.4 0h1.1m1.9 0h1.1m0.9 0h1.1m14.4 0h1.1m14.4 0h1.1m1.9 0h1.1m-0.6 0h1.1m2.4 0h1.1m-0.1 0h1.1m0.4 0h1.1m-0.6 0h1.1m-0.6 0h1.1m1.4 0h1.1m4.4 0h1.1m4.9 0h1.1m1.9 0h1.1m10.4 0h1.1m-107.6 0.5h1.1m5.4 0h1.1m1.9 0h1.1m7.9 0h1.1m-0.6 0h1.1m0.9 0h1.1m1.4 0h1.1m-0.6 0h1.1m0.9 0h1.1m-0.6 0h1.1m1.4 0h1.1m0.4 0h1.1m2.9 0h1.1m-0.6 0h1.1m16.4 0h1.1m0.9 0h1.1m9.9 0h1.1m-0.6 0h1.1m0.4 0h1.1m0.4 0h1.1m-0.1 0h1.1m0.9 0h1.1m6.4 0h1.1m-0.6 0h1.1m-0.6 0h1.1m-0.6 0h1.1m3.4 0h1.1m-0.6 0h1.1m0.9 0h1.1m-91.1 0.5h1.1m0.9 0h1.1m2.9 0h1.1m-0.1 0h1.1m6.9 0h1.1m4.9 0h1.1m-0.1 0h1.1m14.4 0h1.1m-0.1 0h1.1m13.9 0h1.1m3.9 0h1.1m0.9 0h1.1m2.4 0h1.1m5.4 0h1.1m-0.1 0h1.1m0.9 0h1.1m-0.6 0h1.1m-0.6 0h1.1m2.9 0h1.1m1.4 0h1.1m-0.6 0h1.1m1.4 0h1.1m2.4 0h1.1m1.9 0h1.1m-91.1 0.5h1.1m-0.6 0h1.1m-0.1 0h1.1m0.9 0h1.1m0.4 0h1.1m2.9 0h1.1m17.9 0h1.1m-0.6 0h1.1m1.4 0h1.1m34.4 0h1.1m1.4 0h1.1m2.4 0h1.1m0.4 0h1.1m0.4 0h1.1m0.9 0h1.1m2.9 0h1.1m-0.6 0h1.1m1.9 0h1.1m-0.6 0h1.1m-0.1 0h1.1m10.9 0h1.1m-98.1 0.5h1.1m-0.6 0h1.1m27.9 0h1.1m2.9 0h1.1m3.9 0h1.1m0.9 0h1.1m11.4 0h1.1m8.4 0h1.1m-0.6 0h1.1m-0.1 0h1.1m2.4 0h1.1m6.9 0h1.1m0.4 0h1.1m-0.6 0h1.1m-0.6 0h1.1m-0.6 0h1.1m-0.6 0h1.1m-0.6 0h1.1m-0.6 0h1.1m-0.1 0h1.1m1.9 0h1.1m9.4 0h1.1m7.4 0h1.1m-103.1 0.5h1.1m-0.6 0h1.1m-0.1 0h1.1m0.9 0h1.1m1.4 0h1.1m9.9 0h1.1m-0.6 0h1.1m2.4 0h1.1m1.4 0h1.1m-0.6 0h1.1m-0.6 0h1.1m3.4 0h1.1m0.4 0h1.1m0.9 0h1.1m1.9 0h1.1m9.9 0h1.1m8.4 0h1.1m2.4 0h1.1m2.4 0h1.1m0.9 0h1.1m2.4 0h1.1m4.9 0h1.1m0.9 0h1.1m-0.1 0h1.1m1.4 0h1.1m0.9 0h1.1m1.4 0h1.1m4.4 0h1.1m-83.6 0.5h1.1m7.4 0h1.1m-0.6 0h1.1m5.9 0h1.1m13.4 0h1.1m5.9 0h1.1m7.9 0h1.1m-0.1 0h1.1m-0.6 0h1.1m4.9 0h1.1m9.4 0h1.1m1.4 0h1.1m0.4 0h1.1m-0.1 0h1.1m-0.1 0h1.1m-79.1 0.5h1.1m0.4 0h1.1m1.9 0h1.1m2.9 0h1.1m3.4 0h1.1m0.9 0h1.1m3.4 0h1.1m0.9 0h1.1m-0.1 0h1.1m4.9 0h1.1m9.9 0h1.1m10.4 0h1.1m2.4 0h1.1m5.9 0h1.1m-0.1 0h1.1m0.4 0h1.1m-0.6 0h1.1m0.4 0h1.1m5.9 0h1.1m0.4 0h1.1m-0.6 0h1.1m1.4 0h1.1m-0.6 0h1.1m4.9 0h1.1m13.9 0h1.1m-99.1 0.5h1.1m10.9 0h1.1m3.4 0h1.1m-0.6 0h1.1m1.4 0h1.1m-0.6 0h1.1m9.9 0h1.1m0.9 0h1.1m2.4 0h1.1m1.4 0h1.1m31.4 0h1.1m-0.1 0h1.1m-0.1 0h1.1m-0.1 0h1.1m0.4 0h1.1m0.4 0h1.1m-0.6 0h1.1m-0.1 0h1.1m0.4 0h1.1m4.9 0h1.1m8.4 0h1.1m-0.6 0h1.1m-69.1 0.5h1.1m0.9 0h1.1m-0.1 0h1.1m6.4 0h1.1m2.4 0h1.1m16.9 0h1.1m2.4 0h1.1m3.4 0h1.1m2.4 0h1.1m0.9 0h1.1m-0.6 0h1.1m3.4 0h1.1m1.4 0h1.1m2.4 0h1.1m-0.1 0h1.1m1.4 0h1.1m13.9 0h1.1m-91.6 0.5h1.1m0.9 0h1.1m5.4 0h1.1m-0.6 0h1.1m4.4 0h1.1m4.9 0h1.1m2.4 0h1.1m20.9 0h1.1m1.9 0h1.1m9.9 0h1.1m-0.1 0h1.1m-0.6 0h1.1m-0.6 0h1.1m0.4 0h1.1m-0.6 0h1.1m9.9 0h1.1m5.9 0h1.1m-80.6 0.5h1.1m0.9 0h1.1m-0.1 0h1.1m-0.6 0h1.1m0.9 0h1.1m-0.1 0h1.1m17.9 0h1.1m12.4 0h1.1m6.4 0h1.1m0.4 0h1.1m11.4 0h1.1m10.4 0h1.1m4.4 0h1.1m-92.6 0.5h1.1m12.4 0h1.1m1.9 0h1.1m9.4 0h1.1m2.4 0h1.1m3.4 0h1.1m0.9 0h1.1m17.4 0h1.1m6.4 0h1.1m5.9 0h1.1m0.9 0h1.1m-0.6 0h1.1m-0.6 0h1.1m0.4 0h1.1m0.9 0h1.1m0.4 0h1.1m8.4 0h1.1m-84.6 0.5h1.1m4.9 0h1.1m-0.6 0h1.1m1.9 0h1.1m-0.1 0h1.1m-0.1 0h1.1m0.4 0h1.1m6.9 0h1.1m4.4 0h1.1m28.9 0h1.1m2.4 0h1.1m7.9 0h1.1m-0.1 0h1.1m-0.6 0h1.1m-0.6 0h1.1m1.9 0h1.1m-0.6 0h1.1m2.4 0h1.1m-84.6 0.5h1.1m1.4 0h1.1m-0.6 0h1.1m9.9 0h1.1m-0.1 0h1.1m-0.6 0h1.1m0.9 0h1.1m0.4 0h1.1m0.9 0h1.1m14.4 0h1.1m25.4 0h1.1m4.4 0h1.1m2.4 0h1.1m-0.6 0h1.1m4.4 0h1.1m0.9 0h1.1m2.4 0h1.1m3.4 0h1.1m-0.1 0h1.1m2.4 0h1.1m6.4 0h1.1m-93.1 0.5h1.1m1.4 0h1.1m-0.1 0h1.1m8.4 0h1.1m1.9 0h1.1m6.9 0h1.1m21.4 0h1.1m15.4 0h1.1m-0.1 0h1.1m1.9 0h1.1m-0.1 0h1.1m3.4 0h1.1m-0.6 0h1.1m0.9 0h1.1m1.9 0h1.1m1.9 0h1.1m3.4 0h1.1m-94.6 0.5h1.1m5.4 0h1.1m-0.1 0h1.1m6.4 0h1.1m-0.1 0h1.1m-0.6 0h1.1m-0.1 0h1.1m2.4 0h1.1m8.9 0h1.1m0.4 0h1.1m-0.1 0h1.1m9.4 0h1.1m4.4 0h1.1m0.9 0h1.1m7.9 0h1.1m5.9 0h1.1m2.4 0h1.1m0.4 0h1.1m3.9 0h1.1m-0.6 0h1.1m8.4 0h1.1m-86.1 0.5h1.1m2.9 0h1.1m4.4 0h1.1m0.9 0h1.1m-0.6 0h1.1m0.9 0h1.1m0.4 0h1.1m-0.6 0h1.1m-0.6 0h1.1m0.4 0h1.1m12.4 0h1.1m3.9 0h1.1m4.4 0h1.1m22.9 0h1.1m2.4 0h1.1m0.4 0h1.1m0.9 0h1.1m-0.1 0h1.1m8.9 0h1.1m0.9 0h1.1m7.4 0h1.1m-94.6 0.5h1.1m6.4 0h1.1m1.4 0h1.1m2.4 0h1.1m2.4 0h1.1m0.4 0h1.1m1.9 0h1.1m5.9 0h1.1m0.4 0h1.1m4.9 0h1.1m7.4 0h1.1m3.4 0h1.1m0.9 0h1.1m10.9 0h1.1m12.4 0h1.1m-0.6 0h1.1m1.4 0h1.1m0.9 0h1.1m0.9 0h1.1m-0.6 0h1.1m-0.6 0h1.1m0.4 0h1.1m-89.1 0.5h1.1m4.9 0h1.1m10.4 0h1.1m1.4 0h1.1m1.9 0h1.1m9.9 0h1.1m-0.1 0h1.1m1.9 0h1.1m1.4 0h1.1m18.9 0h1.1m11.4 0h1.1m-0.1 0h1.1m-0.1 0h1.1m-0.1 0h1.1m1.9 0h1.1m0.9 0h1.1m-0.6 0h1.1m6.4 0h1.1m-82.1 0.5h1.1m1.9 0h1.1m1.9 0h1.1m7.9 0h1.1m-0.6 0h1.1m4.4 0h1.1m8.4 0h1.1m1.4 0h1.1m6.4 0h1.1m7.4 0h1.1m15.4 0h1.1m2.4 0h1.1m4.4 0h1.1m2.9 0h1.1m-82.6 0.5h1.1m3.9 0h1.1m5.4 0h1.1m-0.6 0h1.1m-0.6 0h1.1m2.9 0h1.1m-0.1 0h1.1m7.9 0h1.1m-0.1 0h1.1m-0.1 0h1.1m6.4 0h1.1m3.4 0h1.1m16.4 0h1.1m3.9 0h1.1m-0.6 0h1.1m1.4 0h1.1m5.4 0h1.1m2.9 0h1.1m5.9 0h1.1m1.4 0h1.1m-0.1 0h1.1m-87.6 0.5h1.1m4.9 0h1.1m0.9 0h1.1m8.9 0h1.1m1.4 0h1.1m4.4 0h1.1m-0.6 0h1.1m2.9 0h1.1m5.9 0h1.1m-0.6 0h1.1m1.4 0h1.1m-0.1 0h1.1m13.4 0h1.1m-0.1 0h1.1m8.9 0h1.1m-0.6 0h1.1m0.9 0h1.1m0.9 0h1.1m-0.6 0h1.1m0.4 0h1.1m-0.1 0h1.1m0.9 0h1.1m0.9 0h1.1m-0.1 0h1.1m-0.6 0h1.1m1.4 0h1.1m-85.1 0.5h1.1m1.4 0h1.1m5.9 0h1.1m3.4 0h1.1m5.9 0h1.1m-0.6 0h1.1m0.4 0h1.1m7.9 0h1.1m7.4 0h1.1m18.9 0h1.1m2.9 0h1.1m1.9 0h1.1m-0.6 0h1.1m2.4 0h1.1m1.4 0h1.1m0.9 0h1.1m-0.6 0h1.1m8.9 0h1.1m-88.6 0.5h1.1m3.4 0h1.1m0.4 0h1.1m0.4 0h1.1m2.9 0h1.1m17.4 0h1.1m-0.1 0h1.1m-0.1 0h1.1m2.9 0h1.1m-0.6 0h1.1m-0.1 0h1.1m-0.1 0h1.1m0.9 0h1.1m-0.6 0h1.1m0.4 0h1.1m6.9 0h1.1m22.4 0h1.1m1.9 0h1.1m0.4 0h1.1m-0.6 0h1.1m7.9 0h1.1m-90.1 0.5h1.1m3.4 0h1.1m-0.6 0h1.1m4.4 0h1.1m12.9 0h1.1m1.9 0h1.1m-0.6 0h1.1m-0.6 0h1.1m15.4 0h1.1m0.4 0h1.1m9.9 0h1.1m7.4 0h1.1m2.9 0h1.1m-0.1 0h1.1m9.4 0h1.1m2.9 0h1.1m0.4 0h1.1m-85.6 0.5h1.1m-0.6 0h1.1m2.9 0h1.1m-0.1 0h1.1m-0.6 0h1.1m10.9 0h1.1m2.9 0h1.1m0.9 0h1.1m2.9 0h1.1m9.4 0h1.1m-0.1 0h1.1m-0.1 0h1.1m2.4 0h1.1m-0.6 0h1.1m25.4 0h1.1m1.9 0h1.1m-75.1 0.5h1.1m3.4 0h1.1m3.9 0h1.1m1.4 0h1.1m0.9 0h1.1m5.4 0h1.1m9.4 0h1.1m0.9 0h1.1m1.9 0h1.1m9.9 0h1.1m3.4 0h1.1m9.4 0h1.1m8.4 0h1.1m-0.6 0h1.1m-57.6 0.5h1.1m-0.6 0h1.1m5.4 0h1.1m0.4 0h1.1m-0.1 0h1.1m1.9 0h1.1m-0.6 0h1.1m3.4 0h1.1m4.9 0h1.1m2.9 0h1.1m-0.6 0h1.1m24.9 0h1.1m9.4 0h1.1m-0.1 0h1.1m-73.1 0.5h1.1m2.4 0h1.1m0.4 0h1.1m7.9 0h1.1m-0.1 0h1.1m11.9 0h1.1m-0.6 0h1.1m15.4 0h1.1m7.4 0h1.1m7.9 0h1.1m-0.1 0h1.1m-0.6 0h1.1m-0.6 0h1.1m5.4 0h1.1m-81.6 0.5h1.1m-0.1 0h1.1m16.9 0h1.1m8.9 0h1.1m0.4 0h1.1m4.9 0h1.1m-0.1 0h1.1m0.4 0h1.1m3.4 0h1.1m-0.1 0h1.1m-0.1 0h1.1m2.4 0h1.1m3.4 0h1.1m-0.6 0h1.1m-0.1 0h1.1m14.4 0h1.1m2.9 0h1.1m-74.6 0.5h1.1m4.9 0h1.1m5.4 0h1.1m10.4 0h1.1m3.9 0h1.1m3.9 0h1.1m2.4 0h1.1m6.9 0h1.1m12.4 0h1.1m0.9 0h1.1m11.9 0h1.1m-69.6 0.5h1.1m5.4 0h1.1m4.4 0h1.1m-0.6 0h1.1m-0.1 0h1.1m2.9 0h1.1m0.4 0h1.1m4.9 0h1.1m1.9 0h1.1m-0.6 0h1.1m1.9 0h1.1m0.9 0h1.1m-0.1 0h1.1m-0.6 0h1.1m-0.6 0h1.1m0.4 0h1.1m-0.6 0h1.1m31.4 0h1.1m-76.6 0.5h1.1m3.9 0h1.1m7.9 0h1.1m4.9 0h1.1m1.9 0h1.1m2.9 0h1.1m0.9 0h1.1m5.4 0h1.1m0.4 0h1.1m0.9 0h1.1m-0.6 0h1.1m-0.6 0h1.1m1.9 0h1.1m-0.1 0h1.1m0.4 0h1.1m21.9 0h1.1m-0.6 0h1.1m5.4 0h1.1m-0.6 0h1.1m-0.1 0h1.1m-0.6 0h1.1m-71.6 0.5h1.1m14.4 0h1.1m-0.1 0h1.1m0.4 0h1.1m0.9 0h1.1m-0.1 0h1.1m5.4 0h1.1m-0.1 0h1.1m2.4 0h1.1m-0.1 0h1.1m-0.6 0h1.1m3.4 0h1.1m-0.1 0h1.1m27.9 0h1.1m-74.6 0.5h1.1m15.9 0h1.1m0.4 0h1.1m1.4 0h1.1m-0.6 0h1.1m1.4 0h1.1m2.9 0h1.1m-0.6 0h1.1m4.9 0h1.1m0.9 0h1.1m4.9 0h1.1m2.4 0h1.1m18.4 0h1.1m0.9 0h1.1m-0.1 0h1.1m-44.6 0.5h1.1m2.9 0h1.1m2.9 0h1.1m7.9 0h1.1m2.4 0h1.1m24.4 0h1.1m-73.6 0.5h1.1m17.9 0h1.1m1.4 0h1.1m0.9 0h1.1m2.4 0h1.1m0.9 0h1.1m0.9 0h1.1m1.4 0h1.1m-0.6 0h1.1m-0.6 0h1.1m2.4 0h1.1m1.4 0h1.1m1.4 0h1.1m4.9 0h1.1m-47.6 0.5h1.1m5.4 0h1.1m15.9 0h1.1m1.4 0h1.1m-0.6 0h1.1m-0.6 0h1.1m11.4 0h1.1m-0.1 0h1.1m-0.6 0h1.1m4.9 0h1.1m7.9 0h1.1m12.9 0h1.1m-50.1 0.5h1.1m-0.6 0h1.1m-0.6 0h1.1m0.9 0h1.1m4.4 0h1.1m3.9 0h1.1m-0.6 0h1.1m0.4 0h1.1m0.9 0h1.1m9.9 0h1.1m1.9 0h1.1m10.9 0h1.1m-47.1 0.5h1.1m-0.1 0h1.1m0.4 0h1.1m-0.1 0h1.1m-0.1 0h1.1m0.4 0h1.1m2.9 0h1.1m2.9 0h1.1m2.4 0h1.1m-0.1 0h1.1m12.4 0h1.1m0.4 0h1.1m-38.6 0.5h1.1m2.9 0h1.1m0.9 0h1.1m-0.1 0h1.1m1.9 0h1.1m3.4 0h1.1m-0.1 0h1.1m0.4 0h1.1m-0.6 0h1.1m0.4 0h1.1m0.9 0h1.1m0.4 0h1.1m3.4 0h1.1m-43.1 0.5h1.1m-0.1 0h1.1m3.4 0h1.1m15.9 0h1.1m-0.6 0h1.1m8.4 0h1.1m2.4 0h1.1m0.9 0h1.1m-0.1 0h1.1m-0.6 0h1.1m0.9 0h1.1m8.4 0h1.1m5.4 0h1.1m7.4 0h1.1m-0.1 0h1.1m-67.6 0.5h1.1m-0.1 0h1.1m6.9 0h1.1m5.9 0h1.1m-0.1 0h1.1m-0.1 0h1.1m1.4 0h1.1m1.4 0h1.1m-0.1 0h1.1m-0.1 0h1.1m0.9 0h1.1m3.9 0h1.1m-0.6 0h1.1m4.4 0h1.1m-0.6 0h1.1m-0.6 0h1.1m5.9 0h1.1m3.4 0h1.1m-51.6 0.5h1.1m0.9 0h1.1m-0.6 0h1.1m18.9 0h1.1m-0.1 0h1.1m0.4 0h1.1m-0.6 0h1.1m2.4 0h1.1m0.4 0h1.1m1.9 0h1.1m1.9 0h1.1m-0.6 0h1.1m9.4 0h1.1m15.9 0h1.1m-66.1 0.5h1.1m8.9 0h1.1m3.4 0h1.1m7.9 0h1.1m3.4 0h1.1m0.9 0h1.1m0.9 0h1.1m1.9 0h1.1m-0.6 0h1.1m1.9 0h1.1m-0.6 0h1.1m-0.6 0h1.1m-0.6 0h1.1m11.9 0h1.1m-51.6 0.5h1.1m2.4 0h1.1m3.9 0h1.1m10.4 0h1.1m-0.1 0h1.1m1.9 0h1.1m-0.6 0h1.1m-0.1 0h1.1m2.9 0h1.1m-0.6 0h1.1m0.4 0h1.1m0.9 0h1.1m-0.6 0h1.1m-0.1 0h1.1m1.4 0h1.1m-0.6 0h1.1m14.4 0h1.1m-0.1 0h1.1m-50.6 0.5h1.1m14.4 0h1.1m3.4 0h1.1m3.9 0h1.1m-0.6 0h1.1m-0.6 0h1.1m-0.6 0h1.1m-0.6 0h1.1m0.4 0h1.1m1.4 0h1.1m0.9 0h1.1m14.4 0h1.1m3.4 0h1.1m-44.6 0.5h1.1m-0.6 0h1.1m1.4 0h1.1m5.4 0h1.1m-0.1 0h1.1m-0.6 0h1.1m-0.1 0h1.1m-0.6 0h1.1m-0.6 0h1.1m-0.1 0h1.1m4.9 0h1.1m2.9 0h1.1m4.9 0h1.1m1.9 0h1.1m-45.1 0.5h1.1m7.4 0h1.1m2.9 0h1.1m1.9 0h1.1m-0.1 0h1.1m-0.6 0h1.1m1.9 0h1.1m0.4 0h1.1m2.4 0h1.1m-0.1 0h1.1m-0.6 0h1.1m0.9 0h1.1m-0.6 0h1.1m-0.6 0h1.1m0.9 0h1.1m-0.6 0h1.1m0.4 0h1.1m4.4 0h1.1m-0.1 0h1.1m5.4 0h1.1m-34.1 0.5h1.1m4.9 0h1.1m2.4 0h1.1m0.4 0h1.1m2.4 0h1.1m-0.1 0h1.1m-0.6 0h1.1m0.4 0h1.1m-0.6 0h1.1m-0.1 0h1.1m4.9 0h1.1m5.9 0h1.1m-42.1 0.5h1.1m-0.6 0h1.1m3.4 0h1.1m11.9 0h1.1m0.9 0h1.1m-0.6 0h1.1m0.4 0h1.1m0.9 0h1.1m-0.6 0h1.1m-0.1 0h1.1m0.4 0h1.1m-0.6 0h1.1m-0.1 0h1.1m-0.6 0h1.1m-0.1 0h1.1m0.9 0h1.1m-34.1 0.5h1.1m-0.1 0h1.1m3.9 0h1.1m9.9 0h1.1m0.9 0h1.1m-0.6 0h1.1m2.4 0h1.1m-0.1 0h1.1m-0.6 0h1.1m-0.6 0h1.1m-0.1 0h1.1m-0.6 0h1.1m-0.1 0h1.1m-0.6 0h1.1m-0.6 0h1.1m-0.6 0h1.1m-0.6 0h1.1m2.4 0h1.1m-0.6 0h1.1m-0.1 0h1.1m0.9 0h1.1m10.4 0h1.1m-48.6 0.5h1.1m3.4 0h1.1m0.4 0h1.1m-0.1 0h1.1m0.4 0h1.1m-0.1 0h1.1m2.9 0h1.1m5.4 0h1.1m-0.6 0h1.1m1.4 0h1.1m0.4 0h1.1m-0.6 0h1.1m-0.6 0h1.1m0.4 0h1.1m-0.6 0h1.1m1.4 0h1.1m5.9 0h1.1m-45.1 0.5h1.1m-0.6 0h1.1m23.4 0h1.1m-0.1 0h1.1m2.4 0h1.1m0.9 0h1.1m0.4 0h1.1m-0.1 0h1.1m-0.6 0h1.1m-0.6 0h1.1m-0.6 0h1.1m2.4 0h1.1m2.4 0h1.1m3.9 0h1.1m-0.6 0h1.1m0.4 0h1.1m-46.1 0.5h1.1m-0.6 0h1.1m-0.1 0h1.1m6.4 0h1.1m-0.1 0h1.1m12.4 0h1.1m-0.6 0h1.1m-0.6 0h1.1m4.9 0h1.1m3.9 0h1.1m-0.6 0h1.1m3.9 0h1.1m5.4 0h1.1m-51.6 0.5h1.1m15.9 0h1.1m0.4 0h1.1m-0.1 0h1.1m1.9 0h1.1m1.4 0h1.1m1.4 0h1.1m-0.6 0h1.1m-0.6 0h1.1m-0.6 0h1.1m-0.1 0h1.1m1.9 0h1.1m0.4 0h1.1m2.9 0h1.1m-33.6 0.5h1.1m3.4 0h1.1m2.4 0h1.1m-0.6 0h1.1m6.4 0h1.1m1.9 0h1.1m-0.1 0h1.1m0.4 0h1.1m-0.1 0h1.1m-0.6 0h1.1m0.9 0h1.1m-0.1 0h1.1m1.4 0h1.1m-0.6 0h1.1m-0.6 0h1.1m0.4 0h1.1m-16.6 0.5h1.1m-0.6 0h1.1m1.4 0h1.1m-0.6 0h1.1m-0.1 0h1.1m0.4 0h1.1m0.4 0h1.1m-0.6 0h1.1m4.9 0h1.1m1.9 0h1.1m2.4 0h1.1m-31.6 0.5h1.1m1.4 0h1.1m-0.6 0h1.1m5.4 0h1.1m3.4 0h1.1m1.9 0h1.1m-0.1 0h1.1m-0.1 0h1.1m-0.6 0h1.1m-0.1 0h1.1m7.4 0h1.1m0.4 0h1.1m-41.1 0.5h1.1m-0.6 0h1.1m3.9 0h1.1m2.4 0h1.1m4.4 0h1.1m2.4 0h1.1m3.4 0h1.1m1.9 0h1.1m1.9 0h1.1m-0.6 0h1.1m0.4 0h1.1m-0.6 0h1.1m3.4 0h1.1m5.4 0h1.1m-36.1 0.5h1.1m3.9 0h1.1m0.4 0h1.1m8.4 0h1.1m0.4 0h1.1m7.4 0h1.1m3.9 0h1.1m-38.6 0.5h1.1m10.9 0h1.1m-0.1 0h1.1m-0.1 0h1.1m-0.1 0h1.1m2.4 0h1.1m-0.6 0h1.1m0.9 0h1.1m4.4 0h1.1m0.9 0h1.1m1.4 0h1.1m-0.6 0h1.1m-27.1 0.5h1.1m7.9 0h1.1m1.4 0h1.1m1.9 0h1.1m3.4 0h1.1m3.4 0h1.1m-0.1 0h1.1m-0.6 0h1.1m-0.6 0h1.1m-0.6 0h1.1m5.4 0h1.1m-39.6 0.5h1.1m4.9 0h1.1m4.4 0h1.1m0.9 0h1.1m3.4 0h1.1m-0.6 0h1.1m0.9 0h1.1m-0.6 0h1.1m2.4 0h1.1m5.9 0h1.1m0.9 0h1.1m-0.1 0h1.1m1.9 0h1.1m-28.1 0.5h1.1m0.9 0h1.1m1.4 0h1.1m0.9 0h1.1m2.9 0h1.1m-0.6 0h1.1m6.4 0h1.1m-0.1 0h1.1m-0.6 0h1.1m-21.6 0.5h1.1m0.4 0h1.1m0.4 0h1.1m6.4 0h1.1m-4.1 0.5h1.1m6.9 0h1.1m2.9 0h1.1m1.4 0h1.1m0.4 0h1.1m-34.6 0.5h1.1m17.9 0h1.1m1.9 0h1.1m-0.1 0h1.1m-0.1 0h1.1m2.9 0h1.1m0.4 0h1.1m1.9 0h1.1m0.9 0h1.1m1.9 0h1.1m-37.1 0.5h1.1m-0.6 0h1.1m18.9 0h1.1m1.9 0h1.1m-0.6 0h1.1m0.4 0h1.1m-0.1 0h1.1m2.4 0h1.1m-0.1 0h1.1m1.9 0h1.1m-0.1 0h1.1m-36.6 0.5h1.1m0.4 0h1.1m0.9 0h1.1m12.9 0h1.1m1.4 0h1.1m0.4 0h1.1m7.4 0h1.1m-29.1 0.5h1.1m14.9 0h1.1m-0.1 0h1.1m2.4 0h1.1m1.4 0h1.1m-0.6 0h1.1m-0.6 0h1.1m-23.1 0.5h1.1m10.4 0h1.1m6.9 0h1.1m0.4 0h1.1m0.9 0h1.1m-0.1 0h1.1m4.4 0h1.1m-6.1 0.5h1.1m4.4 0h1.1m-9.1 0.5h1.1m0.9 0h1.1m0.4 0h1.1m2.4 0h1.1m-0.1 0h1.1m-26.6 0.5h1.1m1.9 0h1.1m7.4 0h1.1m0.4 0h1.1m3.4 0h1.1m6.4 0h1.1m-15.6 0.5h1.1m5.4 0h1.1m1.9 0h1.1m0.9 0h1.1m-0.1 0h1.1m-12.6 0.5h1.1m5.9 0h1.1m2.4 0h1.1m-3.1 0.5h1.1m-15.1 0.5h1.1m5.9 0h1.1m-19.1 0.5h1.1m22.4 0h1.1m-0.1 0h1.1m-26.1 0.5h1.1m4.4 0h1.1m7.4 0h1.1m4.9 0h1.1m1.9 0h1.1m-0.1 0h1.1m-2.6 0.5h1.1m-17.1 0.5h1.1m12.4 0h1.1m-0.1 0h1.1m-0.1 0h1.1m-22.6 0.5h1.1m16.9 0h1.1m0.4 0h1.1m0.4 0h1.1m-6.1 0.5h1.1m1.9 0h1.1m-18.1 0.5h1.1m9.9 0h1.1m4.4 0h1.1m-18.6 0.5h1.1m12.4 0h1.1m0.9 0h1.1m-15.6 0.5h1.1m-0.6 0h1.1m1.4 0h1.1m2.4 0.5h1.1m4.4 0h1.1m-8.1 1h1.1m5.9 0h1.1m-3.1 0.5h1.1m-3.1 1h1.1m0.4 0h1.1m-7.6 0.5h1.1m2.4 0.5h1.1m-2.1 0.5h1.1" stroke="#0a0a0a" stroke-width="1.1" fill="none" transform="translate(0 0.5)"/>
<path d="M54.5 449.5h1.2m15.3 0h1.2m4.3 0h1.2m4.3 0h1.2m4.8 0h1.2m0.3 0h1.2m-0.7 0h1.2m-0.7 0h1.2m1.3 0h1.2m11.8 0h1.2m3.8 0h1.2m6.3 0h1.2m2.8 0h1.2m-0.7 0h1.2m0.8 0h1.2m0.8 0h1.2m-0.2 0h1.2m0.3 0h1.2m3.3 0h1.2m-0.7 0h1.2m-0.7 0h1.2m0.8 0h1.2m-0.2 0h1.2m-0.7 0h1.2m0.8 0h1.2m-0.2 0h1.2m1.3 0h1.2m-0.7 0h1.2m-0.7 0h1.2m2.8 0h1.2m-0.2 0h1.2m0.8 0h1.2m3.3 0h1.2m0.8 0h1.2m-0.2 0h1.2m1.3 0h1.2m-0.7 0h1.2m3.3 0h1.2m-91.7 0.5h1.2m-0.2 0h1.2m3.8 0h1.2m3.3 0h1.2m0.3 0h1.2m2.8 0h1.2m-0.7 0h1.2m5.8 0h1.2m0.8 0h1.2m9.8 0h1.2m6.3 0h1.2m0.3 0h1.2m1.3 0h1.2m-0.7 0h1.2m-0.7 0h1.2m-0.7 0h1.2m1.3 0h1.2m-0.2 0h1.2m-0.2 0h1.2m-0.7 0h1.2m-0.7 0h1.2m-0.7 0h1.2m-0.2 0h1.2m2.3 0h1.2m0.3 0h1.2m-0.7 0h1.2m-0.7 0h1.2m-0.7 0h1.2m-0.7 0h1.2m-0.2 0h1.2m1.3 0h1.2m-0.7 0h1.2m-0.7 0h1.2m-0.2 0h1.2m-0.2 0h1.2m-0.7 0h1.2m-0.2 0h1.2m-0.7 0h1.2m1.8 0h1.2m-0.7 0h1.2m4.3 0h1.2m-0.2 0h1.2m5.8 0h1.2m-0.2 0h1.2m-87.7 0.5h1.2m9.3 0h1.2m1.8 0h1.2m6.8 0h1.2m2.8 0h1.2m-0.7 0h1.2m2.8 0h1.2m3.8 0h1.2m2.3 0h1.2m-0.2 0h1.2m-0.7 0h1.2m0.8 0h1.2m2.3 0h1.2m-0.7 0h1.2m0.8 0h1.2m-0.2 0h1.2m-0.2 0h1.2m-0.2 0h1.2m-0.7 0h1.2m-0.7 0h1.2m-0.7 0h1.2m-0.7 0h1.2m-0.7 0h1.2m-0.7 0h1.2m-0.7 0h1.2m2.3 0h1.2m-0.2 0h1.2m-0.2 0h1.2m-0.7 0h1.2m1.8 0h1.2m-0.7 0h1.2m0.3 0h1.2m-0.2 0h1.2m0.8 0h1.2m-0.7 0h1.2m-0.2 0h1.2m-0.7 0h1.2m4.8 0h1.2m0.3 0h1.2m1.3 0h1.2m1.3 0h1.2m-0.7 0h1.2m-0.7 0h1.2m-0.2 0h1.2m-0.2 0h1.2m-109.2 0.5h1.2m1.8 0h1.2m2.3 0h1.2m14.8 0h1.2m5.3 0h1.2m-0.2 0h1.2m-0.2 0h1.2m-0.7 0h1.2m9.3 0h1.2m4.8 0h1.2m2.8 0h1.2m9.3 0h1.2m1.8 0h1.2m-0.2 0h1.2m-0.7 0h1.2m0.8 0h1.2m0.3 0h1.2m-0.2 0h1.2m1.3 0h1.2m0.3 0h1.2m1.3 0h1.2m-0.7 0h1.2m0.3 0h1.2m-0.7 0h1.2m-0.2 0h1.2m0.3 0h1.2m-0.2 0h1.2m-0.2 0h1.2m-0.7 0h1.2m-0.7 0h1.2m-0.7 0h1.2m-0.7 0h1.2m0.8 0h1.2m-0.7 0h1.2m-0.7 0h1.2m-0.2 0h1.2m0.8 0h1.2m0.8 0h1.2m0.3 0h1.2m-0.7 0h1.2m-0.7 0h1.2m-0.7 0h1.2m-0.2 0h1.2m-0.7 0h1.2m-0.2 0h1.2m2.3 0h1.2m0.8 0h1.2m-0.7 0h1.2m-0.7 0h1.2m-99.2 0.5h1.2m9.8 0h1.2m8.8 0h1.2m-0.7 0h1.2m0.8 0h1.2m0.8 0h1.2m0.3 0h1.2m2.3 0h1.2m2.3 0h1.2m1.3 0h1.2m-0.7 0h1.2m3.8 0h1.2m1.8 0h1.2m-0.2 0h1.2m3.8 0h1.2m-0.2 0h1.2m-0.7 0h1.2m-0.7 0h1.2m0.3 0h1.2m-0.7 0h1.2m1.3 0h1.2m-0.7 0h1.2m-0.7 0h1.2m3.3 0h1.2m-0.2 0h1.2m-0.2 0h1.2m-0.2 0h1.2m-0.2 0h1.2m0.3 0h1.2m1.8 0h1.2m2.8 0h1.2m0.3 0h1.2m-0.2 0h1.2m-0.7 0h1.2m4.8 0h1.2m-0.7 0h1.2m-0.7 0h1.2m1.3 0h1.2m2.3 0h1.2m-0.7 0h1.2m-0.7 0h1.2m0.8 0h1.2m-0.2 0h1.2m-0.2 0h1.2m0.3 0h1.2m0.8 0h1.2m-104.7 0.5h1.2m7.3 0h1.2m16.8 0h1.2m2.8 0h1.2m5.8 0h1.2m1.3 0h1.2m2.8 0h1.2m0.8 0h1.2m2.8 0h1.2m-0.7 0h1.2m2.3 0h1.2m-0.7 0h1.2m2.8 0h1.2m-0.7 0h1.2m-0.2 0h1.2m-0.2 0h1.2m-0.2 0h1.2m-0.7 0h1.2m0.8 0h1.2m-0.7 0h1.2m-0.7 0h1.2m1.8 0h1.2m0.3 0h1.2m0.3 0h1.2m2.8 0h1.2m-0.2 0h1.2m-0.7 0h1.2m-0.2 0h1.2m-0.7 0h1.2m-0.7 0h1.2m-0.7 0h1.2m2.3 0h1.2m2.8 0h1.2m0.8 0h1.2m0.3 0h1.2m-0.2 0h1.2m-0.7 0h1.2m1.8 0h1.2m0.3 0h1.2m-0.2 0h1.2m1.3 0h1.2m-101.7 0.5h1.2m9.8 0h1.2m1.3 0h1.2m-0.2 0h1.2m13.8 0h1.2m3.8 0h1.2m0.3 0h1.2m5.3 0h1.2m10.3 0h1.2m2.3 0h1.2m-0.2 0h1.2m-0.2 0h1.2m-0.2 0h1.2m-0.7 0h1.2m-0.7 0h1.2m1.3 0h1.2m1.3 0h1.2m1.3 0h1.2m0.8 0h1.2m-0.2 0h1.2m0.3 0h1.2m-0.2 0h1.2m-0.7 0h1.2m-0.7 0h1.2m-0.2 0h1.2m1.3 0h1.2m-0.7 0h1.2m-0.2 0h1.2m-0.2 0h1.2m1.8 0h1.2m-0.7 0h1.2m2.3 0h1.2m0.3 0h1.2m-0.2 0h1.2m0.8 0h1.2m-0.7 0h1.2m-0.7 0h1.2m1.8 0h1.2m1.3 0h1.2m-0.2 0h1.2m-0.7 0h1.2m-0.7 0h1.2m-0.7 0h1.2m-0.7 0h1.2m-0.2 0h1.2m-82.2 0.5h1.2m1.8 0h1.2m17.8 0h1.2m0.8 0h1.2m0.8 0h1.2m0.8 0h1.2m0.3 0h1.2m2.3 0h1.2m0.3 0h1.2m-0.7 0h1.2m0.8 0h1.2m1.8 0h1.2m-0.7 0h1.2m-0.7 0h1.2m-0.7 0h1.2m-0.2 0h1.2m-0.2 0h1.2m1.8 0h1.2m-0.7 0h1.2m0.3 0h1.2m-0.2 0h1.2m-0.7 0h1.2m0.3 0h1.2m-0.2 0h1.2m1.8 0h1.2m-0.7 0h1.2m-0.7 0h1.2m-0.7 0h1.2m-0.2 0h1.2m-0.7 0h1.2m0.3 0h1.2m-0.7 0h1.2m-0.7 0h1.2m-0.2 0h1.2m-0.7 0h1.2m-0.7 0h1.2m0.3 0h1.2m-0.2 0h1.2m-0.7 0h1.2m0.3 0h1.2m-0.2 0h1.2m-0.7 0h1.2m0.3 0h1.2m-0.7 0h1.2m-0.2 0h1.2m1.8 0h1.2m0.3 0h1.2m-0.7 0h1.2m0.8 0h1.2m-0.7 0h1.2m-0.7 0h1.2m-91.7 0.5h1.2m8.8 0h1.2m0.8 0h1.2m-0.7 0h1.2m0.3 0h1.2m1.3 0h1.2m0.8 0h1.2m1.3 0h1.2m1.8 0h1.2m2.8 0h1.2m0.8 0h1.2m5.3 0h1.2m3.8 0h1.2m0.8 0h1.2m-0.7 0h1.2m-0.7 0h1.2m0.8 0h1.2m0.3 0h1.2m-0.7 0h1.2m1.8 0h1.2m1.3 0h1.2m-0.7 0h1.2m-0.2 0h1.2m-0.2 0h1.2m-0.7 0h1.2m0.3 0h1.2m0.3 0h1.2m-0.2 0h1.2m0.3 0h1.2m-0.2 0h1.2m-0.2 0h1.2m-0.7 0h1.2m-0.7 0h1.2m-0.2 0h1.2m-0.2 0h1.2m-0.7 0h1.2m0.8 0h1.2m-0.2 0h1.2m-0.2 0h1.2m-0.2 0h1.2m0.3 0h1.2m-0.2 0h1.2m-0.2 0h1.2m0.8 0h1.2m-0.2 0h1.2m0.8 0h1.2m-0.7 0h1.2m0.3 0h1.2m2.8 0h1.2m-0.7 0h1.2m-0.2 0h1.2m0.3 0h1.2m0.8 0h1.2m-92.7 0.5h1.2m1.8 0h1.2m-0.2 0h1.2m6.8 0h1.2m1.3 0h1.2m-0.2 0h1.2m-0.2 0h1.2m1.3 0h1.2m0.3 0h1.2m0.8 0h1.2m-0.7 0h1.2m2.3 0h1.2m3.8 0h1.2m7.3 0h1.2m-0.2 0h1.2m0.8 0h1.2m-0.2 0h1.2m0.3 0h1.2m0.3 0h1.2m-0.7 0h1.2m-0.7 0h1.2m-0.7 0h1.2m-0.7 0h1.2m0.3 0h1.2m0.3 0h1.2m1.3 0h1.2m0.8 0h1.2m-0.7 0h1.2m-0.7 0h1.2m-0.2 0h1.2m-0.2 0h1.2m-0.7 0h1.2m-0.2 0h1.2m-0.2 0h1.2m0.3 0h1.2m-0.2 0h1.2m-0.7 0h1.2m0.8 0h1.2m-0.7 0h1.2m-0.7 0h1.2m-0.2 0h1.2m-0.7 0h1.2m-0.2 0h1.2m-0.7 0h1.2m1.8 0h1.2m-0.2 0h1.2m-0.7 0h1.2m0.3 0h1.2m-0.7 0h1.2m0.8 0h1.2m0.3 0h1.2m0.3 0h1.2m-0.7 0h1.2m-0.7 0h1.2m-0.2 0h1.2m-0.7 0h1.2m-0.2 0h1.2m1.3 0h1.2m-0.7 0h1.2m-0.2 0h1.2m-0.7 0h1.2m-0.7 0h1.2m-105.2 0.5h1.2m1.8 0h1.2m15.3 0h1.2m3.8 0h1.2m0.8 0h1.2m4.3 0h1.2m13.8 0h1.2m1.3 0h1.2m1.3 0h1.2m3.8 0h1.2m3.8 0h1.2m-0.7 0h1.2m-0.7 0h1.2m-0.7 0h1.2m0.8 0h1.2m-0.2 0h1.2m-0.7 0h1.2m-0.7 0h1.2m-0.7 0h1.2m-0.7 0h1.2m-0.2 0h1.2m0.3 0h1.2m-0.7 0h1.2m-0.7 0h1.2m2.8 0h1.2m-0.2 0h1.2m1.3 0h1.2m0.8 0h1.2m-0.7 0h1.2m-0.2 0h1.2m-0.2 0h1.2m-0.2 0h1.2m-0.2 0h1.2m-0.2 0h1.2m1.3 0h1.2m-0.7 0h1.2m0.3 0h1.2m-0.7 0h1.2m1.8 0h1.2m-0.7 0h1.2m0.8 0h1.2m0.8 0h1.2m-0.7 0h1.2m-0.7 0h1.2m0.3 0h1.2m0.8 0h1.2m-0.7 0h1.2m-105.7 0.5h1.2m18.8 0h1.2m10.3 0h1.2m3.3 0h1.2m0.8 0h1.2m2.3 0h1.2m-0.2 0h1.2m2.8 0h1.2m1.3 0h1.2m-0.2 0h1.2m-0.7 0h1.2m0.8 0h1.2m0.8 0h1.2m0.3 0h1.2m-0.7 0h1.2m-0.2 0h1.2m1.8 0h1.2m-0.7 0h1.2m0.3 0h1.2m-0.7 0h1.2m-0.7 0h1.2m-0.2 0h1.2m1.3 0h1.2m-0.2 0h1.2m-0.2 0h1.2m0.3 0h1.2m2.3 0h1.2m-0.2 0h1.2m-0.7 0h1.2m1.3 0h1.2m-0.7 0h1.2m-0.2 0h1.2m4.3 0h1.2m1.8 0h1.2m-0.2 0h1.2m0.8 0h1.2m0.3 0h1.2m0.3 0h1.2m-0.7 0h1.2m1.3 0h1.2m-0.2 0h1.2m0.3 0h1.2m0.3 0h1.2m-0.2 0h1.2m0.8 0h1.2m-0.7 0h1.2m-104.2 0.5h1.2m10.3 0h1.2m1.3 0h1.2m1.3 0h1.2m5.3 0h1.2m-0.2 0h1.2m1.8 0h1.2m8.8 0h1.2m-0.2 0h1.2m4.8 0h1.2m8.8 0h1.2m0.3 0h1.2m-0.7 0h1.2m0.3 0h1.2m2.3 0h1.2m1.3 0h1.2m0.3 0h1.2m0.3 0h1.2m-0.2 0h1.2m1.8 0h1.2m-0.7 0h1.2m1.8 0h1.2m0.3 0h1.2m-0.7 0h1.2m1.3 0h1.2m2.3 0h1.2m-0.2 0h1.2m-0.7 0h1.2m2.3 0h1.2m-0.7 0h1.2m-0.7 0h1.2m0.3 0h1.2m-0.2 0h1.2m1.3 0h1.2m-0.7 0h1.2m-0.7 0h1.2m-0.2 0h1.2m-0.7 0h1.2m-0.2 0h1.2m-0.7 0h1.2m-0.7 0h1.2m-0.7 0h1.2m-0.7 0h1.2m-0.2 0h1.2m-0.7 0h1.2m1.3 0h1.2m-79.2 0.5h1.2m5.3 0h1.2m0.8 0h1.2m5.3 0h1.2m8.8 0h1.2m-0.7 0h1.2m0.3 0h1.2m2.3 0h1.2m0.3 0h1.2m-0.2 0h1.2m-0.2 0h1.2m1.3 0h1.2m0.3 0h1.2m0.3 0h1.2m0.8 0h1.2m0.8 0h1.2m2.3 0h1.2m3.3 0h1.2m-0.7 0h1.2m3.3 0h1.2m-0.7 0h1.2m0.8 0h1.2m0.3 0h1.2m-0.7 0h1.2m-0.7 0h1.2m-0.2 0h1.2m0.3 0h1.2m-0.7 0h1.2m-0.2 0h1.2m-0.7 0h1.2m0.8 0h1.2m-0.7 0h1.2m-0.7 0h1.2m-0.7 0h1.2m-0.7 0h1.2m-0.7 0h1.2m0.3 0h1.2m-0.7 0h1.2m0.3 0h1.2m-0.2 0h1.2m-0.7 0h1.2m-0.7 0h1.2m-0.7 0h1.2m-0.7 0h1.2m-101.2 0.5h1.2m0.3 0h1.2m0.3 0h1.2m0.8 0h1.2m2.8 0h1.2m2.3 0h1.2m21.3 0h1.2m4.8 0h1.2m7.8 0h1.2m3.3 0h1.2m0.8 0h1.2m0.3 0h1.2m-0.2 0h1.2m1.8 0h1.2m-0.2 0h1.2m0.3 0h1.2m-0.7 0h1.2m-0.7 0h1.2m-0.7 0h1.2m-0.7 0h1.2m0.3 0h1.2m0.8 0h1.2m-0.2 0h1.2m-0.7 0h1.2m-0.2 0h1.2m2.3 0h1.2m-0.7 0h1.2m0.8 0h1.2m0.3 0h1.2m0.3 0h1.2m-0.7 0h1.2m1.8 0h1.2m-0.2 0h1.2m-0.2 0h1.2m-0.2 0h1.2m-0.2 0h1.2m0.3 0h1.2m-0.7 0h1.2m0.3 0h1.2m-0.2 0h1.2m-0.7 0h1.2m-0.2 0h1.2m0.3 0h1.2m-0.7 0h1.2m-0.7 0h1.2m-0.7 0h1.2m-96.7 0.5h1.2m4.8 0h1.2m2.3 0h1.2m3.8 0h1.2m3.8 0h1.2m7.8 0h1.2m-0.2 0h1.2m-0.2 0h1.2m3.8 0h1.2m-0.2 0h1.2m3.8 0h1.2m3.8 0h1.2m0.3 0h1.2m0.3 0h1.2m-0.2 0h1.2m-0.7 0h1.2m0.8 0h1.2m1.3 0h1.2m5.8 0h1.2m0.3 0h1.2m0.3 0h1.2m0.8 0h1.2m-0.7 0h1.2m-0.7 0h1.2m0.8 0h1.2m-0.7 0h1.2m3.3 0h1.2m-0.2 0h1.2m1.8 0h1.2m-0.7 0h1.2m-0.7 0h1.2m-0.2 0h1.2m0.8 0h1.2m-0.7 0h1.2m-0.7 0h1.2m-0.7 0h1.2m-0.7 0h1.2m-0.2 0h1.2m-0.2 0h1.2m0.3 0h1.2m-0.2 0h1.2m1.8 0h1.2m1.3 0h1.2m-0.2 0h1.2m-112.2 0.5h1.2m4.8 0h1.2m12.8 0h1.2m3.8 0h1.2m6.8 0h1.2m2.3 0h1.2m16.8 0h1.2m0.8 0h1.2m4.3 0h1.2m1.8 0h1.2m0.3 0h1.2m0.3 0h1.2m-0.7 0h1.2m2.8 0h1.2m-0.2 0h1.2m-0.7 0h1.2m-0.7 0h1.2m0.8 0h1.2m-0.7 0h1.2m-0.7 0h1.2m0.8 0h1.2m2.3 0h1.2m-0.7 0h1.2m-0.7 0h1.2m-0.2 0h1.2m-0.7 0h1.2m-0.2 0h1.2m0.3 0h1.2m-0.7 0h1.2m1.8 0h1.2m-0.7 0h1.2m-0.7 0h1.2m-0.2 0h1.2m-0.7 0h1.2m-0.2 0h1.2m-0.7 0h1.2m-0.2 0h1.2m-0.7 0h1.2m-0.2 0h1.2m-0.2 0h1.2m-0.2 0h1.2m0.3 0h1.2m0.3 0h1.2m0.3 0h1.2m1.8 0h1.2m0.3 0h1.2m-0.2 0h1.2m-0.7 0h1.2m-0.7 0h1.2m-0.2 0h1.2m-0.7 0h1.2m-0.2 0h1.2m-111.2 0.5h1.2m11.3 0h1.2m12.8 0h1.2m4.8 0h1.2m-0.2 0h1.2m1.8 0h1.2m0.8 0h1.2m0.3 0h1.2m2.3 0h1.2m3.8 0h1.2m-0.7 0h1.2m-0.7 0h1.2m7.8 0h1.2m2.3 0h1.2m-0.7 0h1.2m0.8 0h1.2m1.8 0h1.2m0.8 0h1.2m0.8 0h1.2m-0.2 0h1.2m1.3 0h1.2m-0.7 0h1.2m-0.2 0h1.2m2.3 0h1.2m-0.2 0h1.2m-0.7 0h1.2m-0.2 0h1.2m-0.2 0h1.2m-0.2 0h1.2m0.8 0h1.2m-0.2 0h1.2m-0.2 0h1.2m-0.2 0h1.2m1.8 0h1.2m-0.7 0h1.2m1.3 0h1.2m0.3 0h1.2m1.3 0h1.2m2.3 0h1.2m-0.7 0h1.2m0.3 0h1.2m-0.7 0h1.2m0.8 0h1.2m-0.7 0h1.2m0.3 0h1.2m-0.7 0h1.2m-98.2 0.5h1.2m11.3 0h1.2m2.8 0h1.2m0.8 0h1.2m1.8 0h1.2m-0.7 0h1.2m3.8 0h1.2m-0.2 0h1.2m3.3 0h1.2m9.3 0h1.2m0.3 0h1.2m-0.2 0h1.2m-0.7 0h1.2m0.3 0h1.2m-0.2 0h1.2m0.8 0h1.2m-0.7 0h1.2m2.8 0h1.2m0.3 0h1.2m-0.7 0h1.2m-0.2 0h1.2m-0.7 0h1.2m3.3 0h1.2m0.3 0h1.2m0.3 0h1.2m-0.2 0h1.2m0.3 0h1.2m-0.7 0h1.2m-0.7 0h1.2m-0.2 0h1.2m-0.7 0h1.2m0.3 0h1.2m-0.2 0h1.2m-0.7 0h1.2m-0.7 0h1.2m-0.7 0h1.2m2.3 0h1.2m-0.2 0h1.2m1.8 0h1.2m0.3 0h1.2m-0.2 0h1.2m1.3 0h1.2m-0.7 0h1.2m-0.7 0h1.2m-0.7 0h1.2m-0.7 0h1.2m-0.7 0h1.2m1.3 0h1.2m-0.7 0h1.2m-0.2 0h1.2m1.3 0h1.2m-96.2 0.5h1.2m2.3 0h1.2m10.8 0h1.2m0.8 0h1.2m0.3 0h1.2m-0.7 0h1.2m-0.2 0h1.2m-0.7 0h1.2m-0.7 0h1.2m-0.7 0h1.2m-0.2 0h1.2m0.3 0h1.2m-0.7 0h1.2m-0.7 0h1.2m-0.7 0h1.2m-0.2 0h1.2m1.8 0h1.2m-0.2 0h1.2m-0.7 0h1.2m2.3 0h1.2m-0.2 0h1.2m-0.7 0h1.2m-0.2 0h1.2m2.8 0h1.2m-0.2 0h1.2m2.8 0h1.2m-0.7 0h1.2m-0.7 0h1.2m-0.7 0h1.2m0.8 0h1.2m-0.2 0h1.2m0.3 0h1.2m-0.7 0h1.2m0.3 0h1.2m0.3 0h1.2m-0.2 0h1.2m-0.2 0h1.2m-0.7 0h1.2m-0.7 0h1.2m1.3 0h1.2m1.8 0h1.2m-0.7 0h1.2m0.3 0h1.2m0.3 0h1.2m0.8 0h1.2m-0.2 0h1.2m0.3 0h1.2m-0.2 0h1.2m-0.2 0h1.2m0.3 0h1.2m7.3 0h1.2m-0.7 0h1.2m-0.2 0h1.2m1.8 0h1.2m0.3 0h1.2m1.3 0h1.2m-103.7 0.5h1.2m8.8 0h1.2m3.8 0h1.2m1.8 0h1.2m9.3 0h1.2m-0.7 0h1.2m7.8 0h1.2m-0.7 0h1.2m0.3 0h1.2m-0.7 0h1.2m-0.7 0h1.2m-0.2 0h1.2m0.3 0h1.2m0.8 0h1.2m0.8 0h1.2m0.3 0h1.2m-0.2 0h1.2m-0.2 0h1.2m2.3 0h1.2m0.3 0h1.2m-0.7 0h1.2m1.8 0h1.2m-0.7 0h1.2m-0.7 0h1.2m-0.7 0h1.2m0.8 0h1.2m2.8 0h1.2m-0.2 0h1.2m1.3 0h1.2m0.8 0h1.2m-0.7 0h1.2m0.3 0h1.2m-0.2 0h1.2m3.8 0h1.2m2.3 0h1.2m-0.7 0h1.2m0.8 0h1.2m-0.2 0h1.2m2.3 0h1.2m-0.7 0h1.2m-0.7 0h1.2m-0.2 0h1.2m-0.2 0h1.2m-0.2 0h1.2m1.3 0h1.2m2.3 0h1.2m-0.2 0h1.2m-0.2 0h1.2m-0.7 0h1.2m-0.2 0h1.2m-86.7 0.5h1.2m1.8 0h1.2m-0.7 0h1.2m2.8 0h1.2m0.3 0h1.2m1.3 0h1.2m0.8 0h1.2m4.8 0h1.2m-0.2 0h1.2m-0.2 0h1.2m-0.2 0h1.2m1.3 0h1.2m-0.2 0h1.2m-0.2 0h1.2m1.3 0h1.2m-0.7 0h1.2m-0.7 0h1.2m-0.7 0h1.2m4.8 0h1.2m-0.7 0h1.2m-0.2 0h1.2m-0.2 0h1.2m0.3 0h1.2m0.3 0h1.2m-0.2 0h1.2m-0.7 0h1.2m-0.7 0h1.2m-0.7 0h1.2m-0.7 0h1.2m0.3 0h1.2m0.8 0h1.2m-0.7 0h1.2m-0.2 0h1.2m0.3 0h1.2m-0.2 0h1.2m-0.7 0h1.2m-0.7 0h1.2m1.3 0h1.2m0.8 0h1.2m1.3 0h1.2m-0.2 0h1.2m3.8 0h1.2m-0.7 0h1.2m0.8 0h1.2m-0.7 0h1.2m-0.7 0h1.2m1.3 0h1.2m0.3 0h1.2m2.3 0h1.2m-0.2 0h1.2m-0.7 0h1.2m-0.7 0h1.2m1.3 0h1.2m-0.2 0h1.2m-0.7 0h1.2m-94.7 0.5h1.2m2.8 0h1.2m8.8 0h1.2m1.8 0h1.2m1.3 0h1.2m0.3 0h1.2m-0.7 0h1.2m0.3 0h1.2m2.3 0h1.2m-0.2 0h1.2m1.3 0h1.2m1.8 0h1.2m2.3 0h1.2m-0.7 0h1.2m-0.7 0h1.2m0.8 0h1.2m-0.2 0h1.2m0.3 0h1.2m-0.7 0h1.2m1.3 0h1.2m-0.2 0h1.2m-0.7 0h1.2m2.3 0h1.2m-0.7 0h1.2m3.3 0h1.2m-0.7 0h1.2m-0.2 0h1.2m-0.7 0h1.2m-0.7 0h1.2m-0.7 0h1.2m0.8 0h1.2m0.8 0h1.2m1.8 0h1.2m3.8 0h1.2m0.3 0h1.2m-0.2 0h1.2m1.3 0h1.2m2.8 0h1.2m-0.2 0h1.2m-0.2 0h1.2m-0.7 0h1.2m-0.7 0h1.2m0.3 0h1.2m-0.2 0h1.2m-0.7 0h1.2m1.3 0h1.2m-0.7 0h1.2m-0.2 0h1.2m-0.7 0h1.2m-0.7 0h1.2m-0.7 0h1.2m-0.2 0h1.2m0.3 0h1.2m-0.7 0h1.2m-0.7 0h1.2m-0.7 0h1.2m-0.2 0h1.2m-92.2 0.5h1.2m10.3 0h1.2m-0.7 0h1.2m-0.7 0h1.2m0.8 0h1.2m1.3 0h1.2m-0.2 0h1.2m1.3 0h1.2m0.8 0h1.2m2.8 0h1.2m1.3 0h1.2m2.8 0h1.2m0.8 0h1.2m5.3 0h1.2m-0.7 0h1.2m-0.7 0h1.2m-0.7 0h1.2m-0.7 0h1.2m1.3 0h1.2m2.3 0h1.2m-0.2 0h1.2m-0.7 0h1.2m2.3 0h1.2m-0.7 0h1.2m-0.2 0h1.2m0.3 0h1.2m5.3 0h1.2m-0.7 0h1.2m1.8 0h1.2m4.3 0h1.2m-0.7 0h1.2m-0.7 0h1.2m0.3 0h1.2m0.8 0h1.2m1.3 0h1.2m-0.2 0h1.2m-0.7 0h1.2m1.3 0h1.2m0.3 0h1.2m-0.2 0h1.2m1.3 0h1.2m0.3 0h1.2m-114.2 0.5h1.2m2.8 0h1.2m-0.7 0h1.2m-0.7 0h1.2m5.8 0h1.2m3.8 0h1.2m9.3 0h1.2m1.3 0h1.2m-0.2 0h1.2m1.8 0h1.2m1.8 0h1.2m1.3 0h1.2m1.8 0h1.2m0.8 0h1.2m-0.2 0h1.2m1.3 0h1.2m0.8 0h1.2m2.3 0h1.2m-0.7 0h1.2m0.8 0h1.2m-0.7 0h1.2m0.8 0h1.2m4.8 0h1.2m0.8 0h1.2m1.8 0h1.2m-0.2 0h1.2m-0.7 0h1.2m0.8 0h1.2m-0.7 0h1.2m0.3 0h1.2m-0.7 0h1.2m-0.7 0h1.2m-0.2 0h1.2m-0.7 0h1.2m0.3 0h1.2m1.8 0h1.2m-0.7 0h1.2m-0.2 0h1.2m0.3 0h1.2m-0.7 0h1.2m-0.7 0h1.2m0.8 0h1.2m0.8 0h1.2m1.8 0h1.2m0.3 0h1.2m-0.2 0h1.2m1.3 0h1.2m2.8 0h1.2m-0.2 0h1.2m0.3 0h1.2m-0.7 0h1.2m0.3 0h1.2m2.3 0h1.2m-0.7 0h1.2m-0.7 0h1.2m-0.7 0h1.2m-0.7 0h1.2m-0.7 0h1.2m-0.7 0h1.2m-0.2 0h1.2m-114.7 0.5h1.2m4.8 0h1.2m5.3 0h1.2m17.8 0h1.2m0.8 0h1.2m0.8 0h1.2m-0.7 0h1.2m2.3 0h1.2m-0.2 0h1.2m3.3 0h1.2m-0.7 0h1.2m-0.7 0h1.2m-0.7 0h1.2m-0.2 0h1.2m-0.7 0h1.2m-0.2 0h1.2m-0.2 0h1.2m0.8 0h1.2m0.3 0h1.2m0.3 0h1.2m-0.2 0h1.2m2.3 0h1.2m2.3 0h1.2m-0.7 0h1.2m-0.7 0h1.2m-0.7 0h1.2m0.3 0h1.2m-0.7 0h1.2m2.3 0h1.2m-0.7 0h1.2m-0.7 0h1.2m0.8 0h1.2m0.3 0h1.2m0.8 0h1.2m1.8 0h1.2m-0.7 0h1.2m-0.7 0h1.2m-0.7 0h1.2m-0.7 0h1.2m-0.2 0h1.2m-0.7 0h1.2m1.8 0h1.2m-0.7 0h1.2m-0.2 0h1.2m-0.7 0h1.2m-0.2 0h1.2m0.8 0h1.2m-0.2 0h1.2m-0.7 0h1.2m0.3 0h1.2m0.3 0h1.2m-0.7 0h1.2m0.3 0h1.2m0.8 0h1.2m2.8 0h1.2m-0.2 0h1.2m0.3 0h1.2m-0.7 0h1.2m-0.7 0h1.2m-0.7 0h1.2m0.8 0h1.2m-0.7 0h1.2m1.3 0h1.2m-0.2 0h1.2m-101.2 0.5h1.2m-0.7 0h1.2m4.8 0h1.2m0.3 0h1.2m4.3 0h1.2m-0.7 0h1.2m4.8 0h1.2m-0.7 0h1.2m0.3 0h1.2m-0.7 0h1.2m-0.2 0h1.2m0.8 0h1.2m0.8 0h1.2m0.3 0h1.2m-0.2 0h1.2m3.8 0h1.2m1.3 0h1.2m-0.7 0h1.2m1.3 0h1.2m-0.7 0h1.2m-0.7 0h1.2m0.3 0h1.2m1.3 0h1.2m-0.7 0h1.2m-0.7 0h1.2m-0.7 0h1.2m5.8 0h1.2m1.8 0h1.2m-0.7 0h1.2m-0.2 0h1.2m2.3 0h1.2m-0.7 0h1.2m4.3 0h1.2m0.3 0h1.2m-0.7 0h1.2m2.8 0h1.2m-0.7 0h1.2m-0.2 0h1.2m0.3 0h1.2m-0.7 0h1.2m-0.7 0h1.2m-0.2 0h1.2m-0.7 0h1.2m0.3 0h1.2m-0.7 0h1.2m-0.7 0h1.2m0.8 0h1.2m-0.2 0h1.2m2.8 0h1.2m0.3 0h1.2m-0.7 0h1.2m0.3 0h1.2m-0.7 0h1.2m0.8 0h1.2m-0.7 0h1.2m-0.7 0h1.2m-0.7 0h1.2m1.3 0h1.2m-0.7 0h1.2m-86.7 0.5h1.2m3.8 0h1.2m2.8 0h1.2m0.3 0h1.2m-0.7 0h1.2m-0.7 0h1.2m-0.7 0h1.2m0.8 0h1.2m0.3 0h1.2m-0.2 0h1.2m-0.2 0h1.2m-0.7 0h1.2m-0.7 0h1.2m-0.7 0h1.2m-0.7 0h1.2m0.3 0h1.2m0.3 0h1.2m-0.2 0h1.2m0.3 0h1.2m1.3 0h1.2m10.3 0h1.2m2.8 0h1.2m-0.7 0h1.2m-0.7 0h1.2m-0.2 0h1.2m-0.7 0h1.2m-0.2 0h1.2m0.8 0h1.2m-0.2 0h1.2m-0.7 0h1.2m0.8 0h1.2m1.3 0h1.2m-0.7 0h1.2m1.8 0h1.2m0.3 0h1.2m0.8 0h1.2m-0.7 0h1.2m-0.7 0h1.2m-0.7 0h1.2m-0.7 0h1.2m-0.7 0h1.2m1.3 0h1.2m0.8 0h1.2m-0.7 0h1.2m-0.2 0h1.2m-0.2 0h1.2m-0.7 0h1.2m1.3 0h1.2m-0.7 0h1.2m-0.7 0h1.2m-0.2 0h1.2m-0.7 0h1.2m-0.2 0h1.2m-0.7 0h1.2m-0.2 0h1.2m1.3 0h1.2m0.3 0h1.2m-0.7 0h1.2m-0.7 0h1.2m0.8 0h1.2m-112.2 0.5h1.2m13.3 0h1.2m5.3 0h1.2m0.3 0h1.2m1.3 0h1.2m-0.7 0h1.2m-0.7 0h1.2m7.8 0h1.2m-0.7 0h1.2m-0.7 0h1.2m2.8 0h1.2m0.3 0h1.2m-0.7 0h1.2m-0.7 0h1.2m-0.7 0h1.2m2.8 0h1.2m0.8 0h1.2m0.8 0h1.2m0.8 0h1.2m6.3 0h1.2m0.3 0h1.2m1.8 0h1.2m-0.7 0h1.2m1.8 0h1.2m-0.7 0h1.2m-0.2 0h1.2m2.8 0h1.2m-0.7 0h1.2m-0.2 0h1.2m-0.7 0h1.2m0.3 0h1.2m1.3 0h1.2m-0.2 0h1.2m1.3 0h1.2m0.8 0h1.2m-0.2 0h1.2m2.3 0h1.2m-0.2 0h1.2m1.3 0h1.2m1.8 0h1.2m-0.7 0h1.2m-0.2 0h1.2m1.3 0h1.2m-0.7 0h1.2m-0.2 0h1.2m-0.7 0h1.2m-0.2 0h1.2m-0.7 0h1.2m-0.7 0h1.2m1.3 0h1.2m0.8 0h1.2m-96.2 0.5h1.2m9.8 0h1.2m3.3 0h1.2m3.3 0h1.2m0.8 0h1.2m5.3 0h1.2m1.3 0h1.2m1.8 0h1.2m0.8 0h1.2m0.8 0h1.2m-0.2 0h1.2m7.3 0h1.2m0.8 0h1.2m1.3 0h1.2m-0.7 0h1.2m-0.7 0h1.2m0.8 0h1.2m0.3 0h1.2m1.3 0h1.2m0.3 0h1.2m-0.2 0h1.2m4.8 0h1.2m-0.2 0h1.2m-0.7 0h1.2m-0.7 0h1.2m0.3 0h1.2m-0.7 0h1.2m-0.7 0h1.2m6.8 0h1.2m-0.2 0h1.2m-0.2 0h1.2m0.3 0h1.2m-0.7 0h1.2m-0.7 0h1.2m-0.2 0h1.2m-0.2 0h1.2m0.8 0h1.2m-0.2 0h1.2m3.3 0h1.2m-0.2 0h1.2m-0.7 0h1.2m-103.2 0.5h1.2m18.3 0h1.2m0.8 0h1.2m1.3 0h1.2m4.3 0h1.2m-0.2 0h1.2m0.3 0h1.2m-0.2 0h1.2m0.8 0h1.2m2.3 0h1.2m-0.7 0h1.2m-0.2 0h1.2m1.8 0h1.2m-0.2 0h1.2m0.3 0h1.2m1.3 0h1.2m-0.2 0h1.2m-0.7 0h1.2m1.8 0h1.2m0.3 0h1.2m0.3 0h1.2m-0.7 0h1.2m-0.7 0h1.2m-0.2 0h1.2m-0.7 0h1.2m-0.7 0h1.2m-0.2 0h1.2m-0.7 0h1.2m-0.7 0h1.2m-0.2 0h1.2m2.3 0h1.2m0.8 0h1.2m-0.7 0h1.2m-0.2 0h1.2m0.8 0h1.2m-0.2 0h1.2m-0.2 0h1.2m-0.7 0h1.2m0.3 0h1.2m-0.7 0h1.2m0.3 0h1.2m-0.7 0h1.2m-0.7 0h1.2m-0.7 0h1.2m0.3 0h1.2m-0.7 0h1.2m1.3 0h1.2m0.3 0h1.2m-0.2 0h1.2m1.8 0h1.2m-0.7 0h1.2m1.8 0h1.2m1.3 0h1.2m0.3 0h1.2m-0.2 0h1.2m-0.2 0h1.2m-0.7 0h1.2m-0.7 0h1.2m-0.7 0h1.2m-109.2 0.5h1.2m8.3 0h1.2m3.3 0h1.2m14.3 0h1.2m1.8 0h1.2m-0.7 0h1.2m0.8 0h1.2m0.8 0h1.2m0.8 0h1.2m7.8 0h1.2m-0.7 0h1.2m-0.7 0h1.2m-0.7 0h1.2m-0.2 0h1.2m1.3 0h1.2m-0.7 0h1.2m-0.7 0h1.2m2.3 0h1.2m-0.7 0h1.2m0.3 0h1.2m2.3 0h1.2m0.3 0h1.2m-0.2 0h1.2m-0.7 0h1.2m-0.2 0h1.2m-0.7 0h1.2m-0.7 0h1.2m0.3 0h1.2m-0.7 0h1.2m-0.7 0h1.2m-0.7 0h1.2m-0.2 0h1.2m0.8 0h1.2m-0.7 0h1.2m-0.7 0h1.2m0.8 0h1.2m-0.2 0h1.2m-0.7 0h1.2m-0.2 0h1.2m0.8 0h1.2m-0.7 0h1.2m-0.7 0h1.2m-0.2 0h1.2m0.8 0h1.2m-0.7 0h1.2m-0.2 0h1.2m0.3 0h1.2m-0.7 0h1.2m1.3 0h1.2m1.3 0h1.2m1.8 0h1.2m-0.2 0h1.2m-0.7 0h1.2m-0.2 0h1.2m0.3 0h1.2m-0.2 0h1.2m-0.7 0h1.2m0.3 0h1.2m0.8 0h1.2m0.3 0h1.2m1.3 0h1.2m0.8 0h1.2m-98.7 0.5h1.2m8.8 0h1.2m7.3 0h1.2m1.3 0h1.2m1.8 0h1.2m1.8 0h1.2m3.3 0h1.2m-0.7 0h1.2m-0.2 0h1.2m-0.7 0h1.2m-0.7 0h1.2m-0.2 0h1.2m2.8 0h1.2m-0.7 0h1.2m1.3 0h1.2m1.3 0h1.2m1.3 0h1.2m-0.7 0h1.2m0.8 0h1.2m-0.7 0h1.2m-0.7 0h1.2m1.3 0h1.2m-0.2 0h1.2m-0.7 0h1.2m0.8 0h1.2m-0.7 0h1.2m-0.2 0h1.2m-0.2 0h1.2m-0.2 0h1.2m-0.2 0h1.2m-0.7 0h1.2m-0.2 0h1.2m3.8 0h1.2m0.3 0h1.2m1.3 0h1.2m0.3 0h1.2m-0.2 0h1.2m1.3 0h1.2m-0.7 0h1.2m-0.2 0h1.2m-0.2 0h1.2m0.3 0h1.2m0.3 0h1.2m-0.2 0h1.2m-0.7 0h1.2m0.3 0h1.2m-0.7 0h1.2m-0.7 0h1.2m0.3 0h1.2m-0.7 0h1.2m0.8 0h1.2m-0.2 0h1.2m-0.2 0h1.2m1.8 0h1.2m-0.2 0h1.2m-0.2 0h1.2m-0.2 0h1.2m-76.7 0.5h1.2m2.3 0h1.2m0.8 0h1.2m3.3 0h1.2m0.3 0h1.2m1.8 0h1.2m3.3 0h1.2m1.8 0h1.2m2.8 0h1.2m-0.7 0h1.2m-0.2 0h1.2m-0.2 0h1.2m3.3 0h1.2m1.3 0h1.2m-0.2 0h1.2m-0.7 0h1.2m-0.7 0h1.2m0.3 0h1.2m-0.7 0h1.2m2.8 0h1.2m2.8 0h1.2m2.8 0h1.2m2.3 0h1.2m0.3 0h1.2m-0.2 0h1.2m3.8 0h1.2m-0.2 0h1.2m2.3 0h1.2m-0.2 0h1.2m-0.2 0h1.2m2.3 0h1.2" stroke="#0000ff" stroke-width="1.2" fill="none" transform="translate(0 0.5)"/>
<path d="M178 449h1.4m1.1 0h1.4m-0.9 0h1.4m4.1 0h1.4m-0.4 0h1.4m10.1 0h1.4m0.6 0h1.4m-30.9 0.5h1.4m-0.9 0h1.4m-0.9 0h1.4m0.6 0h1.4m3.1 0h1.4m1.6 0h1.4m-0.9 0h1.4m2.1 0h1.4m-0.9 0h1.4m0.1 0h1.4m3.6 0h1.4m0.1 0h1.4m-27.4 0.5h1.4m0.1 0h1.4m4.6 0h1.4m0.1 0h1.4m0.1 0h1.4m4.6 0h1.4m1.6 0h1.4m-0.9 0h1.4m0.1 0h1.4m-0.9 0h1.4m9.1 0h1.4m-31.9 0.5h1.4m-0.9 0h1.4m2.1 0h1.4m-0.9 0h1.4m7.1 0h1.4m1.1 0h1.4m-0.4 0h1.4m-0.9 0h1.4m1.1 0h1.4m0.6 0h1.4m0.6 0h1.4m6.1 0h1.4m-34.9 0.5h1.4m1.6 0h1.4m-0.4 0h1.4m2.6 0h1.4m0.1 0h1.4m8.1 0h1.4m-0.9 0h1.4m1.6 0h1.4m1.6 0h1.4m-0.9 0h1.4m-0.9 0h1.4m-0.4 0h1.4m0.1 0h1.4m-27.9 0.5h1.4m0.1 0h1.4m-0.9 0h1.4m0.1 0h1.4m1.6 0h1.4m2.1 0h1.4m-0.9 0h1.4m4.1 0h1.4m0.1 0h1.4m1.6 0h1.4m2.1 0h1.4m-26.9 0.5h1.4m10.1 0h1.4m10.1 0h1.4m18.6 0h1.4m-43.9 0.5h1.4m-0.9 0h1.4m2.1 0h1.4m3.6 0h1.4m1.6 0h1.4m2.1 0h1.4m0.1 0h1.4m2.6 0h1.4m2.6 0h1.4m-27.4 0.5h1.4m8.1 0h1.4m-0.4 0h1.4m5.1 0h1.4m3.1 0h1.4m0.1 0h1.4m-0.4 0h1.4m6.6 0h1.4m1.6 0h1.4m-36.4 0.5h1.4m2.1 0h1.4m1.6 0h1.4m3.1 0h1.4m4.6 0h1.4m3.1 0h1.4m-0.4 0h1.4m1.6 0h1.4m-25.9 0.5h1.4m3.6 0h1.4m0.1 0h1.4m6.1 0h1.4m2.6 0h1.4m9.1 0h1.4m-28.4 0.5h1.4m0.6 0h1.4m6.6 0h1.4m0.1 0h1.4m2.1 0h1.4m5.6 0h1.4m-0.9 0h1.4m5.6 0h1.4m7.1 0h1.4m-39.4 0.5h1.4m1.1 0h1.4m0.1 0h1.4m1.1 0h1.4m6.1 0h1.4m0.6 0h1.4m2.6 0h1.4m3.1 0h1.4m-28.4 0.5h1.4m0.1 0h1.4m1.6 0h1.4m13.6 0h1.4m1.6 0h1.4m0.1 0h1.4m-21.9 0.5h1.4m0.6 0h1.4m-0.4 0h1.4m9.1 0h1.4m5.6 0h1.4m14.1 0h1.4m-37.9 0.5h1.4m1.6 0h1.4m0.6 0h1.4m-0.9 0h1.4m1.6 0h1.4m2.6 0h1.4m3.1 0h1.4m1.1 0h1.4m0.6 0h1.4m-0.9 0h1.4m-24.4 0.5h1.4m2.1 0h1.4m1.1 0h1.4m1.1 0h1.4m3.1 0h1.4m5.1 0h1.4m0.6 0h1.4m0.6 0h1.4m-0.4 0h1.4m-0.9 0h1.4m10.6 0h1.4m-28.4 0.5h1.4m1.6 0h1.4m3.1 0h1.4m-0.9 0h1.4m-0.4 0h1.4m4.6 0h1.4m8.1 0h1.4m6.1 0h1.4m-41.4 0.5h1.4m-0.4 0h1.4m0.1 0h1.4m0.6 0h1.4m-0.9 0h1.4m1.6 0h1.4m-0.9 0h1.4m1.6 0h1.4m-0.4 0h1.4m1.1 0h1.4m0.1 0h1.4m1.1 0h1.4m-0.4 0h1.4m-0.9 0h1.4m-25.4 0.5h1.4m1.1 0h1.4m1.6 0h1.4m-0.4 0h1.4m-0.4 0h1.4m0.6 0h1.4m3.6 0h1.4m3.1 0h1.4m-0.9 0h1.4m-0.9 0h1.4m-0.9 0h1.4m-0.9 0h1.4m-0.9 0h1.4m-0.9 0h1.4m-0.4 0h1.4m-0.4 0h1.4m1.1 0h1.4m-0.9 0h1.4m-27.9 0.5h1.4m-0.4 0h1.4m0.1 0h1.4m4.1 0h1.4m-0.9 0h1.4m0.6 0h1.4m0.1 0h1.4m-0.4 0h1.4m6.1 0h1.4m-0.4 0h1.4m-0.9 0h1.4m0.6 0h1.4m0.6 0h1.4m2.1 0h1.4m-30.4 0.5h1.4m-0.9 0h1.4m-0.4 0h1.4m1.1 0h1.4m-0.4 0h1.4m0.1 0h1.4m-0.9 0h1.4m4.6 0h1.4m-0.4 0h1.4m-0.9 0h1.4m-0.9 0h1.4m-0.9 0h1.4m-0.9 0h1.4m-0.4 0h1.4m-0.9 0h1.4m-0.9 0h1.4m-0.9 0h1.4m0.6 0h1.4m-0.9 0h1.4m-0.4 0h1.4m-0.9 0h1.4m-0.4 0h1.4m0.6 0h1.4m-27.9 0.5h1.4m-0.9 0h1.4m1.1 0h1.4m-0.9 0h1.4m-0.9 0h1.4m-0.4 0h1.4m0.1 0h1.4m-0.4 0h1.4m-0.9 0h1.4m0.6 0h1.4m-0.4 0h1.4m-0.9 0h1.4m-0.4 0h1.4m-0.9 0h1.4m-0.9 0h1.4m-0.4 0h1.4m-0.9 0h1.4m-0.9 0h1.4m-0.4 0h1.4m0.1 0h1.4m2.6 0h1.4m-0.4 0h1.4m0.6 0h1.4m-0.9 0h1.4m2.1 0h1.4m-28.9 0.5h1.4m1.1 0h1.4m-0.4 0h1.4m-0.4 0h1.4m-0.9 0h1.4m-0.4 0h1.4m0.6 0h1.4m-0.9 0h1.4m-0.4 0h1.4m2.1 0h1.4m-0.4 0h1.4m0.6 0h1.4m0.1 0h1.4m-0.9 0h1.4m-0.4 0h1.4m-0.4 0h1.4m1.1 0h1.4m-0.9 0h1.4m1.1 0h1.4m-28.4 0.5h1.4m-0.9 0h1.4m-0.9 0h1.4m-0.4 0h1.4m2.6 0h1.4m-0.9 0h1.4m3.6 0h1.4m-0.9 0h1.4m0.6 0h1.4m-0.4 0h1.4m0.6 0h1.4m-0.9 0h1.4m-0.9 0h1.4m-0.9 0h1.4m-0.9 0h1.4m-0.4 0h1.4m-0.4 0h1.4m1.1 0h1.4m0.1 0h1.4m-0.4 0h1.4m1.1 0h1.4m7.1 0h1.4m5.1 0h1.4m-44.4 0.5h1.4m0.1 0h1.4m-0.4 0h1.4m-0.9 0h1.4m2.1 0h1.4m-0.9 0h1.4m0.1 0h1.4m-0.4 0h1.4m-0.4 0h1.4m-0.9 0h1.4m-0.4 0h1.4m-0.9 0h1.4m-0.4 0h1.4m-0.4 0h1.4m3.6 0h1.4m1.1 0h1.4m-0.9 0h1.4m0.1 0h1.4m8.6 0h1.4m-35.9 0.5h1.4m1.1 0h1.4m-0.9 0h1.4m2.1 0h1.4m-0.9 0h1.4m-0.9 0h1.4m-0.9 0h1.4m1.1 0h1.4m5.6 0h1.4m-0.9 0h1.4m-0.9 0h1.4m-0.9 0h1.4m-0.9 0h1.4m-0.4 0h1.4m0.1 0h1.4m0.1 0h1.4m-0.4 0h1.4m0.6 0h1.4m-26.9 0.5h1.4m-0.9 0h1.4m1.1 0h1.4m-0.9 0h1.4m1.1 0h1.4m0.6 0h1.4m0.1 0h1.4m0.6 0h1.4m0.6 0h1.4m1.1 0h1.4m0.6 0h1.4m0.6 0h1.4m-0.9 0h1.4m3.1 0h1.4m-26.4 0.5h1.4m-0.9 0h1.4m-0.4 0h1.4m1.1 0h1.4m-0.9 0h1.4m-0.4 0h1.4m1.6 0h1.4m0.1 0h1.4m2.6 0h1.4m0.1 0h1.4m-0.9 0h1.4m1.1 0h1.4m1.6 0h1.4m1.6 0h1.4m-0.4 0h1.4m4.6 0h1.4m0.6 0h1.4m-35.4 0.5h1.4m-0.9 0h1.4m-0.9 0h1.4m0.6 0h1.4m-0.4 0h1.4m-0.9 0h1.4m-0.9 0h1.4m-0.4 0h1.4m-0.4 0h1.4m-0.9 0h1.4m1.1 0h1.4m0.1 0h1.4m0.1 0h1.4m-0.9 0h1.4m0.1 0h1.4m-0.9 0h1.4m-0.9 0h1.4m-0.9 0h1.4m0.1 0h1.4m-0.4 0h1.4m-0.9 0h1.4m0.6 0h1.4m-0.4 0h1.4m-0.9 0h1.4m-0.9 0h1.4m-0.4 0h1.4m-23.4 0.5h1.4m5.1 0h1.4m-0.9 0h1.4m-0.9 0h1.4m-0.9 0h1.4m0.1 0h1.4m4.6 0h1.4m1.6 0h1.4m-0.4 0h1.4m2.6 0h1.4m-25.9 0.5h1.4m-0.4 0h1.4m2.1 0h1.4m0.6 0h1.4m1.1 0h1.4m0.1 0h1.4m-0.9 0h1.4m-0.4 0h1.4m-0.9 0h1.4m-0.4 0h1.4m0.1 0h1.4m2.6 0h1.4m-0.4 0h1.4m-0.9 0h1.4m-0.9 0h1.4m0.1 0h1.4m1.1 0h1.4m-0.9 0h1.4m-25.9 0.5h1.4m-0.9 0h1.4m6.1 0h1.4m-0.9 0h1.4m-0.9 0h1.4m3.6 0h1.4m0.6 0h1.4m0.1 0h1.4m-0.4 0h1.4m-0.4 0h1.4m0.6 0h1.4m-0.4 0h1.4m14.1 0h1.4m-41.9 0.5h1.4m0.1 0h1.4m0.1 0h1.4m-0.4 0h1.4m-0.9 0h1.4m0.1 0h1.4m0.1 0h1.4m-0.4 0h1.4m-0.9 0h1.4m-0.9 0h1.4m-0.9 0h1.4m0.6 0h1.4m0.6 0h1.4m-0.9 0h1.4m2.1 0h1.4m0.1 0h1.4m0.1 0h1.4m0.1 0h1.4m-0.4 0h1.4m-24.9 0.5h1.4m-0.9 0h1.4m-0.4 0h1.4m-0.9 0h1.4m0.6 0h1.4m-0.9 0h1.4m-0.4 0h1.4m1.1 0h1.4m-0.4 0h1.4m-0.4 0h1.4m-0.9 0h1.4m1.6 0h1.4m-0.9 0h1.4m-0.9 0h1.4m2.6 0h1.4m-0.4 0h1.4m0.1 0h1.4m0.1 0h1.4m2.1 0h1.4m2.1 0h1.4m-29.9 0.5h1.4m-0.4 0h1.4m3.1 0h1.4m0.1 0h1.4m2.1 0h1.4m0.1 0h1.4m0.6 0h1.4m-0.9 0h1.4m1.6 0h1.4m-0.9 0h1.4m2.1 0h1.4m-0.4 0h1.4m1.6 0h1.4m6.1 0.5h1.4m-8.4 0.5h1.4m14.6 0.5h1.4m-0.9 0h1.4" stroke="#ff1a1a" stroke-width="1.4" fill="none" stroke-opacity="0.9" transform="translate(0 0.5)"/>
<path d="M91 457.9H252.2" stroke="#7a7a7a" stroke-width="1.4"/>
<path d="M117.5 456.3h4.6l-2.3 3.6zM125.1 456.3h4.6l-2.3 3.6zM133.0 456.3h4.6l-2.3 3.6zM141.0 456.3h4.6l-2.3 3.6zM149.1 456.3h4.6l-2.3 3.6zM117.5 464.0h4.6l-2.3 3.6zM125.1 464.0h4.6l-2.3 3.6zM133.0 464.0h4.6l-2.3 3.6zM141.0 464.0h4.6l-2.3 3.6zM149.1 464.0h4.6l-2.3 3.6zM117.5 471.2h4.6l-2.3 3.6zM125.1 471.2h4.6l-2.3 3.6zM133.0 471.2h4.6l-2.3 3.6zM141.0 471.2h4.6l-2.3 3.6zM149.1 471.2h4.6l-2.3 3.6zM117.5 479.3h4.6l-2.3 3.6zM125.1 479.3h4.6l-2.3 3.6zM133.0 479.3h4.6l-2.3 3.6zM141.0 479.3h4.6l-2.3 3.6zM149.1 479.3h4.6l-2.3 3.6zM133.0 487.0h4.6l-2.3 3.6zM141.0 487.0h4.6l-2.3 3.6zM149.1 487.0h4.6l-2.3 3.6zM117.5 494.7h4.6l-2.3 3.6zM125.1 494.7h4.6l-2.3 3.6zM133.0 494.7h4.6l-2.3 3.6zM141.0 494.7h4.6l-2.3 3.6zM149.1 494.7h4.6l-2.3 3.6zM125.1 502.2h4.6l-2.3 3.6zM141.0 502.2h4.6l-2.3 3.6zM149.1 502.2h4.6l-2.3 3.6z" fill="#f39c12" stroke="#b06a00" stroke-width="0.4"/>
<rect x="52.6" y="373.7" width="199.6" height="209.1" fill="none" stroke="#8a8a8a" stroke-width="1.25"/>
<path d="M90.3 582.8v-2.5M90.3 373.7v2.5M155.1 582.8v-2.5M155.1 373.7v2.5M220 582.8v-2.5M220 373.7v2.5M52.6 561.9h2.5M252.2 561.9h-2.5M52.6 536h2.5M252.2 536h-2.5M52.6 510.1h2.5M252.2 510.1h-2.5M52.6 484.1h2.5M252.2 484.1h-2.5M52.6 458.2h2.5M252.2 458.2h-2.5M52.6 432.3h2.5M252.2 432.3h-2.5M52.6 406.3h2.5M252.2 406.3h-2.5M52.6 380.4h2.5M252.2 380.4h-2.5" stroke="#8a8a8a" stroke-width="1.2" fill="none"/>
<text x="90.3" y="596.9" font-size="11" text-anchor="middle" font-weight="normal" fill="#262626" >0</text>
<text x="155.1" y="596.9" font-size="11" text-anchor="middle" font-weight="normal" fill="#262626" >50</text>
<text x="220" y="596.9" font-size="11" text-anchor="middle" font-weight="normal" fill="#262626" >100</text>
<text x="48.1" y="565.8" font-size="11" text-anchor="end" font-weight="normal" fill="#262626" >&#8722;80</text>
<text x="48.1" y="539.9" font-size="11" text-anchor="end" font-weight="normal" fill="#262626" >&#8722;60</text>
<text x="48.1" y="514" font-size="11" text-anchor="end" font-weight="normal" fill="#262626" >&#8722;40</text>
<text x="48.1" y="488" font-size="11" text-anchor="end" font-weight="normal" fill="#262626" >&#8722;20</text>
<text x="48.1" y="462.1" font-size="11" text-anchor="end" font-weight="normal" fill="#262626" >0</text>
<text x="48.1" y="436.2" font-size="11" text-anchor="end" font-weight="normal" fill="#262626" >20</text>
<text x="48.1" y="410.2" font-size="11" text-anchor="end" font-weight="normal" fill="#262626" >40</text>
<text x="48.1" y="384.3" font-size="11" text-anchor="end" font-weight="normal" fill="#262626" >60</text>
<text transform="translate(23.7,478.5) rotate(-90)" font-size="12" text-anchor="middle" fill="#262626" textLength="37.8" lengthAdjust="spacingAndGlyphs">Y (km)</text>
<text x="152.4" y="611" font-size="12" text-anchor="middle" fill="#262626" textLength="37.5" lengthAdjust="spacingAndGlyphs">X (km)</text></svg></body></html>
